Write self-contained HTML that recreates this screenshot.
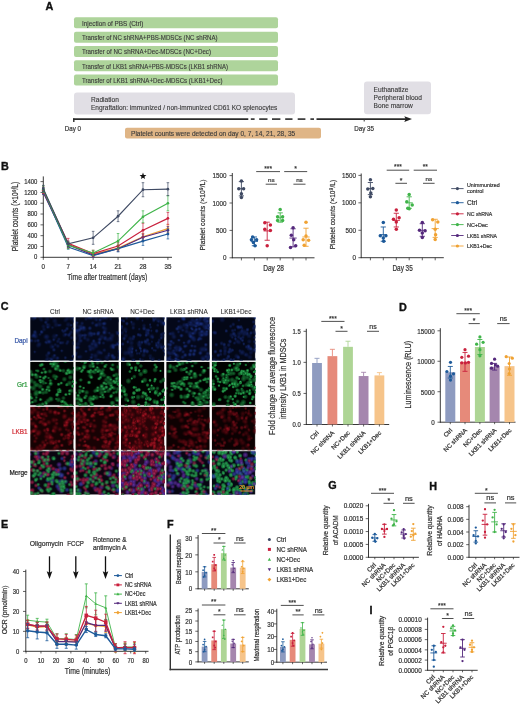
<!DOCTYPE html>
<html><head><meta charset="utf-8"><style>
html,body{margin:0;padding:0;background:#fff;width:520px;height:706px;overflow:hidden;}
svg{display:block;font-family:"Liberation Sans", sans-serif;will-change:transform;filter:blur(0.3px);}
</style></head><body>
<svg width="520" height="706" viewBox="0 0 520 706" font-family='"Liberation Sans", sans-serif'><defs><filter id="bl" x="-5%" y="-5%" width="110%" height="110%"><feGaussianBlur stdDeviation="0.5"/></filter><radialGradient id="db"><stop offset="0" stop-color="#2440a0"/><stop offset="0.55" stop-color="#13266a"/><stop offset="1" stop-color="#13266a" stop-opacity="0"/></radialGradient><radialGradient id="dd"><stop offset="0" stop-color="#182e7c"/><stop offset="0.55" stop-color="#0d1a4c"/><stop offset="1" stop-color="#0d1a4c" stop-opacity="0"/></radialGradient><radialGradient id="gb"><stop offset="0" stop-color="#40c46c"/><stop offset="0.55" stop-color="#178038"/><stop offset="1" stop-color="#178038" stop-opacity="0"/></radialGradient><radialGradient id="gd"><stop offset="0" stop-color="#25984c"/><stop offset="0.55" stop-color="#0d5e26"/><stop offset="1" stop-color="#0d5e26" stop-opacity="0"/></radialGradient><radialGradient id="rb"><stop offset="0" stop-color="#c01c2c"/><stop offset="0.55" stop-color="#780a16"/><stop offset="1" stop-color="#780a16" stop-opacity="0"/></radialGradient><radialGradient id="rd"><stop offset="0" stop-color="#8c0e1a"/><stop offset="0.55" stop-color="#4a050c"/><stop offset="1" stop-color="#4a050c" stop-opacity="0"/></radialGradient><radialGradient id="mp"><stop offset="0" stop-color="#7a3cb8"/><stop offset="0.55" stop-color="#44207e"/><stop offset="1" stop-color="#44207e" stop-opacity="0"/></radialGradient><radialGradient id="mr"><stop offset="0" stop-color="#c02a5a"/><stop offset="0.55" stop-color="#781236"/><stop offset="1" stop-color="#781236" stop-opacity="0"/></radialGradient><radialGradient id="mg"><stop offset="0" stop-color="#3cb86a"/><stop offset="0.55" stop-color="#18803c"/><stop offset="1" stop-color="#18803c" stop-opacity="0"/></radialGradient><radialGradient id="mb"><stop offset="0" stop-color="#4050b8"/><stop offset="0.55" stop-color="#222c84"/><stop offset="1" stop-color="#222c84" stop-opacity="0"/></radialGradient><clipPath id="cp11"><rect x="0" y="0" width="43.2" height="43.3"/></clipPath><clipPath id="cp12"><rect x="0" y="0" width="43.2" height="43.3"/></clipPath><clipPath id="cp13"><rect x="0" y="0" width="43.2" height="43.3"/></clipPath><clipPath id="cp14"><rect x="0" y="0" width="43.2" height="43.3"/></clipPath><clipPath id="cp15"><rect x="0" y="0" width="43.2" height="43.3"/></clipPath><clipPath id="cp21"><rect x="0" y="0" width="43.2" height="43.3"/></clipPath><clipPath id="cp22"><rect x="0" y="0" width="43.2" height="43.3"/></clipPath><clipPath id="cp23"><rect x="0" y="0" width="43.2" height="43.3"/></clipPath><clipPath id="cp24"><rect x="0" y="0" width="43.2" height="43.3"/></clipPath><clipPath id="cp25"><rect x="0" y="0" width="43.2" height="43.3"/></clipPath><clipPath id="cp31"><rect x="0" y="0" width="43.2" height="43.3"/></clipPath><clipPath id="cp32"><rect x="0" y="0" width="43.2" height="43.3"/></clipPath><clipPath id="cp33"><rect x="0" y="0" width="43.2" height="43.3"/></clipPath><clipPath id="cp34"><rect x="0" y="0" width="43.2" height="43.3"/></clipPath><clipPath id="cp35"><rect x="0" y="0" width="43.2" height="43.3"/></clipPath><clipPath id="cp41"><rect x="0" y="0" width="43.2" height="43.3"/></clipPath><clipPath id="cp42"><rect x="0" y="0" width="43.2" height="43.3"/></clipPath><clipPath id="cp43"><rect x="0" y="0" width="43.2" height="43.3"/></clipPath><clipPath id="cp44"><rect x="0" y="0" width="43.2" height="43.3"/></clipPath><clipPath id="cp45"><rect x="0" y="0" width="43.2" height="43.3"/></clipPath></defs>
<text x="45.60" y="9.80" font-size="10.80" stroke="#111" stroke-width="0.35" fill="#111" font-weight="bold">A</text>
<rect x="74.00" y="17.30" width="204.00" height="11.00" fill="#aed49b" rx="2"/>
<text x="82.00" y="25.70" font-size="6.60" stroke="#3a3a3a" stroke-width="0.12" fill="#3a3a3a" textLength="61.30" lengthAdjust="spacingAndGlyphs">Injection of PBS (Ctrl)</text>
<rect x="74.00" y="31.70" width="204.00" height="11.00" fill="#aed49b" rx="2"/>
<text x="82.00" y="40.10" font-size="6.60" stroke="#3a3a3a" stroke-width="0.12" fill="#3a3a3a" textLength="135.60" lengthAdjust="spacingAndGlyphs">Transfer of NC shRNA+PBS-MDSCs (NC shRNA)</text>
<rect x="74.00" y="46.00" width="204.00" height="11.00" fill="#aed49b" rx="2"/>
<text x="82.00" y="54.40" font-size="6.60" stroke="#3a3a3a" stroke-width="0.12" fill="#3a3a3a" textLength="129.00" lengthAdjust="spacingAndGlyphs">Transfer of NC shRNA+Dec-MDSCs (NC+Dec)</text>
<rect x="74.00" y="60.30" width="204.00" height="11.00" fill="#aed49b" rx="2"/>
<text x="82.00" y="68.70" font-size="6.60" stroke="#3a3a3a" stroke-width="0.12" fill="#3a3a3a" textLength="146.00" lengthAdjust="spacingAndGlyphs">Transfer of LKB1 shRNA+PBS-MDSCs (LKB1 shRNA)</text>
<rect x="74.00" y="74.60" width="204.00" height="11.00" fill="#aed49b" rx="2"/>
<text x="82.00" y="83.00" font-size="6.60" stroke="#3a3a3a" stroke-width="0.12" fill="#3a3a3a" textLength="140.50" lengthAdjust="spacingAndGlyphs">Transfer of LKB1 shRNA+Dec-MDSCs (LKB1+Dec)</text>
<rect x="74.00" y="92.50" width="221.00" height="21.90" fill="#e1dfe5" rx="3"/>
<text x="91.00" y="101.50" font-size="6.60" stroke="#3a3a3a" stroke-width="0.12" fill="#3a3a3a">Radiation</text>
<text x="91.00" y="109.60" font-size="6.60" stroke="#3a3a3a" stroke-width="0.12" fill="#3a3a3a" textLength="186.40" lengthAdjust="spacingAndGlyphs">Engraftation: immunized / non-immunized CD61 KO splenocytes</text>
<rect x="364.00" y="81.50" width="67.00" height="32.80" fill="#e1dfe5" rx="3"/>
<text x="373.60" y="92.20" font-size="6.60" stroke="#3a3a3a" stroke-width="0.12" fill="#3a3a3a">Euthanatize</text>
<text x="373.60" y="99.90" font-size="6.60" stroke="#3a3a3a" stroke-width="0.12" fill="#3a3a3a" textLength="48.40" lengthAdjust="spacingAndGlyphs">Peripheral blood</text>
<text x="373.60" y="107.50" font-size="6.60" stroke="#3a3a3a" stroke-width="0.12" fill="#3a3a3a">Bone marrow</text>
<line x1="73.00" y1="119.10" x2="248.30" y2="119.10" stroke="#2a2a2a" stroke-width="1.6"/>
<line x1="250.80" y1="119.10" x2="254.60" y2="119.10" stroke="#2a2a2a" stroke-width="1.6"/>
<line x1="259.20" y1="119.10" x2="267.50" y2="119.10" stroke="#2a2a2a" stroke-width="1.6"/>
<line x1="272.00" y1="119.10" x2="280.40" y2="119.10" stroke="#2a2a2a" stroke-width="1.6"/>
<line x1="285.20" y1="119.10" x2="292.50" y2="119.10" stroke="#2a2a2a" stroke-width="1.6"/>
<line x1="297.70" y1="119.10" x2="305.40" y2="119.10" stroke="#2a2a2a" stroke-width="1.6"/>
<line x1="310.40" y1="119.10" x2="314.00" y2="119.10" stroke="#2a2a2a" stroke-width="1.6"/>
<line x1="316.50" y1="119.10" x2="406.00" y2="119.10" stroke="#2a2a2a" stroke-width="1.6"/>
<path d="M404.3,116.2 L412,119.1 L404.3,122 L405.6,119.1Z" fill="#222"/>
<line x1="73.80" y1="118.50" x2="73.80" y2="122.00" stroke="#2a2a2a" stroke-width="1.4"/>
<line x1="364.20" y1="119.00" x2="364.20" y2="121.50" stroke="#333" stroke-width="1.0"/>
<text x="64.80" y="130.80" font-size="7.00" stroke="#333" stroke-width="0.2" fill="#333" textLength="16.20" lengthAdjust="spacingAndGlyphs">Day 0</text>
<text x="354.20" y="130.60" font-size="7.00" stroke="#333" stroke-width="0.2" fill="#333" textLength="19.80" lengthAdjust="spacingAndGlyphs">Day 35</text>
<rect x="125.00" y="127.70" width="196.00" height="10.80" fill="#dfb586" rx="2"/>
<text x="131.00" y="135.50" font-size="6.60" stroke="#3a3a3a" stroke-width="0.12" fill="#3a3a3a" textLength="164.20" lengthAdjust="spacingAndGlyphs">Platelet counts were detected on day 0, 7, 14, 21, 28, 35</text>
<text x="1.00" y="170.30" font-size="10.80" stroke="#111" stroke-width="0.35" fill="#111" font-weight="bold">B</text>
<line x1="43.30" y1="176.40" x2="43.30" y2="257.70" stroke="#222" stroke-width="0.9"/>
<line x1="42.90" y1="257.30" x2="172.00" y2="257.30" stroke="#222" stroke-width="0.9"/>
<line x1="40.50" y1="257.30" x2="43.30" y2="257.30" stroke="#222" stroke-width="0.7"/>
<text x="37.40" y="259.48" font-size="7.44" stroke="#333" stroke-width="0.22" text-anchor="end" fill="#333" textLength="3.31" lengthAdjust="spacingAndGlyphs">0</text>
<line x1="40.50" y1="246.49" x2="43.30" y2="246.49" stroke="#222" stroke-width="0.7"/>
<text x="37.40" y="248.66" font-size="7.44" stroke="#333" stroke-width="0.22" text-anchor="end" fill="#333" textLength="9.93" lengthAdjust="spacingAndGlyphs">200</text>
<line x1="40.50" y1="235.67" x2="43.30" y2="235.67" stroke="#222" stroke-width="0.7"/>
<text x="37.40" y="237.85" font-size="7.44" stroke="#333" stroke-width="0.22" text-anchor="end" fill="#333" textLength="9.93" lengthAdjust="spacingAndGlyphs">400</text>
<line x1="40.50" y1="224.86" x2="43.30" y2="224.86" stroke="#222" stroke-width="0.7"/>
<text x="37.40" y="227.03" font-size="7.44" stroke="#333" stroke-width="0.22" text-anchor="end" fill="#333" textLength="9.93" lengthAdjust="spacingAndGlyphs">600</text>
<line x1="40.50" y1="214.04" x2="43.30" y2="214.04" stroke="#222" stroke-width="0.7"/>
<text x="37.40" y="216.22" font-size="7.44" stroke="#333" stroke-width="0.22" text-anchor="end" fill="#333" textLength="9.93" lengthAdjust="spacingAndGlyphs">800</text>
<line x1="40.50" y1="203.23" x2="43.30" y2="203.23" stroke="#222" stroke-width="0.7"/>
<text x="37.40" y="205.41" font-size="7.44" stroke="#333" stroke-width="0.22" text-anchor="end" fill="#333" textLength="13.24" lengthAdjust="spacingAndGlyphs">1000</text>
<line x1="40.50" y1="192.41" x2="43.30" y2="192.41" stroke="#222" stroke-width="0.7"/>
<text x="37.40" y="194.59" font-size="7.44" stroke="#333" stroke-width="0.22" text-anchor="end" fill="#333" textLength="13.24" lengthAdjust="spacingAndGlyphs">1200</text>
<line x1="40.50" y1="181.60" x2="43.30" y2="181.60" stroke="#222" stroke-width="0.7"/>
<text x="37.40" y="183.78" font-size="7.44" stroke="#333" stroke-width="0.22" text-anchor="end" fill="#333" textLength="13.24" lengthAdjust="spacingAndGlyphs">1400</text>
<line x1="43.30" y1="257.30" x2="43.30" y2="259.90" stroke="#222" stroke-width="0.7"/>
<text x="43.30" y="269.30" font-size="7.44" stroke="#333" stroke-width="0.22" text-anchor="middle" fill="#333" textLength="3.45" lengthAdjust="spacingAndGlyphs">0</text>
<line x1="68.22" y1="257.30" x2="68.22" y2="259.90" stroke="#222" stroke-width="0.7"/>
<text x="68.22" y="269.30" font-size="7.44" stroke="#333" stroke-width="0.22" text-anchor="middle" fill="#333" textLength="3.45" lengthAdjust="spacingAndGlyphs">7</text>
<line x1="93.14" y1="257.30" x2="93.14" y2="259.90" stroke="#222" stroke-width="0.7"/>
<text x="93.14" y="269.30" font-size="7.44" stroke="#333" stroke-width="0.22" text-anchor="middle" fill="#333" textLength="6.90" lengthAdjust="spacingAndGlyphs">14</text>
<line x1="118.06" y1="257.30" x2="118.06" y2="259.90" stroke="#222" stroke-width="0.7"/>
<text x="118.06" y="269.30" font-size="7.44" stroke="#333" stroke-width="0.22" text-anchor="middle" fill="#333" textLength="6.90" lengthAdjust="spacingAndGlyphs">21</text>
<line x1="142.98" y1="257.30" x2="142.98" y2="259.90" stroke="#222" stroke-width="0.7"/>
<text x="142.98" y="269.30" font-size="7.44" stroke="#333" stroke-width="0.22" text-anchor="middle" fill="#333" textLength="6.90" lengthAdjust="spacingAndGlyphs">28</text>
<line x1="167.90" y1="257.30" x2="167.90" y2="259.90" stroke="#222" stroke-width="0.7"/>
<text x="167.90" y="269.30" font-size="7.44" stroke="#333" stroke-width="0.22" text-anchor="middle" fill="#333" textLength="6.90" lengthAdjust="spacingAndGlyphs">35</text>
<text x="107.30" y="280.40" font-size="8.80" stroke="#333" stroke-width="0.22" text-anchor="middle" fill="#333" textLength="80.00" lengthAdjust="spacingAndGlyphs">Time after treatment (days)</text>
<text x="17.60" y="216.50" font-size="8.20" stroke="#333" stroke-width="0.22" text-anchor="middle" fill="#333" transform="rotate(-90 17.60 216.50)" textLength="69.50" lengthAdjust="spacingAndGlyphs">Platelet counts (×10⁹/L)</text>
<path d="M143.00,172.60 L143.89,174.98 L146.42,175.09 L144.44,176.67 L145.12,179.11 L143.00,177.71 L140.88,179.11 L141.56,176.67 L139.58,175.09 L142.11,174.98Z" fill="#111"/>
<line x1="43.30" y1="189.71" x2="43.30" y2="194.04" stroke="#f0a233" stroke-width="0.7"/>
<line x1="42.00" y1="189.71" x2="44.60" y2="189.71" stroke="#f0a233" stroke-width="0.7"/>
<line x1="42.00" y1="194.04" x2="44.60" y2="194.04" stroke="#f0a233" stroke-width="0.7"/>
<line x1="68.22" y1="242.16" x2="68.22" y2="246.49" stroke="#f0a233" stroke-width="0.7"/>
<line x1="66.92" y1="242.16" x2="69.52" y2="242.16" stroke="#f0a233" stroke-width="0.7"/>
<line x1="66.92" y1="246.49" x2="69.52" y2="246.49" stroke="#f0a233" stroke-width="0.7"/>
<line x1="93.14" y1="251.89" x2="93.14" y2="256.22" stroke="#f0a233" stroke-width="0.7"/>
<line x1="91.84" y1="251.89" x2="94.44" y2="251.89" stroke="#f0a233" stroke-width="0.7"/>
<line x1="91.84" y1="256.22" x2="94.44" y2="256.22" stroke="#f0a233" stroke-width="0.7"/>
<line x1="118.06" y1="245.40" x2="118.06" y2="250.81" stroke="#f0a233" stroke-width="0.7"/>
<line x1="116.76" y1="245.40" x2="119.36" y2="245.40" stroke="#f0a233" stroke-width="0.7"/>
<line x1="116.76" y1="250.81" x2="119.36" y2="250.81" stroke="#f0a233" stroke-width="0.7"/>
<line x1="142.98" y1="233.51" x2="142.98" y2="240.00" stroke="#f0a233" stroke-width="0.7"/>
<line x1="141.68" y1="233.51" x2="144.28" y2="233.51" stroke="#f0a233" stroke-width="0.7"/>
<line x1="141.68" y1="240.00" x2="144.28" y2="240.00" stroke="#f0a233" stroke-width="0.7"/>
<line x1="167.90" y1="224.86" x2="167.90" y2="232.43" stroke="#f0a233" stroke-width="0.7"/>
<line x1="166.60" y1="224.86" x2="169.20" y2="224.86" stroke="#f0a233" stroke-width="0.7"/>
<line x1="166.60" y1="232.43" x2="169.20" y2="232.43" stroke="#f0a233" stroke-width="0.7"/>
<polyline points="43.30,191.87 68.22,244.32 93.14,254.06 118.06,248.11 142.98,236.75 167.90,228.64" fill="none" stroke="#f0a233" stroke-width="1.15"/>
<circle cx="43.30" cy="191.87" r="1.35" fill="#f0a233"/>
<circle cx="68.22" cy="244.32" r="1.35" fill="#f0a233"/>
<circle cx="93.14" cy="254.06" r="1.35" fill="#f0a233"/>
<circle cx="118.06" cy="248.11" r="1.35" fill="#f0a233"/>
<circle cx="142.98" cy="236.75" r="1.35" fill="#f0a233"/>
<circle cx="167.90" cy="228.64" r="1.35" fill="#f0a233"/>
<line x1="43.30" y1="190.25" x2="43.30" y2="194.58" stroke="#54287c" stroke-width="0.7"/>
<line x1="42.00" y1="190.25" x2="44.60" y2="190.25" stroke="#54287c" stroke-width="0.7"/>
<line x1="42.00" y1="194.58" x2="44.60" y2="194.58" stroke="#54287c" stroke-width="0.7"/>
<line x1="68.22" y1="242.70" x2="68.22" y2="247.03" stroke="#54287c" stroke-width="0.7"/>
<line x1="66.92" y1="242.70" x2="69.52" y2="242.70" stroke="#54287c" stroke-width="0.7"/>
<line x1="66.92" y1="247.03" x2="69.52" y2="247.03" stroke="#54287c" stroke-width="0.7"/>
<line x1="93.14" y1="252.97" x2="93.14" y2="257.30" stroke="#54287c" stroke-width="0.7"/>
<line x1="91.84" y1="252.97" x2="94.44" y2="252.97" stroke="#54287c" stroke-width="0.7"/>
<line x1="91.84" y1="257.30" x2="94.44" y2="257.30" stroke="#54287c" stroke-width="0.7"/>
<line x1="118.06" y1="245.95" x2="118.06" y2="251.35" stroke="#54287c" stroke-width="0.7"/>
<line x1="116.76" y1="245.95" x2="119.36" y2="245.95" stroke="#54287c" stroke-width="0.7"/>
<line x1="116.76" y1="251.35" x2="119.36" y2="251.35" stroke="#54287c" stroke-width="0.7"/>
<line x1="142.98" y1="234.05" x2="142.98" y2="240.54" stroke="#54287c" stroke-width="0.7"/>
<line x1="141.68" y1="234.05" x2="144.28" y2="234.05" stroke="#54287c" stroke-width="0.7"/>
<line x1="141.68" y1="240.54" x2="144.28" y2="240.54" stroke="#54287c" stroke-width="0.7"/>
<line x1="167.90" y1="226.48" x2="167.90" y2="234.05" stroke="#54287c" stroke-width="0.7"/>
<line x1="166.60" y1="226.48" x2="169.20" y2="226.48" stroke="#54287c" stroke-width="0.7"/>
<line x1="166.60" y1="234.05" x2="169.20" y2="234.05" stroke="#54287c" stroke-width="0.7"/>
<polyline points="43.30,192.41 68.22,244.86 93.14,255.14 118.06,248.65 142.98,237.29 167.90,230.26" fill="none" stroke="#54287c" stroke-width="1.15"/>
<circle cx="43.30" cy="192.41" r="1.35" fill="#54287c"/>
<circle cx="68.22" cy="244.86" r="1.35" fill="#54287c"/>
<circle cx="93.14" cy="255.14" r="1.35" fill="#54287c"/>
<circle cx="118.06" cy="248.65" r="1.35" fill="#54287c"/>
<circle cx="142.98" cy="237.29" r="1.35" fill="#54287c"/>
<circle cx="167.90" cy="230.26" r="1.35" fill="#54287c"/>
<line x1="43.30" y1="187.55" x2="43.30" y2="194.04" stroke="#1d5a9a" stroke-width="0.7"/>
<line x1="42.00" y1="187.55" x2="44.60" y2="187.55" stroke="#1d5a9a" stroke-width="0.7"/>
<line x1="42.00" y1="194.04" x2="44.60" y2="194.04" stroke="#1d5a9a" stroke-width="0.7"/>
<line x1="68.22" y1="244.86" x2="68.22" y2="249.19" stroke="#1d5a9a" stroke-width="0.7"/>
<line x1="66.92" y1="244.86" x2="69.52" y2="244.86" stroke="#1d5a9a" stroke-width="0.7"/>
<line x1="66.92" y1="249.19" x2="69.52" y2="249.19" stroke="#1d5a9a" stroke-width="0.7"/>
<line x1="93.14" y1="254.06" x2="93.14" y2="257.30" stroke="#1d5a9a" stroke-width="0.7"/>
<line x1="91.84" y1="254.06" x2="94.44" y2="254.06" stroke="#1d5a9a" stroke-width="0.7"/>
<line x1="91.84" y1="257.30" x2="94.44" y2="257.30" stroke="#1d5a9a" stroke-width="0.7"/>
<line x1="118.06" y1="245.40" x2="118.06" y2="251.89" stroke="#1d5a9a" stroke-width="0.7"/>
<line x1="116.76" y1="245.40" x2="119.36" y2="245.40" stroke="#1d5a9a" stroke-width="0.7"/>
<line x1="116.76" y1="251.89" x2="119.36" y2="251.89" stroke="#1d5a9a" stroke-width="0.7"/>
<line x1="142.98" y1="236.75" x2="142.98" y2="245.40" stroke="#1d5a9a" stroke-width="0.7"/>
<line x1="141.68" y1="236.75" x2="144.28" y2="236.75" stroke="#1d5a9a" stroke-width="0.7"/>
<line x1="141.68" y1="245.40" x2="144.28" y2="245.40" stroke="#1d5a9a" stroke-width="0.7"/>
<line x1="167.90" y1="229.18" x2="167.90" y2="238.92" stroke="#1d5a9a" stroke-width="0.7"/>
<line x1="166.60" y1="229.18" x2="169.20" y2="229.18" stroke="#1d5a9a" stroke-width="0.7"/>
<line x1="166.60" y1="238.92" x2="169.20" y2="238.92" stroke="#1d5a9a" stroke-width="0.7"/>
<polyline points="43.30,190.79 68.22,247.03 93.14,255.68 118.06,248.65 142.98,241.08 167.90,234.05" fill="none" stroke="#1d5a9a" stroke-width="1.15"/>
<circle cx="43.30" cy="190.79" r="1.35" fill="#1d5a9a"/>
<circle cx="68.22" cy="247.03" r="1.35" fill="#1d5a9a"/>
<circle cx="93.14" cy="255.68" r="1.35" fill="#1d5a9a"/>
<circle cx="118.06" cy="248.65" r="1.35" fill="#1d5a9a"/>
<circle cx="142.98" cy="241.08" r="1.35" fill="#1d5a9a"/>
<circle cx="167.90" cy="234.05" r="1.35" fill="#1d5a9a"/>
<line x1="43.30" y1="187.01" x2="43.30" y2="193.50" stroke="#c9203d" stroke-width="0.7"/>
<line x1="42.00" y1="187.01" x2="44.60" y2="187.01" stroke="#c9203d" stroke-width="0.7"/>
<line x1="42.00" y1="193.50" x2="44.60" y2="193.50" stroke="#c9203d" stroke-width="0.7"/>
<line x1="68.22" y1="238.38" x2="68.22" y2="248.11" stroke="#c9203d" stroke-width="0.7"/>
<line x1="66.92" y1="238.38" x2="69.52" y2="238.38" stroke="#c9203d" stroke-width="0.7"/>
<line x1="66.92" y1="248.11" x2="69.52" y2="248.11" stroke="#c9203d" stroke-width="0.7"/>
<line x1="93.14" y1="250.27" x2="93.14" y2="256.76" stroke="#c9203d" stroke-width="0.7"/>
<line x1="91.84" y1="250.27" x2="94.44" y2="250.27" stroke="#c9203d" stroke-width="0.7"/>
<line x1="91.84" y1="256.76" x2="94.44" y2="256.76" stroke="#c9203d" stroke-width="0.7"/>
<line x1="118.06" y1="242.70" x2="118.06" y2="249.19" stroke="#c9203d" stroke-width="0.7"/>
<line x1="116.76" y1="242.70" x2="119.36" y2="242.70" stroke="#c9203d" stroke-width="0.7"/>
<line x1="116.76" y1="249.19" x2="119.36" y2="249.19" stroke="#c9203d" stroke-width="0.7"/>
<line x1="142.98" y1="223.24" x2="142.98" y2="237.29" stroke="#c9203d" stroke-width="0.7"/>
<line x1="141.68" y1="223.24" x2="144.28" y2="223.24" stroke="#c9203d" stroke-width="0.7"/>
<line x1="141.68" y1="237.29" x2="144.28" y2="237.29" stroke="#c9203d" stroke-width="0.7"/>
<line x1="167.90" y1="212.42" x2="167.90" y2="224.32" stroke="#c9203d" stroke-width="0.7"/>
<line x1="166.60" y1="212.42" x2="169.20" y2="212.42" stroke="#c9203d" stroke-width="0.7"/>
<line x1="166.60" y1="224.32" x2="169.20" y2="224.32" stroke="#c9203d" stroke-width="0.7"/>
<polyline points="43.30,190.25 68.22,243.24 93.14,253.52 118.06,245.95 142.98,230.26 167.90,218.37" fill="none" stroke="#c9203d" stroke-width="1.15"/>
<circle cx="43.30" cy="190.25" r="1.35" fill="#c9203d"/>
<circle cx="68.22" cy="243.24" r="1.35" fill="#c9203d"/>
<circle cx="93.14" cy="253.52" r="1.35" fill="#c9203d"/>
<circle cx="118.06" cy="245.95" r="1.35" fill="#c9203d"/>
<circle cx="142.98" cy="230.26" r="1.35" fill="#c9203d"/>
<circle cx="167.90" cy="218.37" r="1.35" fill="#c9203d"/>
<line x1="43.30" y1="185.93" x2="43.30" y2="192.41" stroke="#3fb449" stroke-width="0.7"/>
<line x1="42.00" y1="185.93" x2="44.60" y2="185.93" stroke="#3fb449" stroke-width="0.7"/>
<line x1="42.00" y1="192.41" x2="44.60" y2="192.41" stroke="#3fb449" stroke-width="0.7"/>
<line x1="68.22" y1="242.16" x2="68.22" y2="248.65" stroke="#3fb449" stroke-width="0.7"/>
<line x1="66.92" y1="242.16" x2="69.52" y2="242.16" stroke="#3fb449" stroke-width="0.7"/>
<line x1="66.92" y1="248.65" x2="69.52" y2="248.65" stroke="#3fb449" stroke-width="0.7"/>
<line x1="93.14" y1="250.27" x2="93.14" y2="255.68" stroke="#3fb449" stroke-width="0.7"/>
<line x1="91.84" y1="250.27" x2="94.44" y2="250.27" stroke="#3fb449" stroke-width="0.7"/>
<line x1="91.84" y1="255.68" x2="94.44" y2="255.68" stroke="#3fb449" stroke-width="0.7"/>
<line x1="118.06" y1="233.51" x2="118.06" y2="248.65" stroke="#3fb449" stroke-width="0.7"/>
<line x1="116.76" y1="233.51" x2="119.36" y2="233.51" stroke="#3fb449" stroke-width="0.7"/>
<line x1="116.76" y1="248.65" x2="119.36" y2="248.65" stroke="#3fb449" stroke-width="0.7"/>
<line x1="142.98" y1="210.80" x2="142.98" y2="222.69" stroke="#3fb449" stroke-width="0.7"/>
<line x1="141.68" y1="210.80" x2="144.28" y2="210.80" stroke="#3fb449" stroke-width="0.7"/>
<line x1="141.68" y1="222.69" x2="144.28" y2="222.69" stroke="#3fb449" stroke-width="0.7"/>
<line x1="167.90" y1="195.66" x2="167.90" y2="210.80" stroke="#3fb449" stroke-width="0.7"/>
<line x1="166.60" y1="195.66" x2="169.20" y2="195.66" stroke="#3fb449" stroke-width="0.7"/>
<line x1="166.60" y1="210.80" x2="169.20" y2="210.80" stroke="#3fb449" stroke-width="0.7"/>
<polyline points="43.30,189.17 68.22,245.40 93.14,252.97 118.06,241.08 142.98,216.75 167.90,203.23" fill="none" stroke="#3fb449" stroke-width="1.15"/>
<circle cx="43.30" cy="189.17" r="1.35" fill="#3fb449"/>
<circle cx="68.22" cy="245.40" r="1.35" fill="#3fb449"/>
<circle cx="93.14" cy="252.97" r="1.35" fill="#3fb449"/>
<circle cx="118.06" cy="241.08" r="1.35" fill="#3fb449"/>
<circle cx="142.98" cy="216.75" r="1.35" fill="#3fb449"/>
<circle cx="167.90" cy="203.23" r="1.35" fill="#3fb449"/>
<line x1="43.30" y1="185.38" x2="43.30" y2="191.87" stroke="#3f4a63" stroke-width="0.7"/>
<line x1="42.00" y1="185.38" x2="44.60" y2="185.38" stroke="#3f4a63" stroke-width="0.7"/>
<line x1="42.00" y1="191.87" x2="44.60" y2="191.87" stroke="#3f4a63" stroke-width="0.7"/>
<line x1="68.22" y1="241.08" x2="68.22" y2="246.49" stroke="#3f4a63" stroke-width="0.7"/>
<line x1="66.92" y1="241.08" x2="69.52" y2="241.08" stroke="#3f4a63" stroke-width="0.7"/>
<line x1="66.92" y1="246.49" x2="69.52" y2="246.49" stroke="#3f4a63" stroke-width="0.7"/>
<line x1="93.14" y1="231.35" x2="93.14" y2="244.32" stroke="#3f4a63" stroke-width="0.7"/>
<line x1="91.84" y1="231.35" x2="94.44" y2="231.35" stroke="#3f4a63" stroke-width="0.7"/>
<line x1="91.84" y1="244.32" x2="94.44" y2="244.32" stroke="#3f4a63" stroke-width="0.7"/>
<line x1="118.06" y1="210.80" x2="118.06" y2="221.61" stroke="#3f4a63" stroke-width="0.7"/>
<line x1="116.76" y1="210.80" x2="119.36" y2="210.80" stroke="#3f4a63" stroke-width="0.7"/>
<line x1="116.76" y1="221.61" x2="119.36" y2="221.61" stroke="#3f4a63" stroke-width="0.7"/>
<line x1="142.98" y1="182.68" x2="142.98" y2="196.74" stroke="#3f4a63" stroke-width="0.7"/>
<line x1="141.68" y1="182.68" x2="144.28" y2="182.68" stroke="#3f4a63" stroke-width="0.7"/>
<line x1="141.68" y1="196.74" x2="144.28" y2="196.74" stroke="#3f4a63" stroke-width="0.7"/>
<line x1="167.90" y1="182.68" x2="167.90" y2="195.66" stroke="#3f4a63" stroke-width="0.7"/>
<line x1="166.60" y1="182.68" x2="169.20" y2="182.68" stroke="#3f4a63" stroke-width="0.7"/>
<line x1="166.60" y1="195.66" x2="169.20" y2="195.66" stroke="#3f4a63" stroke-width="0.7"/>
<polyline points="43.30,188.63 68.22,243.78 93.14,237.83 118.06,216.21 142.98,189.71 167.90,189.17" fill="none" stroke="#3f4a63" stroke-width="1.15"/>
<circle cx="43.30" cy="188.63" r="1.35" fill="#3f4a63"/>
<circle cx="68.22" cy="243.78" r="1.35" fill="#3f4a63"/>
<circle cx="93.14" cy="237.83" r="1.35" fill="#3f4a63"/>
<circle cx="118.06" cy="216.21" r="1.35" fill="#3f4a63"/>
<circle cx="142.98" cy="189.71" r="1.35" fill="#3f4a63"/>
<circle cx="167.90" cy="189.17" r="1.35" fill="#3f4a63"/>
<line x1="232.30" y1="173.00" x2="232.30" y2="258.20" stroke="#222" stroke-width="0.9"/>
<line x1="231.90" y1="257.80" x2="314.50" y2="257.80" stroke="#222" stroke-width="0.9"/>
<line x1="229.50" y1="257.80" x2="232.30" y2="257.80" stroke="#222" stroke-width="0.7"/>
<text x="226.50" y="260.33" font-size="7.88" stroke="#333" stroke-width="0.22" text-anchor="end" fill="#333" textLength="3.50" lengthAdjust="spacingAndGlyphs">0</text>
<line x1="229.50" y1="230.40" x2="232.30" y2="230.40" stroke="#222" stroke-width="0.7"/>
<text x="226.50" y="232.94" font-size="7.88" stroke="#333" stroke-width="0.22" text-anchor="end" fill="#333" textLength="10.51" lengthAdjust="spacingAndGlyphs">500</text>
<line x1="229.50" y1="203.00" x2="232.30" y2="203.00" stroke="#222" stroke-width="0.7"/>
<text x="226.50" y="205.53" font-size="7.88" stroke="#333" stroke-width="0.22" text-anchor="end" fill="#333" textLength="14.01" lengthAdjust="spacingAndGlyphs">1000</text>
<line x1="229.50" y1="175.60" x2="232.30" y2="175.60" stroke="#222" stroke-width="0.7"/>
<text x="226.50" y="178.13" font-size="7.88" stroke="#333" stroke-width="0.22" text-anchor="end" fill="#333" textLength="14.01" lengthAdjust="spacingAndGlyphs">1500</text>
<line x1="241.40" y1="257.80" x2="241.40" y2="260.40" stroke="#222" stroke-width="0.7"/>
<line x1="254.40" y1="257.80" x2="254.40" y2="260.40" stroke="#222" stroke-width="0.7"/>
<line x1="267.20" y1="257.80" x2="267.20" y2="260.40" stroke="#222" stroke-width="0.7"/>
<line x1="280.20" y1="257.80" x2="280.20" y2="260.40" stroke="#222" stroke-width="0.7"/>
<line x1="293.10" y1="257.80" x2="293.10" y2="260.40" stroke="#222" stroke-width="0.7"/>
<line x1="306.00" y1="257.80" x2="306.00" y2="260.40" stroke="#222" stroke-width="0.7"/>
<circle cx="241.40" cy="181.08" r="1.75" fill="#3f4a63"/>
<circle cx="238.80" cy="188.75" r="1.75" fill="#3f4a63"/>
<circle cx="243.60" cy="188.75" r="1.75" fill="#3f4a63"/>
<circle cx="241.40" cy="193.68" r="1.75" fill="#3f4a63"/>
<circle cx="241.40" cy="197.52" r="1.75" fill="#3f4a63"/>
<line x1="237.80" y1="188.75" x2="245.00" y2="188.75" stroke="#3f4a63" stroke-width="0.9"/>
<line x1="241.40" y1="181.63" x2="241.40" y2="195.88" stroke="#3f4a63" stroke-width="0.9"/>
<line x1="238.80" y1="181.63" x2="244.00" y2="181.63" stroke="#3f4a63" stroke-width="0.9"/>
<line x1="238.80" y1="195.88" x2="244.00" y2="195.88" stroke="#3f4a63" stroke-width="0.9"/>
<circle cx="252.60" cy="236.98" r="1.75" fill="#1d5a9a"/>
<circle cx="251.40" cy="239.72" r="1.75" fill="#1d5a9a"/>
<circle cx="256.60" cy="239.72" r="1.75" fill="#1d5a9a"/>
<circle cx="253.40" cy="242.46" r="1.75" fill="#1d5a9a"/>
<circle cx="255.00" cy="245.74" r="1.75" fill="#1d5a9a"/>
<line x1="250.80" y1="241.36" x2="258.00" y2="241.36" stroke="#1d5a9a" stroke-width="0.9"/>
<line x1="254.40" y1="236.98" x2="254.40" y2="245.74" stroke="#1d5a9a" stroke-width="0.9"/>
<line x1="251.80" y1="236.98" x2="257.00" y2="236.98" stroke="#1d5a9a" stroke-width="0.9"/>
<line x1="251.80" y1="245.74" x2="257.00" y2="245.74" stroke="#1d5a9a" stroke-width="0.9"/>
<circle cx="264.80" cy="222.73" r="1.75" fill="#c9203d"/>
<circle cx="270.40" cy="224.92" r="1.75" fill="#c9203d"/>
<circle cx="264.80" cy="229.30" r="1.75" fill="#c9203d"/>
<circle cx="270.40" cy="230.40" r="1.75" fill="#c9203d"/>
<circle cx="267.20" cy="245.74" r="1.75" fill="#c9203d"/>
<line x1="263.60" y1="230.95" x2="270.80" y2="230.95" stroke="#c9203d" stroke-width="0.9"/>
<line x1="267.20" y1="222.18" x2="267.20" y2="240.26" stroke="#c9203d" stroke-width="0.9"/>
<line x1="264.60" y1="222.18" x2="269.80" y2="222.18" stroke="#c9203d" stroke-width="0.9"/>
<line x1="264.60" y1="240.26" x2="269.80" y2="240.26" stroke="#c9203d" stroke-width="0.9"/>
<circle cx="280.20" cy="209.58" r="1.75" fill="#3fb449"/>
<circle cx="277.60" cy="216.70" r="1.75" fill="#3fb449"/>
<circle cx="282.60" cy="216.70" r="1.75" fill="#3fb449"/>
<circle cx="277.60" cy="220.54" r="1.75" fill="#3fb449"/>
<circle cx="282.60" cy="220.54" r="1.75" fill="#3fb449"/>
<line x1="276.60" y1="217.80" x2="283.80" y2="217.80" stroke="#3fb449" stroke-width="0.9"/>
<line x1="280.20" y1="212.86" x2="280.20" y2="222.18" stroke="#3fb449" stroke-width="0.9"/>
<line x1="277.60" y1="212.86" x2="282.80" y2="212.86" stroke="#3fb449" stroke-width="0.9"/>
<line x1="277.60" y1="222.18" x2="282.80" y2="222.18" stroke="#3fb449" stroke-width="0.9"/>
<circle cx="293.10" cy="227.66" r="1.75" fill="#54287c"/>
<circle cx="291.30" cy="235.33" r="1.75" fill="#54287c"/>
<circle cx="293.70" cy="239.72" r="1.75" fill="#54287c"/>
<circle cx="295.70" cy="245.74" r="1.75" fill="#54287c"/>
<circle cx="290.50" cy="247.39" r="1.75" fill="#54287c"/>
<line x1="289.50" y1="238.07" x2="296.70" y2="238.07" stroke="#54287c" stroke-width="0.9"/>
<line x1="293.10" y1="228.76" x2="293.10" y2="246.84" stroke="#54287c" stroke-width="0.9"/>
<line x1="290.50" y1="228.76" x2="295.70" y2="228.76" stroke="#54287c" stroke-width="0.9"/>
<line x1="290.50" y1="246.84" x2="295.70" y2="246.84" stroke="#54287c" stroke-width="0.9"/>
<circle cx="306.00" cy="222.18" r="1.75" fill="#f0a233"/>
<circle cx="306.00" cy="235.88" r="1.75" fill="#f0a233"/>
<circle cx="303.20" cy="239.72" r="1.75" fill="#f0a233"/>
<circle cx="308.60" cy="240.26" r="1.75" fill="#f0a233"/>
<circle cx="304.20" cy="245.20" r="1.75" fill="#f0a233"/>
<line x1="302.40" y1="236.98" x2="309.60" y2="236.98" stroke="#f0a233" stroke-width="0.9"/>
<line x1="306.00" y1="228.21" x2="306.00" y2="246.29" stroke="#f0a233" stroke-width="0.9"/>
<line x1="303.40" y1="228.21" x2="308.60" y2="228.21" stroke="#f0a233" stroke-width="0.9"/>
<line x1="303.40" y1="246.29" x2="308.60" y2="246.29" stroke="#f0a233" stroke-width="0.9"/>
<text x="273.60" y="271.00" font-size="8.20" stroke="#333" stroke-width="0.22" text-anchor="middle" fill="#333" textLength="20.80" lengthAdjust="spacingAndGlyphs">Day 28</text>
<text x="205.10" y="214.90" font-size="7.80" stroke="#333" stroke-width="0.22" text-anchor="middle" fill="#333" transform="rotate(-90 205.10 214.90)" textLength="71.00" lengthAdjust="spacingAndGlyphs">Platelet counts (×10⁹/L)</text>
<line x1="256.20" y1="171.60" x2="280.00" y2="171.60" stroke="#222" stroke-width="0.8"/>
<text x="268.10" y="170.80" font-size="8.00" stroke="#333" stroke-width="0.22" text-anchor="middle" fill="#333" textLength="7.70" lengthAdjust="spacingAndGlyphs">***</text>
<line x1="284.20" y1="171.60" x2="307.20" y2="171.60" stroke="#222" stroke-width="0.8"/>
<text x="295.70" y="170.80" font-size="8.00" stroke="#333" stroke-width="0.22" text-anchor="middle" fill="#333" textLength="2.70" lengthAdjust="spacingAndGlyphs">*</text>
<line x1="265.70" y1="184.20" x2="277.00" y2="184.20" stroke="#222" stroke-width="0.8"/>
<text x="271.35" y="182.00" font-size="6.20" stroke="#333" stroke-width="0.22" text-anchor="middle" fill="#333">ns</text>
<line x1="293.40" y1="184.20" x2="305.50" y2="184.20" stroke="#222" stroke-width="0.8"/>
<text x="299.45" y="182.00" font-size="6.20" stroke="#333" stroke-width="0.22" text-anchor="middle" fill="#333">ns</text>
<line x1="361.20" y1="173.50" x2="361.20" y2="258.10" stroke="#222" stroke-width="0.9"/>
<line x1="360.80" y1="257.70" x2="443.80" y2="257.70" stroke="#222" stroke-width="0.9"/>
<line x1="358.40" y1="257.70" x2="361.20" y2="257.70" stroke="#222" stroke-width="0.7"/>
<text x="356.00" y="260.23" font-size="7.88" stroke="#333" stroke-width="0.22" text-anchor="end" fill="#333" textLength="3.50" lengthAdjust="spacingAndGlyphs">0</text>
<line x1="358.40" y1="230.27" x2="361.20" y2="230.27" stroke="#222" stroke-width="0.7"/>
<text x="356.00" y="232.80" font-size="7.88" stroke="#333" stroke-width="0.22" text-anchor="end" fill="#333" textLength="10.51" lengthAdjust="spacingAndGlyphs">500</text>
<line x1="358.40" y1="202.83" x2="361.20" y2="202.83" stroke="#222" stroke-width="0.7"/>
<text x="356.00" y="205.37" font-size="7.88" stroke="#333" stroke-width="0.22" text-anchor="end" fill="#333" textLength="14.01" lengthAdjust="spacingAndGlyphs">1000</text>
<line x1="358.40" y1="175.40" x2="361.20" y2="175.40" stroke="#222" stroke-width="0.7"/>
<text x="356.00" y="177.94" font-size="7.88" stroke="#333" stroke-width="0.22" text-anchor="end" fill="#333" textLength="14.01" lengthAdjust="spacingAndGlyphs">1500</text>
<line x1="370.40" y1="257.70" x2="370.40" y2="260.30" stroke="#222" stroke-width="0.7"/>
<line x1="383.30" y1="257.70" x2="383.30" y2="260.30" stroke="#222" stroke-width="0.7"/>
<line x1="396.30" y1="257.70" x2="396.30" y2="260.30" stroke="#222" stroke-width="0.7"/>
<line x1="409.20" y1="257.70" x2="409.20" y2="260.30" stroke="#222" stroke-width="0.7"/>
<line x1="422.30" y1="257.70" x2="422.30" y2="260.30" stroke="#222" stroke-width="0.7"/>
<line x1="435.20" y1="257.70" x2="435.20" y2="260.30" stroke="#222" stroke-width="0.7"/>
<circle cx="370.40" cy="179.79" r="1.75" fill="#3f4a63"/>
<circle cx="367.80" cy="189.12" r="1.75" fill="#3f4a63"/>
<circle cx="372.80" cy="188.57" r="1.75" fill="#3f4a63"/>
<circle cx="370.80" cy="192.96" r="1.75" fill="#3f4a63"/>
<circle cx="370.40" cy="196.80" r="1.75" fill="#3f4a63"/>
<line x1="366.80" y1="188.57" x2="374.00" y2="188.57" stroke="#3f4a63" stroke-width="0.9"/>
<line x1="370.40" y1="182.53" x2="370.40" y2="194.60" stroke="#3f4a63" stroke-width="0.9"/>
<line x1="367.80" y1="182.53" x2="373.00" y2="182.53" stroke="#3f4a63" stroke-width="0.9"/>
<line x1="367.80" y1="194.60" x2="373.00" y2="194.60" stroke="#3f4a63" stroke-width="0.9"/>
<circle cx="383.30" cy="222.59" r="1.75" fill="#1d5a9a"/>
<circle cx="380.30" cy="235.75" r="1.75" fill="#1d5a9a"/>
<circle cx="385.90" cy="235.75" r="1.75" fill="#1d5a9a"/>
<circle cx="383.30" cy="237.95" r="1.75" fill="#1d5a9a"/>
<circle cx="383.70" cy="241.24" r="1.75" fill="#1d5a9a"/>
<line x1="379.70" y1="234.66" x2="386.90" y2="234.66" stroke="#1d5a9a" stroke-width="0.9"/>
<line x1="383.30" y1="226.97" x2="383.30" y2="241.24" stroke="#1d5a9a" stroke-width="0.9"/>
<line x1="380.70" y1="226.97" x2="385.90" y2="226.97" stroke="#1d5a9a" stroke-width="0.9"/>
<line x1="380.70" y1="241.24" x2="385.90" y2="241.24" stroke="#1d5a9a" stroke-width="0.9"/>
<circle cx="396.30" cy="209.97" r="1.75" fill="#c9203d"/>
<circle cx="393.50" cy="219.29" r="1.75" fill="#c9203d"/>
<circle cx="399.10" cy="217.65" r="1.75" fill="#c9203d"/>
<circle cx="396.30" cy="222.04" r="1.75" fill="#c9203d"/>
<circle cx="396.30" cy="229.17" r="1.75" fill="#c9203d"/>
<line x1="392.70" y1="220.39" x2="399.90" y2="220.39" stroke="#c9203d" stroke-width="0.9"/>
<line x1="396.30" y1="213.26" x2="396.30" y2="226.97" stroke="#c9203d" stroke-width="0.9"/>
<line x1="393.70" y1="213.26" x2="398.90" y2="213.26" stroke="#c9203d" stroke-width="0.9"/>
<line x1="393.70" y1="226.97" x2="398.90" y2="226.97" stroke="#c9203d" stroke-width="0.9"/>
<circle cx="409.20" cy="194.60" r="1.75" fill="#3fb449"/>
<circle cx="406.80" cy="201.74" r="1.75" fill="#3fb449"/>
<circle cx="412.20" cy="205.03" r="1.75" fill="#3fb449"/>
<circle cx="407.80" cy="208.32" r="1.75" fill="#3fb449"/>
<circle cx="409.20" cy="208.87" r="1.75" fill="#3fb449"/>
<line x1="405.60" y1="202.83" x2="412.80" y2="202.83" stroke="#3fb449" stroke-width="0.9"/>
<line x1="409.20" y1="196.80" x2="409.20" y2="208.32" stroke="#3fb449" stroke-width="0.9"/>
<line x1="406.60" y1="196.80" x2="411.80" y2="196.80" stroke="#3fb449" stroke-width="0.9"/>
<line x1="406.60" y1="208.32" x2="411.80" y2="208.32" stroke="#3fb449" stroke-width="0.9"/>
<circle cx="422.30" cy="222.59" r="1.75" fill="#54287c"/>
<circle cx="419.50" cy="230.27" r="1.75" fill="#54287c"/>
<circle cx="425.10" cy="230.82" r="1.75" fill="#54287c"/>
<circle cx="422.30" cy="233.01" r="1.75" fill="#54287c"/>
<circle cx="422.30" cy="237.40" r="1.75" fill="#54287c"/>
<line x1="418.70" y1="230.27" x2="425.90" y2="230.27" stroke="#54287c" stroke-width="0.9"/>
<line x1="422.30" y1="223.68" x2="422.30" y2="236.30" stroke="#54287c" stroke-width="0.9"/>
<line x1="419.70" y1="223.68" x2="424.90" y2="223.68" stroke="#54287c" stroke-width="0.9"/>
<line x1="419.70" y1="236.30" x2="424.90" y2="236.30" stroke="#54287c" stroke-width="0.9"/>
<circle cx="432.60" cy="219.84" r="1.75" fill="#f0a233"/>
<circle cx="437.80" cy="222.04" r="1.75" fill="#f0a233"/>
<circle cx="435.20" cy="229.17" r="1.75" fill="#f0a233"/>
<circle cx="435.60" cy="234.66" r="1.75" fill="#f0a233"/>
<circle cx="435.20" cy="239.59" r="1.75" fill="#f0a233"/>
<line x1="431.60" y1="228.62" x2="438.80" y2="228.62" stroke="#f0a233" stroke-width="0.9"/>
<line x1="435.20" y1="219.29" x2="435.20" y2="237.40" stroke="#f0a233" stroke-width="0.9"/>
<line x1="432.60" y1="219.29" x2="437.80" y2="219.29" stroke="#f0a233" stroke-width="0.9"/>
<line x1="432.60" y1="237.40" x2="437.80" y2="237.40" stroke="#f0a233" stroke-width="0.9"/>
<text x="402.60" y="271.00" font-size="8.20" stroke="#333" stroke-width="0.22" text-anchor="middle" fill="#333" textLength="20.30" lengthAdjust="spacingAndGlyphs">Day 35</text>
<text x="335.10" y="214.60" font-size="7.80" stroke="#333" stroke-width="0.22" text-anchor="middle" fill="#333" transform="rotate(-90 335.10 214.60)" textLength="69.50" lengthAdjust="spacingAndGlyphs">Platelet counts (×10⁹/L)</text>
<line x1="386.70" y1="170.20" x2="409.20" y2="170.20" stroke="#222" stroke-width="0.8"/>
<text x="397.95" y="169.40" font-size="8.00" stroke="#333" stroke-width="0.22" text-anchor="middle" fill="#333" textLength="7.70" lengthAdjust="spacingAndGlyphs">***</text>
<line x1="413.70" y1="170.20" x2="437.00" y2="170.20" stroke="#222" stroke-width="0.8"/>
<text x="425.35" y="169.40" font-size="8.00" stroke="#333" stroke-width="0.22" text-anchor="middle" fill="#333" textLength="5.20" lengthAdjust="spacingAndGlyphs">**</text>
<line x1="395.40" y1="183.30" x2="407.00" y2="183.30" stroke="#222" stroke-width="0.8"/>
<text x="401.20" y="182.50" font-size="8.00" stroke="#333" stroke-width="0.22" text-anchor="middle" fill="#333" textLength="2.70" lengthAdjust="spacingAndGlyphs">*</text>
<line x1="423.00" y1="183.30" x2="434.60" y2="183.30" stroke="#222" stroke-width="0.8"/>
<text x="428.80" y="181.10" font-size="6.20" stroke="#333" stroke-width="0.22" text-anchor="middle" fill="#333">ns</text>
<line x1="451.20" y1="188.60" x2="463.60" y2="188.60" stroke="#3f4a63" stroke-width="0.9"/>
<circle cx="457.40" cy="188.60" r="1.6" fill="#3f4a63"/>
<line x1="451.20" y1="202.70" x2="463.60" y2="202.70" stroke="#1d5a9a" stroke-width="0.9"/>
<circle cx="457.40" cy="202.70" r="1.6" fill="#1d5a9a"/>
<line x1="451.20" y1="213.80" x2="463.60" y2="213.80" stroke="#c9203d" stroke-width="0.9"/>
<circle cx="457.40" cy="213.80" r="1.6" fill="#c9203d"/>
<line x1="451.20" y1="224.60" x2="463.60" y2="224.60" stroke="#3fb449" stroke-width="0.9"/>
<circle cx="457.40" cy="224.60" r="1.6" fill="#3fb449"/>
<line x1="451.20" y1="235.50" x2="463.60" y2="235.50" stroke="#54287c" stroke-width="0.9"/>
<circle cx="457.40" cy="235.50" r="1.6" fill="#54287c"/>
<line x1="451.20" y1="246.00" x2="463.60" y2="246.00" stroke="#f0a233" stroke-width="0.9"/>
<circle cx="457.40" cy="246.00" r="1.6" fill="#f0a233"/>
<text x="467.00" y="186.90" font-size="6.00" stroke="#333" stroke-width="0.22" fill="#333" textLength="32.70" lengthAdjust="spacingAndGlyphs">Unimmunized</text>
<text x="467.00" y="193.40" font-size="6.00" stroke="#333" stroke-width="0.22" fill="#333" textLength="16.50" lengthAdjust="spacingAndGlyphs">control</text>
<text x="467.00" y="205.40" font-size="7.60" stroke="#333" stroke-width="0.22" fill="#333" textLength="10.30" lengthAdjust="spacingAndGlyphs">Ctrl</text>
<text x="467.00" y="216.00" font-size="6.00" stroke="#333" stroke-width="0.22" fill="#333" textLength="25.30" lengthAdjust="spacingAndGlyphs">NC shRNA</text>
<text x="467.00" y="226.80" font-size="6.00" stroke="#333" stroke-width="0.22" fill="#333" textLength="20.70" lengthAdjust="spacingAndGlyphs">NC+Dec</text>
<text x="467.00" y="237.70" font-size="6.00" stroke="#333" stroke-width="0.22" fill="#333" textLength="30.00" lengthAdjust="spacingAndGlyphs">LKB1 shRNA</text>
<text x="467.00" y="248.20" font-size="6.00" stroke="#333" stroke-width="0.22" fill="#333" textLength="24.90" lengthAdjust="spacingAndGlyphs">LKB1+Dec</text>
<text x="0.80" y="310.40" font-size="10.80" stroke="#111" stroke-width="0.35" fill="#111" font-weight="bold">C</text>
<text x="55.00" y="313.70" font-size="6.40" stroke="#333" stroke-width="0.1" text-anchor="middle" fill="#333">Ctrl</text>
<text x="98.10" y="313.70" font-size="6.40" stroke="#333" stroke-width="0.1" text-anchor="middle" fill="#333">NC shRNA</text>
<text x="142.30" y="313.70" font-size="6.40" stroke="#333" stroke-width="0.1" text-anchor="middle" fill="#333">NC+Dec</text>
<text x="188.90" y="313.70" font-size="6.40" stroke="#333" stroke-width="0.1" text-anchor="middle" fill="#333">LKB1 shRNA</text>
<text x="236.00" y="313.70" font-size="6.40" stroke="#333" stroke-width="0.1" text-anchor="middle" fill="#333">LKB1+Dec</text>
<text x="27.60" y="343.20" font-size="6.40" stroke="#3a5aa8" stroke-width="0.22" text-anchor="end" fill="#3a5aa8">Dapi</text>
<text x="27.60" y="386.80" font-size="6.40" stroke="#2f9a3f" stroke-width="0.22" text-anchor="end" fill="#2f9a3f">Gr1</text>
<text x="27.60" y="433.90" font-size="6.40" stroke="#d2313a" stroke-width="0.22" text-anchor="end" fill="#d2313a">LKB1</text>
<text x="27.60" y="475.20" font-size="6.40" stroke="#222" stroke-width="0.22" text-anchor="end" fill="#222">Merge</text>
<svg x="30.30" y="317.30" width="43.2" height="43.3" viewBox="0 0 43.2 43.3" overflow="hidden"><g clip-path="url(#cp11)"><rect width="43.2" height="43.3" fill="#030716"/><g fill-opacity="0.41250000000000003"><circle cx="19.4" cy="24.4" r="2.9" fill="url(#dd)"/><circle cx="38.0" cy="7.3" r="3.0" fill="url(#dd)"/><circle cx="35.1" cy="2.9" r="2.5" fill="url(#dd)"/><circle cx="23.4" cy="39.7" r="3.0" fill="url(#dd)"/><circle cx="16.8" cy="19.5" r="3.0" fill="url(#dd)"/><circle cx="36.9" cy="1.4" r="2.6" fill="url(#dd)"/><circle cx="9.7" cy="-0.1" r="2.7" fill="url(#dd)"/><circle cx="25.8" cy="7.5" r="3.0" fill="url(#dd)"/><circle cx="21.6" cy="29.2" r="3.1" fill="url(#dd)"/><circle cx="17.3" cy="24.0" r="3.1" fill="url(#dd)"/><circle cx="13.1" cy="9.1" r="2.4" fill="url(#dd)"/><circle cx="24.5" cy="3.5" r="3.2" fill="url(#dd)"/><circle cx="16.4" cy="42.9" r="2.6" fill="url(#dd)"/><circle cx="41.3" cy="0.9" r="3.4" fill="url(#dd)"/><circle cx="16.9" cy="1.9" r="3.2" fill="url(#dd)"/><circle cx="11.0" cy="2.5" r="2.4" fill="url(#dd)"/><circle cx="17.4" cy="41.2" r="2.6" fill="url(#dd)"/><circle cx="3.2" cy="1.3" r="2.6" fill="url(#dd)"/><circle cx="24.3" cy="19.2" r="3.4" fill="url(#dd)"/><circle cx="34.1" cy="17.9" r="2.5" fill="url(#dd)"/><circle cx="17.9" cy="8.4" r="3.3" fill="url(#dd)"/><circle cx="43.5" cy="25.9" r="2.6" fill="url(#dd)"/><circle cx="16.7" cy="38.1" r="2.4" fill="url(#dd)"/><circle cx="5.3" cy="18.9" r="3.2" fill="url(#dd)"/><circle cx="13.7" cy="12.2" r="2.5" fill="url(#dd)"/><circle cx="8.1" cy="28.0" r="3.0" fill="url(#dd)"/><circle cx="15.7" cy="19.5" r="3.2" fill="url(#dd)"/><circle cx="4.8" cy="16.4" r="2.7" fill="url(#dd)"/><circle cx="9.1" cy="26.8" r="2.6" fill="url(#dd)"/></g><g fill-opacity="0.55"><circle cx="27.6" cy="24.1" r="2.2" fill="url(#dd)"/><circle cx="26.4" cy="18.0" r="1.6" fill="url(#db)"/><circle cx="22.2" cy="10.3" r="1.7" fill="url(#dd)"/><circle cx="36.6" cy="26.1" r="1.9" fill="url(#dd)"/><circle cx="41.4" cy="43.7" r="1.7" fill="url(#db)"/><circle cx="24.3" cy="38.0" r="1.7" fill="url(#db)"/><circle cx="40.9" cy="7.9" r="1.6" fill="url(#db)"/><circle cx="17.5" cy="10.0" r="1.6" fill="url(#db)"/><circle cx="15.5" cy="25.0" r="1.6" fill="url(#db)"/><circle cx="4.9" cy="19.4" r="2.0" fill="url(#dd)"/><circle cx="30.4" cy="25.6" r="2.0" fill="url(#db)"/><circle cx="41.2" cy="20.5" r="2.1" fill="url(#dd)"/><circle cx="43.0" cy="-0.5" r="1.9" fill="url(#db)"/><circle cx="32.2" cy="13.3" r="1.6" fill="url(#db)"/><circle cx="23.7" cy="32.6" r="2.1" fill="url(#db)"/><circle cx="40.8" cy="14.8" r="2.2" fill="url(#dd)"/><circle cx="38.7" cy="17.8" r="2.2" fill="url(#db)"/><circle cx="25.0" cy="27.4" r="1.8" fill="url(#dd)"/><circle cx="-0.9" cy="1.8" r="2.0" fill="url(#db)"/><circle cx="44.4" cy="39.2" r="1.8" fill="url(#dd)"/><circle cx="32.5" cy="25.4" r="1.9" fill="url(#dd)"/><circle cx="23.5" cy="22.5" r="1.7" fill="url(#db)"/><circle cx="2.6" cy="-0.5" r="1.9" fill="url(#db)"/><circle cx="26.9" cy="41.1" r="2.2" fill="url(#dd)"/><circle cx="15.5" cy="5.1" r="1.9" fill="url(#db)"/><circle cx="33.3" cy="14.4" r="1.9" fill="url(#dd)"/><circle cx="9.7" cy="17.2" r="1.7" fill="url(#dd)"/><circle cx="18.4" cy="35.8" r="2.2" fill="url(#db)"/><circle cx="16.3" cy="25.5" r="1.7" fill="url(#dd)"/><circle cx="4.7" cy="14.7" r="2.1" fill="url(#db)"/><circle cx="42.4" cy="11.3" r="1.6" fill="url(#db)"/><circle cx="20.3" cy="41.4" r="1.8" fill="url(#dd)"/><circle cx="22.5" cy="29.6" r="1.8" fill="url(#dd)"/><circle cx="36.8" cy="11.4" r="2.0" fill="url(#db)"/><circle cx="11.5" cy="14.9" r="2.0" fill="url(#db)"/><circle cx="17.2" cy="7.3" r="1.7" fill="url(#dd)"/><circle cx="5.0" cy="0.7" r="1.9" fill="url(#db)"/><circle cx="27.6" cy="28.8" r="2.3" fill="url(#dd)"/><circle cx="30.1" cy="7.7" r="1.7" fill="url(#dd)"/><circle cx="31.5" cy="33.5" r="1.6" fill="url(#db)"/><circle cx="11.1" cy="14.5" r="1.8" fill="url(#db)"/><circle cx="35.1" cy="40.5" r="1.8" fill="url(#db)"/><circle cx="39.7" cy="16.5" r="1.9" fill="url(#dd)"/><circle cx="27.4" cy="40.6" r="1.9" fill="url(#dd)"/><circle cx="28.7" cy="21.8" r="1.9" fill="url(#dd)"/><circle cx="28.6" cy="8.0" r="1.7" fill="url(#db)"/><circle cx="40.1" cy="43.9" r="1.9" fill="url(#dd)"/><circle cx="35.0" cy="13.3" r="1.8" fill="url(#db)"/><circle cx="2.3" cy="18.9" r="2.1" fill="url(#dd)"/><circle cx="21.0" cy="-0.2" r="1.8" fill="url(#db)"/><circle cx="0.1" cy="23.2" r="1.9" fill="url(#db)"/><circle cx="44.7" cy="40.2" r="2.3" fill="url(#dd)"/><circle cx="21.3" cy="42.4" r="2.1" fill="url(#db)"/><circle cx="18.8" cy="24.4" r="1.9" fill="url(#db)"/><circle cx="37.5" cy="24.4" r="2.0" fill="url(#dd)"/><circle cx="42.6" cy="38.8" r="1.7" fill="url(#db)"/><circle cx="5.0" cy="23.7" r="2.0" fill="url(#dd)"/><circle cx="7.8" cy="23.3" r="2.0" fill="url(#db)"/><circle cx="-0.2" cy="43.4" r="1.9" fill="url(#dd)"/><circle cx="44.2" cy="4.1" r="2.1" fill="url(#db)"/><circle cx="1.5" cy="23.4" r="2.2" fill="url(#dd)"/><circle cx="35.5" cy="17.2" r="1.9" fill="url(#db)"/><circle cx="4.4" cy="18.6" r="1.9" fill="url(#dd)"/><circle cx="3.5" cy="17.9" r="2.2" fill="url(#db)"/><circle cx="4.5" cy="34.6" r="1.5" fill="url(#db)"/></g></g></svg>
<svg x="75.60" y="317.30" width="43.2" height="43.3" viewBox="0 0 43.2 43.3" overflow="hidden"><g clip-path="url(#cp12)"><rect width="43.2" height="43.3" fill="#040819"/><g fill-opacity="0.46499999999999997"><circle cx="20.4" cy="28.9" r="2.8" fill="url(#dd)"/><circle cx="19.8" cy="38.5" r="3.1" fill="url(#dd)"/><circle cx="5.2" cy="18.9" r="2.5" fill="url(#dd)"/><circle cx="14.1" cy="17.2" r="3.3" fill="url(#dd)"/><circle cx="36.4" cy="29.2" r="3.3" fill="url(#dd)"/><circle cx="3.7" cy="18.1" r="3.3" fill="url(#dd)"/><circle cx="24.3" cy="43.7" r="2.9" fill="url(#dd)"/><circle cx="2.4" cy="26.6" r="2.9" fill="url(#dd)"/><circle cx="16.3" cy="-0.1" r="3.4" fill="url(#dd)"/><circle cx="29.2" cy="15.0" r="3.1" fill="url(#dd)"/><circle cx="3.8" cy="9.4" r="2.4" fill="url(#dd)"/><circle cx="36.5" cy="18.4" r="3.1" fill="url(#dd)"/><circle cx="0.5" cy="8.0" r="2.6" fill="url(#dd)"/><circle cx="30.7" cy="0.2" r="3.0" fill="url(#dd)"/><circle cx="32.0" cy="22.3" r="2.7" fill="url(#dd)"/><circle cx="20.5" cy="42.9" r="2.9" fill="url(#dd)"/><circle cx="23.9" cy="6.9" r="3.3" fill="url(#dd)"/><circle cx="-1.2" cy="10.9" r="2.6" fill="url(#dd)"/><circle cx="35.2" cy="21.7" r="3.4" fill="url(#dd)"/><circle cx="44.6" cy="21.8" r="3.3" fill="url(#dd)"/><circle cx="29.4" cy="11.4" r="2.9" fill="url(#dd)"/><circle cx="14.8" cy="30.2" r="2.8" fill="url(#dd)"/><circle cx="27.0" cy="0.6" r="3.1" fill="url(#dd)"/><circle cx="8.4" cy="11.7" r="3.1" fill="url(#dd)"/><circle cx="4.6" cy="39.5" r="2.6" fill="url(#dd)"/><circle cx="20.3" cy="1.2" r="3.2" fill="url(#dd)"/><circle cx="17.8" cy="25.7" r="3.0" fill="url(#dd)"/><circle cx="14.6" cy="15.6" r="2.4" fill="url(#dd)"/><circle cx="31.3" cy="40.3" r="3.3" fill="url(#dd)"/><circle cx="23.2" cy="35.0" r="3.1" fill="url(#dd)"/><circle cx="7.2" cy="11.0" r="3.0" fill="url(#dd)"/><circle cx="4.3" cy="23.2" r="3.0" fill="url(#dd)"/><circle cx="1.8" cy="15.0" r="2.5" fill="url(#dd)"/><circle cx="2.7" cy="13.0" r="2.8" fill="url(#dd)"/><circle cx="-0.1" cy="21.1" r="2.5" fill="url(#dd)"/><circle cx="26.0" cy="19.7" r="3.3" fill="url(#dd)"/><circle cx="-1.1" cy="15.2" r="3.1" fill="url(#dd)"/><circle cx="12.2" cy="22.4" r="2.6" fill="url(#dd)"/><circle cx="20.0" cy="26.6" r="2.9" fill="url(#dd)"/><circle cx="17.3" cy="30.9" r="3.1" fill="url(#dd)"/></g><g fill-opacity="0.62"><circle cx="14.7" cy="32.4" r="2.2" fill="url(#dd)"/><circle cx="27.7" cy="6.4" r="1.7" fill="url(#db)"/><circle cx="0.6" cy="35.7" r="1.8" fill="url(#dd)"/><circle cx="38.8" cy="40.0" r="1.7" fill="url(#db)"/><circle cx="16.0" cy="18.1" r="1.8" fill="url(#dd)"/><circle cx="16.0" cy="16.3" r="1.6" fill="url(#db)"/><circle cx="8.0" cy="10.3" r="2.2" fill="url(#db)"/><circle cx="28.7" cy="32.9" r="2.1" fill="url(#dd)"/><circle cx="33.1" cy="38.3" r="1.5" fill="url(#db)"/><circle cx="6.4" cy="6.1" r="2.2" fill="url(#dd)"/><circle cx="43.8" cy="34.3" r="2.0" fill="url(#db)"/><circle cx="3.2" cy="30.2" r="1.6" fill="url(#dd)"/><circle cx="-1.2" cy="4.4" r="2.0" fill="url(#dd)"/><circle cx="20.1" cy="27.9" r="2.2" fill="url(#dd)"/><circle cx="-0.2" cy="37.6" r="1.9" fill="url(#db)"/><circle cx="38.0" cy="30.5" r="1.9" fill="url(#dd)"/><circle cx="43.0" cy="15.9" r="1.8" fill="url(#db)"/><circle cx="9.2" cy="18.1" r="2.2" fill="url(#db)"/><circle cx="-0.1" cy="30.3" r="2.0" fill="url(#db)"/><circle cx="25.6" cy="35.7" r="2.1" fill="url(#dd)"/><circle cx="18.1" cy="23.6" r="1.8" fill="url(#db)"/><circle cx="28.8" cy="14.1" r="1.6" fill="url(#dd)"/><circle cx="4.2" cy="21.0" r="1.5" fill="url(#dd)"/><circle cx="9.1" cy="20.8" r="2.1" fill="url(#dd)"/><circle cx="14.2" cy="16.2" r="1.8" fill="url(#dd)"/><circle cx="39.6" cy="27.9" r="1.7" fill="url(#db)"/><circle cx="16.3" cy="26.9" r="2.1" fill="url(#dd)"/><circle cx="10.1" cy="17.9" r="1.6" fill="url(#dd)"/><circle cx="23.8" cy="26.1" r="1.8" fill="url(#dd)"/><circle cx="42.1" cy="26.2" r="2.2" fill="url(#dd)"/><circle cx="41.9" cy="27.2" r="1.7" fill="url(#db)"/><circle cx="13.9" cy="28.9" r="2.0" fill="url(#dd)"/><circle cx="1.9" cy="29.6" r="1.6" fill="url(#dd)"/><circle cx="20.9" cy="2.7" r="1.7" fill="url(#dd)"/><circle cx="1.6" cy="30.3" r="2.0" fill="url(#dd)"/><circle cx="27.9" cy="25.8" r="1.9" fill="url(#dd)"/><circle cx="41.8" cy="16.6" r="1.7" fill="url(#dd)"/><circle cx="34.7" cy="21.0" r="1.8" fill="url(#dd)"/><circle cx="12.7" cy="-0.4" r="1.8" fill="url(#dd)"/><circle cx="43.2" cy="40.3" r="2.0" fill="url(#dd)"/><circle cx="6.8" cy="18.1" r="1.5" fill="url(#db)"/><circle cx="3.9" cy="12.7" r="2.1" fill="url(#db)"/><circle cx="24.0" cy="22.2" r="2.2" fill="url(#db)"/><circle cx="5.3" cy="9.1" r="2.2" fill="url(#dd)"/><circle cx="22.9" cy="15.5" r="2.1" fill="url(#db)"/><circle cx="24.0" cy="35.1" r="1.6" fill="url(#dd)"/><circle cx="37.3" cy="28.3" r="2.3" fill="url(#db)"/><circle cx="16.2" cy="37.5" r="1.9" fill="url(#dd)"/><circle cx="37.4" cy="40.0" r="2.2" fill="url(#db)"/><circle cx="15.7" cy="40.2" r="1.9" fill="url(#db)"/><circle cx="27.3" cy="44.4" r="1.7" fill="url(#dd)"/><circle cx="22.3" cy="16.7" r="2.2" fill="url(#db)"/><circle cx="28.5" cy="15.3" r="2.0" fill="url(#db)"/><circle cx="1.5" cy="5.5" r="1.6" fill="url(#db)"/><circle cx="36.7" cy="38.3" r="2.2" fill="url(#db)"/><circle cx="-0.6" cy="5.2" r="2.1" fill="url(#dd)"/><circle cx="33.2" cy="36.6" r="1.8" fill="url(#dd)"/><circle cx="41.5" cy="14.9" r="1.8" fill="url(#dd)"/><circle cx="14.9" cy="0.4" r="1.7" fill="url(#db)"/><circle cx="1.2" cy="13.2" r="2.2" fill="url(#db)"/><circle cx="14.2" cy="10.9" r="2.2" fill="url(#db)"/><circle cx="13.1" cy="0.9" r="2.0" fill="url(#dd)"/><circle cx="20.7" cy="7.9" r="2.2" fill="url(#db)"/><circle cx="29.4" cy="21.4" r="1.9" fill="url(#db)"/><circle cx="29.6" cy="20.2" r="2.3" fill="url(#dd)"/><circle cx="37.6" cy="29.9" r="1.9" fill="url(#db)"/><circle cx="31.6" cy="44.1" r="1.7" fill="url(#dd)"/><circle cx="10.3" cy="1.8" r="1.9" fill="url(#dd)"/><circle cx="18.5" cy="16.6" r="2.0" fill="url(#db)"/><circle cx="5.2" cy="23.6" r="2.0" fill="url(#dd)"/><circle cx="29.1" cy="0.5" r="2.1" fill="url(#dd)"/><circle cx="19.8" cy="44.5" r="1.6" fill="url(#db)"/><circle cx="5.3" cy="11.2" r="1.9" fill="url(#db)"/><circle cx="27.6" cy="10.1" r="2.2" fill="url(#dd)"/><circle cx="23.7" cy="25.1" r="1.9" fill="url(#db)"/><circle cx="22.5" cy="43.1" r="2.0" fill="url(#db)"/><circle cx="29.6" cy="-0.6" r="1.8" fill="url(#db)"/><circle cx="24.3" cy="2.6" r="1.9" fill="url(#db)"/><circle cx="35.1" cy="1.7" r="1.5" fill="url(#dd)"/><circle cx="13.9" cy="43.0" r="1.5" fill="url(#db)"/><circle cx="33.6" cy="15.7" r="1.6" fill="url(#dd)"/><circle cx="28.9" cy="6.3" r="2.2" fill="url(#db)"/><circle cx="18.6" cy="44.1" r="2.2" fill="url(#dd)"/><circle cx="44.6" cy="3.4" r="2.2" fill="url(#dd)"/><circle cx="10.4" cy="34.1" r="1.6" fill="url(#db)"/><circle cx="17.0" cy="5.8" r="2.0" fill="url(#dd)"/><circle cx="38.4" cy="40.9" r="2.1" fill="url(#dd)"/><circle cx="2.8" cy="39.6" r="1.6" fill="url(#dd)"/><circle cx="44.2" cy="37.6" r="2.3" fill="url(#dd)"/><circle cx="9.4" cy="-1.4" r="1.8" fill="url(#dd)"/></g></g></svg>
<svg x="121.00" y="317.30" width="43.2" height="43.3" viewBox="0 0 43.2 43.3" overflow="hidden"><g clip-path="url(#cp13)"><rect width="43.2" height="43.3" fill="#030716"/><g fill-opacity="0.42000000000000004"><circle cx="10.5" cy="30.2" r="3.1" fill="url(#dd)"/><circle cx="29.3" cy="38.7" r="2.5" fill="url(#dd)"/><circle cx="23.0" cy="8.4" r="2.5" fill="url(#dd)"/><circle cx="37.0" cy="2.4" r="3.2" fill="url(#dd)"/><circle cx="10.4" cy="37.9" r="3.1" fill="url(#dd)"/><circle cx="39.6" cy="28.1" r="3.2" fill="url(#dd)"/><circle cx="24.1" cy="33.2" r="2.9" fill="url(#dd)"/><circle cx="12.1" cy="6.8" r="2.9" fill="url(#dd)"/><circle cx="26.5" cy="16.8" r="3.0" fill="url(#dd)"/><circle cx="4.6" cy="18.4" r="2.8" fill="url(#dd)"/><circle cx="31.7" cy="41.7" r="2.9" fill="url(#dd)"/><circle cx="30.8" cy="19.1" r="3.1" fill="url(#dd)"/><circle cx="10.1" cy="33.7" r="2.9" fill="url(#dd)"/><circle cx="9.5" cy="21.5" r="3.0" fill="url(#dd)"/><circle cx="25.8" cy="15.1" r="2.6" fill="url(#dd)"/><circle cx="7.4" cy="35.0" r="2.6" fill="url(#dd)"/><circle cx="18.3" cy="26.1" r="3.4" fill="url(#dd)"/><circle cx="36.6" cy="28.4" r="3.4" fill="url(#dd)"/><circle cx="4.1" cy="12.5" r="3.3" fill="url(#dd)"/><circle cx="22.6" cy="37.9" r="2.7" fill="url(#dd)"/><circle cx="21.4" cy="43.4" r="2.6" fill="url(#dd)"/><circle cx="8.1" cy="35.5" r="3.1" fill="url(#dd)"/><circle cx="10.4" cy="25.7" r="3.0" fill="url(#dd)"/><circle cx="18.3" cy="28.2" r="2.8" fill="url(#dd)"/><circle cx="-1.3" cy="34.3" r="3.4" fill="url(#dd)"/><circle cx="16.5" cy="1.3" r="2.5" fill="url(#dd)"/><circle cx="0.9" cy="15.6" r="2.7" fill="url(#dd)"/><circle cx="16.4" cy="0.0" r="2.9" fill="url(#dd)"/><circle cx="25.5" cy="25.5" r="2.9" fill="url(#dd)"/><circle cx="4.5" cy="35.7" r="3.3" fill="url(#dd)"/><circle cx="2.6" cy="41.6" r="3.2" fill="url(#dd)"/><circle cx="8.4" cy="31.8" r="2.9" fill="url(#dd)"/><circle cx="41.0" cy="18.9" r="3.2" fill="url(#dd)"/><circle cx="40.0" cy="3.8" r="2.9" fill="url(#dd)"/><circle cx="12.3" cy="43.0" r="2.8" fill="url(#dd)"/><circle cx="41.5" cy="6.2" r="3.3" fill="url(#dd)"/></g><g fill-opacity="0.56"><circle cx="44.7" cy="36.0" r="2.2" fill="url(#dd)"/><circle cx="0.4" cy="2.9" r="1.9" fill="url(#dd)"/><circle cx="10.9" cy="34.8" r="1.9" fill="url(#db)"/><circle cx="23.1" cy="11.3" r="2.3" fill="url(#db)"/><circle cx="42.5" cy="15.9" r="1.8" fill="url(#dd)"/><circle cx="19.9" cy="34.0" r="1.5" fill="url(#db)"/><circle cx="40.3" cy="20.8" r="1.6" fill="url(#db)"/><circle cx="25.7" cy="12.7" r="2.0" fill="url(#dd)"/><circle cx="32.0" cy="1.1" r="1.5" fill="url(#dd)"/><circle cx="23.1" cy="34.5" r="2.2" fill="url(#dd)"/><circle cx="5.6" cy="1.0" r="1.7" fill="url(#dd)"/><circle cx="-0.5" cy="2.8" r="2.0" fill="url(#db)"/><circle cx="26.6" cy="22.8" r="2.2" fill="url(#db)"/><circle cx="32.7" cy="3.1" r="2.2" fill="url(#dd)"/><circle cx="36.9" cy="30.0" r="2.0" fill="url(#dd)"/><circle cx="10.4" cy="4.7" r="1.5" fill="url(#db)"/><circle cx="28.1" cy="26.7" r="2.2" fill="url(#dd)"/><circle cx="16.1" cy="36.2" r="1.6" fill="url(#dd)"/><circle cx="38.2" cy="22.9" r="2.0" fill="url(#dd)"/><circle cx="40.7" cy="30.2" r="2.1" fill="url(#db)"/><circle cx="-0.3" cy="31.5" r="2.0" fill="url(#dd)"/><circle cx="33.1" cy="2.2" r="1.9" fill="url(#db)"/><circle cx="44.3" cy="37.4" r="2.2" fill="url(#dd)"/><circle cx="2.6" cy="3.7" r="1.9" fill="url(#db)"/><circle cx="27.5" cy="13.0" r="2.1" fill="url(#db)"/><circle cx="0.8" cy="9.2" r="2.0" fill="url(#db)"/><circle cx="31.2" cy="30.9" r="1.6" fill="url(#db)"/><circle cx="34.5" cy="33.2" r="1.7" fill="url(#dd)"/><circle cx="12.2" cy="10.6" r="2.2" fill="url(#dd)"/><circle cx="11.4" cy="31.6" r="1.6" fill="url(#db)"/><circle cx="38.1" cy="43.2" r="2.0" fill="url(#db)"/><circle cx="3.1" cy="21.3" r="2.1" fill="url(#db)"/><circle cx="25.1" cy="18.0" r="1.9" fill="url(#db)"/><circle cx="37.4" cy="4.3" r="1.6" fill="url(#dd)"/><circle cx="19.2" cy="18.0" r="2.0" fill="url(#db)"/><circle cx="5.0" cy="14.6" r="1.5" fill="url(#dd)"/><circle cx="15.2" cy="33.3" r="1.6" fill="url(#db)"/><circle cx="5.9" cy="6.3" r="2.1" fill="url(#db)"/><circle cx="26.2" cy="34.1" r="2.2" fill="url(#db)"/><circle cx="27.1" cy="15.9" r="1.8" fill="url(#dd)"/><circle cx="18.3" cy="11.8" r="1.6" fill="url(#dd)"/><circle cx="42.7" cy="33.3" r="1.9" fill="url(#dd)"/><circle cx="23.3" cy="33.2" r="2.2" fill="url(#db)"/><circle cx="24.3" cy="24.2" r="2.3" fill="url(#db)"/><circle cx="0.6" cy="11.1" r="1.7" fill="url(#dd)"/><circle cx="40.5" cy="17.0" r="2.1" fill="url(#dd)"/><circle cx="18.4" cy="24.8" r="1.7" fill="url(#dd)"/><circle cx="29.1" cy="7.4" r="1.5" fill="url(#db)"/><circle cx="30.8" cy="19.2" r="1.8" fill="url(#dd)"/><circle cx="19.2" cy="41.8" r="1.5" fill="url(#db)"/><circle cx="35.4" cy="28.1" r="1.5" fill="url(#db)"/><circle cx="30.9" cy="24.4" r="1.5" fill="url(#dd)"/><circle cx="36.8" cy="7.9" r="1.9" fill="url(#dd)"/><circle cx="43.5" cy="6.7" r="2.1" fill="url(#db)"/><circle cx="42.9" cy="29.3" r="1.6" fill="url(#db)"/><circle cx="34.6" cy="1.5" r="1.9" fill="url(#dd)"/><circle cx="6.8" cy="24.6" r="1.8" fill="url(#db)"/><circle cx="35.7" cy="13.7" r="2.2" fill="url(#db)"/><circle cx="37.3" cy="25.3" r="1.9" fill="url(#db)"/><circle cx="18.4" cy="36.1" r="1.7" fill="url(#dd)"/><circle cx="12.8" cy="19.4" r="2.1" fill="url(#db)"/><circle cx="19.6" cy="31.5" r="1.7" fill="url(#db)"/><circle cx="31.8" cy="20.0" r="2.0" fill="url(#dd)"/><circle cx="29.1" cy="41.1" r="1.7" fill="url(#dd)"/><circle cx="18.9" cy="30.5" r="1.5" fill="url(#db)"/><circle cx="2.0" cy="41.9" r="2.1" fill="url(#db)"/><circle cx="21.0" cy="25.0" r="1.9" fill="url(#db)"/><circle cx="31.6" cy="42.9" r="1.6" fill="url(#dd)"/><circle cx="17.3" cy="17.4" r="2.0" fill="url(#db)"/><circle cx="42.4" cy="5.7" r="1.8" fill="url(#db)"/><circle cx="12.0" cy="21.5" r="2.2" fill="url(#dd)"/><circle cx="21.5" cy="3.3" r="1.5" fill="url(#dd)"/><circle cx="12.6" cy="43.6" r="1.8" fill="url(#db)"/><circle cx="1.8" cy="26.8" r="2.0" fill="url(#db)"/><circle cx="30.4" cy="13.5" r="1.5" fill="url(#dd)"/><circle cx="32.8" cy="32.9" r="1.6" fill="url(#dd)"/><circle cx="42.9" cy="0.8" r="2.1" fill="url(#dd)"/><circle cx="29.6" cy="10.0" r="1.7" fill="url(#dd)"/><circle cx="3.0" cy="44.3" r="1.7" fill="url(#db)"/><circle cx="35.2" cy="26.0" r="1.5" fill="url(#dd)"/></g></g></svg>
<svg x="166.40" y="317.30" width="43.2" height="43.3" viewBox="0 0 43.2 43.3" overflow="hidden"><g clip-path="url(#cp14)"><rect width="43.2" height="43.3" fill="#04081a"/><g fill-opacity="0.5625"><circle cx="3.4" cy="31.0" r="2.7" fill="url(#dd)"/><circle cx="10.3" cy="32.5" r="2.9" fill="url(#dd)"/><circle cx="10.7" cy="38.8" r="2.8" fill="url(#dd)"/><circle cx="27.7" cy="22.4" r="2.6" fill="url(#dd)"/><circle cx="28.6" cy="4.2" r="2.7" fill="url(#dd)"/><circle cx="41.7" cy="40.0" r="3.0" fill="url(#dd)"/><circle cx="27.9" cy="15.4" r="2.9" fill="url(#dd)"/><circle cx="7.5" cy="19.5" r="2.9" fill="url(#dd)"/><circle cx="3.2" cy="36.4" r="2.5" fill="url(#dd)"/><circle cx="6.3" cy="16.4" r="2.8" fill="url(#dd)"/><circle cx="26.0" cy="2.9" r="2.8" fill="url(#dd)"/><circle cx="26.9" cy="21.1" r="3.1" fill="url(#dd)"/><circle cx="20.2" cy="10.4" r="2.6" fill="url(#dd)"/><circle cx="3.8" cy="42.8" r="2.6" fill="url(#dd)"/><circle cx="38.8" cy="10.7" r="2.7" fill="url(#dd)"/><circle cx="33.7" cy="15.6" r="2.9" fill="url(#dd)"/><circle cx="37.4" cy="15.5" r="2.9" fill="url(#dd)"/><circle cx="20.2" cy="14.2" r="2.5" fill="url(#dd)"/><circle cx="1.0" cy="41.5" r="2.8" fill="url(#dd)"/><circle cx="23.7" cy="16.1" r="3.1" fill="url(#dd)"/><circle cx="23.5" cy="17.9" r="2.5" fill="url(#dd)"/><circle cx="32.0" cy="5.3" r="3.4" fill="url(#dd)"/><circle cx="36.5" cy="41.1" r="3.3" fill="url(#dd)"/><circle cx="36.8" cy="41.6" r="2.4" fill="url(#dd)"/><circle cx="44.0" cy="39.5" r="2.9" fill="url(#dd)"/><circle cx="38.4" cy="31.8" r="3.4" fill="url(#dd)"/><circle cx="10.0" cy="30.0" r="2.9" fill="url(#dd)"/><circle cx="35.3" cy="32.1" r="3.3" fill="url(#dd)"/><circle cx="38.0" cy="16.9" r="3.1" fill="url(#dd)"/><circle cx="13.9" cy="10.2" r="3.4" fill="url(#dd)"/><circle cx="40.1" cy="1.7" r="3.2" fill="url(#dd)"/><circle cx="17.9" cy="7.7" r="2.6" fill="url(#dd)"/><circle cx="2.0" cy="35.1" r="2.4" fill="url(#dd)"/><circle cx="34.3" cy="18.1" r="3.0" fill="url(#dd)"/><circle cx="31.0" cy="7.0" r="2.8" fill="url(#dd)"/><circle cx="26.3" cy="20.4" r="2.7" fill="url(#dd)"/><circle cx="23.2" cy="43.9" r="2.5" fill="url(#dd)"/><circle cx="23.2" cy="5.6" r="2.9" fill="url(#dd)"/><circle cx="6.6" cy="35.4" r="3.4" fill="url(#dd)"/><circle cx="36.0" cy="6.7" r="2.7" fill="url(#dd)"/><circle cx="22.6" cy="43.8" r="2.7" fill="url(#dd)"/><circle cx="40.0" cy="6.5" r="2.5" fill="url(#dd)"/><circle cx="37.7" cy="9.0" r="2.5" fill="url(#dd)"/><circle cx="33.8" cy="2.1" r="2.5" fill="url(#dd)"/><circle cx="25.7" cy="7.5" r="3.3" fill="url(#dd)"/></g><g fill-opacity="0.75"><circle cx="27.4" cy="36.9" r="2.2" fill="url(#db)"/><circle cx="4.7" cy="24.2" r="2.0" fill="url(#db)"/><circle cx="39.5" cy="39.2" r="2.2" fill="url(#dd)"/><circle cx="13.2" cy="33.3" r="1.7" fill="url(#db)"/><circle cx="6.7" cy="43.1" r="1.9" fill="url(#dd)"/><circle cx="24.3" cy="33.5" r="2.1" fill="url(#db)"/><circle cx="8.5" cy="30.7" r="1.7" fill="url(#dd)"/><circle cx="27.8" cy="8.0" r="1.6" fill="url(#dd)"/><circle cx="34.2" cy="0.1" r="1.7" fill="url(#db)"/><circle cx="36.2" cy="-1.4" r="2.0" fill="url(#dd)"/><circle cx="33.0" cy="21.4" r="2.1" fill="url(#db)"/><circle cx="-0.2" cy="43.5" r="1.8" fill="url(#dd)"/><circle cx="23.5" cy="37.2" r="2.3" fill="url(#db)"/><circle cx="33.7" cy="-1.3" r="1.7" fill="url(#db)"/><circle cx="22.0" cy="25.0" r="2.3" fill="url(#dd)"/><circle cx="35.8" cy="13.8" r="2.1" fill="url(#dd)"/><circle cx="10.8" cy="11.5" r="2.1" fill="url(#db)"/><circle cx="9.3" cy="41.5" r="2.0" fill="url(#dd)"/><circle cx="33.6" cy="6.6" r="1.8" fill="url(#db)"/><circle cx="41.1" cy="-0.6" r="2.1" fill="url(#db)"/><circle cx="24.4" cy="5.4" r="2.0" fill="url(#dd)"/><circle cx="-0.7" cy="23.6" r="1.5" fill="url(#db)"/><circle cx="-0.9" cy="28.1" r="1.5" fill="url(#dd)"/><circle cx="23.6" cy="7.4" r="1.6" fill="url(#dd)"/><circle cx="20.4" cy="7.5" r="1.9" fill="url(#db)"/><circle cx="34.7" cy="21.6" r="1.6" fill="url(#dd)"/><circle cx="6.9" cy="25.7" r="1.8" fill="url(#dd)"/><circle cx="23.8" cy="-1.5" r="1.5" fill="url(#db)"/><circle cx="-0.7" cy="1.4" r="2.1" fill="url(#db)"/><circle cx="26.5" cy="16.2" r="1.8" fill="url(#db)"/><circle cx="39.9" cy="17.0" r="2.2" fill="url(#db)"/><circle cx="3.6" cy="39.6" r="1.6" fill="url(#dd)"/><circle cx="29.6" cy="2.6" r="1.5" fill="url(#dd)"/><circle cx="13.2" cy="30.0" r="2.0" fill="url(#dd)"/><circle cx="16.4" cy="13.0" r="1.8" fill="url(#dd)"/><circle cx="24.2" cy="19.2" r="2.2" fill="url(#db)"/><circle cx="11.8" cy="43.4" r="2.3" fill="url(#db)"/><circle cx="-0.5" cy="31.8" r="2.0" fill="url(#db)"/><circle cx="20.9" cy="8.1" r="1.5" fill="url(#db)"/><circle cx="38.8" cy="4.3" r="1.9" fill="url(#dd)"/><circle cx="32.5" cy="7.9" r="1.6" fill="url(#dd)"/><circle cx="39.9" cy="10.7" r="1.8" fill="url(#db)"/><circle cx="12.0" cy="9.6" r="1.5" fill="url(#db)"/><circle cx="18.8" cy="37.8" r="2.1" fill="url(#db)"/><circle cx="25.9" cy="12.1" r="1.5" fill="url(#db)"/><circle cx="16.5" cy="1.3" r="2.3" fill="url(#db)"/><circle cx="25.1" cy="11.1" r="1.6" fill="url(#db)"/><circle cx="41.2" cy="36.2" r="2.2" fill="url(#dd)"/><circle cx="16.7" cy="34.6" r="2.0" fill="url(#dd)"/><circle cx="14.1" cy="31.8" r="2.2" fill="url(#db)"/><circle cx="17.5" cy="1.8" r="2.2" fill="url(#db)"/><circle cx="17.6" cy="25.5" r="1.5" fill="url(#db)"/><circle cx="9.6" cy="41.7" r="1.7" fill="url(#db)"/><circle cx="42.2" cy="8.2" r="2.3" fill="url(#db)"/><circle cx="39.5" cy="32.3" r="1.9" fill="url(#dd)"/><circle cx="9.5" cy="37.6" r="1.8" fill="url(#db)"/><circle cx="44.1" cy="-0.3" r="1.5" fill="url(#dd)"/><circle cx="42.3" cy="11.5" r="1.7" fill="url(#db)"/><circle cx="3.1" cy="42.3" r="2.1" fill="url(#db)"/><circle cx="3.9" cy="27.5" r="2.1" fill="url(#db)"/><circle cx="20.0" cy="28.6" r="1.6" fill="url(#dd)"/><circle cx="39.7" cy="9.1" r="2.2" fill="url(#dd)"/><circle cx="41.0" cy="4.0" r="2.1" fill="url(#db)"/><circle cx="23.0" cy="23.7" r="1.8" fill="url(#db)"/><circle cx="40.4" cy="14.5" r="1.9" fill="url(#db)"/><circle cx="35.3" cy="14.4" r="1.7" fill="url(#db)"/><circle cx="30.6" cy="2.3" r="1.5" fill="url(#db)"/><circle cx="29.1" cy="13.2" r="2.2" fill="url(#dd)"/><circle cx="21.1" cy="8.5" r="1.9" fill="url(#dd)"/><circle cx="29.9" cy="12.1" r="1.8" fill="url(#db)"/><circle cx="29.8" cy="6.3" r="2.2" fill="url(#dd)"/><circle cx="7.2" cy="33.4" r="1.7" fill="url(#dd)"/><circle cx="25.5" cy="28.6" r="1.6" fill="url(#db)"/><circle cx="34.7" cy="6.6" r="2.3" fill="url(#db)"/><circle cx="28.2" cy="33.4" r="2.1" fill="url(#db)"/><circle cx="30.9" cy="5.9" r="2.2" fill="url(#db)"/><circle cx="18.5" cy="29.0" r="2.0" fill="url(#db)"/><circle cx="16.1" cy="39.9" r="2.2" fill="url(#dd)"/><circle cx="3.8" cy="16.5" r="2.0" fill="url(#dd)"/><circle cx="2.2" cy="27.1" r="2.0" fill="url(#dd)"/><circle cx="12.4" cy="4.0" r="1.6" fill="url(#dd)"/><circle cx="38.5" cy="1.6" r="2.1" fill="url(#db)"/><circle cx="12.5" cy="22.9" r="1.6" fill="url(#db)"/><circle cx="3.2" cy="42.7" r="1.9" fill="url(#dd)"/><circle cx="29.5" cy="9.0" r="1.8" fill="url(#db)"/><circle cx="40.1" cy="16.9" r="2.3" fill="url(#dd)"/><circle cx="22.3" cy="24.1" r="1.9" fill="url(#dd)"/><circle cx="37.8" cy="2.5" r="2.3" fill="url(#dd)"/><circle cx="12.1" cy="14.6" r="1.7" fill="url(#dd)"/><circle cx="28.6" cy="29.1" r="1.9" fill="url(#dd)"/><circle cx="33.9" cy="35.8" r="2.2" fill="url(#db)"/><circle cx="15.0" cy="18.3" r="2.1" fill="url(#db)"/><circle cx="31.8" cy="22.6" r="1.5" fill="url(#db)"/><circle cx="41.1" cy="42.2" r="1.9" fill="url(#dd)"/><circle cx="35.4" cy="17.8" r="1.8" fill="url(#db)"/><circle cx="33.0" cy="11.6" r="2.0" fill="url(#db)"/><circle cx="2.6" cy="41.3" r="2.3" fill="url(#dd)"/><circle cx="8.2" cy="36.3" r="1.5" fill="url(#db)"/><circle cx="41.1" cy="-0.6" r="1.9" fill="url(#db)"/><circle cx="39.4" cy="27.4" r="2.0" fill="url(#db)"/></g></g></svg>
<svg x="211.90" y="317.30" width="43.2" height="43.3" viewBox="0 0 43.2 43.3" overflow="hidden"><g clip-path="url(#cp15)"><rect width="43.2" height="43.3" fill="#030716"/><g fill-opacity="0.44999999999999996"><circle cx="5.8" cy="44.2" r="3.3" fill="url(#dd)"/><circle cx="44.7" cy="9.6" r="2.7" fill="url(#dd)"/><circle cx="38.9" cy="35.4" r="2.6" fill="url(#dd)"/><circle cx="19.5" cy="17.9" r="2.8" fill="url(#dd)"/><circle cx="13.1" cy="30.6" r="2.9" fill="url(#dd)"/><circle cx="42.2" cy="-0.6" r="3.0" fill="url(#dd)"/><circle cx="34.8" cy="37.6" r="2.6" fill="url(#dd)"/><circle cx="38.0" cy="39.8" r="2.9" fill="url(#dd)"/><circle cx="37.3" cy="24.2" r="2.6" fill="url(#dd)"/><circle cx="42.3" cy="14.9" r="2.6" fill="url(#dd)"/><circle cx="27.4" cy="16.4" r="3.2" fill="url(#dd)"/><circle cx="33.5" cy="37.3" r="2.5" fill="url(#dd)"/><circle cx="41.4" cy="32.8" r="2.9" fill="url(#dd)"/><circle cx="24.6" cy="38.9" r="2.9" fill="url(#dd)"/><circle cx="2.3" cy="43.0" r="3.1" fill="url(#dd)"/><circle cx="10.3" cy="2.4" r="3.2" fill="url(#dd)"/><circle cx="37.1" cy="18.6" r="3.0" fill="url(#dd)"/><circle cx="12.9" cy="36.5" r="2.4" fill="url(#dd)"/><circle cx="29.4" cy="14.6" r="2.5" fill="url(#dd)"/><circle cx="10.0" cy="44.2" r="3.1" fill="url(#dd)"/><circle cx="30.9" cy="14.2" r="3.0" fill="url(#dd)"/><circle cx="31.9" cy="17.0" r="2.7" fill="url(#dd)"/><circle cx="27.0" cy="25.0" r="2.5" fill="url(#dd)"/><circle cx="37.6" cy="31.3" r="3.1" fill="url(#dd)"/><circle cx="25.2" cy="24.0" r="2.8" fill="url(#dd)"/><circle cx="43.8" cy="28.4" r="3.0" fill="url(#dd)"/><circle cx="36.9" cy="30.2" r="3.3" fill="url(#dd)"/><circle cx="44.1" cy="29.2" r="2.7" fill="url(#dd)"/><circle cx="33.6" cy="15.0" r="3.3" fill="url(#dd)"/><circle cx="30.7" cy="34.8" r="2.6" fill="url(#dd)"/><circle cx="29.8" cy="35.3" r="3.3" fill="url(#dd)"/></g><g fill-opacity="0.6"><circle cx="39.0" cy="15.7" r="1.9" fill="url(#db)"/><circle cx="20.4" cy="20.2" r="1.6" fill="url(#dd)"/><circle cx="29.2" cy="43.8" r="2.2" fill="url(#dd)"/><circle cx="26.8" cy="19.8" r="2.2" fill="url(#dd)"/><circle cx="26.1" cy="10.6" r="1.8" fill="url(#dd)"/><circle cx="27.9" cy="33.6" r="1.9" fill="url(#dd)"/><circle cx="20.7" cy="43.5" r="1.7" fill="url(#db)"/><circle cx="8.7" cy="33.7" r="2.1" fill="url(#db)"/><circle cx="30.0" cy="13.5" r="1.7" fill="url(#dd)"/><circle cx="41.6" cy="11.0" r="2.2" fill="url(#dd)"/><circle cx="30.3" cy="11.0" r="1.6" fill="url(#dd)"/><circle cx="29.0" cy="9.6" r="2.0" fill="url(#db)"/><circle cx="35.1" cy="16.8" r="2.2" fill="url(#dd)"/><circle cx="30.9" cy="20.2" r="2.1" fill="url(#dd)"/><circle cx="42.4" cy="20.3" r="1.8" fill="url(#dd)"/><circle cx="14.3" cy="13.7" r="1.9" fill="url(#db)"/><circle cx="42.8" cy="32.5" r="1.6" fill="url(#db)"/><circle cx="23.0" cy="12.7" r="1.7" fill="url(#dd)"/><circle cx="21.3" cy="7.1" r="2.2" fill="url(#dd)"/><circle cx="42.4" cy="24.4" r="2.0" fill="url(#dd)"/><circle cx="22.5" cy="25.8" r="1.8" fill="url(#dd)"/><circle cx="18.0" cy="24.2" r="2.2" fill="url(#db)"/><circle cx="20.5" cy="32.9" r="1.8" fill="url(#db)"/><circle cx="4.2" cy="27.4" r="2.1" fill="url(#dd)"/><circle cx="23.3" cy="18.6" r="2.2" fill="url(#dd)"/><circle cx="44.7" cy="42.1" r="2.2" fill="url(#dd)"/><circle cx="43.2" cy="0.7" r="1.5" fill="url(#db)"/><circle cx="18.9" cy="42.5" r="2.0" fill="url(#db)"/><circle cx="21.9" cy="16.5" r="2.3" fill="url(#db)"/><circle cx="28.8" cy="21.4" r="1.8" fill="url(#db)"/><circle cx="13.1" cy="33.8" r="2.3" fill="url(#dd)"/><circle cx="22.4" cy="-0.9" r="2.1" fill="url(#db)"/><circle cx="16.8" cy="27.8" r="2.3" fill="url(#dd)"/><circle cx="8.8" cy="37.1" r="2.0" fill="url(#dd)"/><circle cx="3.2" cy="15.5" r="2.2" fill="url(#db)"/><circle cx="12.1" cy="42.5" r="2.1" fill="url(#db)"/><circle cx="6.3" cy="38.0" r="2.1" fill="url(#db)"/><circle cx="19.8" cy="44.7" r="2.1" fill="url(#db)"/><circle cx="43.9" cy="16.9" r="1.8" fill="url(#dd)"/><circle cx="26.9" cy="2.9" r="1.7" fill="url(#dd)"/><circle cx="2.0" cy="15.1" r="2.1" fill="url(#dd)"/><circle cx="18.0" cy="32.1" r="2.1" fill="url(#db)"/><circle cx="20.7" cy="13.3" r="2.1" fill="url(#dd)"/><circle cx="0.6" cy="3.9" r="2.2" fill="url(#db)"/><circle cx="34.9" cy="-0.5" r="1.9" fill="url(#dd)"/><circle cx="21.9" cy="42.2" r="1.8" fill="url(#dd)"/><circle cx="23.5" cy="21.6" r="1.7" fill="url(#db)"/><circle cx="42.5" cy="8.7" r="1.8" fill="url(#db)"/><circle cx="27.8" cy="10.3" r="1.8" fill="url(#db)"/><circle cx="36.5" cy="29.0" r="2.2" fill="url(#db)"/><circle cx="35.6" cy="12.4" r="2.1" fill="url(#db)"/><circle cx="41.6" cy="4.7" r="2.1" fill="url(#dd)"/><circle cx="26.4" cy="40.0" r="2.2" fill="url(#db)"/><circle cx="38.9" cy="31.5" r="1.9" fill="url(#db)"/><circle cx="44.5" cy="34.7" r="1.6" fill="url(#db)"/><circle cx="16.5" cy="39.2" r="2.2" fill="url(#db)"/><circle cx="35.4" cy="15.9" r="1.6" fill="url(#dd)"/><circle cx="25.3" cy="9.4" r="1.7" fill="url(#dd)"/><circle cx="12.2" cy="27.2" r="2.1" fill="url(#db)"/><circle cx="15.2" cy="41.3" r="2.2" fill="url(#dd)"/><circle cx="19.2" cy="34.1" r="1.8" fill="url(#dd)"/><circle cx="31.8" cy="26.6" r="1.6" fill="url(#db)"/><circle cx="17.0" cy="34.7" r="2.2" fill="url(#db)"/><circle cx="18.7" cy="9.0" r="2.0" fill="url(#dd)"/><circle cx="34.4" cy="29.6" r="2.0" fill="url(#dd)"/><circle cx="3.4" cy="34.3" r="2.1" fill="url(#db)"/><circle cx="-0.4" cy="38.9" r="1.8" fill="url(#dd)"/><circle cx="9.6" cy="26.1" r="2.3" fill="url(#dd)"/><circle cx="30.5" cy="23.2" r="1.8" fill="url(#db)"/><circle cx="26.5" cy="9.6" r="2.2" fill="url(#db)"/></g></g></svg>
<svg x="30.30" y="361.90" width="43.2" height="43.3" viewBox="0 0 43.2 43.3" overflow="hidden"><g clip-path="url(#cp21)"><rect width="43.2" height="43.3" fill="#010301"/><g fill-opacity="0.616"><circle cx="6.1" cy="30.4" r="3.1" fill="url(#gd)"/><circle cx="7.0" cy="22.9" r="2.6" fill="url(#gd)"/><circle cx="25.5" cy="1.7" r="3.1" fill="url(#gd)"/><circle cx="34.1" cy="17.3" r="2.8" fill="url(#gd)"/><circle cx="-0.4" cy="32.8" r="2.7" fill="url(#gd)"/><circle cx="24.0" cy="14.4" r="2.9" fill="url(#gd)"/><circle cx="20.2" cy="36.5" r="2.5" fill="url(#gd)"/><circle cx="4.2" cy="20.6" r="2.6" fill="url(#gd)"/><circle cx="5.3" cy="23.3" r="2.8" fill="url(#gd)"/><circle cx="13.2" cy="20.9" r="2.4" fill="url(#gd)"/><circle cx="31.6" cy="44.0" r="2.8" fill="url(#gd)"/><circle cx="33.1" cy="8.8" r="2.5" fill="url(#gd)"/><circle cx="6.4" cy="14.6" r="3.0" fill="url(#gd)"/><circle cx="41.5" cy="9.9" r="3.0" fill="url(#gd)"/><circle cx="15.8" cy="30.1" r="2.7" fill="url(#gd)"/><circle cx="39.3" cy="21.2" r="3.1" fill="url(#gd)"/><circle cx="9.9" cy="24.5" r="3.0" fill="url(#gd)"/><circle cx="20.8" cy="37.3" r="2.9" fill="url(#gd)"/><circle cx="0.1" cy="10.0" r="2.9" fill="url(#gd)"/><circle cx="40.1" cy="15.4" r="2.8" fill="url(#gd)"/><circle cx="18.2" cy="25.4" r="2.4" fill="url(#gd)"/><circle cx="25.7" cy="5.0" r="2.9" fill="url(#gd)"/><circle cx="28.2" cy="37.9" r="2.9" fill="url(#gd)"/><circle cx="33.2" cy="36.1" r="2.4" fill="url(#gd)"/><circle cx="5.0" cy="38.7" r="2.6" fill="url(#gd)"/><circle cx="27.2" cy="6.9" r="2.9" fill="url(#gd)"/><circle cx="23.9" cy="0.6" r="3.0" fill="url(#gd)"/><circle cx="-1.1" cy="20.0" r="3.1" fill="url(#gd)"/><circle cx="9.3" cy="43.1" r="2.5" fill="url(#gd)"/><circle cx="5.7" cy="32.1" r="3.2" fill="url(#gd)"/><circle cx="3.1" cy="26.3" r="3.2" fill="url(#gd)"/><circle cx="12.8" cy="30.9" r="2.4" fill="url(#gd)"/><circle cx="36.1" cy="43.7" r="2.9" fill="url(#gd)"/><circle cx="17.9" cy="38.7" r="2.8" fill="url(#gd)"/><circle cx="20.3" cy="22.3" r="2.5" fill="url(#gd)"/><circle cx="0.8" cy="18.6" r="3.0" fill="url(#gd)"/><circle cx="19.6" cy="9.4" r="2.5" fill="url(#gd)"/><circle cx="40.8" cy="28.8" r="2.7" fill="url(#gd)"/></g><g fill-opacity="0.88"><circle cx="31.6" cy="39.7" r="2.0" fill="url(#gb)"/><circle cx="27.1" cy="32.3" r="1.7" fill="url(#gb)"/><circle cx="20.7" cy="21.6" r="2.2" fill="url(#gd)"/><circle cx="43.0" cy="44.3" r="1.7" fill="url(#gd)"/><circle cx="39.0" cy="31.7" r="1.6" fill="url(#gb)"/><circle cx="12.5" cy="42.2" r="2.3" fill="url(#gd)"/><circle cx="44.3" cy="6.2" r="1.8" fill="url(#gb)"/><circle cx="28.1" cy="30.1" r="1.8" fill="url(#gb)"/><circle cx="10.2" cy="37.6" r="1.9" fill="url(#gb)"/><circle cx="9.5" cy="30.4" r="2.3" fill="url(#gb)"/><circle cx="20.1" cy="18.7" r="2.0" fill="url(#gd)"/><circle cx="29.3" cy="27.3" r="1.5" fill="url(#gb)"/><circle cx="35.9" cy="41.8" r="1.6" fill="url(#gb)"/><circle cx="25.3" cy="16.9" r="1.7" fill="url(#gd)"/><circle cx="-1.1" cy="23.7" r="1.7" fill="url(#gd)"/><circle cx="15.6" cy="-1.4" r="2.1" fill="url(#gb)"/><circle cx="36.5" cy="23.0" r="1.8" fill="url(#gb)"/><circle cx="39.3" cy="9.8" r="2.2" fill="url(#gb)"/><circle cx="2.2" cy="40.2" r="1.7" fill="url(#gb)"/><circle cx="1.3" cy="36.2" r="1.9" fill="url(#gb)"/><circle cx="29.9" cy="29.8" r="1.8" fill="url(#gb)"/><circle cx="12.3" cy="27.5" r="2.0" fill="url(#gb)"/><circle cx="15.1" cy="14.8" r="1.9" fill="url(#gb)"/><circle cx="30.0" cy="28.7" r="1.7" fill="url(#gb)"/><circle cx="15.1" cy="10.1" r="2.1" fill="url(#gb)"/><circle cx="22.7" cy="2.1" r="1.9" fill="url(#gb)"/><circle cx="28.2" cy="-0.5" r="1.6" fill="url(#gd)"/><circle cx="29.9" cy="8.6" r="1.9" fill="url(#gb)"/><circle cx="40.5" cy="43.4" r="2.2" fill="url(#gd)"/><circle cx="35.2" cy="-1.0" r="1.7" fill="url(#gb)"/><circle cx="6.9" cy="43.6" r="1.7" fill="url(#gd)"/><circle cx="32.7" cy="39.4" r="1.7" fill="url(#gb)"/><circle cx="26.2" cy="14.8" r="2.0" fill="url(#gd)"/><circle cx="33.4" cy="44.1" r="1.6" fill="url(#gb)"/><circle cx="22.2" cy="4.2" r="2.0" fill="url(#gd)"/><circle cx="20.0" cy="21.4" r="1.7" fill="url(#gb)"/><circle cx="18.4" cy="16.0" r="1.5" fill="url(#gd)"/><circle cx="38.2" cy="8.0" r="2.0" fill="url(#gd)"/><circle cx="35.6" cy="32.6" r="1.8" fill="url(#gb)"/><circle cx="7.6" cy="9.0" r="2.0" fill="url(#gd)"/><circle cx="-0.2" cy="40.9" r="1.9" fill="url(#gd)"/><circle cx="16.5" cy="27.6" r="1.6" fill="url(#gb)"/><circle cx="10.3" cy="3.3" r="2.1" fill="url(#gb)"/><circle cx="35.1" cy="41.5" r="2.2" fill="url(#gd)"/><circle cx="2.1" cy="12.8" r="2.1" fill="url(#gb)"/><circle cx="28.3" cy="22.3" r="1.9" fill="url(#gb)"/><circle cx="11.6" cy="10.7" r="1.6" fill="url(#gb)"/><circle cx="39.2" cy="28.8" r="1.7" fill="url(#gb)"/><circle cx="31.0" cy="21.1" r="1.8" fill="url(#gb)"/><circle cx="27.9" cy="27.9" r="1.8" fill="url(#gd)"/><circle cx="19.0" cy="28.5" r="1.7" fill="url(#gb)"/><circle cx="35.0" cy="-0.6" r="2.2" fill="url(#gd)"/><circle cx="34.3" cy="40.3" r="1.9" fill="url(#gd)"/><circle cx="6.1" cy="35.5" r="1.7" fill="url(#gd)"/><circle cx="43.1" cy="19.6" r="2.0" fill="url(#gb)"/><circle cx="37.6" cy="8.7" r="2.0" fill="url(#gb)"/><circle cx="27.5" cy="4.2" r="2.1" fill="url(#gb)"/><circle cx="23.4" cy="2.4" r="2.0" fill="url(#gb)"/><circle cx="9.8" cy="18.5" r="2.1" fill="url(#gb)"/><circle cx="17.8" cy="25.2" r="2.1" fill="url(#gd)"/><circle cx="25.3" cy="6.9" r="2.1" fill="url(#gb)"/><circle cx="10.4" cy="20.3" r="1.7" fill="url(#gb)"/><circle cx="15.6" cy="21.2" r="1.5" fill="url(#gd)"/><circle cx="11.8" cy="2.7" r="2.1" fill="url(#gb)"/><circle cx="5.4" cy="12.8" r="2.0" fill="url(#gb)"/><circle cx="36.7" cy="22.2" r="1.7" fill="url(#gd)"/><circle cx="39.3" cy="32.1" r="1.7" fill="url(#gb)"/><circle cx="13.7" cy="7.1" r="1.9" fill="url(#gd)"/><circle cx="6.0" cy="8.6" r="1.5" fill="url(#gd)"/><circle cx="10.0" cy="14.9" r="1.7" fill="url(#gb)"/><circle cx="26.0" cy="37.0" r="1.6" fill="url(#gd)"/><circle cx="15.5" cy="40.3" r="2.0" fill="url(#gd)"/><circle cx="13.6" cy="16.1" r="2.1" fill="url(#gb)"/><circle cx="-0.2" cy="25.3" r="2.1" fill="url(#gb)"/><circle cx="26.8" cy="32.9" r="2.2" fill="url(#gb)"/><circle cx="36.5" cy="43.8" r="2.0" fill="url(#gb)"/><circle cx="16.1" cy="41.5" r="1.8" fill="url(#gb)"/><circle cx="4.8" cy="-1.3" r="1.6" fill="url(#gd)"/><circle cx="20.4" cy="1.9" r="1.9" fill="url(#gb)"/><circle cx="12.2" cy="19.1" r="2.1" fill="url(#gd)"/><circle cx="42.4" cy="24.2" r="2.1" fill="url(#gb)"/><circle cx="37.1" cy="43.8" r="2.2" fill="url(#gb)"/><circle cx="39.2" cy="10.8" r="1.8" fill="url(#gb)"/><circle cx="36.3" cy="11.4" r="2.3" fill="url(#gb)"/><circle cx="0.5" cy="35.0" r="1.5" fill="url(#gb)"/></g></g></svg>
<svg x="75.60" y="361.90" width="43.2" height="43.3" viewBox="0 0 43.2 43.3" overflow="hidden"><g clip-path="url(#cp22)"><rect width="43.2" height="43.3" fill="#010301"/><g fill-opacity="0.616"><circle cx="42.8" cy="5.0" r="2.5" fill="url(#gd)"/><circle cx="4.1" cy="28.7" r="2.5" fill="url(#gd)"/><circle cx="25.7" cy="12.9" r="2.8" fill="url(#gd)"/><circle cx="10.4" cy="42.8" r="2.6" fill="url(#gd)"/><circle cx="11.0" cy="30.5" r="2.8" fill="url(#gd)"/><circle cx="40.8" cy="12.7" r="2.6" fill="url(#gd)"/><circle cx="26.0" cy="23.6" r="2.4" fill="url(#gd)"/><circle cx="44.5" cy="15.0" r="2.4" fill="url(#gd)"/><circle cx="37.4" cy="7.6" r="2.4" fill="url(#gd)"/><circle cx="14.6" cy="13.7" r="2.7" fill="url(#gd)"/><circle cx="32.6" cy="28.9" r="2.7" fill="url(#gd)"/><circle cx="36.8" cy="41.1" r="2.7" fill="url(#gd)"/><circle cx="32.9" cy="20.4" r="3.2" fill="url(#gd)"/><circle cx="3.6" cy="35.9" r="2.3" fill="url(#gd)"/><circle cx="21.6" cy="27.9" r="2.9" fill="url(#gd)"/><circle cx="26.1" cy="30.9" r="3.2" fill="url(#gd)"/><circle cx="14.8" cy="4.0" r="2.7" fill="url(#gd)"/><circle cx="25.3" cy="27.1" r="3.0" fill="url(#gd)"/><circle cx="41.2" cy="37.1" r="3.1" fill="url(#gd)"/><circle cx="27.4" cy="8.0" r="2.3" fill="url(#gd)"/><circle cx="30.3" cy="17.9" r="2.4" fill="url(#gd)"/><circle cx="6.7" cy="43.0" r="2.7" fill="url(#gd)"/><circle cx="26.4" cy="0.5" r="2.5" fill="url(#gd)"/><circle cx="19.4" cy="29.1" r="2.4" fill="url(#gd)"/><circle cx="14.3" cy="38.5" r="2.9" fill="url(#gd)"/><circle cx="42.6" cy="27.3" r="3.1" fill="url(#gd)"/><circle cx="22.2" cy="7.2" r="2.6" fill="url(#gd)"/><circle cx="35.2" cy="21.5" r="3.2" fill="url(#gd)"/><circle cx="33.7" cy="16.4" r="2.9" fill="url(#gd)"/><circle cx="2.5" cy="41.1" r="2.8" fill="url(#gd)"/><circle cx="38.4" cy="26.2" r="2.4" fill="url(#gd)"/><circle cx="21.9" cy="0.9" r="2.4" fill="url(#gd)"/><circle cx="1.6" cy="6.8" r="3.1" fill="url(#gd)"/><circle cx="28.6" cy="13.4" r="2.5" fill="url(#gd)"/><circle cx="36.6" cy="41.0" r="2.7" fill="url(#gd)"/><circle cx="14.9" cy="36.2" r="3.1" fill="url(#gd)"/><circle cx="42.8" cy="15.9" r="2.8" fill="url(#gd)"/><circle cx="8.6" cy="4.4" r="2.8" fill="url(#gd)"/><circle cx="19.0" cy="10.4" r="2.4" fill="url(#gd)"/><circle cx="20.7" cy="35.6" r="2.9" fill="url(#gd)"/></g><g fill-opacity="0.88"><circle cx="8.0" cy="4.6" r="1.8" fill="url(#gd)"/><circle cx="23.4" cy="16.8" r="1.9" fill="url(#gb)"/><circle cx="3.8" cy="37.5" r="1.7" fill="url(#gb)"/><circle cx="12.5" cy="9.6" r="2.1" fill="url(#gd)"/><circle cx="18.1" cy="34.5" r="1.7" fill="url(#gb)"/><circle cx="26.3" cy="9.6" r="1.9" fill="url(#gd)"/><circle cx="35.8" cy="44.0" r="1.7" fill="url(#gb)"/><circle cx="17.7" cy="4.4" r="1.9" fill="url(#gb)"/><circle cx="21.8" cy="28.7" r="1.9" fill="url(#gb)"/><circle cx="40.9" cy="16.8" r="2.0" fill="url(#gb)"/><circle cx="10.6" cy="-1.1" r="1.6" fill="url(#gd)"/><circle cx="42.0" cy="22.0" r="1.7" fill="url(#gb)"/><circle cx="4.1" cy="6.4" r="1.9" fill="url(#gb)"/><circle cx="30.7" cy="25.2" r="2.1" fill="url(#gb)"/><circle cx="28.0" cy="26.9" r="2.2" fill="url(#gb)"/><circle cx="9.2" cy="35.7" r="2.0" fill="url(#gb)"/><circle cx="26.9" cy="11.2" r="2.2" fill="url(#gd)"/><circle cx="41.0" cy="19.4" r="1.8" fill="url(#gb)"/><circle cx="-0.2" cy="20.8" r="2.0" fill="url(#gb)"/><circle cx="35.2" cy="6.4" r="1.6" fill="url(#gb)"/><circle cx="19.9" cy="7.9" r="1.9" fill="url(#gb)"/><circle cx="6.1" cy="-0.6" r="1.8" fill="url(#gd)"/><circle cx="28.4" cy="21.1" r="2.0" fill="url(#gb)"/><circle cx="32.3" cy="15.5" r="2.3" fill="url(#gd)"/><circle cx="5.1" cy="18.0" r="2.1" fill="url(#gd)"/><circle cx="15.3" cy="41.0" r="1.9" fill="url(#gd)"/><circle cx="39.4" cy="20.6" r="2.1" fill="url(#gb)"/><circle cx="23.8" cy="8.8" r="2.3" fill="url(#gd)"/><circle cx="34.6" cy="27.0" r="2.1" fill="url(#gb)"/><circle cx="14.4" cy="10.4" r="2.3" fill="url(#gd)"/><circle cx="40.7" cy="30.1" r="2.0" fill="url(#gd)"/><circle cx="29.4" cy="29.8" r="1.7" fill="url(#gb)"/><circle cx="8.3" cy="5.7" r="2.2" fill="url(#gb)"/><circle cx="9.0" cy="0.8" r="1.7" fill="url(#gb)"/><circle cx="27.0" cy="33.2" r="1.6" fill="url(#gb)"/><circle cx="22.2" cy="9.6" r="1.8" fill="url(#gb)"/><circle cx="2.5" cy="33.5" r="1.9" fill="url(#gb)"/><circle cx="15.4" cy="43.5" r="2.0" fill="url(#gd)"/><circle cx="30.4" cy="22.0" r="1.5" fill="url(#gb)"/><circle cx="42.2" cy="22.6" r="1.8" fill="url(#gd)"/><circle cx="37.0" cy="3.0" r="2.0" fill="url(#gd)"/><circle cx="15.0" cy="8.3" r="1.6" fill="url(#gb)"/><circle cx="38.3" cy="13.6" r="2.1" fill="url(#gd)"/><circle cx="15.4" cy="36.7" r="2.3" fill="url(#gd)"/><circle cx="35.2" cy="17.6" r="1.6" fill="url(#gb)"/><circle cx="5.8" cy="9.5" r="1.8" fill="url(#gb)"/><circle cx="35.5" cy="23.8" r="1.7" fill="url(#gb)"/><circle cx="17.3" cy="9.7" r="2.2" fill="url(#gd)"/><circle cx="24.8" cy="15.5" r="1.8" fill="url(#gb)"/><circle cx="-1.0" cy="10.0" r="1.5" fill="url(#gb)"/><circle cx="6.9" cy="8.2" r="1.7" fill="url(#gb)"/><circle cx="22.1" cy="25.6" r="1.7" fill="url(#gb)"/><circle cx="36.2" cy="7.6" r="1.9" fill="url(#gb)"/><circle cx="30.5" cy="2.9" r="1.6" fill="url(#gd)"/><circle cx="19.3" cy="35.7" r="1.8" fill="url(#gd)"/><circle cx="10.0" cy="41.3" r="2.0" fill="url(#gd)"/><circle cx="29.3" cy="4.5" r="2.0" fill="url(#gb)"/><circle cx="4.3" cy="42.8" r="1.7" fill="url(#gb)"/><circle cx="5.8" cy="39.1" r="1.9" fill="url(#gb)"/><circle cx="26.1" cy="24.4" r="2.1" fill="url(#gb)"/><circle cx="16.6" cy="42.5" r="2.3" fill="url(#gb)"/><circle cx="36.6" cy="25.5" r="2.0" fill="url(#gb)"/><circle cx="10.2" cy="0.4" r="1.6" fill="url(#gb)"/><circle cx="24.7" cy="34.9" r="1.6" fill="url(#gb)"/><circle cx="35.8" cy="33.7" r="2.1" fill="url(#gd)"/><circle cx="7.0" cy="29.2" r="2.1" fill="url(#gb)"/><circle cx="40.7" cy="43.7" r="2.2" fill="url(#gd)"/><circle cx="38.0" cy="30.9" r="1.9" fill="url(#gd)"/><circle cx="4.0" cy="30.8" r="1.9" fill="url(#gd)"/><circle cx="17.6" cy="37.1" r="2.0" fill="url(#gb)"/><circle cx="5.4" cy="37.9" r="2.2" fill="url(#gb)"/><circle cx="38.1" cy="19.2" r="2.0" fill="url(#gb)"/><circle cx="9.9" cy="41.9" r="1.5" fill="url(#gd)"/><circle cx="27.8" cy="35.2" r="1.9" fill="url(#gd)"/><circle cx="16.2" cy="-0.6" r="1.9" fill="url(#gb)"/><circle cx="25.8" cy="11.6" r="2.1" fill="url(#gb)"/><circle cx="10.3" cy="34.1" r="2.0" fill="url(#gd)"/><circle cx="44.0" cy="44.4" r="2.0" fill="url(#gb)"/><circle cx="43.9" cy="21.4" r="2.3" fill="url(#gb)"/><circle cx="4.5" cy="24.6" r="1.7" fill="url(#gb)"/><circle cx="15.7" cy="15.3" r="2.1" fill="url(#gb)"/><circle cx="8.0" cy="26.0" r="1.6" fill="url(#gb)"/><circle cx="35.2" cy="34.4" r="2.0" fill="url(#gb)"/><circle cx="41.6" cy="38.5" r="1.7" fill="url(#gb)"/><circle cx="17.1" cy="1.7" r="2.0" fill="url(#gb)"/><circle cx="13.4" cy="20.5" r="2.2" fill="url(#gb)"/><circle cx="21.6" cy="5.4" r="1.5" fill="url(#gb)"/><circle cx="-0.6" cy="30.8" r="1.9" fill="url(#gb)"/><circle cx="13.5" cy="9.8" r="2.0" fill="url(#gb)"/><circle cx="1.6" cy="36.8" r="2.2" fill="url(#gd)"/></g></g></svg>
<svg x="121.00" y="361.90" width="43.2" height="43.3" viewBox="0 0 43.2 43.3" overflow="hidden"><g clip-path="url(#cp23)"><rect width="43.2" height="43.3" fill="#010201"/><g fill-opacity="0.616"><circle cx="2.4" cy="25.9" r="2.4" fill="url(#gd)"/><circle cx="7.4" cy="19.1" r="3.1" fill="url(#gd)"/><circle cx="34.1" cy="8.0" r="2.9" fill="url(#gd)"/><circle cx="27.2" cy="43.4" r="3.2" fill="url(#gd)"/><circle cx="35.1" cy="29.8" r="2.8" fill="url(#gd)"/><circle cx="39.8" cy="19.6" r="2.4" fill="url(#gd)"/><circle cx="34.7" cy="31.2" r="2.6" fill="url(#gd)"/><circle cx="5.1" cy="33.0" r="2.5" fill="url(#gd)"/><circle cx="7.4" cy="2.0" r="3.0" fill="url(#gd)"/><circle cx="19.7" cy="12.2" r="2.9" fill="url(#gd)"/><circle cx="24.3" cy="9.5" r="3.1" fill="url(#gd)"/><circle cx="36.1" cy="39.9" r="2.4" fill="url(#gd)"/><circle cx="23.7" cy="18.2" r="3.0" fill="url(#gd)"/><circle cx="3.5" cy="27.7" r="2.5" fill="url(#gd)"/><circle cx="23.5" cy="9.4" r="3.0" fill="url(#gd)"/><circle cx="17.1" cy="35.2" r="3.0" fill="url(#gd)"/><circle cx="42.6" cy="17.9" r="2.8" fill="url(#gd)"/><circle cx="12.3" cy="40.1" r="3.1" fill="url(#gd)"/><circle cx="21.5" cy="34.5" r="2.6" fill="url(#gd)"/><circle cx="13.3" cy="14.7" r="2.4" fill="url(#gd)"/><circle cx="33.4" cy="39.4" r="2.6" fill="url(#gd)"/><circle cx="39.8" cy="44.2" r="2.4" fill="url(#gd)"/><circle cx="19.9" cy="4.1" r="2.3" fill="url(#gd)"/><circle cx="0.2" cy="34.7" r="2.3" fill="url(#gd)"/><circle cx="5.3" cy="37.3" r="2.8" fill="url(#gd)"/><circle cx="30.7" cy="26.5" r="3.1" fill="url(#gd)"/><circle cx="36.5" cy="26.4" r="2.3" fill="url(#gd)"/></g><g fill-opacity="0.88"><circle cx="14.7" cy="5.9" r="2.3" fill="url(#gd)"/><circle cx="41.9" cy="29.2" r="2.1" fill="url(#gb)"/><circle cx="43.8" cy="44.0" r="2.3" fill="url(#gd)"/><circle cx="14.7" cy="8.2" r="1.7" fill="url(#gb)"/><circle cx="17.3" cy="1.2" r="1.9" fill="url(#gd)"/><circle cx="27.7" cy="36.2" r="2.3" fill="url(#gd)"/><circle cx="29.0" cy="18.4" r="1.8" fill="url(#gb)"/><circle cx="16.2" cy="1.1" r="1.8" fill="url(#gd)"/><circle cx="38.9" cy="31.8" r="2.1" fill="url(#gb)"/><circle cx="43.7" cy="35.5" r="2.1" fill="url(#gb)"/><circle cx="26.5" cy="23.1" r="2.1" fill="url(#gd)"/><circle cx="12.9" cy="31.1" r="2.3" fill="url(#gb)"/><circle cx="25.4" cy="36.9" r="2.1" fill="url(#gb)"/><circle cx="42.7" cy="27.8" r="1.9" fill="url(#gd)"/><circle cx="18.0" cy="27.9" r="2.2" fill="url(#gb)"/><circle cx="29.0" cy="29.9" r="1.6" fill="url(#gb)"/><circle cx="5.1" cy="43.7" r="2.1" fill="url(#gd)"/><circle cx="14.8" cy="25.5" r="1.5" fill="url(#gd)"/><circle cx="21.4" cy="19.6" r="2.0" fill="url(#gb)"/><circle cx="35.3" cy="5.1" r="2.0" fill="url(#gb)"/><circle cx="37.2" cy="33.4" r="1.8" fill="url(#gd)"/><circle cx="34.0" cy="3.1" r="2.0" fill="url(#gd)"/><circle cx="18.1" cy="8.6" r="1.8" fill="url(#gb)"/><circle cx="24.5" cy="43.6" r="2.1" fill="url(#gb)"/><circle cx="33.6" cy="19.2" r="1.8" fill="url(#gd)"/><circle cx="16.0" cy="28.2" r="2.2" fill="url(#gb)"/><circle cx="34.4" cy="30.6" r="2.0" fill="url(#gb)"/><circle cx="28.7" cy="37.8" r="2.0" fill="url(#gd)"/><circle cx="27.9" cy="27.3" r="1.8" fill="url(#gb)"/><circle cx="32.7" cy="26.3" r="2.1" fill="url(#gd)"/><circle cx="36.2" cy="39.8" r="1.6" fill="url(#gb)"/><circle cx="34.6" cy="29.3" r="1.6" fill="url(#gd)"/><circle cx="26.3" cy="36.2" r="1.7" fill="url(#gd)"/><circle cx="43.8" cy="44.0" r="1.8" fill="url(#gb)"/><circle cx="34.1" cy="17.4" r="2.0" fill="url(#gb)"/><circle cx="13.0" cy="35.1" r="1.6" fill="url(#gb)"/><circle cx="7.0" cy="38.7" r="1.8" fill="url(#gb)"/><circle cx="3.2" cy="29.5" r="2.2" fill="url(#gb)"/><circle cx="36.0" cy="41.0" r="2.2" fill="url(#gb)"/><circle cx="33.7" cy="40.2" r="2.3" fill="url(#gd)"/><circle cx="0.2" cy="28.8" r="2.2" fill="url(#gb)"/><circle cx="40.7" cy="37.8" r="1.9" fill="url(#gb)"/><circle cx="11.5" cy="35.5" r="2.3" fill="url(#gd)"/><circle cx="25.6" cy="33.6" r="1.9" fill="url(#gd)"/><circle cx="4.1" cy="32.6" r="2.2" fill="url(#gd)"/><circle cx="8.9" cy="9.6" r="1.9" fill="url(#gd)"/><circle cx="17.7" cy="43.1" r="2.2" fill="url(#gb)"/><circle cx="0.4" cy="23.5" r="1.5" fill="url(#gb)"/><circle cx="22.3" cy="30.9" r="2.1" fill="url(#gb)"/><circle cx="39.5" cy="8.9" r="1.5" fill="url(#gb)"/><circle cx="42.1" cy="37.8" r="1.9" fill="url(#gd)"/><circle cx="13.0" cy="25.4" r="1.9" fill="url(#gb)"/><circle cx="29.3" cy="37.2" r="1.9" fill="url(#gb)"/><circle cx="8.7" cy="2.8" r="1.7" fill="url(#gb)"/><circle cx="30.6" cy="23.6" r="1.5" fill="url(#gb)"/><circle cx="10.8" cy="16.5" r="1.5" fill="url(#gb)"/><circle cx="10.5" cy="6.1" r="2.1" fill="url(#gb)"/><circle cx="42.7" cy="43.5" r="1.8" fill="url(#gb)"/><circle cx="24.9" cy="40.7" r="2.0" fill="url(#gb)"/><circle cx="24.2" cy="31.8" r="2.2" fill="url(#gb)"/></g></g></svg>
<svg x="166.40" y="361.90" width="43.2" height="43.3" viewBox="0 0 43.2 43.3" overflow="hidden"><g clip-path="url(#cp24)"><rect width="43.2" height="43.3" fill="#010201"/><g fill-opacity="0.616"><circle cx="31.4" cy="37.4" r="2.5" fill="url(#gd)"/><circle cx="42.8" cy="32.7" r="2.7" fill="url(#gd)"/><circle cx="44.5" cy="30.3" r="2.9" fill="url(#gd)"/><circle cx="29.0" cy="0.0" r="3.1" fill="url(#gd)"/><circle cx="35.4" cy="36.4" r="2.5" fill="url(#gd)"/><circle cx="32.8" cy="41.3" r="3.0" fill="url(#gd)"/><circle cx="28.7" cy="13.5" r="2.7" fill="url(#gd)"/><circle cx="10.5" cy="22.1" r="2.4" fill="url(#gd)"/><circle cx="9.1" cy="8.1" r="2.7" fill="url(#gd)"/><circle cx="36.9" cy="10.1" r="2.6" fill="url(#gd)"/><circle cx="39.4" cy="40.4" r="2.9" fill="url(#gd)"/><circle cx="18.8" cy="34.9" r="3.2" fill="url(#gd)"/><circle cx="31.4" cy="36.1" r="3.1" fill="url(#gd)"/><circle cx="5.2" cy="33.0" r="3.1" fill="url(#gd)"/><circle cx="17.0" cy="16.7" r="2.6" fill="url(#gd)"/><circle cx="16.8" cy="-0.6" r="2.5" fill="url(#gd)"/><circle cx="25.7" cy="42.3" r="2.4" fill="url(#gd)"/><circle cx="2.3" cy="9.4" r="2.3" fill="url(#gd)"/><circle cx="40.4" cy="35.3" r="2.4" fill="url(#gd)"/><circle cx="34.5" cy="33.9" r="2.8" fill="url(#gd)"/><circle cx="19.8" cy="16.0" r="2.6" fill="url(#gd)"/><circle cx="7.3" cy="5.6" r="2.6" fill="url(#gd)"/><circle cx="26.6" cy="42.3" r="2.7" fill="url(#gd)"/><circle cx="20.5" cy="27.3" r="2.5" fill="url(#gd)"/><circle cx="12.0" cy="20.5" r="2.5" fill="url(#gd)"/><circle cx="27.7" cy="24.8" r="3.0" fill="url(#gd)"/><circle cx="35.2" cy="41.6" r="2.6" fill="url(#gd)"/><circle cx="15.0" cy="19.3" r="2.3" fill="url(#gd)"/><circle cx="34.5" cy="27.8" r="2.8" fill="url(#gd)"/><circle cx="15.1" cy="7.6" r="2.6" fill="url(#gd)"/><circle cx="42.3" cy="28.4" r="2.8" fill="url(#gd)"/><circle cx="26.7" cy="31.3" r="2.6" fill="url(#gd)"/><circle cx="34.2" cy="42.6" r="3.1" fill="url(#gd)"/><circle cx="32.2" cy="37.5" r="2.8" fill="url(#gd)"/><circle cx="28.5" cy="14.4" r="3.2" fill="url(#gd)"/><circle cx="16.1" cy="1.4" r="2.5" fill="url(#gd)"/><circle cx="37.4" cy="35.1" r="2.8" fill="url(#gd)"/><circle cx="29.6" cy="24.3" r="3.0" fill="url(#gd)"/></g><g fill-opacity="0.88"><circle cx="37.1" cy="34.5" r="1.7" fill="url(#gb)"/><circle cx="20.5" cy="0.5" r="2.0" fill="url(#gd)"/><circle cx="18.0" cy="7.2" r="1.8" fill="url(#gb)"/><circle cx="31.5" cy="20.6" r="1.8" fill="url(#gd)"/><circle cx="21.8" cy="33.1" r="2.1" fill="url(#gb)"/><circle cx="3.9" cy="3.7" r="2.1" fill="url(#gd)"/><circle cx="35.3" cy="5.1" r="1.6" fill="url(#gb)"/><circle cx="23.1" cy="11.9" r="2.3" fill="url(#gd)"/><circle cx="39.4" cy="33.2" r="2.3" fill="url(#gd)"/><circle cx="17.8" cy="22.7" r="1.8" fill="url(#gd)"/><circle cx="43.3" cy="26.5" r="2.2" fill="url(#gb)"/><circle cx="43.6" cy="36.7" r="1.5" fill="url(#gd)"/><circle cx="41.0" cy="40.4" r="2.0" fill="url(#gd)"/><circle cx="26.0" cy="40.7" r="2.0" fill="url(#gb)"/><circle cx="25.9" cy="4.1" r="1.8" fill="url(#gb)"/><circle cx="23.1" cy="29.1" r="2.0" fill="url(#gb)"/><circle cx="31.8" cy="43.8" r="1.6" fill="url(#gb)"/><circle cx="16.9" cy="8.0" r="1.6" fill="url(#gd)"/><circle cx="5.7" cy="27.9" r="1.6" fill="url(#gb)"/><circle cx="13.1" cy="2.4" r="2.2" fill="url(#gb)"/><circle cx="33.8" cy="39.9" r="1.7" fill="url(#gb)"/><circle cx="14.7" cy="22.3" r="1.9" fill="url(#gb)"/><circle cx="39.0" cy="17.2" r="2.3" fill="url(#gb)"/><circle cx="37.4" cy="8.2" r="1.8" fill="url(#gd)"/><circle cx="20.3" cy="10.1" r="1.8" fill="url(#gb)"/><circle cx="17.5" cy="22.3" r="2.2" fill="url(#gd)"/><circle cx="5.0" cy="24.3" r="1.5" fill="url(#gd)"/><circle cx="3.3" cy="9.4" r="2.2" fill="url(#gd)"/><circle cx="3.5" cy="5.7" r="1.5" fill="url(#gd)"/><circle cx="7.8" cy="21.0" r="1.7" fill="url(#gb)"/><circle cx="32.9" cy="32.0" r="2.0" fill="url(#gb)"/><circle cx="18.1" cy="15.5" r="1.6" fill="url(#gb)"/><circle cx="29.4" cy="35.8" r="1.7" fill="url(#gd)"/><circle cx="20.0" cy="6.1" r="1.7" fill="url(#gb)"/><circle cx="-1.0" cy="31.0" r="2.1" fill="url(#gd)"/><circle cx="-0.3" cy="26.4" r="2.0" fill="url(#gb)"/><circle cx="24.8" cy="15.7" r="1.7" fill="url(#gb)"/><circle cx="24.5" cy="-0.5" r="2.3" fill="url(#gd)"/><circle cx="9.4" cy="24.8" r="1.8" fill="url(#gb)"/><circle cx="22.9" cy="21.5" r="2.3" fill="url(#gd)"/><circle cx="33.8" cy="19.0" r="1.9" fill="url(#gb)"/><circle cx="32.2" cy="25.7" r="1.6" fill="url(#gd)"/><circle cx="20.9" cy="27.0" r="1.8" fill="url(#gb)"/><circle cx="17.7" cy="23.9" r="1.6" fill="url(#gd)"/><circle cx="33.1" cy="42.7" r="1.5" fill="url(#gb)"/><circle cx="37.3" cy="18.1" r="1.7" fill="url(#gb)"/><circle cx="41.9" cy="6.0" r="1.6" fill="url(#gd)"/><circle cx="33.9" cy="13.1" r="2.0" fill="url(#gd)"/><circle cx="30.2" cy="22.0" r="2.0" fill="url(#gd)"/><circle cx="20.3" cy="17.1" r="1.7" fill="url(#gb)"/><circle cx="40.4" cy="28.3" r="1.7" fill="url(#gb)"/><circle cx="12.3" cy="25.3" r="2.1" fill="url(#gb)"/><circle cx="18.6" cy="7.5" r="1.6" fill="url(#gd)"/><circle cx="24.6" cy="9.3" r="2.1" fill="url(#gb)"/><circle cx="14.6" cy="33.9" r="1.9" fill="url(#gd)"/><circle cx="30.6" cy="24.5" r="2.0" fill="url(#gb)"/><circle cx="28.2" cy="11.8" r="2.2" fill="url(#gb)"/><circle cx="14.9" cy="35.2" r="2.2" fill="url(#gd)"/><circle cx="41.8" cy="16.9" r="1.9" fill="url(#gd)"/><circle cx="26.9" cy="34.3" r="1.6" fill="url(#gd)"/><circle cx="18.6" cy="41.2" r="1.8" fill="url(#gd)"/><circle cx="5.7" cy="21.5" r="2.1" fill="url(#gb)"/><circle cx="37.4" cy="38.3" r="1.8" fill="url(#gd)"/><circle cx="38.9" cy="30.4" r="2.3" fill="url(#gb)"/><circle cx="12.1" cy="-0.5" r="2.3" fill="url(#gb)"/><circle cx="28.1" cy="31.3" r="1.9" fill="url(#gb)"/><circle cx="37.3" cy="31.2" r="2.3" fill="url(#gd)"/><circle cx="25.1" cy="21.7" r="2.0" fill="url(#gd)"/><circle cx="17.8" cy="17.6" r="1.5" fill="url(#gb)"/><circle cx="29.6" cy="21.2" r="1.8" fill="url(#gb)"/><circle cx="8.6" cy="26.5" r="1.7" fill="url(#gd)"/><circle cx="20.8" cy="15.5" r="1.8" fill="url(#gb)"/><circle cx="21.0" cy="34.8" r="2.1" fill="url(#gb)"/><circle cx="17.0" cy="40.1" r="1.9" fill="url(#gd)"/><circle cx="23.9" cy="24.3" r="1.8" fill="url(#gb)"/><circle cx="41.5" cy="36.0" r="1.7" fill="url(#gd)"/><circle cx="14.6" cy="27.2" r="2.2" fill="url(#gb)"/><circle cx="16.0" cy="21.4" r="2.1" fill="url(#gb)"/><circle cx="7.5" cy="24.2" r="2.2" fill="url(#gb)"/><circle cx="40.6" cy="20.0" r="2.0" fill="url(#gd)"/><circle cx="13.5" cy="19.5" r="1.9" fill="url(#gd)"/><circle cx="42.0" cy="16.9" r="1.9" fill="url(#gb)"/><circle cx="10.7" cy="4.1" r="1.8" fill="url(#gb)"/><circle cx="4.0" cy="4.8" r="2.0" fill="url(#gd)"/><circle cx="37.8" cy="8.8" r="2.3" fill="url(#gb)"/></g></g></svg>
<svg x="211.90" y="361.90" width="43.2" height="43.3" viewBox="0 0 43.2 43.3" overflow="hidden"><g clip-path="url(#cp25)"><rect width="43.2" height="43.3" fill="#010301"/><g fill-opacity="0.644"><circle cx="12.6" cy="18.1" r="2.8" fill="url(#gd)"/><circle cx="23.9" cy="22.3" r="2.8" fill="url(#gd)"/><circle cx="15.0" cy="14.9" r="2.4" fill="url(#gd)"/><circle cx="38.3" cy="19.2" r="2.7" fill="url(#gd)"/><circle cx="36.4" cy="21.4" r="3.0" fill="url(#gd)"/><circle cx="15.9" cy="43.3" r="2.7" fill="url(#gd)"/><circle cx="4.3" cy="9.3" r="2.5" fill="url(#gd)"/><circle cx="23.5" cy="19.4" r="2.7" fill="url(#gd)"/><circle cx="20.1" cy="18.0" r="3.1" fill="url(#gd)"/><circle cx="10.7" cy="13.2" r="2.8" fill="url(#gd)"/><circle cx="32.8" cy="10.5" r="2.8" fill="url(#gd)"/><circle cx="41.9" cy="26.9" r="2.9" fill="url(#gd)"/><circle cx="26.1" cy="28.7" r="2.5" fill="url(#gd)"/><circle cx="39.7" cy="6.4" r="2.6" fill="url(#gd)"/><circle cx="31.7" cy="30.5" r="2.8" fill="url(#gd)"/><circle cx="35.2" cy="15.4" r="3.1" fill="url(#gd)"/><circle cx="11.3" cy="18.7" r="3.1" fill="url(#gd)"/><circle cx="1.7" cy="26.4" r="3.2" fill="url(#gd)"/><circle cx="0.8" cy="19.2" r="2.6" fill="url(#gd)"/><circle cx="1.7" cy="0.9" r="3.0" fill="url(#gd)"/><circle cx="27.6" cy="12.0" r="2.4" fill="url(#gd)"/><circle cx="15.8" cy="44.2" r="2.4" fill="url(#gd)"/><circle cx="29.8" cy="42.3" r="3.0" fill="url(#gd)"/><circle cx="33.5" cy="34.7" r="2.6" fill="url(#gd)"/><circle cx="23.3" cy="6.6" r="3.0" fill="url(#gd)"/><circle cx="21.7" cy="11.5" r="2.4" fill="url(#gd)"/><circle cx="38.7" cy="19.9" r="2.6" fill="url(#gd)"/><circle cx="13.5" cy="35.1" r="2.6" fill="url(#gd)"/><circle cx="14.4" cy="20.5" r="2.9" fill="url(#gd)"/><circle cx="42.2" cy="17.9" r="3.1" fill="url(#gd)"/><circle cx="1.8" cy="42.2" r="2.7" fill="url(#gd)"/><circle cx="25.9" cy="2.9" r="3.2" fill="url(#gd)"/><circle cx="22.8" cy="21.0" r="3.0" fill="url(#gd)"/><circle cx="25.1" cy="5.8" r="2.5" fill="url(#gd)"/><circle cx="15.8" cy="18.1" r="3.0" fill="url(#gd)"/><circle cx="31.4" cy="40.3" r="3.2" fill="url(#gd)"/><circle cx="18.8" cy="11.4" r="3.2" fill="url(#gd)"/><circle cx="25.6" cy="39.6" r="2.5" fill="url(#gd)"/><circle cx="34.2" cy="23.0" r="2.4" fill="url(#gd)"/><circle cx="25.3" cy="23.0" r="2.9" fill="url(#gd)"/><circle cx="32.0" cy="14.9" r="2.4" fill="url(#gd)"/><circle cx="17.7" cy="35.7" r="3.0" fill="url(#gd)"/><circle cx="31.6" cy="17.0" r="3.2" fill="url(#gd)"/><circle cx="30.2" cy="28.3" r="2.3" fill="url(#gd)"/><circle cx="39.7" cy="23.8" r="2.8" fill="url(#gd)"/><circle cx="23.6" cy="24.1" r="2.6" fill="url(#gd)"/><circle cx="44.5" cy="0.5" r="2.7" fill="url(#gd)"/></g><g fill-opacity="0.92"><circle cx="39.0" cy="20.3" r="1.6" fill="url(#gb)"/><circle cx="21.2" cy="25.1" r="1.7" fill="url(#gb)"/><circle cx="11.4" cy="16.3" r="1.6" fill="url(#gd)"/><circle cx="16.8" cy="8.1" r="2.1" fill="url(#gb)"/><circle cx="2.8" cy="3.5" r="1.9" fill="url(#gb)"/><circle cx="20.8" cy="37.2" r="1.7" fill="url(#gb)"/><circle cx="40.2" cy="37.2" r="1.6" fill="url(#gb)"/><circle cx="43.3" cy="9.3" r="1.7" fill="url(#gb)"/><circle cx="28.9" cy="31.7" r="1.8" fill="url(#gb)"/><circle cx="16.2" cy="18.6" r="2.0" fill="url(#gd)"/><circle cx="25.1" cy="28.1" r="2.0" fill="url(#gd)"/><circle cx="41.9" cy="10.0" r="1.5" fill="url(#gb)"/><circle cx="22.7" cy="22.1" r="2.1" fill="url(#gb)"/><circle cx="41.6" cy="3.4" r="2.3" fill="url(#gd)"/><circle cx="28.2" cy="1.7" r="1.6" fill="url(#gb)"/><circle cx="44.1" cy="44.5" r="1.8" fill="url(#gb)"/><circle cx="25.1" cy="15.9" r="2.3" fill="url(#gd)"/><circle cx="23.6" cy="24.0" r="1.6" fill="url(#gd)"/><circle cx="2.6" cy="7.0" r="2.0" fill="url(#gb)"/><circle cx="5.8" cy="10.1" r="1.5" fill="url(#gb)"/><circle cx="7.0" cy="23.6" r="1.6" fill="url(#gb)"/><circle cx="3.8" cy="0.5" r="2.0" fill="url(#gd)"/><circle cx="35.3" cy="11.3" r="1.8" fill="url(#gb)"/><circle cx="24.5" cy="6.6" r="2.0" fill="url(#gb)"/><circle cx="35.6" cy="12.7" r="1.8" fill="url(#gb)"/><circle cx="14.4" cy="26.8" r="2.1" fill="url(#gb)"/><circle cx="17.2" cy="24.0" r="1.5" fill="url(#gd)"/><circle cx="0.9" cy="24.9" r="2.2" fill="url(#gd)"/><circle cx="1.6" cy="22.0" r="1.8" fill="url(#gb)"/><circle cx="29.6" cy="11.9" r="1.6" fill="url(#gb)"/><circle cx="39.2" cy="22.7" r="1.5" fill="url(#gb)"/><circle cx="33.2" cy="11.5" r="2.1" fill="url(#gb)"/><circle cx="33.9" cy="3.0" r="1.7" fill="url(#gd)"/><circle cx="29.7" cy="26.9" r="1.6" fill="url(#gd)"/><circle cx="2.0" cy="43.7" r="1.8" fill="url(#gb)"/><circle cx="26.6" cy="7.5" r="2.0" fill="url(#gd)"/><circle cx="2.5" cy="9.2" r="1.6" fill="url(#gb)"/><circle cx="6.2" cy="19.4" r="1.8" fill="url(#gd)"/><circle cx="36.1" cy="-0.6" r="1.5" fill="url(#gb)"/><circle cx="22.8" cy="42.7" r="2.0" fill="url(#gb)"/><circle cx="23.5" cy="42.2" r="1.7" fill="url(#gb)"/><circle cx="37.9" cy="30.5" r="2.2" fill="url(#gd)"/><circle cx="35.6" cy="23.4" r="1.6" fill="url(#gd)"/><circle cx="25.7" cy="22.6" r="2.2" fill="url(#gd)"/><circle cx="26.8" cy="31.3" r="2.0" fill="url(#gd)"/><circle cx="7.3" cy="37.8" r="1.8" fill="url(#gb)"/><circle cx="26.2" cy="8.1" r="1.7" fill="url(#gb)"/><circle cx="41.1" cy="35.1" r="2.1" fill="url(#gb)"/><circle cx="23.2" cy="34.2" r="2.1" fill="url(#gb)"/><circle cx="16.0" cy="39.1" r="2.1" fill="url(#gd)"/><circle cx="14.4" cy="15.7" r="1.7" fill="url(#gd)"/><circle cx="8.1" cy="20.1" r="1.7" fill="url(#gb)"/><circle cx="38.0" cy="12.9" r="1.8" fill="url(#gd)"/><circle cx="43.7" cy="30.2" r="1.8" fill="url(#gb)"/><circle cx="31.7" cy="9.3" r="1.6" fill="url(#gb)"/><circle cx="11.8" cy="26.5" r="2.2" fill="url(#gd)"/><circle cx="42.1" cy="4.9" r="2.0" fill="url(#gb)"/><circle cx="37.2" cy="23.4" r="2.2" fill="url(#gb)"/><circle cx="13.7" cy="18.2" r="1.7" fill="url(#gb)"/><circle cx="37.8" cy="28.3" r="1.5" fill="url(#gb)"/><circle cx="3.7" cy="3.2" r="1.6" fill="url(#gb)"/><circle cx="43.1" cy="25.4" r="2.1" fill="url(#gb)"/><circle cx="2.9" cy="27.4" r="2.0" fill="url(#gb)"/><circle cx="19.9" cy="8.0" r="1.9" fill="url(#gb)"/><circle cx="37.2" cy="12.3" r="2.1" fill="url(#gb)"/><circle cx="18.8" cy="34.5" r="1.6" fill="url(#gb)"/><circle cx="8.0" cy="37.7" r="2.1" fill="url(#gd)"/><circle cx="21.9" cy="1.7" r="1.5" fill="url(#gb)"/><circle cx="43.8" cy="14.7" r="2.0" fill="url(#gb)"/><circle cx="35.6" cy="8.6" r="2.0" fill="url(#gb)"/><circle cx="38.3" cy="41.0" r="1.8" fill="url(#gb)"/><circle cx="20.4" cy="21.9" r="2.1" fill="url(#gb)"/><circle cx="28.5" cy="20.8" r="2.1" fill="url(#gb)"/><circle cx="37.7" cy="31.8" r="2.0" fill="url(#gb)"/><circle cx="24.9" cy="8.1" r="2.2" fill="url(#gd)"/><circle cx="16.8" cy="12.2" r="1.8" fill="url(#gd)"/><circle cx="17.8" cy="3.5" r="2.0" fill="url(#gb)"/><circle cx="4.4" cy="8.0" r="1.6" fill="url(#gd)"/><circle cx="12.2" cy="20.4" r="2.0" fill="url(#gb)"/><circle cx="29.3" cy="10.7" r="2.2" fill="url(#gb)"/><circle cx="35.1" cy="29.5" r="2.0" fill="url(#gd)"/><circle cx="5.9" cy="16.8" r="1.9" fill="url(#gb)"/><circle cx="29.8" cy="9.0" r="1.8" fill="url(#gb)"/><circle cx="11.1" cy="29.3" r="2.0" fill="url(#gb)"/><circle cx="28.5" cy="19.7" r="1.5" fill="url(#gb)"/><circle cx="24.3" cy="31.3" r="1.7" fill="url(#gd)"/><circle cx="4.1" cy="14.5" r="1.9" fill="url(#gd)"/><circle cx="17.8" cy="23.2" r="1.6" fill="url(#gb)"/><circle cx="39.0" cy="14.2" r="2.1" fill="url(#gb)"/><circle cx="31.8" cy="12.4" r="2.1" fill="url(#gd)"/><circle cx="15.9" cy="8.6" r="1.8" fill="url(#gb)"/><circle cx="21.5" cy="40.7" r="1.6" fill="url(#gd)"/><circle cx="31.7" cy="34.9" r="1.5" fill="url(#gb)"/><circle cx="31.1" cy="23.9" r="1.9" fill="url(#gd)"/><circle cx="16.3" cy="10.3" r="2.1" fill="url(#gd)"/><circle cx="38.9" cy="15.0" r="1.6" fill="url(#gb)"/><circle cx="15.3" cy="8.5" r="1.9" fill="url(#gb)"/><circle cx="0.8" cy="5.6" r="2.1" fill="url(#gb)"/><circle cx="14.6" cy="13.0" r="1.8" fill="url(#gd)"/><circle cx="11.3" cy="12.1" r="1.8" fill="url(#gb)"/><circle cx="38.0" cy="17.1" r="2.0" fill="url(#gd)"/><circle cx="40.2" cy="24.3" r="1.7" fill="url(#gd)"/><circle cx="27.1" cy="16.8" r="1.5" fill="url(#gb)"/><circle cx="31.4" cy="30.9" r="1.6" fill="url(#gb)"/><circle cx="12.9" cy="28.5" r="1.5" fill="url(#gb)"/></g></g></svg>
<svg x="30.30" y="406.80" width="43.2" height="43.3" viewBox="0 0 43.2 43.3" overflow="hidden"><g clip-path="url(#cp31)"><rect width="43.2" height="43.3" fill="#160203"/><g fill-opacity="0.595"><circle cx="-0.9" cy="3.7" r="2.6" fill="url(#rd)"/><circle cx="0.5" cy="42.5" r="3.2" fill="url(#rd)"/><circle cx="4.9" cy="44.0" r="3.2" fill="url(#rd)"/><circle cx="4.8" cy="23.3" r="3.0" fill="url(#rd)"/><circle cx="8.0" cy="26.0" r="2.5" fill="url(#rd)"/><circle cx="41.9" cy="17.2" r="2.7" fill="url(#rd)"/><circle cx="16.6" cy="26.1" r="2.7" fill="url(#rd)"/><circle cx="8.5" cy="25.6" r="3.5" fill="url(#rd)"/><circle cx="37.2" cy="15.0" r="2.6" fill="url(#rd)"/><circle cx="35.3" cy="15.9" r="3.2" fill="url(#rd)"/><circle cx="38.6" cy="28.6" r="2.7" fill="url(#rd)"/><circle cx="18.5" cy="15.5" r="3.1" fill="url(#rd)"/><circle cx="8.6" cy="0.4" r="2.8" fill="url(#rd)"/><circle cx="24.9" cy="20.8" r="3.5" fill="url(#rd)"/><circle cx="43.6" cy="44.5" r="3.4" fill="url(#rd)"/><circle cx="24.4" cy="41.8" r="2.6" fill="url(#rd)"/><circle cx="7.4" cy="41.1" r="3.2" fill="url(#rd)"/><circle cx="2.9" cy="17.0" r="3.1" fill="url(#rd)"/><circle cx="44.3" cy="7.6" r="2.7" fill="url(#rd)"/><circle cx="13.9" cy="17.2" r="3.1" fill="url(#rd)"/><circle cx="4.0" cy="3.1" r="3.5" fill="url(#rd)"/><circle cx="7.8" cy="6.0" r="3.0" fill="url(#rd)"/><circle cx="21.5" cy="35.0" r="3.4" fill="url(#rd)"/><circle cx="43.8" cy="21.2" r="3.4" fill="url(#rd)"/><circle cx="20.9" cy="35.4" r="3.5" fill="url(#rd)"/><circle cx="34.0" cy="10.3" r="2.8" fill="url(#rd)"/><circle cx="-1.0" cy="15.9" r="2.9" fill="url(#rd)"/><circle cx="44.4" cy="4.6" r="3.4" fill="url(#rd)"/><circle cx="39.5" cy="35.0" r="3.2" fill="url(#rd)"/><circle cx="24.1" cy="24.4" r="2.7" fill="url(#rd)"/><circle cx="7.5" cy="27.0" r="3.2" fill="url(#rd)"/><circle cx="20.1" cy="4.7" r="3.0" fill="url(#rd)"/><circle cx="14.5" cy="7.4" r="3.2" fill="url(#rd)"/><circle cx="25.3" cy="6.2" r="3.2" fill="url(#rd)"/><circle cx="8.1" cy="9.9" r="2.7" fill="url(#rd)"/><circle cx="39.6" cy="12.7" r="3.4" fill="url(#rd)"/><circle cx="10.9" cy="42.0" r="2.5" fill="url(#rd)"/><circle cx="26.9" cy="40.0" r="3.0" fill="url(#rd)"/><circle cx="18.6" cy="31.0" r="2.9" fill="url(#rd)"/><circle cx="36.3" cy="16.3" r="2.7" fill="url(#rd)"/><circle cx="13.4" cy="12.3" r="2.6" fill="url(#rd)"/><circle cx="8.5" cy="43.4" r="3.4" fill="url(#rd)"/><circle cx="19.4" cy="28.7" r="2.9" fill="url(#rd)"/><circle cx="1.6" cy="5.6" r="3.3" fill="url(#rd)"/><circle cx="43.8" cy="11.3" r="3.3" fill="url(#rd)"/><circle cx="12.4" cy="40.8" r="2.9" fill="url(#rd)"/><circle cx="34.4" cy="9.3" r="3.3" fill="url(#rd)"/><circle cx="23.5" cy="13.3" r="3.2" fill="url(#rd)"/><circle cx="31.2" cy="-0.5" r="3.4" fill="url(#rd)"/><circle cx="29.6" cy="22.5" r="2.8" fill="url(#rd)"/><circle cx="16.4" cy="29.9" r="3.3" fill="url(#rd)"/><circle cx="0.7" cy="24.9" r="2.5" fill="url(#rd)"/><circle cx="42.6" cy="30.2" r="2.8" fill="url(#rd)"/><circle cx="3.5" cy="23.9" r="2.7" fill="url(#rd)"/><circle cx="21.2" cy="44.7" r="3.3" fill="url(#rd)"/><circle cx="12.8" cy="35.5" r="2.7" fill="url(#rd)"/><circle cx="38.3" cy="23.8" r="2.5" fill="url(#rd)"/><circle cx="35.6" cy="18.9" r="3.3" fill="url(#rd)"/><circle cx="29.3" cy="-1.3" r="2.7" fill="url(#rd)"/></g><g fill-opacity="0.7"><circle cx="44.4" cy="20.0" r="1.6" fill="url(#rd)"/><circle cx="24.8" cy="40.6" r="2.1" fill="url(#rd)"/><circle cx="7.8" cy="8.6" r="2.1" fill="url(#rb)"/><circle cx="37.3" cy="0.3" r="2.0" fill="url(#rd)"/><circle cx="17.0" cy="36.3" r="1.9" fill="url(#rd)"/><circle cx="24.2" cy="34.8" r="1.6" fill="url(#rd)"/><circle cx="38.7" cy="12.7" r="1.7" fill="url(#rb)"/><circle cx="16.1" cy="9.1" r="1.9" fill="url(#rd)"/><circle cx="41.0" cy="34.4" r="2.1" fill="url(#rd)"/><circle cx="36.4" cy="18.0" r="1.7" fill="url(#rb)"/><circle cx="8.9" cy="10.5" r="1.7" fill="url(#rb)"/><circle cx="37.8" cy="31.3" r="1.8" fill="url(#rd)"/><circle cx="34.5" cy="18.5" r="2.0" fill="url(#rb)"/><circle cx="13.9" cy="40.2" r="2.0" fill="url(#rd)"/><circle cx="5.1" cy="18.7" r="1.6" fill="url(#rb)"/><circle cx="26.3" cy="13.0" r="2.0" fill="url(#rd)"/><circle cx="34.2" cy="4.1" r="2.0" fill="url(#rb)"/><circle cx="25.9" cy="34.0" r="1.7" fill="url(#rd)"/><circle cx="12.6" cy="16.5" r="2.0" fill="url(#rd)"/><circle cx="38.0" cy="43.7" r="2.2" fill="url(#rd)"/><circle cx="28.4" cy="6.3" r="2.0" fill="url(#rb)"/><circle cx="23.2" cy="36.3" r="1.9" fill="url(#rb)"/><circle cx="43.2" cy="6.5" r="2.1" fill="url(#rb)"/><circle cx="25.5" cy="35.6" r="2.3" fill="url(#rd)"/><circle cx="36.5" cy="14.1" r="1.9" fill="url(#rd)"/><circle cx="33.7" cy="31.9" r="2.3" fill="url(#rd)"/><circle cx="6.0" cy="31.3" r="2.1" fill="url(#rd)"/><circle cx="14.5" cy="38.2" r="2.2" fill="url(#rb)"/><circle cx="40.4" cy="26.3" r="1.7" fill="url(#rb)"/><circle cx="-0.6" cy="0.9" r="2.1" fill="url(#rd)"/><circle cx="9.5" cy="15.7" r="1.8" fill="url(#rd)"/><circle cx="0.9" cy="12.3" r="1.7" fill="url(#rb)"/><circle cx="17.2" cy="22.3" r="2.1" fill="url(#rb)"/><circle cx="14.4" cy="23.6" r="2.4" fill="url(#rd)"/><circle cx="38.3" cy="31.1" r="1.9" fill="url(#rb)"/><circle cx="10.0" cy="38.8" r="2.3" fill="url(#rd)"/><circle cx="15.1" cy="17.6" r="2.4" fill="url(#rb)"/><circle cx="31.4" cy="27.8" r="2.3" fill="url(#rb)"/><circle cx="24.7" cy="5.4" r="2.3" fill="url(#rb)"/><circle cx="11.5" cy="7.2" r="1.9" fill="url(#rb)"/><circle cx="5.9" cy="20.2" r="2.4" fill="url(#rd)"/><circle cx="11.3" cy="15.0" r="2.4" fill="url(#rd)"/><circle cx="20.0" cy="31.7" r="1.8" fill="url(#rd)"/><circle cx="17.7" cy="23.5" r="1.6" fill="url(#rb)"/><circle cx="23.2" cy="23.0" r="1.9" fill="url(#rd)"/><circle cx="22.1" cy="31.0" r="2.0" fill="url(#rd)"/><circle cx="22.8" cy="24.1" r="1.8" fill="url(#rb)"/><circle cx="30.3" cy="43.8" r="2.2" fill="url(#rd)"/><circle cx="16.8" cy="2.5" r="1.7" fill="url(#rb)"/><circle cx="26.3" cy="16.6" r="2.4" fill="url(#rd)"/><circle cx="4.4" cy="28.9" r="1.9" fill="url(#rd)"/><circle cx="10.5" cy="11.2" r="1.6" fill="url(#rb)"/><circle cx="16.8" cy="0.5" r="2.0" fill="url(#rb)"/><circle cx="42.6" cy="20.1" r="2.2" fill="url(#rd)"/><circle cx="41.6" cy="6.4" r="1.9" fill="url(#rd)"/><circle cx="6.0" cy="11.8" r="2.3" fill="url(#rd)"/><circle cx="4.0" cy="10.2" r="1.7" fill="url(#rb)"/><circle cx="8.5" cy="0.6" r="1.8" fill="url(#rd)"/><circle cx="3.2" cy="0.9" r="2.0" fill="url(#rd)"/><circle cx="1.1" cy="0.0" r="1.7" fill="url(#rb)"/><circle cx="3.9" cy="24.3" r="1.7" fill="url(#rb)"/><circle cx="37.3" cy="13.4" r="1.9" fill="url(#rd)"/><circle cx="36.5" cy="15.6" r="2.3" fill="url(#rb)"/><circle cx="39.0" cy="37.6" r="1.8" fill="url(#rd)"/><circle cx="20.2" cy="30.3" r="2.1" fill="url(#rb)"/><circle cx="28.3" cy="-0.4" r="2.2" fill="url(#rb)"/><circle cx="36.8" cy="44.6" r="2.1" fill="url(#rb)"/><circle cx="5.3" cy="19.5" r="2.1" fill="url(#rb)"/><circle cx="26.3" cy="38.9" r="2.1" fill="url(#rd)"/><circle cx="15.7" cy="33.4" r="1.9" fill="url(#rd)"/><circle cx="35.2" cy="29.1" r="2.0" fill="url(#rd)"/><circle cx="3.0" cy="24.5" r="1.9" fill="url(#rb)"/><circle cx="40.5" cy="36.2" r="1.7" fill="url(#rb)"/><circle cx="4.7" cy="34.5" r="2.3" fill="url(#rd)"/><circle cx="35.6" cy="31.1" r="1.6" fill="url(#rd)"/><circle cx="39.2" cy="29.5" r="1.9" fill="url(#rd)"/><circle cx="35.9" cy="22.7" r="1.8" fill="url(#rd)"/><circle cx="13.2" cy="2.8" r="2.1" fill="url(#rd)"/><circle cx="38.3" cy="28.2" r="2.4" fill="url(#rb)"/><circle cx="28.8" cy="34.4" r="2.0" fill="url(#rb)"/><circle cx="31.6" cy="38.5" r="2.0" fill="url(#rb)"/><circle cx="38.0" cy="30.9" r="2.1" fill="url(#rd)"/><circle cx="10.1" cy="14.9" r="2.1" fill="url(#rd)"/><circle cx="-1.1" cy="26.5" r="2.4" fill="url(#rb)"/><circle cx="41.2" cy="13.2" r="2.3" fill="url(#rd)"/></g></g></svg>
<svg x="75.60" y="406.80" width="43.2" height="43.3" viewBox="0 0 43.2 43.3" overflow="hidden"><g clip-path="url(#cp32)"><rect width="43.2" height="43.3" fill="#180204"/><g fill-opacity="0.6375"><circle cx="2.1" cy="8.4" r="3.0" fill="url(#rd)"/><circle cx="31.8" cy="3.1" r="3.0" fill="url(#rd)"/><circle cx="42.1" cy="39.3" r="3.0" fill="url(#rd)"/><circle cx="34.6" cy="22.8" r="3.3" fill="url(#rd)"/><circle cx="42.5" cy="7.8" r="2.5" fill="url(#rd)"/><circle cx="18.4" cy="41.2" r="2.7" fill="url(#rd)"/><circle cx="12.8" cy="41.5" r="3.1" fill="url(#rd)"/><circle cx="9.1" cy="13.8" r="3.3" fill="url(#rd)"/><circle cx="11.9" cy="30.8" r="3.3" fill="url(#rd)"/><circle cx="19.1" cy="31.0" r="2.6" fill="url(#rd)"/><circle cx="10.5" cy="24.1" r="2.7" fill="url(#rd)"/><circle cx="0.2" cy="-1.2" r="3.5" fill="url(#rd)"/><circle cx="27.1" cy="22.8" r="2.9" fill="url(#rd)"/><circle cx="42.8" cy="4.5" r="3.1" fill="url(#rd)"/><circle cx="4.9" cy="10.0" r="2.6" fill="url(#rd)"/><circle cx="-1.4" cy="38.1" r="3.3" fill="url(#rd)"/><circle cx="17.8" cy="9.0" r="2.9" fill="url(#rd)"/><circle cx="41.9" cy="12.5" r="2.6" fill="url(#rd)"/><circle cx="30.5" cy="10.6" r="2.9" fill="url(#rd)"/><circle cx="36.4" cy="0.1" r="3.4" fill="url(#rd)"/><circle cx="0.7" cy="26.2" r="2.9" fill="url(#rd)"/><circle cx="3.8" cy="13.2" r="2.7" fill="url(#rd)"/><circle cx="18.9" cy="19.4" r="3.0" fill="url(#rd)"/><circle cx="37.6" cy="-0.8" r="2.6" fill="url(#rd)"/><circle cx="39.3" cy="21.8" r="3.3" fill="url(#rd)"/><circle cx="1.9" cy="25.8" r="2.6" fill="url(#rd)"/><circle cx="42.6" cy="-0.6" r="2.9" fill="url(#rd)"/><circle cx="28.3" cy="14.6" r="3.1" fill="url(#rd)"/><circle cx="15.4" cy="-0.5" r="2.6" fill="url(#rd)"/><circle cx="30.0" cy="28.1" r="2.6" fill="url(#rd)"/><circle cx="28.2" cy="39.5" r="3.4" fill="url(#rd)"/><circle cx="12.6" cy="28.9" r="2.8" fill="url(#rd)"/><circle cx="43.0" cy="36.1" r="3.3" fill="url(#rd)"/><circle cx="8.4" cy="12.5" r="3.0" fill="url(#rd)"/><circle cx="33.6" cy="19.1" r="2.8" fill="url(#rd)"/><circle cx="44.5" cy="30.4" r="2.7" fill="url(#rd)"/><circle cx="0.8" cy="9.2" r="3.3" fill="url(#rd)"/><circle cx="26.6" cy="24.8" r="2.8" fill="url(#rd)"/><circle cx="-0.7" cy="39.9" r="2.8" fill="url(#rd)"/><circle cx="31.4" cy="40.3" r="2.8" fill="url(#rd)"/><circle cx="3.3" cy="14.6" r="3.1" fill="url(#rd)"/><circle cx="-0.8" cy="23.8" r="2.7" fill="url(#rd)"/><circle cx="39.2" cy="19.2" r="3.1" fill="url(#rd)"/><circle cx="30.0" cy="38.9" r="3.1" fill="url(#rd)"/><circle cx="-0.8" cy="43.6" r="2.6" fill="url(#rd)"/><circle cx="32.7" cy="39.6" r="2.9" fill="url(#rd)"/><circle cx="33.9" cy="2.2" r="2.7" fill="url(#rd)"/><circle cx="17.4" cy="23.9" r="2.7" fill="url(#rd)"/><circle cx="27.9" cy="18.9" r="2.6" fill="url(#rd)"/><circle cx="37.1" cy="32.4" r="3.0" fill="url(#rd)"/><circle cx="40.7" cy="5.2" r="3.2" fill="url(#rd)"/><circle cx="15.1" cy="17.5" r="3.0" fill="url(#rd)"/><circle cx="29.5" cy="19.9" r="3.0" fill="url(#rd)"/><circle cx="8.2" cy="9.6" r="2.9" fill="url(#rd)"/><circle cx="13.4" cy="40.7" r="2.9" fill="url(#rd)"/><circle cx="7.3" cy="-0.1" r="3.3" fill="url(#rd)"/><circle cx="33.9" cy="43.2" r="3.2" fill="url(#rd)"/><circle cx="42.7" cy="31.0" r="3.4" fill="url(#rd)"/><circle cx="42.5" cy="34.0" r="3.0" fill="url(#rd)"/><circle cx="36.9" cy="19.3" r="3.4" fill="url(#rd)"/><circle cx="12.3" cy="30.3" r="3.0" fill="url(#rd)"/><circle cx="2.8" cy="8.1" r="2.8" fill="url(#rd)"/><circle cx="19.1" cy="2.1" r="2.7" fill="url(#rd)"/><circle cx="20.7" cy="1.7" r="2.9" fill="url(#rd)"/><circle cx="39.3" cy="22.0" r="3.2" fill="url(#rd)"/><circle cx="44.3" cy="35.7" r="3.2" fill="url(#rd)"/></g><g fill-opacity="0.75"><circle cx="18.5" cy="13.7" r="1.9" fill="url(#rd)"/><circle cx="29.9" cy="19.0" r="2.1" fill="url(#rd)"/><circle cx="26.8" cy="0.5" r="2.4" fill="url(#rb)"/><circle cx="34.8" cy="8.5" r="2.2" fill="url(#rb)"/><circle cx="25.1" cy="1.7" r="1.7" fill="url(#rb)"/><circle cx="3.2" cy="27.7" r="1.9" fill="url(#rb)"/><circle cx="27.1" cy="39.7" r="1.6" fill="url(#rb)"/><circle cx="27.0" cy="23.3" r="2.1" fill="url(#rd)"/><circle cx="34.2" cy="35.1" r="2.2" fill="url(#rb)"/><circle cx="33.6" cy="0.5" r="2.0" fill="url(#rb)"/><circle cx="3.4" cy="12.1" r="1.6" fill="url(#rd)"/><circle cx="42.7" cy="-1.2" r="2.2" fill="url(#rd)"/><circle cx="6.7" cy="26.9" r="2.3" fill="url(#rd)"/><circle cx="11.3" cy="27.4" r="2.2" fill="url(#rd)"/><circle cx="28.5" cy="40.1" r="2.2" fill="url(#rd)"/><circle cx="12.3" cy="39.6" r="2.1" fill="url(#rb)"/><circle cx="30.3" cy="34.3" r="2.1" fill="url(#rb)"/><circle cx="24.8" cy="7.2" r="2.2" fill="url(#rb)"/><circle cx="39.8" cy="42.4" r="2.0" fill="url(#rd)"/><circle cx="35.0" cy="43.8" r="1.8" fill="url(#rd)"/><circle cx="22.2" cy="32.7" r="2.0" fill="url(#rb)"/><circle cx="13.5" cy="2.7" r="2.0" fill="url(#rb)"/><circle cx="35.4" cy="29.6" r="2.0" fill="url(#rd)"/><circle cx="37.1" cy="8.1" r="2.2" fill="url(#rb)"/><circle cx="22.5" cy="5.7" r="2.0" fill="url(#rd)"/><circle cx="33.9" cy="27.4" r="2.2" fill="url(#rb)"/><circle cx="10.2" cy="38.4" r="1.9" fill="url(#rb)"/><circle cx="2.5" cy="15.1" r="2.2" fill="url(#rd)"/><circle cx="27.6" cy="30.3" r="2.3" fill="url(#rb)"/><circle cx="32.0" cy="23.5" r="1.7" fill="url(#rb)"/><circle cx="0.2" cy="18.3" r="2.3" fill="url(#rd)"/><circle cx="41.9" cy="20.6" r="1.8" fill="url(#rd)"/><circle cx="43.0" cy="-1.3" r="2.2" fill="url(#rb)"/><circle cx="33.0" cy="29.6" r="1.9" fill="url(#rd)"/><circle cx="26.9" cy="7.3" r="1.9" fill="url(#rb)"/><circle cx="29.8" cy="31.4" r="2.3" fill="url(#rd)"/><circle cx="3.1" cy="16.9" r="1.7" fill="url(#rb)"/><circle cx="9.2" cy="34.6" r="1.6" fill="url(#rb)"/><circle cx="9.0" cy="20.8" r="2.0" fill="url(#rb)"/><circle cx="36.3" cy="26.0" r="1.9" fill="url(#rb)"/><circle cx="42.2" cy="35.4" r="1.7" fill="url(#rb)"/><circle cx="42.0" cy="5.7" r="2.0" fill="url(#rd)"/><circle cx="26.1" cy="30.8" r="2.2" fill="url(#rd)"/><circle cx="11.3" cy="17.7" r="2.3" fill="url(#rd)"/><circle cx="17.2" cy="8.5" r="2.2" fill="url(#rb)"/><circle cx="19.4" cy="43.9" r="1.8" fill="url(#rb)"/><circle cx="28.6" cy="34.5" r="2.0" fill="url(#rd)"/><circle cx="6.0" cy="15.2" r="1.9" fill="url(#rb)"/><circle cx="36.9" cy="27.5" r="1.7" fill="url(#rd)"/><circle cx="6.8" cy="4.3" r="2.0" fill="url(#rd)"/><circle cx="39.4" cy="0.4" r="1.8" fill="url(#rd)"/><circle cx="2.3" cy="21.3" r="1.9" fill="url(#rb)"/><circle cx="44.1" cy="29.0" r="2.2" fill="url(#rb)"/><circle cx="33.5" cy="37.0" r="2.1" fill="url(#rb)"/><circle cx="30.7" cy="23.8" r="2.1" fill="url(#rb)"/><circle cx="5.3" cy="2.3" r="1.6" fill="url(#rb)"/><circle cx="26.6" cy="4.9" r="2.0" fill="url(#rd)"/><circle cx="40.2" cy="36.2" r="1.9" fill="url(#rd)"/><circle cx="24.0" cy="5.3" r="2.4" fill="url(#rd)"/><circle cx="9.5" cy="30.0" r="2.2" fill="url(#rb)"/><circle cx="12.1" cy="13.4" r="2.1" fill="url(#rb)"/><circle cx="3.6" cy="38.2" r="2.1" fill="url(#rd)"/><circle cx="7.7" cy="20.4" r="2.3" fill="url(#rd)"/><circle cx="5.9" cy="3.5" r="1.6" fill="url(#rd)"/><circle cx="4.7" cy="33.2" r="2.3" fill="url(#rd)"/><circle cx="27.0" cy="27.6" r="1.9" fill="url(#rd)"/><circle cx="8.5" cy="6.7" r="2.3" fill="url(#rb)"/><circle cx="35.1" cy="28.3" r="2.2" fill="url(#rb)"/><circle cx="39.8" cy="40.5" r="2.3" fill="url(#rd)"/><circle cx="9.7" cy="38.8" r="1.8" fill="url(#rb)"/><circle cx="14.7" cy="19.5" r="1.6" fill="url(#rb)"/><circle cx="44.3" cy="4.8" r="1.9" fill="url(#rd)"/><circle cx="8.0" cy="38.9" r="1.9" fill="url(#rd)"/><circle cx="16.0" cy="9.4" r="1.8" fill="url(#rb)"/><circle cx="7.5" cy="31.9" r="1.8" fill="url(#rd)"/><circle cx="0.9" cy="16.9" r="1.8" fill="url(#rb)"/><circle cx="19.2" cy="6.0" r="1.8" fill="url(#rb)"/><circle cx="9.6" cy="7.9" r="2.2" fill="url(#rb)"/><circle cx="30.1" cy="35.4" r="2.1" fill="url(#rb)"/><circle cx="9.4" cy="15.4" r="1.8" fill="url(#rd)"/><circle cx="3.2" cy="5.8" r="1.7" fill="url(#rd)"/><circle cx="43.1" cy="5.2" r="2.2" fill="url(#rd)"/><circle cx="2.1" cy="-1.2" r="1.9" fill="url(#rd)"/><circle cx="34.8" cy="18.1" r="2.2" fill="url(#rb)"/><circle cx="34.3" cy="3.2" r="2.0" fill="url(#rd)"/><circle cx="37.0" cy="26.6" r="1.7" fill="url(#rd)"/><circle cx="11.0" cy="44.1" r="2.0" fill="url(#rb)"/><circle cx="2.6" cy="16.1" r="1.7" fill="url(#rd)"/><circle cx="7.9" cy="43.8" r="2.2" fill="url(#rd)"/><circle cx="8.9" cy="44.6" r="2.2" fill="url(#rd)"/><circle cx="36.0" cy="-1.4" r="1.6" fill="url(#rb)"/><circle cx="30.2" cy="15.5" r="2.2" fill="url(#rd)"/><circle cx="39.3" cy="27.1" r="1.9" fill="url(#rd)"/><circle cx="12.0" cy="24.1" r="2.3" fill="url(#rb)"/><circle cx="27.3" cy="44.4" r="2.1" fill="url(#rb)"/></g></g></svg>
<svg x="121.00" y="406.80" width="43.2" height="43.3" viewBox="0 0 43.2 43.3" overflow="hidden"><g clip-path="url(#cp33)"><rect width="43.2" height="43.3" fill="#280307"/><g fill-opacity="0.7224999999999999"><circle cx="24.8" cy="27.8" r="3.0" fill="url(#rd)"/><circle cx="39.2" cy="23.2" r="3.5" fill="url(#rd)"/><circle cx="40.3" cy="42.2" r="3.5" fill="url(#rd)"/><circle cx="22.9" cy="19.1" r="2.8" fill="url(#rd)"/><circle cx="12.8" cy="21.5" r="3.2" fill="url(#rd)"/><circle cx="38.2" cy="29.9" r="3.4" fill="url(#rd)"/><circle cx="24.2" cy="30.0" r="3.4" fill="url(#rd)"/><circle cx="13.3" cy="39.6" r="3.5" fill="url(#rd)"/><circle cx="1.6" cy="15.4" r="3.3" fill="url(#rd)"/><circle cx="22.2" cy="13.3" r="3.0" fill="url(#rd)"/><circle cx="12.6" cy="16.8" r="3.2" fill="url(#rd)"/><circle cx="39.1" cy="15.4" r="2.6" fill="url(#rd)"/><circle cx="2.8" cy="35.9" r="2.6" fill="url(#rd)"/><circle cx="11.2" cy="7.9" r="3.2" fill="url(#rd)"/><circle cx="16.5" cy="26.2" r="3.1" fill="url(#rd)"/><circle cx="19.5" cy="38.4" r="2.6" fill="url(#rd)"/><circle cx="20.7" cy="16.1" r="2.6" fill="url(#rd)"/><circle cx="38.8" cy="-0.8" r="3.2" fill="url(#rd)"/><circle cx="38.8" cy="37.6" r="3.4" fill="url(#rd)"/><circle cx="32.2" cy="20.9" r="3.4" fill="url(#rd)"/><circle cx="41.5" cy="11.5" r="2.9" fill="url(#rd)"/><circle cx="21.9" cy="10.6" r="2.9" fill="url(#rd)"/><circle cx="33.6" cy="13.2" r="2.7" fill="url(#rd)"/><circle cx="42.8" cy="40.9" r="3.1" fill="url(#rd)"/><circle cx="11.7" cy="27.4" r="3.3" fill="url(#rd)"/><circle cx="18.5" cy="36.0" r="3.3" fill="url(#rd)"/><circle cx="25.6" cy="22.2" r="2.7" fill="url(#rd)"/><circle cx="2.8" cy="11.0" r="3.1" fill="url(#rd)"/><circle cx="7.7" cy="7.2" r="2.6" fill="url(#rd)"/><circle cx="29.9" cy="-1.0" r="3.5" fill="url(#rd)"/><circle cx="29.9" cy="-1.2" r="2.9" fill="url(#rd)"/><circle cx="40.8" cy="36.2" r="3.0" fill="url(#rd)"/><circle cx="34.6" cy="25.7" r="3.3" fill="url(#rd)"/><circle cx="9.0" cy="3.7" r="2.6" fill="url(#rd)"/><circle cx="39.7" cy="21.6" r="3.5" fill="url(#rd)"/><circle cx="33.4" cy="37.2" r="3.3" fill="url(#rd)"/><circle cx="21.5" cy="12.0" r="2.8" fill="url(#rd)"/><circle cx="4.4" cy="13.9" r="2.9" fill="url(#rd)"/><circle cx="33.2" cy="11.1" r="3.0" fill="url(#rd)"/><circle cx="37.2" cy="10.5" r="2.9" fill="url(#rd)"/><circle cx="4.5" cy="35.5" r="3.0" fill="url(#rd)"/><circle cx="28.0" cy="9.4" r="2.5" fill="url(#rd)"/><circle cx="5.4" cy="7.1" r="2.7" fill="url(#rd)"/><circle cx="26.9" cy="36.3" r="2.9" fill="url(#rd)"/><circle cx="16.2" cy="11.6" r="2.7" fill="url(#rd)"/><circle cx="0.5" cy="5.9" r="2.8" fill="url(#rd)"/><circle cx="3.9" cy="43.5" r="2.8" fill="url(#rd)"/><circle cx="35.9" cy="0.4" r="3.2" fill="url(#rd)"/><circle cx="4.5" cy="5.9" r="3.1" fill="url(#rd)"/><circle cx="33.2" cy="37.7" r="2.7" fill="url(#rd)"/><circle cx="7.7" cy="39.4" r="3.4" fill="url(#rd)"/><circle cx="31.2" cy="11.5" r="3.4" fill="url(#rd)"/><circle cx="27.5" cy="9.4" r="3.3" fill="url(#rd)"/><circle cx="19.0" cy="17.0" r="2.9" fill="url(#rd)"/><circle cx="18.9" cy="11.5" r="2.6" fill="url(#rd)"/><circle cx="7.1" cy="13.8" r="3.3" fill="url(#rd)"/><circle cx="4.6" cy="9.5" r="3.4" fill="url(#rd)"/><circle cx="17.6" cy="5.3" r="3.3" fill="url(#rd)"/><circle cx="16.9" cy="2.9" r="2.9" fill="url(#rd)"/><circle cx="25.6" cy="35.1" r="3.0" fill="url(#rd)"/><circle cx="21.9" cy="12.9" r="2.8" fill="url(#rd)"/><circle cx="19.7" cy="40.9" r="2.9" fill="url(#rd)"/><circle cx="-0.9" cy="6.3" r="2.8" fill="url(#rd)"/><circle cx="36.7" cy="41.5" r="3.3" fill="url(#rd)"/><circle cx="7.5" cy="19.4" r="2.8" fill="url(#rd)"/><circle cx="18.6" cy="21.7" r="2.9" fill="url(#rd)"/><circle cx="4.0" cy="-0.1" r="2.7" fill="url(#rd)"/><circle cx="32.1" cy="27.6" r="3.3" fill="url(#rd)"/><circle cx="10.6" cy="-0.2" r="2.7" fill="url(#rd)"/><circle cx="22.3" cy="8.0" r="2.6" fill="url(#rd)"/><circle cx="17.8" cy="13.2" r="2.9" fill="url(#rd)"/><circle cx="22.1" cy="15.0" r="2.9" fill="url(#rd)"/><circle cx="42.9" cy="26.1" r="3.2" fill="url(#rd)"/><circle cx="29.5" cy="10.5" r="2.6" fill="url(#rd)"/><circle cx="18.4" cy="14.0" r="2.9" fill="url(#rd)"/><circle cx="5.2" cy="12.7" r="3.0" fill="url(#rd)"/><circle cx="35.6" cy="14.8" r="2.8" fill="url(#rd)"/><circle cx="29.3" cy="-1.4" r="3.1" fill="url(#rd)"/><circle cx="1.4" cy="23.3" r="2.7" fill="url(#rd)"/><circle cx="5.4" cy="21.4" r="2.9" fill="url(#rd)"/><circle cx="6.2" cy="27.5" r="3.1" fill="url(#rd)"/><circle cx="18.4" cy="39.6" r="3.3" fill="url(#rd)"/><circle cx="-1.0" cy="27.8" r="2.7" fill="url(#rd)"/><circle cx="23.9" cy="11.4" r="3.0" fill="url(#rd)"/><circle cx="31.9" cy="6.5" r="2.7" fill="url(#rd)"/><circle cx="29.2" cy="2.3" r="3.2" fill="url(#rd)"/><circle cx="40.7" cy="33.9" r="3.0" fill="url(#rd)"/></g><g fill-opacity="0.85"><circle cx="4.2" cy="20.3" r="2.2" fill="url(#rb)"/><circle cx="32.9" cy="41.9" r="1.9" fill="url(#rd)"/><circle cx="35.6" cy="15.4" r="2.3" fill="url(#rd)"/><circle cx="39.9" cy="40.6" r="2.0" fill="url(#rb)"/><circle cx="11.8" cy="28.1" r="2.2" fill="url(#rd)"/><circle cx="22.4" cy="28.5" r="1.8" fill="url(#rb)"/><circle cx="4.9" cy="3.7" r="2.4" fill="url(#rb)"/><circle cx="4.6" cy="3.2" r="2.0" fill="url(#rb)"/><circle cx="33.5" cy="21.4" r="1.8" fill="url(#rd)"/><circle cx="14.1" cy="21.9" r="1.8" fill="url(#rb)"/><circle cx="14.7" cy="28.9" r="2.2" fill="url(#rb)"/><circle cx="3.5" cy="4.0" r="1.9" fill="url(#rd)"/><circle cx="34.7" cy="31.6" r="1.6" fill="url(#rb)"/><circle cx="23.8" cy="14.2" r="1.9" fill="url(#rd)"/><circle cx="14.4" cy="21.9" r="1.9" fill="url(#rd)"/><circle cx="3.2" cy="31.0" r="2.0" fill="url(#rd)"/><circle cx="-0.3" cy="23.1" r="2.1" fill="url(#rb)"/><circle cx="18.3" cy="33.8" r="1.9" fill="url(#rd)"/><circle cx="34.7" cy="21.3" r="1.8" fill="url(#rb)"/><circle cx="43.6" cy="26.1" r="1.9" fill="url(#rd)"/><circle cx="31.0" cy="36.4" r="2.3" fill="url(#rb)"/><circle cx="14.2" cy="16.0" r="1.7" fill="url(#rd)"/><circle cx="12.7" cy="15.7" r="2.3" fill="url(#rb)"/><circle cx="33.3" cy="40.5" r="1.9" fill="url(#rb)"/><circle cx="22.3" cy="8.7" r="2.2" fill="url(#rb)"/><circle cx="23.5" cy="38.0" r="2.1" fill="url(#rd)"/><circle cx="33.4" cy="39.0" r="2.2" fill="url(#rb)"/><circle cx="43.4" cy="-0.6" r="2.4" fill="url(#rd)"/><circle cx="35.9" cy="17.2" r="2.1" fill="url(#rb)"/><circle cx="39.7" cy="36.4" r="1.6" fill="url(#rd)"/><circle cx="-1.2" cy="19.2" r="2.3" fill="url(#rb)"/><circle cx="1.7" cy="8.0" r="2.0" fill="url(#rb)"/><circle cx="13.2" cy="43.0" r="2.2" fill="url(#rb)"/><circle cx="41.0" cy="13.9" r="2.3" fill="url(#rd)"/><circle cx="11.1" cy="24.5" r="2.0" fill="url(#rb)"/><circle cx="38.8" cy="30.3" r="2.2" fill="url(#rb)"/><circle cx="33.1" cy="10.4" r="2.2" fill="url(#rb)"/><circle cx="14.7" cy="1.4" r="1.6" fill="url(#rb)"/><circle cx="34.7" cy="25.6" r="1.7" fill="url(#rb)"/><circle cx="20.7" cy="35.9" r="1.7" fill="url(#rd)"/><circle cx="13.7" cy="19.5" r="2.1" fill="url(#rd)"/><circle cx="30.0" cy="1.2" r="2.1" fill="url(#rb)"/><circle cx="4.9" cy="38.5" r="2.3" fill="url(#rd)"/><circle cx="41.7" cy="6.3" r="1.8" fill="url(#rb)"/><circle cx="22.1" cy="5.9" r="2.0" fill="url(#rd)"/><circle cx="17.7" cy="32.5" r="2.0" fill="url(#rd)"/><circle cx="38.8" cy="43.2" r="2.2" fill="url(#rb)"/><circle cx="4.6" cy="29.2" r="2.3" fill="url(#rb)"/><circle cx="15.7" cy="43.0" r="1.8" fill="url(#rd)"/><circle cx="6.2" cy="23.7" r="1.6" fill="url(#rd)"/><circle cx="40.0" cy="15.1" r="1.6" fill="url(#rb)"/><circle cx="29.7" cy="3.1" r="2.3" fill="url(#rb)"/><circle cx="15.9" cy="40.9" r="2.2" fill="url(#rd)"/><circle cx="7.6" cy="0.7" r="2.3" fill="url(#rd)"/><circle cx="3.8" cy="1.7" r="1.9" fill="url(#rd)"/><circle cx="3.3" cy="2.8" r="1.7" fill="url(#rd)"/><circle cx="34.4" cy="16.8" r="1.6" fill="url(#rb)"/><circle cx="15.8" cy="29.2" r="2.4" fill="url(#rb)"/><circle cx="40.8" cy="4.6" r="2.2" fill="url(#rd)"/><circle cx="16.1" cy="-0.0" r="2.1" fill="url(#rb)"/><circle cx="33.6" cy="33.5" r="1.6" fill="url(#rb)"/><circle cx="42.0" cy="42.7" r="2.3" fill="url(#rd)"/><circle cx="11.0" cy="28.5" r="1.9" fill="url(#rb)"/><circle cx="26.3" cy="34.6" r="1.6" fill="url(#rd)"/><circle cx="15.3" cy="21.6" r="1.7" fill="url(#rb)"/><circle cx="25.9" cy="37.1" r="2.2" fill="url(#rd)"/><circle cx="10.4" cy="10.5" r="1.7" fill="url(#rd)"/><circle cx="41.2" cy="0.8" r="1.8" fill="url(#rb)"/><circle cx="10.6" cy="20.0" r="1.7" fill="url(#rd)"/><circle cx="40.3" cy="43.3" r="1.7" fill="url(#rd)"/><circle cx="43.4" cy="7.8" r="2.2" fill="url(#rb)"/><circle cx="29.5" cy="2.0" r="2.2" fill="url(#rb)"/><circle cx="12.9" cy="12.5" r="2.0" fill="url(#rd)"/><circle cx="31.5" cy="1.7" r="1.7" fill="url(#rb)"/><circle cx="41.5" cy="24.4" r="2.0" fill="url(#rb)"/><circle cx="42.6" cy="28.0" r="2.3" fill="url(#rb)"/><circle cx="19.7" cy="2.8" r="2.3" fill="url(#rd)"/><circle cx="9.3" cy="28.7" r="1.7" fill="url(#rb)"/><circle cx="16.7" cy="14.2" r="2.3" fill="url(#rb)"/><circle cx="11.8" cy="40.7" r="1.6" fill="url(#rb)"/><circle cx="24.4" cy="7.2" r="2.3" fill="url(#rb)"/><circle cx="29.9" cy="38.0" r="2.3" fill="url(#rb)"/><circle cx="41.5" cy="21.0" r="2.3" fill="url(#rb)"/><circle cx="33.9" cy="32.2" r="2.4" fill="url(#rb)"/><circle cx="8.9" cy="40.6" r="1.6" fill="url(#rb)"/><circle cx="5.6" cy="25.2" r="2.3" fill="url(#rd)"/><circle cx="38.0" cy="33.3" r="2.3" fill="url(#rb)"/><circle cx="16.6" cy="4.8" r="2.4" fill="url(#rd)"/><circle cx="31.0" cy="32.9" r="2.2" fill="url(#rd)"/><circle cx="25.1" cy="2.8" r="1.9" fill="url(#rd)"/><circle cx="12.8" cy="0.3" r="2.2" fill="url(#rb)"/><circle cx="33.1" cy="36.0" r="2.2" fill="url(#rb)"/><circle cx="36.6" cy="13.9" r="2.3" fill="url(#rd)"/><circle cx="-0.1" cy="25.0" r="1.7" fill="url(#rb)"/><circle cx="40.1" cy="35.8" r="1.6" fill="url(#rb)"/><circle cx="39.0" cy="22.8" r="2.1" fill="url(#rd)"/><circle cx="30.4" cy="6.0" r="2.1" fill="url(#rd)"/><circle cx="35.2" cy="20.3" r="1.7" fill="url(#rb)"/><circle cx="9.8" cy="27.7" r="2.1" fill="url(#rd)"/><circle cx="15.2" cy="35.9" r="1.9" fill="url(#rd)"/><circle cx="43.2" cy="16.6" r="2.3" fill="url(#rb)"/><circle cx="24.0" cy="11.3" r="2.0" fill="url(#rd)"/><circle cx="10.8" cy="42.5" r="2.0" fill="url(#rb)"/><circle cx="14.4" cy="34.8" r="2.2" fill="url(#rd)"/><circle cx="26.9" cy="39.3" r="1.8" fill="url(#rb)"/><circle cx="41.2" cy="28.6" r="1.9" fill="url(#rb)"/><circle cx="9.7" cy="20.9" r="2.1" fill="url(#rd)"/><circle cx="40.0" cy="6.4" r="2.3" fill="url(#rd)"/><circle cx="12.5" cy="18.6" r="2.2" fill="url(#rd)"/><circle cx="44.3" cy="1.6" r="2.0" fill="url(#rd)"/><circle cx="6.0" cy="-0.7" r="2.1" fill="url(#rd)"/><circle cx="-1.2" cy="23.4" r="2.2" fill="url(#rd)"/><circle cx="23.2" cy="4.5" r="1.8" fill="url(#rd)"/><circle cx="-0.3" cy="-1.4" r="1.6" fill="url(#rd)"/><circle cx="18.1" cy="25.1" r="2.2" fill="url(#rb)"/><circle cx="8.1" cy="21.1" r="2.0" fill="url(#rd)"/><circle cx="37.2" cy="29.0" r="2.2" fill="url(#rd)"/><circle cx="44.5" cy="23.2" r="2.3" fill="url(#rb)"/><circle cx="19.5" cy="5.6" r="1.6" fill="url(#rd)"/><circle cx="14.4" cy="14.4" r="1.7" fill="url(#rd)"/><circle cx="5.4" cy="32.7" r="2.3" fill="url(#rb)"/><circle cx="25.1" cy="20.6" r="1.9" fill="url(#rd)"/><circle cx="12.5" cy="13.9" r="1.9" fill="url(#rd)"/><circle cx="8.8" cy="36.3" r="1.7" fill="url(#rb)"/><circle cx="44.1" cy="12.3" r="2.0" fill="url(#rd)"/></g></g></svg>
<svg x="166.40" y="406.80" width="43.2" height="43.3" viewBox="0 0 43.2 43.3" overflow="hidden"><g clip-path="url(#cp34)"><rect width="43.2" height="43.3" fill="#0e0102"/><g fill-opacity="0.4675"><circle cx="22.9" cy="25.6" r="3.4" fill="url(#rd)"/><circle cx="15.3" cy="42.4" r="2.8" fill="url(#rd)"/><circle cx="25.5" cy="36.6" r="3.1" fill="url(#rd)"/><circle cx="34.4" cy="33.3" r="2.9" fill="url(#rd)"/><circle cx="32.7" cy="31.1" r="3.4" fill="url(#rd)"/><circle cx="25.7" cy="28.0" r="2.7" fill="url(#rd)"/><circle cx="19.4" cy="6.8" r="3.0" fill="url(#rd)"/><circle cx="9.4" cy="30.2" r="3.3" fill="url(#rd)"/><circle cx="11.5" cy="3.9" r="3.3" fill="url(#rd)"/><circle cx="17.2" cy="34.5" r="3.0" fill="url(#rd)"/><circle cx="36.7" cy="20.5" r="2.6" fill="url(#rd)"/><circle cx="11.2" cy="9.3" r="3.4" fill="url(#rd)"/><circle cx="22.4" cy="25.6" r="2.9" fill="url(#rd)"/><circle cx="37.6" cy="33.8" r="3.5" fill="url(#rd)"/><circle cx="26.7" cy="38.8" r="2.8" fill="url(#rd)"/><circle cx="13.3" cy="34.1" r="3.0" fill="url(#rd)"/><circle cx="27.9" cy="22.2" r="2.8" fill="url(#rd)"/><circle cx="23.8" cy="33.8" r="3.0" fill="url(#rd)"/><circle cx="6.8" cy="28.6" r="3.5" fill="url(#rd)"/><circle cx="5.3" cy="20.0" r="2.8" fill="url(#rd)"/><circle cx="33.2" cy="31.1" r="2.5" fill="url(#rd)"/><circle cx="36.5" cy="27.4" r="2.6" fill="url(#rd)"/><circle cx="16.9" cy="42.3" r="3.3" fill="url(#rd)"/><circle cx="42.6" cy="12.9" r="3.2" fill="url(#rd)"/><circle cx="5.5" cy="22.0" r="2.8" fill="url(#rd)"/><circle cx="39.1" cy="34.5" r="2.7" fill="url(#rd)"/><circle cx="41.1" cy="14.9" r="2.8" fill="url(#rd)"/><circle cx="39.7" cy="30.1" r="3.4" fill="url(#rd)"/><circle cx="16.2" cy="20.0" r="3.1" fill="url(#rd)"/><circle cx="26.4" cy="16.8" r="3.3" fill="url(#rd)"/><circle cx="18.6" cy="26.7" r="2.9" fill="url(#rd)"/><circle cx="27.9" cy="28.2" r="3.2" fill="url(#rd)"/><circle cx="29.7" cy="17.3" r="3.3" fill="url(#rd)"/><circle cx="34.3" cy="15.9" r="2.6" fill="url(#rd)"/><circle cx="24.3" cy="34.9" r="2.8" fill="url(#rd)"/><circle cx="14.9" cy="13.3" r="3.3" fill="url(#rd)"/><circle cx="24.5" cy="12.5" r="2.9" fill="url(#rd)"/><circle cx="5.0" cy="10.2" r="3.3" fill="url(#rd)"/><circle cx="30.2" cy="22.3" r="3.3" fill="url(#rd)"/><circle cx="25.3" cy="35.6" r="3.2" fill="url(#rd)"/><circle cx="25.2" cy="36.8" r="2.5" fill="url(#rd)"/><circle cx="31.3" cy="27.8" r="2.8" fill="url(#rd)"/><circle cx="37.6" cy="1.2" r="3.0" fill="url(#rd)"/><circle cx="27.2" cy="22.4" r="3.2" fill="url(#rd)"/><circle cx="13.0" cy="8.3" r="3.2" fill="url(#rd)"/><circle cx="40.0" cy="28.5" r="2.6" fill="url(#rd)"/><circle cx="38.5" cy="39.6" r="2.9" fill="url(#rd)"/><circle cx="33.0" cy="3.7" r="3.4" fill="url(#rd)"/><circle cx="17.3" cy="35.4" r="3.1" fill="url(#rd)"/><circle cx="21.4" cy="44.6" r="3.4" fill="url(#rd)"/><circle cx="2.6" cy="41.4" r="2.9" fill="url(#rd)"/><circle cx="34.6" cy="42.0" r="2.7" fill="url(#rd)"/></g><g fill-opacity="0.55"><circle cx="32.8" cy="33.0" r="2.4" fill="url(#rd)"/><circle cx="22.8" cy="39.1" r="2.2" fill="url(#rb)"/><circle cx="21.4" cy="14.2" r="1.9" fill="url(#rb)"/><circle cx="28.7" cy="13.8" r="1.6" fill="url(#rb)"/><circle cx="14.9" cy="35.0" r="1.7" fill="url(#rd)"/><circle cx="22.3" cy="8.1" r="2.4" fill="url(#rd)"/><circle cx="36.4" cy="22.5" r="2.1" fill="url(#rd)"/><circle cx="33.6" cy="43.7" r="2.3" fill="url(#rb)"/><circle cx="32.2" cy="8.8" r="1.8" fill="url(#rd)"/><circle cx="6.8" cy="4.9" r="1.6" fill="url(#rd)"/><circle cx="19.7" cy="27.6" r="1.9" fill="url(#rd)"/><circle cx="32.9" cy="12.0" r="2.0" fill="url(#rd)"/><circle cx="20.3" cy="19.3" r="2.3" fill="url(#rd)"/><circle cx="34.7" cy="43.6" r="2.2" fill="url(#rb)"/><circle cx="34.1" cy="39.4" r="2.2" fill="url(#rb)"/><circle cx="43.9" cy="26.2" r="2.1" fill="url(#rd)"/><circle cx="35.6" cy="9.2" r="1.6" fill="url(#rb)"/><circle cx="40.9" cy="26.1" r="2.4" fill="url(#rb)"/><circle cx="10.5" cy="43.8" r="1.9" fill="url(#rd)"/><circle cx="43.9" cy="14.0" r="1.9" fill="url(#rb)"/><circle cx="13.2" cy="6.8" r="2.2" fill="url(#rd)"/><circle cx="43.3" cy="23.2" r="2.1" fill="url(#rd)"/><circle cx="23.3" cy="25.4" r="1.9" fill="url(#rb)"/><circle cx="19.3" cy="19.5" r="2.4" fill="url(#rb)"/><circle cx="7.1" cy="22.7" r="2.4" fill="url(#rd)"/><circle cx="21.4" cy="-0.8" r="2.2" fill="url(#rd)"/><circle cx="30.1" cy="44.2" r="1.9" fill="url(#rb)"/><circle cx="23.2" cy="43.8" r="2.3" fill="url(#rd)"/><circle cx="35.5" cy="12.7" r="1.7" fill="url(#rd)"/><circle cx="38.3" cy="25.5" r="2.1" fill="url(#rb)"/><circle cx="30.7" cy="40.6" r="2.4" fill="url(#rb)"/><circle cx="24.5" cy="5.8" r="1.6" fill="url(#rb)"/><circle cx="32.8" cy="27.5" r="2.3" fill="url(#rd)"/><circle cx="23.7" cy="13.2" r="2.3" fill="url(#rd)"/><circle cx="23.2" cy="36.6" r="1.6" fill="url(#rd)"/><circle cx="21.0" cy="7.4" r="1.9" fill="url(#rb)"/><circle cx="29.3" cy="27.9" r="2.2" fill="url(#rd)"/><circle cx="3.2" cy="26.7" r="1.9" fill="url(#rb)"/><circle cx="17.4" cy="41.1" r="2.2" fill="url(#rd)"/><circle cx="8.5" cy="22.2" r="2.3" fill="url(#rb)"/><circle cx="2.9" cy="8.8" r="2.1" fill="url(#rd)"/><circle cx="19.4" cy="37.7" r="2.3" fill="url(#rb)"/><circle cx="7.6" cy="10.8" r="1.7" fill="url(#rd)"/><circle cx="23.3" cy="25.2" r="2.3" fill="url(#rd)"/><circle cx="24.9" cy="26.5" r="2.1" fill="url(#rb)"/><circle cx="40.8" cy="26.3" r="2.1" fill="url(#rb)"/><circle cx="21.5" cy="20.6" r="2.0" fill="url(#rb)"/><circle cx="19.0" cy="44.6" r="1.7" fill="url(#rd)"/><circle cx="38.5" cy="13.3" r="2.0" fill="url(#rb)"/><circle cx="18.7" cy="8.6" r="2.1" fill="url(#rb)"/><circle cx="1.9" cy="-0.3" r="2.0" fill="url(#rd)"/><circle cx="4.9" cy="40.7" r="2.2" fill="url(#rd)"/><circle cx="13.8" cy="44.1" r="2.4" fill="url(#rd)"/><circle cx="36.6" cy="25.5" r="2.2" fill="url(#rd)"/><circle cx="19.8" cy="35.5" r="2.4" fill="url(#rd)"/><circle cx="29.8" cy="35.4" r="2.0" fill="url(#rd)"/><circle cx="20.3" cy="7.7" r="2.2" fill="url(#rb)"/><circle cx="9.5" cy="25.0" r="1.7" fill="url(#rb)"/><circle cx="35.9" cy="17.1" r="2.1" fill="url(#rd)"/><circle cx="39.2" cy="34.0" r="1.8" fill="url(#rd)"/><circle cx="41.5" cy="31.3" r="1.8" fill="url(#rb)"/><circle cx="33.5" cy="34.3" r="1.8" fill="url(#rb)"/><circle cx="28.9" cy="4.8" r="1.7" fill="url(#rd)"/><circle cx="8.7" cy="5.2" r="1.6" fill="url(#rb)"/><circle cx="22.3" cy="16.9" r="1.6" fill="url(#rd)"/><circle cx="12.0" cy="40.2" r="1.8" fill="url(#rb)"/><circle cx="24.8" cy="42.9" r="2.3" fill="url(#rb)"/><circle cx="7.2" cy="38.5" r="1.8" fill="url(#rb)"/><circle cx="27.7" cy="15.3" r="2.3" fill="url(#rb)"/><circle cx="41.7" cy="44.7" r="2.2" fill="url(#rd)"/><circle cx="32.3" cy="13.1" r="2.2" fill="url(#rd)"/><circle cx="0.7" cy="1.7" r="2.2" fill="url(#rb)"/><circle cx="30.9" cy="14.9" r="2.0" fill="url(#rb)"/><circle cx="37.3" cy="18.3" r="2.2" fill="url(#rb)"/><circle cx="8.0" cy="26.3" r="2.1" fill="url(#rb)"/></g></g></svg>
<svg x="211.90" y="406.80" width="43.2" height="43.3" viewBox="0 0 43.2 43.3" overflow="hidden"><g clip-path="url(#cp35)"><rect width="43.2" height="43.3" fill="#0c0102"/><g fill-opacity="0.425"><circle cx="23.8" cy="33.3" r="2.8" fill="url(#rd)"/><circle cx="43.1" cy="24.7" r="3.2" fill="url(#rd)"/><circle cx="14.3" cy="21.5" r="2.6" fill="url(#rd)"/><circle cx="14.2" cy="24.7" r="2.6" fill="url(#rd)"/><circle cx="21.4" cy="16.8" r="3.3" fill="url(#rd)"/><circle cx="34.1" cy="19.6" r="3.4" fill="url(#rd)"/><circle cx="36.9" cy="29.6" r="2.6" fill="url(#rd)"/><circle cx="17.3" cy="7.7" r="2.8" fill="url(#rd)"/><circle cx="25.4" cy="8.7" r="2.5" fill="url(#rd)"/><circle cx="26.9" cy="-1.0" r="3.3" fill="url(#rd)"/><circle cx="23.1" cy="23.8" r="3.2" fill="url(#rd)"/><circle cx="36.7" cy="32.6" r="2.8" fill="url(#rd)"/><circle cx="20.8" cy="21.5" r="3.3" fill="url(#rd)"/><circle cx="2.4" cy="24.6" r="3.5" fill="url(#rd)"/><circle cx="42.6" cy="16.1" r="2.6" fill="url(#rd)"/><circle cx="30.7" cy="36.0" r="3.5" fill="url(#rd)"/><circle cx="4.1" cy="18.1" r="3.0" fill="url(#rd)"/><circle cx="30.9" cy="6.8" r="3.0" fill="url(#rd)"/><circle cx="35.4" cy="39.1" r="3.3" fill="url(#rd)"/><circle cx="9.7" cy="5.2" r="3.2" fill="url(#rd)"/><circle cx="10.7" cy="32.6" r="2.5" fill="url(#rd)"/><circle cx="11.8" cy="2.3" r="3.4" fill="url(#rd)"/><circle cx="0.9" cy="1.0" r="2.8" fill="url(#rd)"/><circle cx="-1.0" cy="32.9" r="3.0" fill="url(#rd)"/><circle cx="12.7" cy="13.8" r="3.1" fill="url(#rd)"/><circle cx="2.6" cy="14.7" r="2.7" fill="url(#rd)"/><circle cx="14.0" cy="19.3" r="2.9" fill="url(#rd)"/><circle cx="18.1" cy="1.3" r="2.6" fill="url(#rd)"/><circle cx="31.2" cy="41.5" r="2.8" fill="url(#rd)"/><circle cx="29.0" cy="33.3" r="2.8" fill="url(#rd)"/><circle cx="21.2" cy="6.0" r="2.6" fill="url(#rd)"/><circle cx="20.3" cy="6.7" r="2.9" fill="url(#rd)"/><circle cx="17.9" cy="5.7" r="2.7" fill="url(#rd)"/><circle cx="10.9" cy="9.2" r="3.4" fill="url(#rd)"/><circle cx="11.7" cy="24.2" r="3.3" fill="url(#rd)"/><circle cx="17.4" cy="13.0" r="3.5" fill="url(#rd)"/><circle cx="38.6" cy="8.4" r="2.6" fill="url(#rd)"/><circle cx="7.2" cy="6.4" r="3.4" fill="url(#rd)"/><circle cx="14.4" cy="25.7" r="3.2" fill="url(#rd)"/><circle cx="17.6" cy="33.9" r="2.6" fill="url(#rd)"/><circle cx="32.3" cy="14.2" r="3.0" fill="url(#rd)"/><circle cx="9.4" cy="43.0" r="2.6" fill="url(#rd)"/><circle cx="24.9" cy="34.9" r="3.3" fill="url(#rd)"/><circle cx="33.8" cy="15.1" r="2.7" fill="url(#rd)"/><circle cx="42.8" cy="13.6" r="3.0" fill="url(#rd)"/><circle cx="43.1" cy="23.4" r="2.9" fill="url(#rd)"/><circle cx="30.2" cy="10.4" r="2.6" fill="url(#rd)"/><circle cx="26.2" cy="12.0" r="3.3" fill="url(#rd)"/><circle cx="34.3" cy="26.4" r="3.3" fill="url(#rd)"/></g><g fill-opacity="0.5"><circle cx="37.4" cy="32.2" r="2.2" fill="url(#rd)"/><circle cx="6.0" cy="43.5" r="1.7" fill="url(#rb)"/><circle cx="24.6" cy="16.1" r="1.8" fill="url(#rd)"/><circle cx="3.1" cy="33.6" r="1.9" fill="url(#rb)"/><circle cx="16.4" cy="5.0" r="1.7" fill="url(#rd)"/><circle cx="22.7" cy="18.2" r="2.4" fill="url(#rb)"/><circle cx="14.6" cy="21.8" r="2.4" fill="url(#rd)"/><circle cx="17.0" cy="10.8" r="2.3" fill="url(#rd)"/><circle cx="12.6" cy="35.9" r="2.2" fill="url(#rb)"/><circle cx="43.0" cy="41.1" r="1.7" fill="url(#rb)"/><circle cx="17.4" cy="20.4" r="1.6" fill="url(#rd)"/><circle cx="44.3" cy="0.7" r="2.3" fill="url(#rb)"/><circle cx="19.7" cy="31.9" r="1.9" fill="url(#rd)"/><circle cx="23.9" cy="-0.1" r="2.2" fill="url(#rb)"/><circle cx="43.4" cy="6.5" r="2.3" fill="url(#rd)"/><circle cx="31.7" cy="-0.7" r="1.8" fill="url(#rd)"/><circle cx="15.6" cy="-0.7" r="1.6" fill="url(#rd)"/><circle cx="24.6" cy="6.3" r="1.9" fill="url(#rb)"/><circle cx="2.1" cy="15.3" r="1.9" fill="url(#rb)"/><circle cx="16.8" cy="22.5" r="1.8" fill="url(#rb)"/><circle cx="24.8" cy="20.8" r="2.0" fill="url(#rb)"/><circle cx="26.8" cy="-0.8" r="2.2" fill="url(#rd)"/><circle cx="33.0" cy="20.3" r="1.6" fill="url(#rb)"/><circle cx="24.7" cy="9.6" r="2.1" fill="url(#rd)"/><circle cx="16.3" cy="21.9" r="2.0" fill="url(#rb)"/><circle cx="27.3" cy="26.1" r="2.0" fill="url(#rd)"/><circle cx="9.8" cy="10.3" r="2.3" fill="url(#rb)"/><circle cx="30.1" cy="11.4" r="1.8" fill="url(#rb)"/><circle cx="34.0" cy="5.6" r="1.8" fill="url(#rd)"/><circle cx="40.2" cy="14.4" r="2.1" fill="url(#rd)"/><circle cx="39.6" cy="31.3" r="1.6" fill="url(#rd)"/><circle cx="15.4" cy="21.6" r="2.2" fill="url(#rb)"/><circle cx="4.0" cy="38.4" r="1.7" fill="url(#rd)"/><circle cx="37.1" cy="23.5" r="1.9" fill="url(#rd)"/><circle cx="21.5" cy="15.1" r="2.1" fill="url(#rb)"/><circle cx="21.0" cy="0.9" r="1.7" fill="url(#rb)"/><circle cx="36.4" cy="38.0" r="1.9" fill="url(#rb)"/><circle cx="21.3" cy="44.1" r="2.0" fill="url(#rd)"/><circle cx="8.5" cy="21.3" r="2.2" fill="url(#rd)"/><circle cx="28.0" cy="25.3" r="1.8" fill="url(#rd)"/><circle cx="11.4" cy="38.8" r="1.9" fill="url(#rb)"/><circle cx="36.7" cy="22.6" r="1.8" fill="url(#rd)"/><circle cx="36.4" cy="7.0" r="2.0" fill="url(#rd)"/><circle cx="18.5" cy="4.4" r="2.0" fill="url(#rb)"/><circle cx="20.4" cy="26.8" r="2.2" fill="url(#rd)"/><circle cx="5.5" cy="6.7" r="2.4" fill="url(#rd)"/><circle cx="34.3" cy="12.3" r="2.0" fill="url(#rd)"/><circle cx="8.0" cy="37.0" r="2.1" fill="url(#rd)"/><circle cx="36.8" cy="3.9" r="1.7" fill="url(#rd)"/><circle cx="10.9" cy="3.1" r="1.9" fill="url(#rd)"/><circle cx="9.3" cy="38.8" r="1.9" fill="url(#rb)"/><circle cx="22.4" cy="7.6" r="2.2" fill="url(#rb)"/><circle cx="24.8" cy="37.1" r="2.4" fill="url(#rb)"/><circle cx="23.3" cy="7.5" r="1.9" fill="url(#rd)"/><circle cx="-1.3" cy="5.0" r="1.6" fill="url(#rb)"/><circle cx="12.4" cy="22.6" r="1.9" fill="url(#rd)"/><circle cx="37.2" cy="43.1" r="2.3" fill="url(#rd)"/><circle cx="43.9" cy="6.3" r="1.6" fill="url(#rb)"/><circle cx="33.7" cy="1.6" r="1.7" fill="url(#rb)"/><circle cx="31.4" cy="27.9" r="2.3" fill="url(#rd)"/><circle cx="29.8" cy="20.9" r="2.3" fill="url(#rb)"/><circle cx="35.0" cy="10.2" r="2.0" fill="url(#rd)"/><circle cx="6.2" cy="23.2" r="2.0" fill="url(#rb)"/><circle cx="34.1" cy="11.3" r="1.7" fill="url(#rb)"/><circle cx="22.7" cy="38.3" r="2.3" fill="url(#rb)"/><circle cx="16.0" cy="23.1" r="2.0" fill="url(#rb)"/><circle cx="42.5" cy="20.3" r="1.7" fill="url(#rd)"/><circle cx="5.8" cy="36.7" r="1.7" fill="url(#rd)"/><circle cx="5.4" cy="28.4" r="1.7" fill="url(#rd)"/><circle cx="36.8" cy="6.1" r="2.1" fill="url(#rd)"/></g></g></svg>
<svg x="30.30" y="451.20" width="43.2" height="43.3" viewBox="0 0 43.2 43.3" overflow="hidden"><g clip-path="url(#cp41)"><rect width="43.2" height="43.3" fill="#0a0510"/><g fill-opacity="0.7"><circle cx="16.1" cy="9.2" r="2.8" fill="url(#mb)"/><circle cx="30.4" cy="24.1" r="3.0" fill="url(#mp)"/><circle cx="29.1" cy="37.4" r="3.2" fill="url(#mp)"/><circle cx="43.8" cy="13.3" r="2.3" fill="url(#mp)"/><circle cx="25.7" cy="18.5" r="2.3" fill="url(#mp)"/><circle cx="-0.6" cy="3.1" r="2.3" fill="url(#mp)"/><circle cx="17.3" cy="29.2" r="2.4" fill="url(#mb)"/><circle cx="17.1" cy="23.1" r="3.1" fill="url(#mp)"/><circle cx="28.8" cy="13.4" r="2.9" fill="url(#mp)"/><circle cx="31.8" cy="30.1" r="3.2" fill="url(#mp)"/><circle cx="31.1" cy="39.9" r="2.8" fill="url(#mp)"/><circle cx="29.9" cy="17.5" r="2.7" fill="url(#mb)"/><circle cx="41.4" cy="10.0" r="3.0" fill="url(#mb)"/><circle cx="27.3" cy="35.0" r="2.9" fill="url(#mb)"/><circle cx="8.4" cy="6.1" r="2.7" fill="url(#mp)"/><circle cx="27.3" cy="21.3" r="2.9" fill="url(#mb)"/><circle cx="31.4" cy="24.1" r="3.1" fill="url(#mb)"/><circle cx="36.5" cy="-0.1" r="2.8" fill="url(#mp)"/><circle cx="22.2" cy="28.6" r="2.2" fill="url(#mp)"/><circle cx="29.3" cy="30.6" r="3.1" fill="url(#mb)"/><circle cx="40.4" cy="12.7" r="2.8" fill="url(#mb)"/><circle cx="36.8" cy="38.7" r="2.5" fill="url(#mb)"/><circle cx="35.3" cy="30.5" r="2.8" fill="url(#mb)"/><circle cx="31.6" cy="31.3" r="2.6" fill="url(#mp)"/><circle cx="18.3" cy="-0.7" r="2.3" fill="url(#mb)"/><circle cx="28.8" cy="23.1" r="2.8" fill="url(#mb)"/><circle cx="24.2" cy="22.8" r="2.2" fill="url(#mp)"/><circle cx="13.6" cy="22.1" r="2.8" fill="url(#mp)"/><circle cx="31.8" cy="7.3" r="2.3" fill="url(#mb)"/><circle cx="-0.7" cy="12.9" r="2.7" fill="url(#mp)"/><circle cx="39.7" cy="13.3" r="2.7" fill="url(#mb)"/><circle cx="6.8" cy="1.8" r="3.1" fill="url(#mp)"/><circle cx="6.5" cy="5.9" r="2.5" fill="url(#mp)"/><circle cx="40.2" cy="13.0" r="2.3" fill="url(#mp)"/><circle cx="4.0" cy="-0.8" r="2.7" fill="url(#mb)"/><circle cx="41.7" cy="11.2" r="3.0" fill="url(#mb)"/><circle cx="34.2" cy="17.2" r="2.8" fill="url(#mb)"/><circle cx="-0.3" cy="11.3" r="2.5" fill="url(#mb)"/><circle cx="10.1" cy="38.0" r="2.3" fill="url(#mp)"/><circle cx="10.7" cy="25.0" r="2.6" fill="url(#mp)"/><circle cx="42.5" cy="15.8" r="2.6" fill="url(#mb)"/><circle cx="8.7" cy="36.8" r="2.2" fill="url(#mb)"/><circle cx="21.4" cy="30.5" r="3.1" fill="url(#mb)"/><circle cx="27.8" cy="19.7" r="3.0" fill="url(#mp)"/><circle cx="19.4" cy="18.5" r="2.4" fill="url(#mp)"/></g><g fill-opacity="0.8"><circle cx="17.2" cy="14.9" r="2.6" fill="url(#mr)"/><circle cx="11.9" cy="7.0" r="2.5" fill="url(#mr)"/><circle cx="20.9" cy="32.6" r="1.9" fill="url(#mr)"/><circle cx="36.8" cy="2.3" r="2.6" fill="url(#mr)"/><circle cx="13.6" cy="9.9" r="2.7" fill="url(#mr)"/><circle cx="5.3" cy="14.8" r="1.9" fill="url(#mr)"/><circle cx="1.9" cy="31.1" r="2.4" fill="url(#mr)"/><circle cx="42.4" cy="5.2" r="2.5" fill="url(#mr)"/><circle cx="7.1" cy="19.7" r="2.2" fill="url(#mr)"/><circle cx="12.0" cy="14.6" r="2.1" fill="url(#mr)"/><circle cx="20.7" cy="14.5" r="1.9" fill="url(#mr)"/><circle cx="2.9" cy="19.2" r="2.2" fill="url(#mr)"/><circle cx="13.2" cy="2.6" r="2.1" fill="url(#mr)"/><circle cx="38.1" cy="43.9" r="2.3" fill="url(#mr)"/><circle cx="25.9" cy="21.8" r="2.4" fill="url(#mr)"/><circle cx="7.5" cy="42.9" r="2.0" fill="url(#mr)"/><circle cx="17.7" cy="19.8" r="2.2" fill="url(#mr)"/><circle cx="17.1" cy="1.1" r="2.5" fill="url(#mr)"/><circle cx="11.4" cy="6.3" r="2.2" fill="url(#mr)"/><circle cx="34.1" cy="9.5" r="1.9" fill="url(#mr)"/><circle cx="5.3" cy="0.9" r="2.3" fill="url(#mr)"/><circle cx="41.5" cy="8.0" r="1.8" fill="url(#mr)"/><circle cx="2.4" cy="42.7" r="2.2" fill="url(#mr)"/><circle cx="16.8" cy="23.2" r="2.2" fill="url(#mr)"/><circle cx="7.3" cy="8.2" r="2.4" fill="url(#mr)"/><circle cx="5.8" cy="34.3" r="2.3" fill="url(#mr)"/><circle cx="4.1" cy="13.9" r="2.6" fill="url(#mr)"/><circle cx="10.5" cy="38.8" r="1.9" fill="url(#mr)"/><circle cx="42.0" cy="19.1" r="2.7" fill="url(#mr)"/><circle cx="37.8" cy="22.1" r="2.0" fill="url(#mr)"/><circle cx="41.3" cy="33.6" r="2.4" fill="url(#mr)"/><circle cx="34.1" cy="6.2" r="1.9" fill="url(#mr)"/><circle cx="1.5" cy="10.9" r="2.2" fill="url(#mr)"/><circle cx="3.2" cy="10.5" r="2.6" fill="url(#mr)"/><circle cx="35.7" cy="12.5" r="1.8" fill="url(#mr)"/><circle cx="18.2" cy="8.9" r="2.5" fill="url(#mr)"/><circle cx="14.0" cy="22.3" r="2.5" fill="url(#mr)"/><circle cx="34.6" cy="26.5" r="2.3" fill="url(#mr)"/><circle cx="32.1" cy="-0.7" r="2.5" fill="url(#mr)"/><circle cx="17.7" cy="-1.4" r="2.3" fill="url(#mr)"/><circle cx="17.0" cy="23.8" r="1.9" fill="url(#mr)"/><circle cx="3.5" cy="25.2" r="2.0" fill="url(#mr)"/><circle cx="40.5" cy="17.9" r="2.3" fill="url(#mr)"/><circle cx="5.2" cy="5.5" r="2.3" fill="url(#mr)"/><circle cx="10.1" cy="17.0" r="2.4" fill="url(#mr)"/><circle cx="33.8" cy="-1.5" r="2.3" fill="url(#mr)"/><circle cx="17.7" cy="36.0" r="2.6" fill="url(#mr)"/><circle cx="44.2" cy="16.1" r="2.1" fill="url(#mr)"/><circle cx="18.3" cy="33.0" r="2.2" fill="url(#mr)"/><circle cx="16.2" cy="2.9" r="2.6" fill="url(#mr)"/><circle cx="42.4" cy="25.4" r="2.6" fill="url(#mr)"/><circle cx="40.7" cy="31.0" r="2.1" fill="url(#mr)"/><circle cx="23.0" cy="17.5" r="2.5" fill="url(#mr)"/><circle cx="17.8" cy="23.3" r="2.1" fill="url(#mr)"/><circle cx="31.3" cy="35.3" r="2.4" fill="url(#mr)"/><circle cx="2.1" cy="39.1" r="2.7" fill="url(#mr)"/><circle cx="28.1" cy="18.8" r="1.9" fill="url(#mr)"/><circle cx="16.0" cy="8.3" r="2.5" fill="url(#mr)"/><circle cx="33.5" cy="-0.1" r="2.5" fill="url(#mr)"/><circle cx="6.5" cy="5.7" r="2.0" fill="url(#mr)"/><circle cx="19.1" cy="16.0" r="2.2" fill="url(#mr)"/><circle cx="2.0" cy="18.8" r="2.5" fill="url(#mr)"/><circle cx="18.2" cy="8.1" r="2.3" fill="url(#mr)"/><circle cx="41.7" cy="10.9" r="2.0" fill="url(#mr)"/><circle cx="29.9" cy="35.0" r="2.1" fill="url(#mr)"/><circle cx="13.7" cy="13.0" r="2.0" fill="url(#mr)"/><circle cx="11.8" cy="40.2" r="2.0" fill="url(#mr)"/><circle cx="41.1" cy="42.2" r="2.5" fill="url(#mr)"/><circle cx="32.0" cy="2.2" r="2.6" fill="url(#mr)"/><circle cx="1.5" cy="39.1" r="1.8" fill="url(#mr)"/></g><g fill-opacity="0.82"><circle cx="35.2" cy="30.2" r="1.9" fill="url(#mg)"/><circle cx="18.3" cy="39.9" r="2.2" fill="url(#mg)"/><circle cx="39.2" cy="33.3" r="1.9" fill="url(#mg)"/><circle cx="11.8" cy="39.7" r="2.2" fill="url(#mg)"/><circle cx="3.9" cy="24.4" r="2.1" fill="url(#mg)"/><circle cx="17.8" cy="28.2" r="2.6" fill="url(#mg)"/><circle cx="23.2" cy="7.0" r="2.6" fill="url(#mg)"/><circle cx="22.9" cy="24.3" r="2.2" fill="url(#mg)"/><circle cx="12.2" cy="6.1" r="2.1" fill="url(#mg)"/><circle cx="23.5" cy="42.6" r="2.4" fill="url(#mg)"/><circle cx="5.3" cy="28.9" r="2.1" fill="url(#mg)"/><circle cx="23.6" cy="21.6" r="2.5" fill="url(#mg)"/><circle cx="23.6" cy="7.5" r="2.2" fill="url(#mg)"/><circle cx="30.4" cy="35.8" r="1.9" fill="url(#mg)"/><circle cx="33.3" cy="34.5" r="2.5" fill="url(#mg)"/><circle cx="17.3" cy="38.5" r="2.4" fill="url(#mg)"/><circle cx="40.7" cy="38.9" r="2.4" fill="url(#mg)"/><circle cx="13.5" cy="25.2" r="2.0" fill="url(#mg)"/><circle cx="32.5" cy="31.8" r="2.6" fill="url(#mg)"/><circle cx="16.7" cy="12.3" r="2.3" fill="url(#mg)"/><circle cx="26.1" cy="23.3" r="2.3" fill="url(#mg)"/><circle cx="18.2" cy="20.6" r="2.0" fill="url(#mg)"/><circle cx="17.9" cy="5.6" r="1.9" fill="url(#mg)"/><circle cx="34.0" cy="36.8" r="2.0" fill="url(#mg)"/><circle cx="7.2" cy="19.6" r="2.3" fill="url(#mg)"/><circle cx="28.3" cy="23.1" r="1.9" fill="url(#mg)"/><circle cx="28.6" cy="2.2" r="1.9" fill="url(#mg)"/><circle cx="3.5" cy="19.1" r="2.3" fill="url(#mg)"/><circle cx="5.4" cy="2.2" r="2.4" fill="url(#mg)"/><circle cx="6.4" cy="27.9" r="2.0" fill="url(#mg)"/><circle cx="8.0" cy="33.3" r="1.9" fill="url(#mg)"/><circle cx="10.6" cy="38.9" r="2.1" fill="url(#mg)"/><circle cx="10.0" cy="21.9" r="2.2" fill="url(#mg)"/><circle cx="17.3" cy="19.0" r="2.5" fill="url(#mg)"/><circle cx="10.6" cy="27.5" r="1.9" fill="url(#mg)"/><circle cx="37.4" cy="12.4" r="2.6" fill="url(#mg)"/><circle cx="17.4" cy="27.7" r="2.0" fill="url(#mg)"/><circle cx="1.4" cy="10.9" r="2.4" fill="url(#mg)"/><circle cx="22.0" cy="33.0" r="1.8" fill="url(#mg)"/><circle cx="22.0" cy="23.3" r="2.2" fill="url(#mg)"/><circle cx="8.0" cy="11.8" r="1.8" fill="url(#mg)"/><circle cx="4.9" cy="22.7" r="2.6" fill="url(#mg)"/><circle cx="26.2" cy="29.5" r="2.5" fill="url(#mg)"/><circle cx="41.0" cy="41.9" r="2.5" fill="url(#mg)"/><circle cx="15.2" cy="33.9" r="2.5" fill="url(#mg)"/><circle cx="21.2" cy="44.5" r="2.5" fill="url(#mg)"/><circle cx="5.5" cy="28.8" r="2.2" fill="url(#mg)"/><circle cx="7.8" cy="42.0" r="2.1" fill="url(#mg)"/><circle cx="8.4" cy="23.7" r="1.9" fill="url(#mg)"/><circle cx="20.1" cy="37.8" r="2.2" fill="url(#mg)"/><circle cx="20.3" cy="27.4" r="2.5" fill="url(#mg)"/><circle cx="17.7" cy="8.6" r="2.0" fill="url(#mg)"/><circle cx="0.2" cy="15.4" r="1.8" fill="url(#mg)"/><circle cx="32.2" cy="35.3" r="2.4" fill="url(#mg)"/><circle cx="27.0" cy="30.7" r="2.2" fill="url(#mg)"/><circle cx="13.0" cy="15.6" r="2.5" fill="url(#mg)"/><circle cx="22.8" cy="42.9" r="2.5" fill="url(#mg)"/><circle cx="32.5" cy="39.3" r="2.3" fill="url(#mg)"/><circle cx="31.9" cy="30.2" r="2.5" fill="url(#mg)"/><circle cx="8.9" cy="10.1" r="2.3" fill="url(#mg)"/><circle cx="11.4" cy="14.3" r="2.0" fill="url(#mg)"/><circle cx="9.0" cy="11.6" r="1.8" fill="url(#mg)"/><circle cx="5.1" cy="43.1" r="2.5" fill="url(#mg)"/><circle cx="31.6" cy="39.8" r="1.8" fill="url(#mg)"/><circle cx="4.9" cy="13.2" r="2.0" fill="url(#mg)"/><circle cx="33.4" cy="35.5" r="2.0" fill="url(#mg)"/><circle cx="14.4" cy="8.8" r="2.5" fill="url(#mg)"/><circle cx="31.0" cy="38.3" r="2.1" fill="url(#mg)"/><circle cx="1.2" cy="41.9" r="2.5" fill="url(#mg)"/><circle cx="3.2" cy="24.6" r="2.4" fill="url(#mg)"/><circle cx="29.5" cy="32.9" r="2.4" fill="url(#mg)"/><circle cx="18.6" cy="17.5" r="2.4" fill="url(#mg)"/><circle cx="15.1" cy="23.3" r="2.2" fill="url(#mg)"/><circle cx="21.6" cy="30.9" r="2.1" fill="url(#mg)"/><circle cx="22.5" cy="26.3" r="2.4" fill="url(#mg)"/></g></g></svg>
<svg x="75.60" y="451.20" width="43.2" height="43.3" viewBox="0 0 43.2 43.3" overflow="hidden"><g clip-path="url(#cp42)"><rect width="43.2" height="43.3" fill="#0c0510"/><g fill-opacity="0.68"><circle cx="28.0" cy="-0.3" r="2.4" fill="url(#mb)"/><circle cx="4.9" cy="3.2" r="2.8" fill="url(#mp)"/><circle cx="-0.0" cy="2.8" r="2.7" fill="url(#mp)"/><circle cx="-0.3" cy="7.7" r="2.4" fill="url(#mb)"/><circle cx="25.7" cy="36.0" r="3.0" fill="url(#mp)"/><circle cx="5.9" cy="18.1" r="2.4" fill="url(#mb)"/><circle cx="42.7" cy="14.1" r="2.6" fill="url(#mp)"/><circle cx="15.1" cy="14.4" r="3.0" fill="url(#mb)"/><circle cx="32.2" cy="23.3" r="2.3" fill="url(#mb)"/><circle cx="12.0" cy="27.6" r="2.8" fill="url(#mb)"/><circle cx="31.1" cy="0.6" r="3.0" fill="url(#mp)"/><circle cx="44.0" cy="38.1" r="2.6" fill="url(#mp)"/><circle cx="19.4" cy="37.1" r="2.6" fill="url(#mp)"/><circle cx="8.2" cy="10.9" r="2.8" fill="url(#mp)"/><circle cx="6.4" cy="32.3" r="2.7" fill="url(#mp)"/><circle cx="11.0" cy="41.3" r="2.9" fill="url(#mp)"/><circle cx="37.4" cy="34.4" r="3.0" fill="url(#mp)"/><circle cx="35.7" cy="17.1" r="2.4" fill="url(#mp)"/><circle cx="42.1" cy="39.1" r="2.4" fill="url(#mb)"/><circle cx="21.6" cy="39.5" r="2.3" fill="url(#mb)"/><circle cx="5.0" cy="33.0" r="2.9" fill="url(#mb)"/><circle cx="18.3" cy="25.5" r="2.4" fill="url(#mb)"/><circle cx="44.6" cy="22.1" r="3.0" fill="url(#mp)"/><circle cx="38.3" cy="5.6" r="3.0" fill="url(#mp)"/><circle cx="18.0" cy="1.4" r="2.8" fill="url(#mb)"/><circle cx="20.1" cy="10.1" r="2.9" fill="url(#mp)"/><circle cx="3.8" cy="39.5" r="3.0" fill="url(#mb)"/><circle cx="14.2" cy="12.1" r="2.7" fill="url(#mp)"/><circle cx="42.6" cy="39.1" r="3.2" fill="url(#mb)"/><circle cx="33.7" cy="22.0" r="3.1" fill="url(#mp)"/><circle cx="12.3" cy="28.1" r="2.4" fill="url(#mp)"/><circle cx="33.7" cy="23.5" r="2.8" fill="url(#mp)"/><circle cx="21.1" cy="3.7" r="3.1" fill="url(#mb)"/><circle cx="36.9" cy="12.7" r="2.4" fill="url(#mp)"/><circle cx="24.7" cy="2.1" r="3.0" fill="url(#mb)"/><circle cx="43.7" cy="23.2" r="2.3" fill="url(#mp)"/><circle cx="20.5" cy="24.0" r="2.7" fill="url(#mb)"/><circle cx="26.5" cy="43.2" r="2.9" fill="url(#mp)"/><circle cx="16.9" cy="29.6" r="2.6" fill="url(#mb)"/><circle cx="22.4" cy="4.1" r="2.3" fill="url(#mp)"/></g><g fill-opacity="0.8"><circle cx="-0.5" cy="24.1" r="1.8" fill="url(#mr)"/><circle cx="31.2" cy="1.2" r="2.6" fill="url(#mr)"/><circle cx="38.2" cy="1.8" r="2.1" fill="url(#mr)"/><circle cx="20.9" cy="23.5" r="2.0" fill="url(#mr)"/><circle cx="20.4" cy="17.3" r="1.9" fill="url(#mr)"/><circle cx="18.4" cy="18.1" r="2.6" fill="url(#mr)"/><circle cx="1.0" cy="28.8" r="1.9" fill="url(#mr)"/><circle cx="32.1" cy="35.6" r="2.0" fill="url(#mr)"/><circle cx="7.3" cy="19.3" r="2.0" fill="url(#mr)"/><circle cx="19.9" cy="39.0" r="2.2" fill="url(#mr)"/><circle cx="38.3" cy="24.0" r="2.4" fill="url(#mr)"/><circle cx="23.5" cy="-0.8" r="2.6" fill="url(#mr)"/><circle cx="37.7" cy="6.2" r="2.2" fill="url(#mr)"/><circle cx="38.4" cy="40.3" r="2.1" fill="url(#mr)"/><circle cx="44.0" cy="10.8" r="2.1" fill="url(#mr)"/><circle cx="30.7" cy="32.3" r="1.9" fill="url(#mr)"/><circle cx="12.2" cy="43.4" r="2.5" fill="url(#mr)"/><circle cx="1.1" cy="25.5" r="1.9" fill="url(#mr)"/><circle cx="22.0" cy="37.9" r="2.3" fill="url(#mr)"/><circle cx="29.7" cy="9.4" r="2.6" fill="url(#mr)"/><circle cx="24.8" cy="25.3" r="2.4" fill="url(#mr)"/><circle cx="17.9" cy="25.5" r="2.6" fill="url(#mr)"/><circle cx="7.9" cy="31.7" r="2.0" fill="url(#mr)"/><circle cx="4.5" cy="28.4" r="2.1" fill="url(#mr)"/><circle cx="33.2" cy="1.9" r="2.4" fill="url(#mr)"/><circle cx="24.5" cy="3.1" r="2.3" fill="url(#mr)"/><circle cx="4.6" cy="14.7" r="2.6" fill="url(#mr)"/><circle cx="15.6" cy="5.8" r="2.4" fill="url(#mr)"/><circle cx="44.1" cy="28.8" r="2.4" fill="url(#mr)"/><circle cx="24.1" cy="41.6" r="2.6" fill="url(#mr)"/><circle cx="4.7" cy="3.8" r="2.5" fill="url(#mr)"/><circle cx="5.7" cy="11.5" r="2.4" fill="url(#mr)"/><circle cx="7.9" cy="27.9" r="2.3" fill="url(#mr)"/><circle cx="10.1" cy="40.5" r="1.9" fill="url(#mr)"/><circle cx="18.1" cy="11.3" r="2.1" fill="url(#mr)"/><circle cx="4.5" cy="43.9" r="2.5" fill="url(#mr)"/><circle cx="24.0" cy="18.3" r="1.9" fill="url(#mr)"/><circle cx="42.2" cy="30.5" r="2.3" fill="url(#mr)"/><circle cx="37.1" cy="25.5" r="2.2" fill="url(#mr)"/><circle cx="0.4" cy="15.4" r="2.6" fill="url(#mr)"/><circle cx="8.2" cy="10.1" r="2.1" fill="url(#mr)"/><circle cx="24.4" cy="39.0" r="2.6" fill="url(#mr)"/><circle cx="9.4" cy="6.0" r="2.6" fill="url(#mr)"/><circle cx="-0.4" cy="32.6" r="2.5" fill="url(#mr)"/><circle cx="17.5" cy="29.5" r="2.0" fill="url(#mr)"/><circle cx="34.9" cy="3.5" r="2.6" fill="url(#mr)"/><circle cx="8.8" cy="36.3" r="2.1" fill="url(#mr)"/><circle cx="36.4" cy="38.8" r="1.8" fill="url(#mr)"/><circle cx="7.4" cy="13.7" r="2.7" fill="url(#mr)"/><circle cx="11.4" cy="28.2" r="2.4" fill="url(#mr)"/><circle cx="37.5" cy="13.8" r="1.9" fill="url(#mr)"/><circle cx="43.3" cy="6.8" r="1.8" fill="url(#mr)"/><circle cx="26.1" cy="14.5" r="2.2" fill="url(#mr)"/><circle cx="44.0" cy="3.9" r="2.0" fill="url(#mr)"/><circle cx="31.2" cy="-1.4" r="2.1" fill="url(#mr)"/><circle cx="1.7" cy="29.3" r="2.4" fill="url(#mr)"/><circle cx="29.1" cy="4.3" r="2.3" fill="url(#mr)"/><circle cx="29.3" cy="13.6" r="2.3" fill="url(#mr)"/><circle cx="7.4" cy="29.3" r="2.4" fill="url(#mr)"/><circle cx="40.2" cy="27.0" r="2.2" fill="url(#mr)"/><circle cx="37.0" cy="12.6" r="2.2" fill="url(#mr)"/><circle cx="25.3" cy="28.8" r="2.2" fill="url(#mr)"/><circle cx="29.7" cy="22.2" r="2.4" fill="url(#mr)"/><circle cx="11.6" cy="29.2" r="1.9" fill="url(#mr)"/><circle cx="42.5" cy="9.4" r="2.0" fill="url(#mr)"/><circle cx="7.7" cy="-0.4" r="2.7" fill="url(#mr)"/><circle cx="26.7" cy="34.1" r="2.2" fill="url(#mr)"/><circle cx="27.6" cy="7.5" r="2.2" fill="url(#mr)"/><circle cx="9.8" cy="28.9" r="2.6" fill="url(#mr)"/><circle cx="38.3" cy="39.5" r="2.0" fill="url(#mr)"/><circle cx="35.6" cy="30.7" r="1.8" fill="url(#mr)"/><circle cx="10.0" cy="37.8" r="1.9" fill="url(#mr)"/><circle cx="20.0" cy="23.1" r="2.7" fill="url(#mr)"/><circle cx="39.7" cy="26.9" r="2.5" fill="url(#mr)"/><circle cx="23.8" cy="40.0" r="2.2" fill="url(#mr)"/><circle cx="33.2" cy="37.4" r="2.5" fill="url(#mr)"/><circle cx="22.6" cy="27.5" r="2.2" fill="url(#mr)"/><circle cx="31.5" cy="9.4" r="2.1" fill="url(#mr)"/><circle cx="23.5" cy="4.9" r="2.1" fill="url(#mr)"/><circle cx="5.6" cy="8.4" r="2.2" fill="url(#mr)"/><circle cx="23.6" cy="17.8" r="2.5" fill="url(#mr)"/><circle cx="16.5" cy="34.1" r="2.6" fill="url(#mr)"/><circle cx="33.9" cy="16.1" r="2.6" fill="url(#mr)"/><circle cx="12.3" cy="16.6" r="2.3" fill="url(#mr)"/><circle cx="32.4" cy="35.5" r="2.2" fill="url(#mr)"/><circle cx="11.1" cy="21.0" r="2.1" fill="url(#mr)"/><circle cx="29.9" cy="17.2" r="2.6" fill="url(#mr)"/><circle cx="41.0" cy="43.9" r="2.6" fill="url(#mr)"/><circle cx="25.8" cy="29.2" r="2.4" fill="url(#mr)"/><circle cx="4.8" cy="19.9" r="2.0" fill="url(#mr)"/></g><g fill-opacity="0.8"><circle cx="13.6" cy="19.6" r="2.0" fill="url(#mg)"/><circle cx="20.2" cy="33.2" r="2.0" fill="url(#mg)"/><circle cx="1.7" cy="42.8" r="2.6" fill="url(#mg)"/><circle cx="7.7" cy="-0.6" r="2.2" fill="url(#mg)"/><circle cx="3.8" cy="42.4" r="2.4" fill="url(#mg)"/><circle cx="3.5" cy="-0.3" r="2.1" fill="url(#mg)"/><circle cx="37.8" cy="26.3" r="2.1" fill="url(#mg)"/><circle cx="18.3" cy="15.7" r="1.8" fill="url(#mg)"/><circle cx="17.9" cy="21.2" r="2.3" fill="url(#mg)"/><circle cx="36.8" cy="31.2" r="2.3" fill="url(#mg)"/><circle cx="41.0" cy="34.4" r="2.1" fill="url(#mg)"/><circle cx="9.8" cy="41.8" r="2.0" fill="url(#mg)"/><circle cx="20.0" cy="26.8" r="2.2" fill="url(#mg)"/><circle cx="13.5" cy="21.1" r="2.1" fill="url(#mg)"/><circle cx="39.2" cy="31.0" r="2.2" fill="url(#mg)"/><circle cx="7.3" cy="9.7" r="2.4" fill="url(#mg)"/><circle cx="2.8" cy="8.8" r="2.3" fill="url(#mg)"/><circle cx="15.5" cy="24.1" r="2.1" fill="url(#mg)"/><circle cx="19.5" cy="12.7" r="2.1" fill="url(#mg)"/><circle cx="32.8" cy="42.5" r="2.0" fill="url(#mg)"/><circle cx="20.9" cy="32.0" r="2.6" fill="url(#mg)"/><circle cx="12.5" cy="31.3" r="2.6" fill="url(#mg)"/><circle cx="24.1" cy="30.8" r="1.9" fill="url(#mg)"/><circle cx="-0.9" cy="11.7" r="1.9" fill="url(#mg)"/><circle cx="0.9" cy="42.1" r="2.1" fill="url(#mg)"/><circle cx="1.9" cy="27.6" r="2.4" fill="url(#mg)"/><circle cx="42.3" cy="2.4" r="2.3" fill="url(#mg)"/><circle cx="26.7" cy="32.8" r="2.3" fill="url(#mg)"/><circle cx="10.7" cy="2.3" r="1.9" fill="url(#mg)"/><circle cx="17.4" cy="30.4" r="2.0" fill="url(#mg)"/><circle cx="31.2" cy="31.0" r="2.5" fill="url(#mg)"/><circle cx="34.9" cy="27.4" r="2.1" fill="url(#mg)"/><circle cx="23.7" cy="28.5" r="1.9" fill="url(#mg)"/><circle cx="6.2" cy="12.7" r="2.2" fill="url(#mg)"/><circle cx="20.2" cy="12.6" r="2.2" fill="url(#mg)"/><circle cx="21.3" cy="2.2" r="2.4" fill="url(#mg)"/><circle cx="26.4" cy="-0.3" r="2.6" fill="url(#mg)"/><circle cx="29.6" cy="11.0" r="2.2" fill="url(#mg)"/><circle cx="28.6" cy="40.9" r="2.3" fill="url(#mg)"/><circle cx="21.2" cy="2.7" r="2.1" fill="url(#mg)"/><circle cx="3.3" cy="5.9" r="2.0" fill="url(#mg)"/><circle cx="42.2" cy="36.2" r="1.9" fill="url(#mg)"/><circle cx="10.2" cy="3.9" r="2.3" fill="url(#mg)"/><circle cx="23.6" cy="17.6" r="2.3" fill="url(#mg)"/><circle cx="21.5" cy="19.0" r="2.2" fill="url(#mg)"/><circle cx="4.1" cy="43.6" r="2.4" fill="url(#mg)"/><circle cx="12.9" cy="-0.9" r="2.6" fill="url(#mg)"/><circle cx="40.7" cy="19.9" r="2.2" fill="url(#mg)"/><circle cx="31.6" cy="22.1" r="2.6" fill="url(#mg)"/><circle cx="9.8" cy="24.0" r="2.5" fill="url(#mg)"/><circle cx="11.3" cy="35.1" r="2.5" fill="url(#mg)"/><circle cx="11.6" cy="12.3" r="2.5" fill="url(#mg)"/><circle cx="19.1" cy="20.9" r="2.2" fill="url(#mg)"/><circle cx="13.4" cy="7.2" r="2.0" fill="url(#mg)"/><circle cx="31.1" cy="36.1" r="2.2" fill="url(#mg)"/><circle cx="0.2" cy="21.8" r="2.5" fill="url(#mg)"/><circle cx="18.8" cy="22.9" r="2.1" fill="url(#mg)"/><circle cx="28.8" cy="5.6" r="2.1" fill="url(#mg)"/><circle cx="37.9" cy="38.3" r="2.3" fill="url(#mg)"/><circle cx="11.8" cy="9.0" r="2.4" fill="url(#mg)"/><circle cx="31.0" cy="3.2" r="2.5" fill="url(#mg)"/><circle cx="0.6" cy="35.4" r="2.1" fill="url(#mg)"/><circle cx="9.8" cy="17.6" r="1.9" fill="url(#mg)"/><circle cx="2.1" cy="38.8" r="2.2" fill="url(#mg)"/><circle cx="25.4" cy="9.3" r="2.0" fill="url(#mg)"/><circle cx="29.8" cy="5.8" r="2.6" fill="url(#mg)"/><circle cx="12.3" cy="43.0" r="2.5" fill="url(#mg)"/><circle cx="7.7" cy="16.3" r="2.1" fill="url(#mg)"/><circle cx="15.1" cy="12.2" r="2.6" fill="url(#mg)"/><circle cx="28.9" cy="11.2" r="2.5" fill="url(#mg)"/><circle cx="32.9" cy="37.1" r="2.3" fill="url(#mg)"/><circle cx="14.8" cy="28.0" r="2.3" fill="url(#mg)"/><circle cx="40.2" cy="28.4" r="1.8" fill="url(#mg)"/><circle cx="15.4" cy="4.6" r="2.4" fill="url(#mg)"/><circle cx="6.6" cy="4.6" r="2.2" fill="url(#mg)"/></g></g></svg>
<svg x="121.00" y="451.20" width="43.2" height="43.3" viewBox="0 0 43.2 43.3" overflow="hidden"><g clip-path="url(#cp43)"><rect width="43.2" height="43.3" fill="#200a20"/><g fill-opacity="0.8"><circle cx="0.3" cy="30.7" r="2.7" fill="url(#mp)"/><circle cx="26.6" cy="22.3" r="2.8" fill="url(#mp)"/><circle cx="1.2" cy="3.5" r="2.4" fill="url(#mp)"/><circle cx="22.2" cy="21.5" r="3.0" fill="url(#mp)"/><circle cx="15.9" cy="0.8" r="3.3" fill="url(#mp)"/><circle cx="12.2" cy="39.6" r="3.5" fill="url(#mp)"/><circle cx="36.1" cy="28.8" r="2.4" fill="url(#mp)"/><circle cx="27.3" cy="34.9" r="2.7" fill="url(#mp)"/><circle cx="29.2" cy="18.8" r="3.2" fill="url(#mp)"/><circle cx="0.8" cy="25.9" r="3.1" fill="url(#mp)"/><circle cx="15.2" cy="18.6" r="3.0" fill="url(#mp)"/><circle cx="2.4" cy="4.4" r="3.0" fill="url(#mp)"/><circle cx="12.7" cy="30.5" r="2.5" fill="url(#mp)"/><circle cx="36.5" cy="34.6" r="2.6" fill="url(#mp)"/><circle cx="33.3" cy="19.6" r="2.4" fill="url(#mp)"/><circle cx="17.1" cy="26.0" r="2.8" fill="url(#mp)"/><circle cx="7.2" cy="32.7" r="3.5" fill="url(#mp)"/><circle cx="8.8" cy="7.2" r="3.3" fill="url(#mp)"/><circle cx="16.5" cy="1.3" r="2.3" fill="url(#mp)"/><circle cx="23.7" cy="26.9" r="3.0" fill="url(#mp)"/><circle cx="4.3" cy="27.3" r="2.4" fill="url(#mp)"/><circle cx="7.1" cy="3.9" r="2.9" fill="url(#mp)"/><circle cx="5.5" cy="9.7" r="2.6" fill="url(#mp)"/><circle cx="30.8" cy="11.2" r="2.9" fill="url(#mp)"/><circle cx="14.2" cy="13.3" r="2.9" fill="url(#mp)"/><circle cx="12.3" cy="20.8" r="3.3" fill="url(#mp)"/><circle cx="26.7" cy="32.0" r="2.6" fill="url(#mp)"/><circle cx="41.5" cy="28.1" r="3.1" fill="url(#mp)"/><circle cx="35.4" cy="28.0" r="2.5" fill="url(#mp)"/><circle cx="17.9" cy="1.5" r="2.9" fill="url(#mp)"/><circle cx="3.8" cy="13.4" r="3.2" fill="url(#mp)"/><circle cx="30.8" cy="19.2" r="2.6" fill="url(#mp)"/><circle cx="9.6" cy="26.0" r="3.4" fill="url(#mp)"/><circle cx="12.5" cy="4.6" r="2.5" fill="url(#mp)"/><circle cx="41.9" cy="25.8" r="2.6" fill="url(#mp)"/><circle cx="21.6" cy="40.8" r="3.3" fill="url(#mp)"/><circle cx="3.4" cy="33.1" r="3.3" fill="url(#mp)"/><circle cx="12.7" cy="33.6" r="3.0" fill="url(#mp)"/><circle cx="27.7" cy="24.5" r="2.3" fill="url(#mp)"/><circle cx="31.7" cy="20.8" r="3.1" fill="url(#mp)"/><circle cx="15.1" cy="2.3" r="2.4" fill="url(#mp)"/><circle cx="24.2" cy="13.4" r="2.5" fill="url(#mp)"/><circle cx="38.0" cy="17.7" r="2.6" fill="url(#mp)"/><circle cx="3.3" cy="7.8" r="3.2" fill="url(#mp)"/><circle cx="0.3" cy="3.6" r="3.0" fill="url(#mp)"/><circle cx="21.7" cy="38.0" r="2.6" fill="url(#mp)"/><circle cx="16.9" cy="7.1" r="2.9" fill="url(#mp)"/><circle cx="25.0" cy="42.3" r="3.1" fill="url(#mp)"/><circle cx="19.7" cy="25.8" r="3.1" fill="url(#mp)"/><circle cx="40.6" cy="36.7" r="2.8" fill="url(#mp)"/><circle cx="2.0" cy="2.1" r="3.1" fill="url(#mp)"/><circle cx="10.1" cy="30.5" r="2.6" fill="url(#mp)"/><circle cx="33.8" cy="-1.0" r="2.8" fill="url(#mp)"/><circle cx="28.8" cy="38.8" r="2.5" fill="url(#mp)"/><circle cx="28.8" cy="24.3" r="2.7" fill="url(#mp)"/><circle cx="39.4" cy="13.4" r="3.0" fill="url(#mp)"/><circle cx="18.8" cy="32.4" r="2.4" fill="url(#mp)"/><circle cx="12.3" cy="15.0" r="3.4" fill="url(#mp)"/><circle cx="16.9" cy="34.7" r="2.7" fill="url(#mp)"/><circle cx="35.2" cy="8.5" r="2.7" fill="url(#mp)"/><circle cx="19.2" cy="41.2" r="3.4" fill="url(#mp)"/><circle cx="19.0" cy="18.5" r="2.6" fill="url(#mp)"/><circle cx="27.4" cy="3.2" r="2.4" fill="url(#mp)"/><circle cx="42.5" cy="22.0" r="3.2" fill="url(#mp)"/><circle cx="34.4" cy="29.1" r="3.3" fill="url(#mp)"/><circle cx="0.1" cy="27.7" r="2.5" fill="url(#mp)"/><circle cx="14.7" cy="27.4" r="3.4" fill="url(#mp)"/><circle cx="1.3" cy="31.4" r="2.8" fill="url(#mp)"/><circle cx="-0.2" cy="35.5" r="3.0" fill="url(#mp)"/><circle cx="44.5" cy="38.5" r="2.8" fill="url(#mp)"/><circle cx="23.6" cy="30.9" r="3.2" fill="url(#mp)"/><circle cx="36.4" cy="29.5" r="3.2" fill="url(#mp)"/><circle cx="5.6" cy="21.0" r="2.4" fill="url(#mp)"/><circle cx="30.4" cy="44.5" r="2.7" fill="url(#mp)"/><circle cx="41.7" cy="25.4" r="3.4" fill="url(#mp)"/><circle cx="36.7" cy="19.1" r="2.7" fill="url(#mp)"/><circle cx="12.2" cy="5.9" r="3.4" fill="url(#mp)"/><circle cx="9.1" cy="9.6" r="2.6" fill="url(#mp)"/><circle cx="41.7" cy="39.1" r="2.8" fill="url(#mp)"/><circle cx="-0.1" cy="44.3" r="2.8" fill="url(#mp)"/><circle cx="37.9" cy="32.8" r="2.3" fill="url(#mp)"/><circle cx="42.3" cy="41.4" r="3.3" fill="url(#mp)"/><circle cx="2.3" cy="22.8" r="3.3" fill="url(#mp)"/><circle cx="19.4" cy="34.8" r="3.0" fill="url(#mp)"/><circle cx="37.3" cy="29.7" r="3.1" fill="url(#mp)"/><circle cx="20.2" cy="39.3" r="2.5" fill="url(#mp)"/><circle cx="16.2" cy="7.6" r="3.2" fill="url(#mp)"/><circle cx="32.3" cy="22.2" r="3.4" fill="url(#mp)"/><circle cx="24.1" cy="17.2" r="2.5" fill="url(#mp)"/><circle cx="29.2" cy="24.4" r="2.6" fill="url(#mp)"/><circle cx="35.6" cy="13.8" r="3.2" fill="url(#mp)"/><circle cx="38.6" cy="25.2" r="2.4" fill="url(#mp)"/><circle cx="42.5" cy="22.0" r="3.1" fill="url(#mp)"/><circle cx="40.9" cy="30.2" r="3.4" fill="url(#mp)"/><circle cx="16.8" cy="21.7" r="2.9" fill="url(#mp)"/><circle cx="2.7" cy="9.8" r="3.4" fill="url(#mp)"/><circle cx="6.6" cy="40.9" r="2.7" fill="url(#mp)"/><circle cx="-0.9" cy="15.6" r="2.3" fill="url(#mp)"/><circle cx="25.5" cy="10.7" r="3.2" fill="url(#mp)"/><circle cx="41.9" cy="43.4" r="3.4" fill="url(#mp)"/></g><g fill-opacity="0.86"><circle cx="14.2" cy="26.6" r="2.1" fill="url(#mr)"/><circle cx="10.7" cy="14.1" r="2.0" fill="url(#mr)"/><circle cx="31.0" cy="10.0" r="2.9" fill="url(#mr)"/><circle cx="8.3" cy="16.9" r="2.6" fill="url(#mr)"/><circle cx="26.6" cy="0.0" r="2.8" fill="url(#mr)"/><circle cx="10.7" cy="3.9" r="2.0" fill="url(#mr)"/><circle cx="17.6" cy="7.6" r="2.3" fill="url(#mr)"/><circle cx="37.0" cy="25.9" r="2.3" fill="url(#mr)"/><circle cx="6.6" cy="9.3" r="2.3" fill="url(#mr)"/><circle cx="32.7" cy="26.0" r="2.6" fill="url(#mr)"/><circle cx="32.1" cy="34.9" r="2.8" fill="url(#mr)"/><circle cx="5.0" cy="31.5" r="2.0" fill="url(#mr)"/><circle cx="1.3" cy="12.6" r="2.1" fill="url(#mr)"/><circle cx="37.0" cy="28.6" r="2.5" fill="url(#mr)"/><circle cx="9.3" cy="19.9" r="2.2" fill="url(#mr)"/><circle cx="3.8" cy="13.9" r="2.8" fill="url(#mr)"/><circle cx="13.1" cy="25.5" r="2.4" fill="url(#mr)"/><circle cx="31.3" cy="3.5" r="2.6" fill="url(#mr)"/><circle cx="12.5" cy="44.0" r="2.7" fill="url(#mr)"/><circle cx="44.2" cy="39.6" r="2.4" fill="url(#mr)"/><circle cx="18.6" cy="26.6" r="1.9" fill="url(#mr)"/><circle cx="4.5" cy="18.8" r="2.7" fill="url(#mr)"/><circle cx="16.2" cy="28.2" r="1.9" fill="url(#mr)"/><circle cx="21.0" cy="28.9" r="2.5" fill="url(#mr)"/><circle cx="17.8" cy="36.2" r="2.0" fill="url(#mr)"/><circle cx="6.5" cy="21.5" r="2.5" fill="url(#mr)"/><circle cx="8.7" cy="2.2" r="2.2" fill="url(#mr)"/><circle cx="2.3" cy="26.0" r="2.6" fill="url(#mr)"/><circle cx="40.0" cy="21.0" r="2.1" fill="url(#mr)"/><circle cx="43.0" cy="30.2" r="2.7" fill="url(#mr)"/><circle cx="0.7" cy="3.0" r="2.5" fill="url(#mr)"/><circle cx="2.3" cy="2.6" r="2.5" fill="url(#mr)"/><circle cx="31.5" cy="42.8" r="2.5" fill="url(#mr)"/><circle cx="30.6" cy="37.3" r="2.5" fill="url(#mr)"/><circle cx="43.1" cy="12.0" r="2.6" fill="url(#mr)"/><circle cx="11.1" cy="1.7" r="2.3" fill="url(#mr)"/><circle cx="-1.2" cy="25.3" r="2.3" fill="url(#mr)"/><circle cx="4.2" cy="2.4" r="2.4" fill="url(#mr)"/><circle cx="2.7" cy="9.6" r="1.9" fill="url(#mr)"/><circle cx="23.8" cy="5.9" r="2.5" fill="url(#mr)"/><circle cx="12.5" cy="23.8" r="2.0" fill="url(#mr)"/><circle cx="35.7" cy="37.6" r="2.8" fill="url(#mr)"/><circle cx="23.2" cy="6.0" r="2.3" fill="url(#mr)"/><circle cx="2.9" cy="37.2" r="2.4" fill="url(#mr)"/><circle cx="25.9" cy="17.0" r="2.6" fill="url(#mr)"/><circle cx="41.5" cy="12.3" r="2.0" fill="url(#mr)"/><circle cx="20.6" cy="0.6" r="2.2" fill="url(#mr)"/><circle cx="14.4" cy="0.1" r="2.5" fill="url(#mr)"/><circle cx="19.3" cy="0.1" r="2.1" fill="url(#mr)"/><circle cx="18.1" cy="22.6" r="2.2" fill="url(#mr)"/><circle cx="30.2" cy="43.3" r="2.8" fill="url(#mr)"/><circle cx="25.5" cy="-0.5" r="2.2" fill="url(#mr)"/><circle cx="36.4" cy="-0.8" r="2.8" fill="url(#mr)"/><circle cx="-1.4" cy="3.9" r="2.0" fill="url(#mr)"/><circle cx="30.9" cy="39.0" r="1.9" fill="url(#mr)"/><circle cx="17.9" cy="41.9" r="2.2" fill="url(#mr)"/><circle cx="37.0" cy="10.3" r="2.6" fill="url(#mr)"/><circle cx="0.2" cy="11.3" r="2.2" fill="url(#mr)"/><circle cx="2.3" cy="2.4" r="2.2" fill="url(#mr)"/><circle cx="18.0" cy="5.4" r="2.3" fill="url(#mr)"/><circle cx="10.1" cy="19.7" r="2.0" fill="url(#mr)"/><circle cx="32.4" cy="11.0" r="1.9" fill="url(#mr)"/><circle cx="9.6" cy="38.8" r="2.7" fill="url(#mr)"/><circle cx="39.4" cy="37.5" r="2.0" fill="url(#mr)"/><circle cx="35.3" cy="0.8" r="2.2" fill="url(#mr)"/><circle cx="42.3" cy="21.2" r="2.2" fill="url(#mr)"/><circle cx="32.6" cy="19.2" r="2.2" fill="url(#mr)"/><circle cx="15.8" cy="-0.5" r="2.3" fill="url(#mr)"/><circle cx="4.7" cy="35.9" r="2.6" fill="url(#mr)"/><circle cx="18.8" cy="26.2" r="2.3" fill="url(#mr)"/><circle cx="10.5" cy="13.6" r="2.4" fill="url(#mr)"/><circle cx="23.2" cy="-0.7" r="1.9" fill="url(#mr)"/><circle cx="12.7" cy="43.4" r="2.0" fill="url(#mr)"/><circle cx="18.9" cy="39.1" r="2.2" fill="url(#mr)"/><circle cx="4.2" cy="10.1" r="2.8" fill="url(#mr)"/><circle cx="15.3" cy="21.5" r="2.6" fill="url(#mr)"/><circle cx="36.7" cy="2.2" r="2.2" fill="url(#mr)"/><circle cx="14.9" cy="9.1" r="2.7" fill="url(#mr)"/><circle cx="41.6" cy="2.6" r="2.4" fill="url(#mr)"/><circle cx="41.4" cy="20.0" r="1.9" fill="url(#mr)"/><circle cx="26.4" cy="2.7" r="2.6" fill="url(#mr)"/><circle cx="40.2" cy="5.3" r="2.0" fill="url(#mr)"/><circle cx="11.7" cy="15.3" r="2.2" fill="url(#mr)"/><circle cx="29.9" cy="28.1" r="2.0" fill="url(#mr)"/><circle cx="24.5" cy="41.8" r="2.6" fill="url(#mr)"/><circle cx="32.9" cy="13.8" r="1.9" fill="url(#mr)"/><circle cx="39.7" cy="3.3" r="2.9" fill="url(#mr)"/><circle cx="35.5" cy="7.7" r="2.0" fill="url(#mr)"/><circle cx="9.5" cy="18.1" r="2.4" fill="url(#mr)"/><circle cx="12.8" cy="26.8" r="2.8" fill="url(#mr)"/><circle cx="34.8" cy="41.6" r="2.6" fill="url(#mr)"/><circle cx="30.6" cy="13.3" r="2.5" fill="url(#mr)"/><circle cx="39.7" cy="43.9" r="1.9" fill="url(#mr)"/><circle cx="19.5" cy="21.3" r="2.9" fill="url(#mr)"/><circle cx="17.7" cy="35.9" r="2.2" fill="url(#mr)"/><circle cx="39.5" cy="42.4" r="2.3" fill="url(#mr)"/><circle cx="34.7" cy="19.8" r="2.7" fill="url(#mr)"/><circle cx="15.0" cy="11.3" r="2.3" fill="url(#mr)"/><circle cx="31.9" cy="32.1" r="2.1" fill="url(#mr)"/><circle cx="9.8" cy="32.6" r="2.3" fill="url(#mr)"/><circle cx="33.1" cy="33.1" r="2.7" fill="url(#mr)"/><circle cx="25.9" cy="34.4" r="2.1" fill="url(#mr)"/><circle cx="4.1" cy="33.0" r="2.1" fill="url(#mr)"/><circle cx="1.0" cy="43.4" r="2.5" fill="url(#mr)"/><circle cx="36.9" cy="37.6" r="2.4" fill="url(#mr)"/><circle cx="16.9" cy="8.5" r="2.4" fill="url(#mr)"/><circle cx="24.3" cy="16.6" r="2.6" fill="url(#mr)"/><circle cx="28.3" cy="22.7" r="2.6" fill="url(#mr)"/><circle cx="22.1" cy="15.2" r="2.3" fill="url(#mr)"/><circle cx="2.4" cy="24.6" r="2.8" fill="url(#mr)"/><circle cx="22.7" cy="15.6" r="2.0" fill="url(#mr)"/><circle cx="44.1" cy="29.7" r="2.5" fill="url(#mr)"/><circle cx="0.6" cy="13.1" r="2.5" fill="url(#mr)"/><circle cx="2.0" cy="29.3" r="2.2" fill="url(#mr)"/><circle cx="19.7" cy="34.2" r="2.8" fill="url(#mr)"/><circle cx="16.2" cy="38.0" r="2.8" fill="url(#mr)"/><circle cx="15.9" cy="25.5" r="2.6" fill="url(#mr)"/><circle cx="25.3" cy="3.9" r="2.1" fill="url(#mr)"/><circle cx="4.5" cy="36.3" r="2.7" fill="url(#mr)"/><circle cx="1.1" cy="19.0" r="2.8" fill="url(#mr)"/><circle cx="43.4" cy="-0.6" r="2.5" fill="url(#mr)"/><circle cx="33.2" cy="22.2" r="2.7" fill="url(#mr)"/><circle cx="5.3" cy="23.6" r="1.9" fill="url(#mr)"/><circle cx="41.6" cy="21.4" r="2.4" fill="url(#mr)"/><circle cx="18.2" cy="22.8" r="2.6" fill="url(#mr)"/><circle cx="39.7" cy="23.1" r="2.0" fill="url(#mr)"/><circle cx="27.1" cy="0.8" r="2.8" fill="url(#mr)"/><circle cx="6.2" cy="33.4" r="2.5" fill="url(#mr)"/><circle cx="6.3" cy="-0.6" r="2.1" fill="url(#mr)"/><circle cx="6.6" cy="2.7" r="2.6" fill="url(#mr)"/></g><g fill-opacity="0.7"><circle cx="18.8" cy="14.5" r="2.2" fill="url(#mg)"/><circle cx="40.8" cy="24.1" r="1.9" fill="url(#mg)"/><circle cx="12.4" cy="-0.8" r="2.1" fill="url(#mg)"/><circle cx="23.3" cy="29.9" r="2.0" fill="url(#mg)"/><circle cx="6.1" cy="14.0" r="1.8" fill="url(#mg)"/><circle cx="33.3" cy="44.7" r="2.1" fill="url(#mg)"/><circle cx="40.3" cy="27.8" r="2.3" fill="url(#mg)"/><circle cx="27.1" cy="16.4" r="2.1" fill="url(#mg)"/><circle cx="17.4" cy="37.2" r="1.8" fill="url(#mg)"/><circle cx="40.7" cy="44.5" r="2.2" fill="url(#mg)"/><circle cx="37.8" cy="26.8" r="1.8" fill="url(#mg)"/><circle cx="35.2" cy="10.8" r="1.7" fill="url(#mg)"/><circle cx="10.3" cy="20.8" r="1.8" fill="url(#mg)"/><circle cx="1.6" cy="37.6" r="1.7" fill="url(#mg)"/><circle cx="27.7" cy="-0.1" r="1.9" fill="url(#mg)"/><circle cx="5.2" cy="35.8" r="2.2" fill="url(#mg)"/><circle cx="34.0" cy="37.6" r="2.1" fill="url(#mg)"/><circle cx="38.3" cy="11.9" r="1.9" fill="url(#mg)"/><circle cx="12.4" cy="24.6" r="1.7" fill="url(#mg)"/><circle cx="11.2" cy="19.4" r="2.3" fill="url(#mg)"/><circle cx="16.9" cy="20.1" r="1.7" fill="url(#mg)"/><circle cx="23.7" cy="24.1" r="2.3" fill="url(#mg)"/><circle cx="20.6" cy="38.0" r="2.2" fill="url(#mg)"/><circle cx="3.8" cy="25.6" r="2.1" fill="url(#mg)"/><circle cx="25.4" cy="16.9" r="2.2" fill="url(#mg)"/><circle cx="20.3" cy="19.7" r="2.0" fill="url(#mg)"/><circle cx="23.9" cy="35.9" r="1.8" fill="url(#mg)"/><circle cx="38.6" cy="5.9" r="2.0" fill="url(#mg)"/><circle cx="21.8" cy="44.4" r="2.2" fill="url(#mg)"/><circle cx="30.8" cy="24.7" r="1.8" fill="url(#mg)"/><circle cx="14.8" cy="43.4" r="2.0" fill="url(#mg)"/><circle cx="8.5" cy="38.7" r="1.8" fill="url(#mg)"/><circle cx="24.5" cy="7.9" r="1.9" fill="url(#mg)"/><circle cx="20.8" cy="4.0" r="2.3" fill="url(#mg)"/><circle cx="19.8" cy="23.0" r="1.7" fill="url(#mg)"/><circle cx="29.3" cy="16.8" r="1.8" fill="url(#mg)"/><circle cx="1.7" cy="43.8" r="2.2" fill="url(#mg)"/><circle cx="14.2" cy="44.5" r="1.8" fill="url(#mg)"/><circle cx="41.2" cy="19.2" r="2.3" fill="url(#mg)"/><circle cx="42.9" cy="22.6" r="1.6" fill="url(#mg)"/></g></g></svg>
<svg x="166.40" y="451.20" width="43.2" height="43.3" viewBox="0 0 43.2 43.3" overflow="hidden"><g clip-path="url(#cp44)"><rect width="43.2" height="43.3" fill="#080614"/><g fill-opacity="0.72"><circle cx="17.4" cy="23.6" r="2.6" fill="url(#mp)"/><circle cx="11.9" cy="8.9" r="2.4" fill="url(#mp)"/><circle cx="16.0" cy="17.3" r="2.6" fill="url(#mb)"/><circle cx="14.2" cy="11.6" r="2.8" fill="url(#mp)"/><circle cx="11.0" cy="13.1" r="2.2" fill="url(#mb)"/><circle cx="16.3" cy="20.6" r="2.3" fill="url(#mp)"/><circle cx="33.0" cy="34.5" r="2.9" fill="url(#mb)"/><circle cx="19.5" cy="35.6" r="2.7" fill="url(#mb)"/><circle cx="35.2" cy="30.2" r="2.5" fill="url(#mp)"/><circle cx="-1.1" cy="39.4" r="3.2" fill="url(#mb)"/><circle cx="15.0" cy="7.7" r="2.3" fill="url(#mb)"/><circle cx="8.8" cy="31.7" r="2.9" fill="url(#mp)"/><circle cx="41.1" cy="1.4" r="2.5" fill="url(#mb)"/><circle cx="30.3" cy="27.5" r="2.5" fill="url(#mp)"/><circle cx="42.9" cy="10.7" r="2.7" fill="url(#mb)"/><circle cx="21.0" cy="11.7" r="2.5" fill="url(#mb)"/><circle cx="39.3" cy="19.3" r="3.1" fill="url(#mp)"/><circle cx="28.9" cy="1.9" r="3.1" fill="url(#mb)"/><circle cx="2.4" cy="40.3" r="2.9" fill="url(#mb)"/><circle cx="21.7" cy="15.3" r="2.8" fill="url(#mp)"/><circle cx="1.9" cy="11.1" r="3.2" fill="url(#mp)"/><circle cx="40.7" cy="5.2" r="3.1" fill="url(#mb)"/><circle cx="30.1" cy="35.7" r="2.4" fill="url(#mb)"/><circle cx="5.7" cy="5.3" r="2.5" fill="url(#mb)"/><circle cx="23.2" cy="8.3" r="2.7" fill="url(#mp)"/><circle cx="2.1" cy="2.9" r="2.8" fill="url(#mp)"/><circle cx="12.7" cy="4.4" r="2.9" fill="url(#mp)"/><circle cx="13.2" cy="28.7" r="2.2" fill="url(#mp)"/><circle cx="8.0" cy="7.5" r="2.8" fill="url(#mp)"/><circle cx="38.1" cy="41.3" r="2.9" fill="url(#mb)"/><circle cx="11.1" cy="16.0" r="3.2" fill="url(#mb)"/><circle cx="12.3" cy="34.3" r="2.9" fill="url(#mp)"/><circle cx="6.4" cy="6.8" r="2.7" fill="url(#mb)"/><circle cx="21.4" cy="16.0" r="2.8" fill="url(#mb)"/><circle cx="10.1" cy="8.9" r="2.5" fill="url(#mp)"/><circle cx="15.3" cy="18.2" r="2.7" fill="url(#mb)"/><circle cx="30.9" cy="3.0" r="2.2" fill="url(#mb)"/><circle cx="19.0" cy="42.4" r="2.5" fill="url(#mp)"/><circle cx="28.6" cy="33.6" r="3.1" fill="url(#mp)"/><circle cx="6.3" cy="35.4" r="2.5" fill="url(#mp)"/><circle cx="4.1" cy="18.9" r="2.7" fill="url(#mp)"/><circle cx="15.0" cy="43.1" r="2.8" fill="url(#mp)"/><circle cx="3.7" cy="23.5" r="2.2" fill="url(#mb)"/><circle cx="18.6" cy="30.6" r="3.2" fill="url(#mp)"/><circle cx="23.1" cy="3.7" r="2.4" fill="url(#mp)"/><circle cx="10.3" cy="11.2" r="2.3" fill="url(#mb)"/><circle cx="22.1" cy="30.7" r="2.6" fill="url(#mp)"/><circle cx="30.9" cy="19.3" r="2.4" fill="url(#mb)"/><circle cx="7.4" cy="24.8" r="3.0" fill="url(#mb)"/><circle cx="24.1" cy="10.6" r="2.7" fill="url(#mp)"/><circle cx="21.1" cy="26.2" r="2.5" fill="url(#mb)"/><circle cx="44.1" cy="21.2" r="2.5" fill="url(#mp)"/><circle cx="11.2" cy="-0.5" r="2.8" fill="url(#mb)"/><circle cx="40.9" cy="24.8" r="2.5" fill="url(#mb)"/><circle cx="22.5" cy="15.7" r="3.0" fill="url(#mp)"/><circle cx="5.9" cy="40.0" r="2.2" fill="url(#mb)"/><circle cx="10.7" cy="1.7" r="2.2" fill="url(#mb)"/><circle cx="3.2" cy="31.9" r="3.2" fill="url(#mb)"/><circle cx="12.7" cy="0.0" r="3.1" fill="url(#mb)"/><circle cx="11.7" cy="22.9" r="2.6" fill="url(#mp)"/><circle cx="16.0" cy="34.4" r="2.5" fill="url(#mp)"/><circle cx="5.5" cy="32.1" r="2.2" fill="url(#mb)"/><circle cx="-0.7" cy="22.3" r="3.1" fill="url(#mb)"/><circle cx="6.6" cy="19.5" r="2.3" fill="url(#mb)"/><circle cx="0.7" cy="2.7" r="2.5" fill="url(#mp)"/><circle cx="-1.0" cy="14.4" r="2.7" fill="url(#mp)"/><circle cx="-0.1" cy="33.2" r="2.2" fill="url(#mp)"/><circle cx="4.1" cy="15.7" r="2.6" fill="url(#mp)"/><circle cx="4.5" cy="31.1" r="2.7" fill="url(#mp)"/><circle cx="0.7" cy="9.6" r="2.6" fill="url(#mb)"/><circle cx="11.8" cy="33.3" r="2.5" fill="url(#mp)"/><circle cx="14.1" cy="10.9" r="2.8" fill="url(#mp)"/><circle cx="12.0" cy="17.3" r="2.6" fill="url(#mp)"/><circle cx="8.1" cy="1.8" r="2.5" fill="url(#mp)"/><circle cx="40.0" cy="44.1" r="2.9" fill="url(#mb)"/><circle cx="27.3" cy="1.7" r="2.5" fill="url(#mb)"/><circle cx="32.3" cy="2.5" r="2.7" fill="url(#mp)"/><circle cx="16.9" cy="25.4" r="2.4" fill="url(#mp)"/><circle cx="6.4" cy="27.2" r="2.9" fill="url(#mb)"/><circle cx="17.6" cy="31.7" r="2.3" fill="url(#mb)"/></g><g fill-opacity="0.86"><circle cx="36.7" cy="0.1" r="2.3" fill="url(#mg)"/><circle cx="18.2" cy="18.5" r="2.1" fill="url(#mg)"/><circle cx="41.7" cy="36.3" r="1.9" fill="url(#mg)"/><circle cx="39.0" cy="19.4" r="2.2" fill="url(#mg)"/><circle cx="17.4" cy="32.1" r="2.5" fill="url(#mg)"/><circle cx="35.7" cy="40.5" r="2.0" fill="url(#mg)"/><circle cx="22.8" cy="19.4" r="2.7" fill="url(#mg)"/><circle cx="40.4" cy="22.0" r="2.4" fill="url(#mg)"/><circle cx="37.2" cy="14.4" r="1.9" fill="url(#mg)"/><circle cx="15.9" cy="36.6" r="1.9" fill="url(#mg)"/><circle cx="37.5" cy="43.9" r="2.5" fill="url(#mg)"/><circle cx="29.6" cy="24.1" r="2.2" fill="url(#mg)"/><circle cx="40.6" cy="28.2" r="2.3" fill="url(#mg)"/><circle cx="13.8" cy="30.3" r="1.9" fill="url(#mg)"/><circle cx="22.4" cy="-1.2" r="2.0" fill="url(#mg)"/><circle cx="9.2" cy="18.2" r="2.4" fill="url(#mg)"/><circle cx="29.1" cy="0.5" r="2.3" fill="url(#mg)"/><circle cx="20.4" cy="15.4" r="2.3" fill="url(#mg)"/><circle cx="28.9" cy="13.7" r="1.9" fill="url(#mg)"/><circle cx="34.7" cy="43.6" r="2.7" fill="url(#mg)"/><circle cx="20.9" cy="22.5" r="2.5" fill="url(#mg)"/><circle cx="25.1" cy="36.6" r="2.6" fill="url(#mg)"/><circle cx="21.8" cy="12.1" r="2.2" fill="url(#mg)"/><circle cx="3.2" cy="28.5" r="2.5" fill="url(#mg)"/><circle cx="30.5" cy="7.1" r="2.3" fill="url(#mg)"/><circle cx="20.2" cy="28.4" r="2.3" fill="url(#mg)"/><circle cx="25.6" cy="24.0" r="2.2" fill="url(#mg)"/><circle cx="25.9" cy="33.3" r="2.1" fill="url(#mg)"/><circle cx="26.5" cy="31.1" r="1.9" fill="url(#mg)"/><circle cx="26.8" cy="19.8" r="2.4" fill="url(#mg)"/><circle cx="34.2" cy="22.5" r="1.9" fill="url(#mg)"/><circle cx="27.8" cy="8.5" r="2.7" fill="url(#mg)"/><circle cx="19.9" cy="31.1" r="1.9" fill="url(#mg)"/><circle cx="16.8" cy="41.5" r="2.4" fill="url(#mg)"/><circle cx="14.8" cy="13.7" r="2.4" fill="url(#mg)"/><circle cx="22.8" cy="35.9" r="2.4" fill="url(#mg)"/><circle cx="11.0" cy="22.2" r="2.2" fill="url(#mg)"/><circle cx="29.6" cy="40.6" r="2.2" fill="url(#mg)"/><circle cx="19.7" cy="20.2" r="1.9" fill="url(#mg)"/><circle cx="29.5" cy="21.8" r="2.1" fill="url(#mg)"/><circle cx="38.9" cy="23.4" r="2.5" fill="url(#mg)"/><circle cx="20.5" cy="12.6" r="2.5" fill="url(#mg)"/><circle cx="29.9" cy="14.9" r="2.4" fill="url(#mg)"/><circle cx="27.8" cy="13.8" r="2.5" fill="url(#mg)"/><circle cx="9.9" cy="19.3" r="2.0" fill="url(#mg)"/><circle cx="11.1" cy="12.4" r="2.5" fill="url(#mg)"/><circle cx="36.1" cy="19.7" r="2.3" fill="url(#mg)"/><circle cx="21.8" cy="41.0" r="1.9" fill="url(#mg)"/><circle cx="40.4" cy="6.7" r="2.4" fill="url(#mg)"/><circle cx="20.6" cy="20.9" r="2.0" fill="url(#mg)"/><circle cx="31.7" cy="33.3" r="2.0" fill="url(#mg)"/><circle cx="14.9" cy="7.4" r="2.3" fill="url(#mg)"/><circle cx="19.8" cy="31.7" r="2.5" fill="url(#mg)"/><circle cx="40.0" cy="23.8" r="2.5" fill="url(#mg)"/><circle cx="18.6" cy="35.6" r="2.3" fill="url(#mg)"/><circle cx="14.9" cy="27.3" r="2.1" fill="url(#mg)"/><circle cx="20.1" cy="42.3" r="2.5" fill="url(#mg)"/><circle cx="43.3" cy="27.3" r="2.3" fill="url(#mg)"/><circle cx="27.4" cy="5.2" r="1.8" fill="url(#mg)"/><circle cx="37.8" cy="35.7" r="2.0" fill="url(#mg)"/><circle cx="16.8" cy="18.0" r="1.9" fill="url(#mg)"/><circle cx="36.9" cy="39.1" r="1.8" fill="url(#mg)"/><circle cx="43.6" cy="8.0" r="2.1" fill="url(#mg)"/><circle cx="30.5" cy="6.7" r="2.2" fill="url(#mg)"/><circle cx="27.8" cy="24.8" r="2.0" fill="url(#mg)"/><circle cx="16.8" cy="9.5" r="2.1" fill="url(#mg)"/><circle cx="22.1" cy="23.3" r="2.1" fill="url(#mg)"/><circle cx="32.8" cy="34.5" r="1.9" fill="url(#mg)"/><circle cx="33.5" cy="33.7" r="2.1" fill="url(#mg)"/><circle cx="-1.2" cy="38.6" r="1.9" fill="url(#mg)"/><circle cx="34.9" cy="28.5" r="2.3" fill="url(#mg)"/><circle cx="23.4" cy="18.9" r="2.1" fill="url(#mg)"/><circle cx="20.1" cy="30.1" r="2.1" fill="url(#mg)"/><circle cx="12.7" cy="14.5" r="2.6" fill="url(#mg)"/><circle cx="34.3" cy="37.3" r="2.4" fill="url(#mg)"/><circle cx="18.0" cy="28.8" r="2.0" fill="url(#mg)"/><circle cx="33.9" cy="33.5" r="2.3" fill="url(#mg)"/><circle cx="21.8" cy="9.7" r="2.5" fill="url(#mg)"/><circle cx="23.4" cy="17.8" r="1.9" fill="url(#mg)"/><circle cx="21.8" cy="30.0" r="2.7" fill="url(#mg)"/><circle cx="26.0" cy="29.4" r="1.9" fill="url(#mg)"/><circle cx="28.6" cy="6.7" r="2.1" fill="url(#mg)"/><circle cx="20.8" cy="38.6" r="2.3" fill="url(#mg)"/><circle cx="17.6" cy="34.7" r="1.9" fill="url(#mg)"/><circle cx="42.7" cy="4.9" r="2.1" fill="url(#mg)"/></g><g fill-opacity="0.7"><circle cx="19.2" cy="14.4" r="2.4" fill="url(#mr)"/><circle cx="30.7" cy="42.3" r="2.1" fill="url(#mr)"/><circle cx="30.4" cy="37.7" r="2.1" fill="url(#mr)"/><circle cx="21.3" cy="34.6" r="2.2" fill="url(#mr)"/><circle cx="20.3" cy="1.8" r="2.1" fill="url(#mr)"/><circle cx="2.7" cy="24.9" r="2.3" fill="url(#mr)"/><circle cx="34.3" cy="4.8" r="2.3" fill="url(#mr)"/><circle cx="32.7" cy="8.0" r="2.4" fill="url(#mr)"/><circle cx="27.8" cy="11.9" r="2.4" fill="url(#mr)"/><circle cx="43.9" cy="8.8" r="2.2" fill="url(#mr)"/><circle cx="37.7" cy="40.5" r="2.3" fill="url(#mr)"/><circle cx="11.9" cy="4.9" r="1.8" fill="url(#mr)"/><circle cx="28.7" cy="31.6" r="1.7" fill="url(#mr)"/><circle cx="-0.5" cy="13.3" r="2.3" fill="url(#mr)"/><circle cx="36.0" cy="11.6" r="2.1" fill="url(#mr)"/><circle cx="1.9" cy="34.0" r="2.3" fill="url(#mr)"/><circle cx="20.2" cy="2.2" r="1.8" fill="url(#mr)"/><circle cx="34.0" cy="9.8" r="2.1" fill="url(#mr)"/><circle cx="3.2" cy="40.7" r="2.1" fill="url(#mr)"/><circle cx="3.8" cy="4.5" r="1.9" fill="url(#mr)"/><circle cx="38.4" cy="24.1" r="1.9" fill="url(#mr)"/><circle cx="37.2" cy="44.4" r="1.8" fill="url(#mr)"/><circle cx="39.2" cy="6.5" r="1.9" fill="url(#mr)"/><circle cx="16.9" cy="37.7" r="2.4" fill="url(#mr)"/><circle cx="31.4" cy="-0.8" r="2.2" fill="url(#mr)"/></g></g></svg>
<svg x="211.90" y="451.20" width="43.2" height="43.3" viewBox="0 0 43.2 43.3" overflow="hidden"><g clip-path="url(#cp45)"><rect width="43.2" height="43.3" fill="#050912"/><g fill-opacity="0.88"><circle cx="11.1" cy="21.1" r="1.9" fill="url(#mg)"/><circle cx="40.0" cy="1.6" r="2.1" fill="url(#mg)"/><circle cx="37.7" cy="31.7" r="2.0" fill="url(#mg)"/><circle cx="1.1" cy="-0.0" r="2.7" fill="url(#mg)"/><circle cx="43.0" cy="2.8" r="2.2" fill="url(#mg)"/><circle cx="16.4" cy="39.1" r="2.5" fill="url(#mg)"/><circle cx="14.7" cy="27.5" r="2.6" fill="url(#mg)"/><circle cx="18.1" cy="8.2" r="2.0" fill="url(#mg)"/><circle cx="19.5" cy="2.5" r="2.5" fill="url(#mg)"/><circle cx="23.6" cy="27.7" r="2.2" fill="url(#mg)"/><circle cx="6.9" cy="27.3" r="1.9" fill="url(#mg)"/><circle cx="40.8" cy="31.5" r="2.3" fill="url(#mg)"/><circle cx="13.7" cy="43.5" r="2.4" fill="url(#mg)"/><circle cx="34.8" cy="39.9" r="2.9" fill="url(#mg)"/><circle cx="29.0" cy="31.3" r="2.5" fill="url(#mg)"/><circle cx="11.3" cy="34.0" r="2.6" fill="url(#mg)"/><circle cx="37.1" cy="30.5" r="2.3" fill="url(#mg)"/><circle cx="25.1" cy="36.1" r="2.6" fill="url(#mg)"/><circle cx="25.8" cy="38.7" r="2.6" fill="url(#mg)"/><circle cx="9.1" cy="8.9" r="2.5" fill="url(#mg)"/><circle cx="11.5" cy="13.1" r="2.5" fill="url(#mg)"/><circle cx="31.6" cy="17.2" r="2.5" fill="url(#mg)"/><circle cx="16.3" cy="37.0" r="2.9" fill="url(#mg)"/><circle cx="10.8" cy="37.3" r="2.1" fill="url(#mg)"/><circle cx="17.3" cy="32.9" r="2.5" fill="url(#mg)"/><circle cx="35.4" cy="37.6" r="2.5" fill="url(#mg)"/><circle cx="35.4" cy="44.1" r="2.6" fill="url(#mg)"/><circle cx="11.3" cy="38.6" r="2.5" fill="url(#mg)"/><circle cx="10.7" cy="8.9" r="2.4" fill="url(#mg)"/><circle cx="14.2" cy="18.9" r="2.2" fill="url(#mg)"/><circle cx="4.3" cy="23.3" r="2.7" fill="url(#mg)"/><circle cx="6.3" cy="26.6" r="2.9" fill="url(#mg)"/><circle cx="2.2" cy="25.3" r="2.1" fill="url(#mg)"/><circle cx="22.5" cy="38.7" r="2.3" fill="url(#mg)"/><circle cx="33.5" cy="37.9" r="2.6" fill="url(#mg)"/><circle cx="17.6" cy="16.8" r="2.3" fill="url(#mg)"/><circle cx="28.3" cy="22.8" r="2.3" fill="url(#mg)"/><circle cx="14.3" cy="12.1" r="2.4" fill="url(#mg)"/><circle cx="28.0" cy="43.1" r="2.2" fill="url(#mg)"/><circle cx="27.3" cy="18.0" r="2.7" fill="url(#mg)"/><circle cx="6.8" cy="41.4" r="2.8" fill="url(#mg)"/><circle cx="19.1" cy="19.0" r="2.0" fill="url(#mg)"/><circle cx="12.2" cy="1.9" r="2.8" fill="url(#mg)"/><circle cx="18.6" cy="33.7" r="2.8" fill="url(#mg)"/><circle cx="15.0" cy="28.3" r="2.8" fill="url(#mg)"/><circle cx="17.9" cy="44.2" r="2.6" fill="url(#mg)"/><circle cx="6.4" cy="20.1" r="2.6" fill="url(#mg)"/><circle cx="15.8" cy="14.4" r="2.7" fill="url(#mg)"/><circle cx="4.8" cy="44.4" r="2.0" fill="url(#mg)"/><circle cx="44.5" cy="30.3" r="2.8" fill="url(#mg)"/><circle cx="3.4" cy="24.4" r="2.2" fill="url(#mg)"/><circle cx="43.1" cy="10.4" r="2.5" fill="url(#mg)"/><circle cx="22.1" cy="41.7" r="2.2" fill="url(#mg)"/><circle cx="12.2" cy="35.1" r="2.4" fill="url(#mg)"/><circle cx="21.8" cy="14.3" r="2.8" fill="url(#mg)"/><circle cx="10.6" cy="2.6" r="2.6" fill="url(#mg)"/><circle cx="23.4" cy="6.5" r="2.5" fill="url(#mg)"/><circle cx="21.6" cy="38.8" r="2.5" fill="url(#mg)"/><circle cx="20.5" cy="19.5" r="2.4" fill="url(#mg)"/><circle cx="17.6" cy="9.2" r="1.9" fill="url(#mg)"/><circle cx="19.0" cy="23.7" r="2.8" fill="url(#mg)"/><circle cx="9.7" cy="27.8" r="2.3" fill="url(#mg)"/><circle cx="41.1" cy="32.9" r="2.8" fill="url(#mg)"/><circle cx="17.7" cy="17.1" r="2.8" fill="url(#mg)"/><circle cx="30.9" cy="26.8" r="2.3" fill="url(#mg)"/><circle cx="34.5" cy="19.0" r="2.5" fill="url(#mg)"/><circle cx="34.0" cy="8.9" r="2.2" fill="url(#mg)"/><circle cx="28.1" cy="4.5" r="2.5" fill="url(#mg)"/><circle cx="19.7" cy="33.1" r="1.9" fill="url(#mg)"/><circle cx="37.5" cy="32.3" r="1.9" fill="url(#mg)"/><circle cx="16.5" cy="4.7" r="2.6" fill="url(#mg)"/><circle cx="6.6" cy="28.2" r="2.8" fill="url(#mg)"/><circle cx="28.2" cy="39.2" r="2.4" fill="url(#mg)"/><circle cx="16.5" cy="6.2" r="2.5" fill="url(#mg)"/><circle cx="-0.9" cy="23.5" r="2.4" fill="url(#mg)"/><circle cx="23.2" cy="38.3" r="2.7" fill="url(#mg)"/><circle cx="19.4" cy="15.4" r="2.2" fill="url(#mg)"/><circle cx="13.5" cy="28.6" r="2.7" fill="url(#mg)"/><circle cx="15.9" cy="44.6" r="2.8" fill="url(#mg)"/><circle cx="14.2" cy="26.5" r="2.5" fill="url(#mg)"/><circle cx="19.2" cy="32.7" r="2.0" fill="url(#mg)"/><circle cx="13.5" cy="29.5" r="2.6" fill="url(#mg)"/><circle cx="29.7" cy="13.4" r="2.6" fill="url(#mg)"/><circle cx="33.0" cy="19.9" r="2.8" fill="url(#mg)"/><circle cx="6.0" cy="29.7" r="2.4" fill="url(#mg)"/><circle cx="19.1" cy="19.0" r="2.1" fill="url(#mg)"/><circle cx="3.2" cy="16.9" r="2.3" fill="url(#mg)"/><circle cx="-0.5" cy="41.3" r="2.8" fill="url(#mg)"/><circle cx="24.9" cy="9.0" r="1.9" fill="url(#mg)"/><circle cx="43.9" cy="17.2" r="2.3" fill="url(#mg)"/><circle cx="25.2" cy="43.1" r="2.4" fill="url(#mg)"/><circle cx="14.9" cy="41.4" r="2.4" fill="url(#mg)"/><circle cx="1.6" cy="10.3" r="2.3" fill="url(#mg)"/><circle cx="2.9" cy="24.6" r="2.8" fill="url(#mg)"/><circle cx="19.4" cy="9.6" r="2.5" fill="url(#mg)"/><circle cx="23.0" cy="6.2" r="2.1" fill="url(#mg)"/><circle cx="24.4" cy="25.8" r="2.8" fill="url(#mg)"/><circle cx="2.4" cy="14.5" r="2.5" fill="url(#mg)"/><circle cx="6.9" cy="12.5" r="2.9" fill="url(#mg)"/><circle cx="25.3" cy="1.0" r="2.1" fill="url(#mg)"/><circle cx="6.2" cy="8.6" r="2.4" fill="url(#mg)"/><circle cx="18.7" cy="1.0" r="2.1" fill="url(#mg)"/><circle cx="17.5" cy="38.8" r="2.2" fill="url(#mg)"/><circle cx="11.0" cy="0.5" r="2.2" fill="url(#mg)"/><circle cx="22.2" cy="37.8" r="2.4" fill="url(#mg)"/><circle cx="31.1" cy="35.2" r="2.3" fill="url(#mg)"/><circle cx="7.7" cy="30.6" r="2.2" fill="url(#mg)"/><circle cx="-0.6" cy="17.0" r="2.7" fill="url(#mg)"/><circle cx="17.7" cy="33.8" r="1.9" fill="url(#mg)"/><circle cx="39.6" cy="14.9" r="2.5" fill="url(#mg)"/><circle cx="14.9" cy="5.0" r="2.0" fill="url(#mg)"/><circle cx="8.0" cy="23.7" r="2.4" fill="url(#mg)"/><circle cx="38.3" cy="20.4" r="2.1" fill="url(#mg)"/><circle cx="2.2" cy="34.8" r="2.0" fill="url(#mg)"/><circle cx="31.3" cy="30.4" r="2.4" fill="url(#mg)"/><circle cx="21.9" cy="38.6" r="2.7" fill="url(#mg)"/><circle cx="2.2" cy="1.0" r="2.2" fill="url(#mg)"/><circle cx="4.8" cy="19.1" r="2.7" fill="url(#mg)"/><circle cx="43.5" cy="26.4" r="2.0" fill="url(#mg)"/><circle cx="11.2" cy="15.1" r="2.7" fill="url(#mg)"/><circle cx="9.4" cy="41.1" r="2.7" fill="url(#mg)"/><circle cx="8.4" cy="7.5" r="2.4" fill="url(#mg)"/><circle cx="35.3" cy="25.5" r="2.9" fill="url(#mg)"/><circle cx="8.2" cy="0.5" r="2.3" fill="url(#mg)"/><circle cx="31.8" cy="19.4" r="2.5" fill="url(#mg)"/><circle cx="11.5" cy="22.1" r="2.0" fill="url(#mg)"/><circle cx="11.6" cy="15.0" r="2.4" fill="url(#mg)"/><circle cx="29.4" cy="23.4" r="2.0" fill="url(#mg)"/><circle cx="33.7" cy="26.4" r="2.8" fill="url(#mg)"/><circle cx="38.4" cy="27.2" r="2.5" fill="url(#mg)"/><circle cx="13.9" cy="1.0" r="2.3" fill="url(#mg)"/><circle cx="17.4" cy="30.0" r="2.3" fill="url(#mg)"/><circle cx="35.2" cy="19.6" r="2.2" fill="url(#mg)"/><circle cx="18.5" cy="6.0" r="2.1" fill="url(#mg)"/><circle cx="-0.8" cy="10.8" r="2.1" fill="url(#mg)"/><circle cx="11.8" cy="42.4" r="2.6" fill="url(#mg)"/><circle cx="40.0" cy="39.5" r="2.1" fill="url(#mg)"/><circle cx="17.4" cy="16.4" r="2.4" fill="url(#mg)"/><circle cx="11.1" cy="8.4" r="2.0" fill="url(#mg)"/><circle cx="7.3" cy="1.7" r="2.8" fill="url(#mg)"/><circle cx="26.3" cy="13.7" r="2.1" fill="url(#mg)"/><circle cx="15.1" cy="41.8" r="2.2" fill="url(#mg)"/><circle cx="26.2" cy="21.6" r="2.6" fill="url(#mg)"/><circle cx="32.1" cy="43.2" r="2.9" fill="url(#mg)"/><circle cx="1.6" cy="41.5" r="2.6" fill="url(#mg)"/></g><g fill-opacity="0.75"><circle cx="40.8" cy="18.9" r="3.0" fill="url(#mp)"/><circle cx="27.5" cy="29.0" r="2.9" fill="url(#mp)"/><circle cx="37.4" cy="11.9" r="2.4" fill="url(#mp)"/><circle cx="25.7" cy="19.7" r="2.9" fill="url(#mp)"/><circle cx="24.7" cy="18.1" r="2.2" fill="url(#mp)"/><circle cx="39.4" cy="8.7" r="2.5" fill="url(#mp)"/><circle cx="40.4" cy="7.2" r="2.2" fill="url(#mb)"/><circle cx="34.0" cy="29.2" r="2.4" fill="url(#mb)"/><circle cx="34.5" cy="21.6" r="2.5" fill="url(#mb)"/><circle cx="28.1" cy="21.8" r="3.0" fill="url(#mb)"/><circle cx="38.9" cy="7.8" r="2.4" fill="url(#mb)"/><circle cx="43.1" cy="7.3" r="2.4" fill="url(#mb)"/><circle cx="39.0" cy="40.3" r="2.5" fill="url(#mp)"/><circle cx="40.6" cy="24.9" r="2.2" fill="url(#mp)"/><circle cx="37.9" cy="34.4" r="2.5" fill="url(#mb)"/><circle cx="36.7" cy="14.9" r="2.4" fill="url(#mb)"/><circle cx="39.8" cy="15.6" r="2.5" fill="url(#mp)"/><circle cx="3.4" cy="37.2" r="2.2" fill="url(#mb)"/><circle cx="42.2" cy="32.6" r="2.3" fill="url(#mp)"/><circle cx="21.7" cy="0.7" r="2.8" fill="url(#mb)"/><circle cx="17.4" cy="20.0" r="2.3" fill="url(#mp)"/><circle cx="33.4" cy="43.7" r="2.8" fill="url(#mb)"/><circle cx="33.7" cy="30.6" r="2.2" fill="url(#mp)"/><circle cx="28.3" cy="41.6" r="2.3" fill="url(#mb)"/><circle cx="18.9" cy="44.4" r="2.6" fill="url(#mp)"/><circle cx="22.1" cy="0.6" r="2.2" fill="url(#mp)"/><circle cx="36.4" cy="21.7" r="2.9" fill="url(#mp)"/><circle cx="40.3" cy="-0.2" r="2.2" fill="url(#mb)"/><circle cx="38.1" cy="21.0" r="3.0" fill="url(#mp)"/><circle cx="15.6" cy="37.3" r="2.2" fill="url(#mb)"/><circle cx="4.7" cy="6.4" r="2.8" fill="url(#mb)"/><circle cx="16.5" cy="32.8" r="2.4" fill="url(#mb)"/><circle cx="22.2" cy="22.9" r="2.7" fill="url(#mb)"/><circle cx="41.5" cy="1.2" r="3.1" fill="url(#mb)"/><circle cx="30.6" cy="25.5" r="3.0" fill="url(#mb)"/><circle cx="35.9" cy="16.8" r="2.3" fill="url(#mp)"/><circle cx="29.0" cy="26.6" r="2.4" fill="url(#mp)"/><circle cx="30.5" cy="26.0" r="3.1" fill="url(#mp)"/><circle cx="7.0" cy="43.1" r="2.7" fill="url(#mp)"/><circle cx="31.7" cy="17.2" r="2.2" fill="url(#mb)"/><circle cx="33.4" cy="3.7" r="3.2" fill="url(#mp)"/><circle cx="19.4" cy="15.1" r="2.3" fill="url(#mp)"/><circle cx="34.9" cy="39.2" r="2.6" fill="url(#mb)"/><circle cx="1.4" cy="25.1" r="3.0" fill="url(#mb)"/><circle cx="33.1" cy="28.6" r="2.8" fill="url(#mb)"/><circle cx="43.9" cy="13.7" r="2.2" fill="url(#mb)"/><circle cx="27.9" cy="43.9" r="2.9" fill="url(#mb)"/><circle cx="29.0" cy="9.5" r="2.7" fill="url(#mp)"/><circle cx="35.0" cy="11.3" r="2.9" fill="url(#mb)"/><circle cx="28.5" cy="32.2" r="2.7" fill="url(#mb)"/><circle cx="25.0" cy="20.8" r="3.1" fill="url(#mb)"/><circle cx="29.5" cy="11.7" r="2.6" fill="url(#mp)"/><circle cx="34.0" cy="22.3" r="2.9" fill="url(#mb)"/><circle cx="5.3" cy="34.6" r="3.1" fill="url(#mb)"/><circle cx="12.6" cy="5.2" r="3.1" fill="url(#mp)"/><circle cx="25.6" cy="10.5" r="3.0" fill="url(#mb)"/><circle cx="32.1" cy="20.0" r="2.8" fill="url(#mb)"/><circle cx="24.8" cy="41.6" r="3.1" fill="url(#mp)"/><circle cx="37.1" cy="8.1" r="2.9" fill="url(#mb)"/><circle cx="33.4" cy="30.9" r="2.9" fill="url(#mb)"/></g><g fill-opacity="0.7"><circle cx="1.7" cy="12.4" r="2.4" fill="url(#mr)"/><circle cx="27.7" cy="17.3" r="2.2" fill="url(#mr)"/><circle cx="0.5" cy="42.8" r="2.3" fill="url(#mr)"/><circle cx="28.8" cy="7.4" r="1.8" fill="url(#mr)"/><circle cx="30.0" cy="15.8" r="2.2" fill="url(#mr)"/><circle cx="5.0" cy="16.4" r="1.8" fill="url(#mr)"/><circle cx="1.9" cy="-0.9" r="2.1" fill="url(#mr)"/><circle cx="39.1" cy="17.5" r="2.4" fill="url(#mr)"/><circle cx="7.9" cy="36.0" r="2.1" fill="url(#mr)"/><circle cx="26.5" cy="29.5" r="2.1" fill="url(#mr)"/><circle cx="4.6" cy="35.2" r="1.7" fill="url(#mr)"/><circle cx="40.1" cy="12.8" r="2.5" fill="url(#mr)"/><circle cx="37.3" cy="9.6" r="2.2" fill="url(#mr)"/><circle cx="26.2" cy="44.6" r="2.4" fill="url(#mr)"/><circle cx="38.8" cy="26.8" r="2.4" fill="url(#mr)"/><circle cx="0.8" cy="5.7" r="1.9" fill="url(#mr)"/><circle cx="4.5" cy="8.3" r="2.5" fill="url(#mr)"/><circle cx="11.4" cy="40.8" r="2.3" fill="url(#mr)"/><circle cx="27.4" cy="25.2" r="2.2" fill="url(#mr)"/><circle cx="21.4" cy="27.7" r="2.3" fill="url(#mr)"/></g></g></svg>
<line x1="240.50" y1="491.00" x2="252.50" y2="491.00" stroke="#e8902a" stroke-width="1.0"/>
<text x="246.50" y="488.60" font-size="5.20" stroke="#e8902a" stroke-width="0.22" text-anchor="middle" fill="#e8902a">20 μm</text>
<line x1="306.30" y1="328.80" x2="306.30" y2="424.90" stroke="#222" stroke-width="0.9"/>
<line x1="305.90" y1="424.50" x2="389.20" y2="424.50" stroke="#222" stroke-width="0.9"/>
<line x1="303.50" y1="424.50" x2="306.30" y2="424.50" stroke="#222" stroke-width="0.7"/>
<text x="300.80" y="427.05" font-size="7.08" stroke="#333" stroke-width="0.22" text-anchor="end" fill="#333" textLength="8.20" lengthAdjust="spacingAndGlyphs">0.0</text>
<line x1="303.50" y1="393.43" x2="306.30" y2="393.43" stroke="#222" stroke-width="0.7"/>
<text x="300.80" y="395.98" font-size="7.08" stroke="#333" stroke-width="0.22" text-anchor="end" fill="#333" textLength="8.20" lengthAdjust="spacingAndGlyphs">0.5</text>
<line x1="303.50" y1="362.37" x2="306.30" y2="362.37" stroke="#222" stroke-width="0.7"/>
<text x="300.80" y="364.92" font-size="7.08" stroke="#333" stroke-width="0.22" text-anchor="end" fill="#333" textLength="8.20" lengthAdjust="spacingAndGlyphs">1.0</text>
<line x1="303.50" y1="331.30" x2="306.30" y2="331.30" stroke="#222" stroke-width="0.7"/>
<text x="300.80" y="333.85" font-size="7.08" stroke="#333" stroke-width="0.22" text-anchor="end" fill="#333" textLength="8.20" lengthAdjust="spacingAndGlyphs">1.5</text>
<rect x="312.10" y="362.99" width="9.80" height="61.51" fill="#8e9bc0"/>
<line x1="317.00" y1="362.99" x2="317.00" y2="358.33" stroke="#8e9bc0" stroke-width="0.9"/>
<line x1="314.50" y1="358.33" x2="319.50" y2="358.33" stroke="#8e9bc0" stroke-width="0.9"/>
<line x1="317.00" y1="424.50" x2="317.00" y2="426.50" stroke="#222" stroke-width="0.7"/>
<rect x="327.50" y="356.15" width="9.80" height="68.35" fill="#e68a7a"/>
<line x1="332.40" y1="356.15" x2="332.40" y2="349.32" stroke="#e68a7a" stroke-width="0.9"/>
<line x1="329.90" y1="349.32" x2="334.90" y2="349.32" stroke="#e68a7a" stroke-width="0.9"/>
<line x1="332.40" y1="424.50" x2="332.40" y2="426.50" stroke="#222" stroke-width="0.7"/>
<rect x="343.10" y="346.83" width="9.80" height="77.67" fill="#aed595"/>
<line x1="348.00" y1="346.83" x2="348.00" y2="341.24" stroke="#aed595" stroke-width="0.9"/>
<line x1="345.50" y1="341.24" x2="350.50" y2="341.24" stroke="#aed595" stroke-width="0.9"/>
<line x1="348.00" y1="424.50" x2="348.00" y2="426.50" stroke="#222" stroke-width="0.7"/>
<rect x="358.70" y="376.04" width="9.80" height="48.46" fill="#a586ae"/>
<line x1="363.60" y1="376.04" x2="363.60" y2="372.31" stroke="#a586ae" stroke-width="0.9"/>
<line x1="361.10" y1="372.31" x2="366.10" y2="372.31" stroke="#a586ae" stroke-width="0.9"/>
<line x1="363.60" y1="424.50" x2="363.60" y2="426.50" stroke="#222" stroke-width="0.7"/>
<rect x="374.50" y="375.41" width="9.80" height="49.09" fill="#f6c48a"/>
<line x1="379.40" y1="375.41" x2="379.40" y2="372.62" stroke="#f6c48a" stroke-width="0.9"/>
<line x1="376.90" y1="372.62" x2="381.90" y2="372.62" stroke="#f6c48a" stroke-width="0.9"/>
<line x1="379.40" y1="424.50" x2="379.40" y2="426.50" stroke="#222" stroke-width="0.7"/>
<text x="319.30" y="433.40" font-size="6.20" stroke="#333" stroke-width="0.22" text-anchor="end" fill="#333" transform="rotate(-45 319.30 433.40)">Ctrl</text>
<text x="334.70" y="433.40" font-size="6.20" stroke="#333" stroke-width="0.22" text-anchor="end" fill="#333" transform="rotate(-45 334.70 433.40)">NC shRNA</text>
<text x="350.30" y="433.40" font-size="6.20" stroke="#333" stroke-width="0.22" text-anchor="end" fill="#333" transform="rotate(-45 350.30 433.40)">NC+Dec</text>
<text x="365.90" y="433.40" font-size="6.20" stroke="#333" stroke-width="0.22" text-anchor="end" fill="#333" transform="rotate(-45 365.90 433.40)">LKB1 shRNA</text>
<text x="381.70" y="433.40" font-size="6.20" stroke="#333" stroke-width="0.22" text-anchor="end" fill="#333" transform="rotate(-45 381.70 433.40)">LKB1+Dec</text>
<line x1="321.30" y1="321.40" x2="344.50" y2="321.40" stroke="#222" stroke-width="0.8"/>
<text x="332.90" y="320.60" font-size="8.00" stroke="#333" stroke-width="0.22" text-anchor="middle" fill="#333" textLength="7.70" lengthAdjust="spacingAndGlyphs">***</text>
<line x1="335.50" y1="331.30" x2="347.50" y2="331.30" stroke="#222" stroke-width="0.8"/>
<text x="341.50" y="330.50" font-size="8.00" stroke="#333" stroke-width="0.22" text-anchor="middle" fill="#333" textLength="2.70" lengthAdjust="spacingAndGlyphs">*</text>
<line x1="367.00" y1="331.30" x2="379.00" y2="331.30" stroke="#222" stroke-width="0.8"/>
<text x="373.00" y="328.90" font-size="7.00" stroke="#333" stroke-width="0.22" text-anchor="middle" fill="#333">ns</text>
<text x="274.60" y="375.90" font-size="8.70" stroke="#333" stroke-width="0.22" text-anchor="middle" fill="#333" transform="rotate(-90 274.60 375.90)" textLength="118.00" lengthAdjust="spacingAndGlyphs">Fold change of average fluorescnce</text>
<text x="285.60" y="378.90" font-size="8.70" stroke="#333" stroke-width="0.22" text-anchor="middle" fill="#333" transform="rotate(-90 285.60 378.90)" textLength="80.30" lengthAdjust="spacingAndGlyphs">intensity LKB1 in MDSCs</text>
<text x="398.90" y="311.30" font-size="10.80" stroke="#111" stroke-width="0.35" fill="#111" font-weight="bold">D</text>
<line x1="440.30" y1="328.20" x2="440.30" y2="422.60" stroke="#222" stroke-width="0.9"/>
<line x1="439.90" y1="422.20" x2="515.50" y2="422.20" stroke="#222" stroke-width="0.9"/>
<line x1="437.50" y1="422.20" x2="440.30" y2="422.20" stroke="#222" stroke-width="0.7"/>
<text x="434.80" y="425.03" font-size="7.88" stroke="#333" stroke-width="0.22" text-anchor="end" fill="#333" textLength="3.50" lengthAdjust="spacingAndGlyphs">0</text>
<line x1="437.50" y1="391.73" x2="440.30" y2="391.73" stroke="#222" stroke-width="0.7"/>
<text x="434.80" y="394.57" font-size="7.88" stroke="#333" stroke-width="0.22" text-anchor="end" fill="#333" textLength="14.01" lengthAdjust="spacingAndGlyphs">5000</text>
<line x1="437.50" y1="361.27" x2="440.30" y2="361.27" stroke="#222" stroke-width="0.7"/>
<text x="434.80" y="364.10" font-size="7.88" stroke="#333" stroke-width="0.22" text-anchor="end" fill="#333" textLength="17.52" lengthAdjust="spacingAndGlyphs">10000</text>
<line x1="437.50" y1="330.80" x2="440.30" y2="330.80" stroke="#222" stroke-width="0.7"/>
<text x="434.80" y="333.63" font-size="7.88" stroke="#333" stroke-width="0.22" text-anchor="end" fill="#333" textLength="17.52" lengthAdjust="spacingAndGlyphs">15000</text>
<rect x="445.30" y="372.23" width="10.00" height="49.97" fill="#8e9bc0"/>
<line x1="450.30" y1="378.02" x2="450.30" y2="366.45" stroke="#1d5a9a" stroke-width="0.9"/>
<line x1="447.80" y1="366.45" x2="452.80" y2="366.45" stroke="#1d5a9a" stroke-width="0.9"/>
<line x1="447.80" y1="378.02" x2="452.80" y2="378.02" stroke="#1d5a9a" stroke-width="0.9"/>
<circle cx="450.50" cy="362.30" r="1.6" fill="#1d5a9a"/>
<circle cx="446.90" cy="371.50" r="1.6" fill="#1d5a9a"/>
<circle cx="453.50" cy="373.82" r="1.6" fill="#1d5a9a"/>
<circle cx="450.50" cy="376.20" r="1.6" fill="#1d5a9a"/>
<circle cx="450.50" cy="380.03" r="1.6" fill="#1d5a9a"/>
<line x1="450.30" y1="422.20" x2="450.30" y2="424.20" stroke="#222" stroke-width="0.7"/>
<rect x="460.00" y="361.88" width="10.00" height="60.32" fill="#e68a7a"/>
<line x1="465.00" y1="371.32" x2="465.00" y2="352.43" stroke="#c9203d" stroke-width="0.9"/>
<line x1="462.50" y1="352.43" x2="467.50" y2="352.43" stroke="#c9203d" stroke-width="0.9"/>
<line x1="462.50" y1="371.32" x2="467.50" y2="371.32" stroke="#c9203d" stroke-width="0.9"/>
<circle cx="465.00" cy="349.69" r="1.6" fill="#c9203d"/>
<circle cx="461.80" cy="357.37" r="1.6" fill="#c9203d"/>
<circle cx="468.50" cy="356.15" r="1.6" fill="#c9203d"/>
<circle cx="461.80" cy="362.79" r="1.6" fill="#c9203d"/>
<circle cx="468.50" cy="362.30" r="1.6" fill="#c9203d"/>
<circle cx="465.40" cy="362.97" r="1.6" fill="#c9203d"/>
<line x1="465.00" y1="422.20" x2="465.00" y2="424.20" stroke="#222" stroke-width="0.7"/>
<rect x="474.90" y="347.01" width="10.00" height="75.19" fill="#aed595"/>
<line x1="479.90" y1="354.50" x2="479.90" y2="339.51" stroke="#3fb449" stroke-width="0.9"/>
<line x1="477.40" y1="339.51" x2="482.40" y2="339.51" stroke="#3fb449" stroke-width="0.9"/>
<line x1="477.40" y1="354.50" x2="482.40" y2="354.50" stroke="#3fb449" stroke-width="0.9"/>
<circle cx="479.90" cy="336.89" r="1.6" fill="#3fb449"/>
<circle cx="476.60" cy="344.21" r="1.6" fill="#3fb449"/>
<circle cx="483.10" cy="342.32" r="1.6" fill="#3fb449"/>
<circle cx="479.90" cy="349.69" r="1.6" fill="#3fb449"/>
<circle cx="479.90" cy="355.78" r="1.6" fill="#3fb449"/>
<line x1="479.90" y1="422.20" x2="479.90" y2="424.20" stroke="#222" stroke-width="0.7"/>
<rect x="489.60" y="366.75" width="10.00" height="55.45" fill="#a586ae"/>
<line x1="494.60" y1="370.10" x2="494.60" y2="363.40" stroke="#54287c" stroke-width="0.9"/>
<line x1="492.10" y1="363.40" x2="497.10" y2="363.40" stroke="#54287c" stroke-width="0.9"/>
<line x1="492.10" y1="370.10" x2="497.10" y2="370.10" stroke="#54287c" stroke-width="0.9"/>
<circle cx="494.60" cy="359.19" r="1.6" fill="#54287c"/>
<circle cx="491.50" cy="363.46" r="1.6" fill="#54287c"/>
<circle cx="497.70" cy="366.20" r="1.6" fill="#54287c"/>
<circle cx="491.50" cy="368.15" r="1.6" fill="#54287c"/>
<circle cx="495.40" cy="365.04" r="1.6" fill="#54287c"/>
<line x1="494.60" y1="422.20" x2="494.60" y2="424.20" stroke="#222" stroke-width="0.7"/>
<rect x="504.50" y="366.14" width="10.00" height="56.06" fill="#f6c48a"/>
<line x1="509.50" y1="375.28" x2="509.50" y2="357.00" stroke="#f0a233" stroke-width="0.9"/>
<line x1="507.00" y1="357.00" x2="512.00" y2="357.00" stroke="#f0a233" stroke-width="0.9"/>
<line x1="507.00" y1="375.28" x2="512.00" y2="375.28" stroke="#f0a233" stroke-width="0.9"/>
<circle cx="506.20" cy="356.64" r="1.6" fill="#f0a233"/>
<circle cx="512.30" cy="358.22" r="1.6" fill="#f0a233"/>
<circle cx="509.20" cy="363.52" r="1.6" fill="#f0a233"/>
<circle cx="509.50" cy="368.94" r="1.6" fill="#f0a233"/>
<circle cx="509.20" cy="373.51" r="1.6" fill="#f0a233"/>
<line x1="509.50" y1="422.20" x2="509.50" y2="424.20" stroke="#222" stroke-width="0.7"/>
<text x="452.70" y="430.80" font-size="6.20" stroke="#333" stroke-width="0.22" text-anchor="end" fill="#333" transform="rotate(-45 452.70 430.80)">Ctrl</text>
<text x="467.40" y="430.80" font-size="6.20" stroke="#333" stroke-width="0.22" text-anchor="end" fill="#333" transform="rotate(-45 467.40 430.80)">NC shRNA</text>
<text x="482.30" y="430.80" font-size="6.20" stroke="#333" stroke-width="0.22" text-anchor="end" fill="#333" transform="rotate(-45 482.30 430.80)">NC+Dec</text>
<text x="497.00" y="430.80" font-size="6.20" stroke="#333" stroke-width="0.22" text-anchor="end" fill="#333" transform="rotate(-45 497.00 430.80)">LKB1 shRNA</text>
<text x="511.90" y="430.80" font-size="6.20" stroke="#333" stroke-width="0.22" text-anchor="end" fill="#333" transform="rotate(-45 511.90 430.80)">LKB1+Dec</text>
<line x1="456.40" y1="313.70" x2="479.80" y2="313.70" stroke="#222" stroke-width="0.8"/>
<text x="468.10" y="312.90" font-size="8.00" stroke="#333" stroke-width="0.22" text-anchor="middle" fill="#333" textLength="7.70" lengthAdjust="spacingAndGlyphs">***</text>
<line x1="468.60" y1="323.60" x2="479.80" y2="323.60" stroke="#222" stroke-width="0.8"/>
<text x="474.20" y="322.80" font-size="8.00" stroke="#333" stroke-width="0.22" text-anchor="middle" fill="#333" textLength="2.70" lengthAdjust="spacingAndGlyphs">*</text>
<line x1="497.20" y1="323.60" x2="509.60" y2="323.60" stroke="#222" stroke-width="0.8"/>
<text x="503.40" y="321.20" font-size="7.00" stroke="#333" stroke-width="0.22" text-anchor="middle" fill="#333">ns</text>
<text x="410.60" y="374.70" font-size="9.00" stroke="#333" stroke-width="0.22" text-anchor="middle" fill="#333" transform="rotate(-90 410.60 374.70)" textLength="67.60" lengthAdjust="spacingAndGlyphs">Luminescence (RLU)</text>
<text x="0.90" y="527.90" font-size="10.80" stroke="#111" stroke-width="0.35" fill="#111" font-weight="bold">E</text>
<line x1="25.80" y1="569.60" x2="25.80" y2="651.70" stroke="#222" stroke-width="0.9"/>
<line x1="25.40" y1="651.30" x2="148.50" y2="651.30" stroke="#222" stroke-width="0.9"/>
<line x1="23.00" y1="651.30" x2="25.80" y2="651.30" stroke="#222" stroke-width="0.7"/>
<text x="19.30" y="653.85" font-size="7.08" stroke="#333" stroke-width="0.22" text-anchor="end" fill="#333" textLength="3.28" lengthAdjust="spacingAndGlyphs">0</text>
<line x1="23.00" y1="631.35" x2="25.80" y2="631.35" stroke="#222" stroke-width="0.7"/>
<text x="19.30" y="633.90" font-size="7.08" stroke="#333" stroke-width="0.22" text-anchor="end" fill="#333" textLength="6.56" lengthAdjust="spacingAndGlyphs">10</text>
<line x1="23.00" y1="611.40" x2="25.80" y2="611.40" stroke="#222" stroke-width="0.7"/>
<text x="19.30" y="613.95" font-size="7.08" stroke="#333" stroke-width="0.22" text-anchor="end" fill="#333" textLength="6.56" lengthAdjust="spacingAndGlyphs">20</text>
<line x1="23.00" y1="591.45" x2="25.80" y2="591.45" stroke="#222" stroke-width="0.7"/>
<text x="19.30" y="594.00" font-size="7.08" stroke="#333" stroke-width="0.22" text-anchor="end" fill="#333" textLength="6.56" lengthAdjust="spacingAndGlyphs">30</text>
<line x1="23.00" y1="571.50" x2="25.80" y2="571.50" stroke="#222" stroke-width="0.7"/>
<text x="19.30" y="574.05" font-size="7.08" stroke="#333" stroke-width="0.22" text-anchor="end" fill="#333" textLength="6.56" lengthAdjust="spacingAndGlyphs">40</text>
<line x1="26.00" y1="651.30" x2="26.00" y2="653.50" stroke="#222" stroke-width="0.7"/>
<text x="26.00" y="663.00" font-size="7.08" stroke="#333" stroke-width="0.22" text-anchor="middle" fill="#333" textLength="3.28" lengthAdjust="spacingAndGlyphs">0</text>
<line x1="40.96" y1="651.30" x2="40.96" y2="653.50" stroke="#222" stroke-width="0.7"/>
<text x="40.96" y="663.00" font-size="7.08" stroke="#333" stroke-width="0.22" text-anchor="middle" fill="#333" textLength="6.56" lengthAdjust="spacingAndGlyphs">10</text>
<line x1="55.92" y1="651.30" x2="55.92" y2="653.50" stroke="#222" stroke-width="0.7"/>
<text x="55.92" y="663.00" font-size="7.08" stroke="#333" stroke-width="0.22" text-anchor="middle" fill="#333" textLength="6.56" lengthAdjust="spacingAndGlyphs">20</text>
<line x1="70.88" y1="651.30" x2="70.88" y2="653.50" stroke="#222" stroke-width="0.7"/>
<text x="70.88" y="663.00" font-size="7.08" stroke="#333" stroke-width="0.22" text-anchor="middle" fill="#333" textLength="6.56" lengthAdjust="spacingAndGlyphs">30</text>
<line x1="85.84" y1="651.30" x2="85.84" y2="653.50" stroke="#222" stroke-width="0.7"/>
<text x="85.84" y="663.00" font-size="7.08" stroke="#333" stroke-width="0.22" text-anchor="middle" fill="#333" textLength="6.56" lengthAdjust="spacingAndGlyphs">40</text>
<line x1="100.80" y1="651.30" x2="100.80" y2="653.50" stroke="#222" stroke-width="0.7"/>
<text x="100.80" y="663.00" font-size="7.08" stroke="#333" stroke-width="0.22" text-anchor="middle" fill="#333" textLength="6.56" lengthAdjust="spacingAndGlyphs">50</text>
<line x1="115.76" y1="651.30" x2="115.76" y2="653.50" stroke="#222" stroke-width="0.7"/>
<text x="115.76" y="663.00" font-size="7.08" stroke="#333" stroke-width="0.22" text-anchor="middle" fill="#333" textLength="6.56" lengthAdjust="spacingAndGlyphs">60</text>
<line x1="130.72" y1="651.30" x2="130.72" y2="653.50" stroke="#222" stroke-width="0.7"/>
<text x="130.72" y="663.00" font-size="7.08" stroke="#333" stroke-width="0.22" text-anchor="middle" fill="#333" textLength="6.56" lengthAdjust="spacingAndGlyphs">70</text>
<line x1="145.68" y1="651.30" x2="145.68" y2="653.50" stroke="#222" stroke-width="0.7"/>
<text x="145.68" y="663.00" font-size="7.08" stroke="#333" stroke-width="0.22" text-anchor="middle" fill="#333" textLength="6.56" lengthAdjust="spacingAndGlyphs">80</text>
<text x="87.60" y="674.00" font-size="8.60" stroke="#333" stroke-width="0.22" text-anchor="middle" fill="#333" textLength="45.60" lengthAdjust="spacingAndGlyphs">Time (minutes)</text>
<text x="6.90" y="609.90" font-size="7.60" stroke="#333" stroke-width="0.22" text-anchor="middle" fill="#333" transform="rotate(-90 6.90 609.90)" textLength="48.80" lengthAdjust="spacingAndGlyphs">OCR (pmol/min)</text>
<text x="46.50" y="546.30" font-size="6.80" stroke="#333" stroke-width="0.22" text-anchor="middle" fill="#333" textLength="33.70" lengthAdjust="spacingAndGlyphs">Oligomycin</text>
<text x="75.60" y="546.30" font-size="6.80" stroke="#333" stroke-width="0.22" text-anchor="middle" fill="#333" textLength="16.70" lengthAdjust="spacingAndGlyphs">FCCP</text>
<text x="109.70" y="541.80" font-size="6.80" stroke="#333" stroke-width="0.22" text-anchor="middle" fill="#333" textLength="33.60" lengthAdjust="spacingAndGlyphs">Rotenone &amp;</text>
<text x="109.70" y="550.40" font-size="6.80" stroke="#333" stroke-width="0.22" text-anchor="middle" fill="#333" textLength="33.60" lengthAdjust="spacingAndGlyphs">antimycin A</text>
<line x1="49.50" y1="556.30" x2="49.50" y2="574.00" stroke="#111" stroke-width="1.3"/>
<path d="M46.70,571.3 L49.50,578.9 L52.30,571.3 L49.50,572.8Z" fill="#111"/>
<line x1="75.80" y1="556.30" x2="75.80" y2="574.00" stroke="#111" stroke-width="1.3"/>
<path d="M73.00,571.3 L75.80,578.9 L78.60,571.3 L75.80,572.8Z" fill="#111"/>
<line x1="105.50" y1="556.30" x2="105.50" y2="574.00" stroke="#111" stroke-width="1.3"/>
<path d="M102.70,571.3 L105.50,578.9 L108.30,571.3 L105.50,572.8Z" fill="#111"/>
<line x1="27.65" y1="619.98" x2="27.65" y2="629.95" stroke="#f0a233" stroke-width="0.8"/>
<line x1="26.15" y1="619.98" x2="29.15" y2="619.98" stroke="#f0a233" stroke-width="0.8"/>
<line x1="26.15" y1="629.95" x2="29.15" y2="629.95" stroke="#f0a233" stroke-width="0.8"/>
<line x1="37.22" y1="622.37" x2="37.22" y2="632.35" stroke="#f0a233" stroke-width="0.8"/>
<line x1="35.72" y1="622.37" x2="38.72" y2="622.37" stroke="#f0a233" stroke-width="0.8"/>
<line x1="35.72" y1="632.35" x2="38.72" y2="632.35" stroke="#f0a233" stroke-width="0.8"/>
<line x1="46.94" y1="621.77" x2="46.94" y2="631.75" stroke="#f0a233" stroke-width="0.8"/>
<line x1="45.44" y1="621.77" x2="48.44" y2="621.77" stroke="#f0a233" stroke-width="0.8"/>
<line x1="45.44" y1="631.75" x2="48.44" y2="631.75" stroke="#f0a233" stroke-width="0.8"/>
<line x1="56.97" y1="637.33" x2="56.97" y2="645.31" stroke="#f0a233" stroke-width="0.8"/>
<line x1="55.47" y1="637.33" x2="58.47" y2="637.33" stroke="#f0a233" stroke-width="0.8"/>
<line x1="55.47" y1="645.31" x2="58.47" y2="645.31" stroke="#f0a233" stroke-width="0.8"/>
<line x1="66.24" y1="637.33" x2="66.24" y2="645.31" stroke="#f0a233" stroke-width="0.8"/>
<line x1="64.74" y1="637.33" x2="67.74" y2="637.33" stroke="#f0a233" stroke-width="0.8"/>
<line x1="64.74" y1="645.31" x2="67.74" y2="645.31" stroke="#f0a233" stroke-width="0.8"/>
<line x1="76.27" y1="637.33" x2="76.27" y2="645.31" stroke="#f0a233" stroke-width="0.8"/>
<line x1="74.77" y1="637.33" x2="77.77" y2="637.33" stroke="#f0a233" stroke-width="0.8"/>
<line x1="74.77" y1="645.31" x2="77.77" y2="645.31" stroke="#f0a233" stroke-width="0.8"/>
<line x1="86.29" y1="617.38" x2="86.29" y2="629.35" stroke="#f0a233" stroke-width="0.8"/>
<line x1="84.79" y1="617.38" x2="87.79" y2="617.38" stroke="#f0a233" stroke-width="0.8"/>
<line x1="84.79" y1="629.35" x2="87.79" y2="629.35" stroke="#f0a233" stroke-width="0.8"/>
<line x1="95.71" y1="619.78" x2="95.71" y2="631.75" stroke="#f0a233" stroke-width="0.8"/>
<line x1="94.21" y1="619.78" x2="97.21" y2="619.78" stroke="#f0a233" stroke-width="0.8"/>
<line x1="94.21" y1="631.75" x2="97.21" y2="631.75" stroke="#f0a233" stroke-width="0.8"/>
<line x1="105.74" y1="620.58" x2="105.74" y2="632.55" stroke="#f0a233" stroke-width="0.8"/>
<line x1="104.24" y1="620.58" x2="107.24" y2="620.58" stroke="#f0a233" stroke-width="0.8"/>
<line x1="104.24" y1="632.55" x2="107.24" y2="632.55" stroke="#f0a233" stroke-width="0.8"/>
<line x1="115.46" y1="644.12" x2="115.46" y2="652.10" stroke="#f0a233" stroke-width="0.8"/>
<line x1="113.96" y1="644.12" x2="116.96" y2="644.12" stroke="#f0a233" stroke-width="0.8"/>
<line x1="113.96" y1="652.10" x2="116.96" y2="652.10" stroke="#f0a233" stroke-width="0.8"/>
<line x1="125.04" y1="643.32" x2="125.04" y2="651.30" stroke="#f0a233" stroke-width="0.8"/>
<line x1="123.54" y1="643.32" x2="126.54" y2="643.32" stroke="#f0a233" stroke-width="0.8"/>
<line x1="123.54" y1="651.30" x2="126.54" y2="651.30" stroke="#f0a233" stroke-width="0.8"/>
<line x1="134.46" y1="642.32" x2="134.46" y2="652.30" stroke="#f0a233" stroke-width="0.8"/>
<line x1="132.96" y1="642.32" x2="135.96" y2="642.32" stroke="#f0a233" stroke-width="0.8"/>
<line x1="132.96" y1="652.30" x2="135.96" y2="652.30" stroke="#f0a233" stroke-width="0.8"/>
<polyline points="27.65,624.97 37.22,627.36 46.94,626.76 56.97,641.32 66.24,641.32 76.27,641.32 86.29,623.37 95.71,625.76 105.74,626.56 115.46,648.11 125.04,647.31 134.46,647.31" fill="none" stroke="#f0a233" stroke-width="1.0"/>
<path d="M27.65,622.89 L29.73,624.97 L27.65,627.05 L25.57,624.97Z" fill="#f0a233"/>
<path d="M37.22,625.28 L39.30,627.36 L37.22,629.44 L35.14,627.36Z" fill="#f0a233"/>
<path d="M46.94,624.68 L49.02,626.76 L46.94,628.84 L44.86,626.76Z" fill="#f0a233"/>
<path d="M56.97,639.24 L59.05,641.32 L56.97,643.40 L54.89,641.32Z" fill="#f0a233"/>
<path d="M66.24,639.24 L68.32,641.32 L66.24,643.40 L64.16,641.32Z" fill="#f0a233"/>
<path d="M76.27,639.24 L78.35,641.32 L76.27,643.40 L74.19,641.32Z" fill="#f0a233"/>
<path d="M86.29,621.29 L88.37,623.37 L86.29,625.45 L84.21,623.37Z" fill="#f0a233"/>
<path d="M95.71,623.68 L97.79,625.76 L95.71,627.84 L93.63,625.76Z" fill="#f0a233"/>
<path d="M105.74,624.48 L107.82,626.56 L105.74,628.64 L103.66,626.56Z" fill="#f0a233"/>
<path d="M115.46,646.03 L117.54,648.11 L115.46,650.19 L113.38,648.11Z" fill="#f0a233"/>
<path d="M125.04,645.23 L127.12,647.31 L125.04,649.39 L122.96,647.31Z" fill="#f0a233"/>
<path d="M134.46,645.23 L136.54,647.31 L134.46,649.39 L132.38,647.31Z" fill="#f0a233"/>
<line x1="27.65" y1="620.58" x2="27.65" y2="628.56" stroke="#54287c" stroke-width="0.8"/>
<line x1="26.15" y1="620.58" x2="29.15" y2="620.58" stroke="#54287c" stroke-width="0.8"/>
<line x1="26.15" y1="628.56" x2="29.15" y2="628.56" stroke="#54287c" stroke-width="0.8"/>
<line x1="37.22" y1="622.17" x2="37.22" y2="630.15" stroke="#54287c" stroke-width="0.8"/>
<line x1="35.72" y1="622.17" x2="38.72" y2="622.17" stroke="#54287c" stroke-width="0.8"/>
<line x1="35.72" y1="630.15" x2="38.72" y2="630.15" stroke="#54287c" stroke-width="0.8"/>
<line x1="46.94" y1="622.17" x2="46.94" y2="630.15" stroke="#54287c" stroke-width="0.8"/>
<line x1="45.44" y1="622.17" x2="48.44" y2="622.17" stroke="#54287c" stroke-width="0.8"/>
<line x1="45.44" y1="630.15" x2="48.44" y2="630.15" stroke="#54287c" stroke-width="0.8"/>
<line x1="56.97" y1="638.73" x2="56.97" y2="644.72" stroke="#54287c" stroke-width="0.8"/>
<line x1="55.47" y1="638.73" x2="58.47" y2="638.73" stroke="#54287c" stroke-width="0.8"/>
<line x1="55.47" y1="644.72" x2="58.47" y2="644.72" stroke="#54287c" stroke-width="0.8"/>
<line x1="66.24" y1="638.73" x2="66.24" y2="644.72" stroke="#54287c" stroke-width="0.8"/>
<line x1="64.74" y1="638.73" x2="67.74" y2="638.73" stroke="#54287c" stroke-width="0.8"/>
<line x1="64.74" y1="644.72" x2="67.74" y2="644.72" stroke="#54287c" stroke-width="0.8"/>
<line x1="76.27" y1="639.13" x2="76.27" y2="645.12" stroke="#54287c" stroke-width="0.8"/>
<line x1="74.77" y1="639.13" x2="77.77" y2="639.13" stroke="#54287c" stroke-width="0.8"/>
<line x1="74.77" y1="645.12" x2="77.77" y2="645.12" stroke="#54287c" stroke-width="0.8"/>
<line x1="86.29" y1="616.59" x2="86.29" y2="628.56" stroke="#54287c" stroke-width="0.8"/>
<line x1="84.79" y1="616.59" x2="87.79" y2="616.59" stroke="#54287c" stroke-width="0.8"/>
<line x1="84.79" y1="628.56" x2="87.79" y2="628.56" stroke="#54287c" stroke-width="0.8"/>
<line x1="95.71" y1="619.38" x2="95.71" y2="631.35" stroke="#54287c" stroke-width="0.8"/>
<line x1="94.21" y1="619.38" x2="97.21" y2="619.38" stroke="#54287c" stroke-width="0.8"/>
<line x1="94.21" y1="631.35" x2="97.21" y2="631.35" stroke="#54287c" stroke-width="0.8"/>
<line x1="105.74" y1="619.38" x2="105.74" y2="631.35" stroke="#54287c" stroke-width="0.8"/>
<line x1="104.24" y1="619.38" x2="107.24" y2="619.38" stroke="#54287c" stroke-width="0.8"/>
<line x1="104.24" y1="631.35" x2="107.24" y2="631.35" stroke="#54287c" stroke-width="0.8"/>
<line x1="115.46" y1="645.31" x2="115.46" y2="651.30" stroke="#54287c" stroke-width="0.8"/>
<line x1="113.96" y1="645.31" x2="116.96" y2="645.31" stroke="#54287c" stroke-width="0.8"/>
<line x1="113.96" y1="651.30" x2="116.96" y2="651.30" stroke="#54287c" stroke-width="0.8"/>
<line x1="125.04" y1="644.32" x2="125.04" y2="650.30" stroke="#54287c" stroke-width="0.8"/>
<line x1="123.54" y1="644.32" x2="126.54" y2="644.32" stroke="#54287c" stroke-width="0.8"/>
<line x1="123.54" y1="650.30" x2="126.54" y2="650.30" stroke="#54287c" stroke-width="0.8"/>
<line x1="134.46" y1="644.72" x2="134.46" y2="650.70" stroke="#54287c" stroke-width="0.8"/>
<line x1="132.96" y1="644.72" x2="135.96" y2="644.72" stroke="#54287c" stroke-width="0.8"/>
<line x1="132.96" y1="650.70" x2="135.96" y2="650.70" stroke="#54287c" stroke-width="0.8"/>
<polyline points="27.65,624.57 37.22,626.16 46.94,626.16 56.97,641.72 66.24,641.72 76.27,642.12 86.29,622.57 95.71,625.37 105.74,625.37 115.46,648.31 125.04,647.31 134.46,647.71" fill="none" stroke="#54287c" stroke-width="1.2"/>
<path d="M27.65,626.22 L29.30,623.37 L26.00,623.37Z" fill="#54287c"/>
<path d="M37.22,627.81 L38.87,624.96 L35.57,624.96Z" fill="#54287c"/>
<path d="M46.94,627.81 L48.59,624.96 L45.29,624.96Z" fill="#54287c"/>
<path d="M56.97,643.37 L58.62,640.52 L55.32,640.52Z" fill="#54287c"/>
<path d="M66.24,643.37 L67.89,640.52 L64.59,640.52Z" fill="#54287c"/>
<path d="M76.27,643.77 L77.92,640.92 L74.62,640.92Z" fill="#54287c"/>
<path d="M86.29,624.22 L87.94,621.37 L84.64,621.37Z" fill="#54287c"/>
<path d="M95.71,627.01 L97.36,624.16 L94.06,624.16Z" fill="#54287c"/>
<path d="M105.74,627.01 L107.39,624.16 L104.09,624.16Z" fill="#54287c"/>
<path d="M115.46,649.96 L117.11,647.11 L113.81,647.11Z" fill="#54287c"/>
<path d="M125.04,648.96 L126.69,646.11 L123.39,646.11Z" fill="#54287c"/>
<path d="M134.46,649.36 L136.11,646.51 L132.81,646.51Z" fill="#54287c"/>
<line x1="27.65" y1="615.19" x2="27.65" y2="625.17" stroke="#3fb449" stroke-width="0.8"/>
<line x1="26.15" y1="615.19" x2="29.15" y2="615.19" stroke="#3fb449" stroke-width="0.8"/>
<line x1="26.15" y1="625.17" x2="29.15" y2="625.17" stroke="#3fb449" stroke-width="0.8"/>
<line x1="37.22" y1="618.38" x2="37.22" y2="624.37" stroke="#3fb449" stroke-width="0.8"/>
<line x1="35.72" y1="618.38" x2="38.72" y2="618.38" stroke="#3fb449" stroke-width="0.8"/>
<line x1="35.72" y1="624.37" x2="38.72" y2="624.37" stroke="#3fb449" stroke-width="0.8"/>
<line x1="46.94" y1="619.18" x2="46.94" y2="625.17" stroke="#3fb449" stroke-width="0.8"/>
<line x1="45.44" y1="619.18" x2="48.44" y2="619.18" stroke="#3fb449" stroke-width="0.8"/>
<line x1="45.44" y1="625.17" x2="48.44" y2="625.17" stroke="#3fb449" stroke-width="0.8"/>
<line x1="56.97" y1="633.74" x2="56.97" y2="643.72" stroke="#3fb449" stroke-width="0.8"/>
<line x1="55.47" y1="633.74" x2="58.47" y2="633.74" stroke="#3fb449" stroke-width="0.8"/>
<line x1="55.47" y1="643.72" x2="58.47" y2="643.72" stroke="#3fb449" stroke-width="0.8"/>
<line x1="66.24" y1="633.74" x2="66.24" y2="643.72" stroke="#3fb449" stroke-width="0.8"/>
<line x1="64.74" y1="633.74" x2="67.74" y2="633.74" stroke="#3fb449" stroke-width="0.8"/>
<line x1="64.74" y1="643.72" x2="67.74" y2="643.72" stroke="#3fb449" stroke-width="0.8"/>
<line x1="76.27" y1="634.54" x2="76.27" y2="644.52" stroke="#3fb449" stroke-width="0.8"/>
<line x1="74.77" y1="634.54" x2="77.77" y2="634.54" stroke="#3fb449" stroke-width="0.8"/>
<line x1="74.77" y1="644.52" x2="77.77" y2="644.52" stroke="#3fb449" stroke-width="0.8"/>
<line x1="86.29" y1="583.87" x2="86.29" y2="607.81" stroke="#3fb449" stroke-width="0.8"/>
<line x1="84.79" y1="583.87" x2="87.79" y2="583.87" stroke="#3fb449" stroke-width="0.8"/>
<line x1="84.79" y1="607.81" x2="87.79" y2="607.81" stroke="#3fb449" stroke-width="0.8"/>
<line x1="95.71" y1="592.85" x2="95.71" y2="614.79" stroke="#3fb449" stroke-width="0.8"/>
<line x1="94.21" y1="592.85" x2="97.21" y2="592.85" stroke="#3fb449" stroke-width="0.8"/>
<line x1="94.21" y1="614.79" x2="97.21" y2="614.79" stroke="#3fb449" stroke-width="0.8"/>
<line x1="105.74" y1="595.84" x2="105.74" y2="619.78" stroke="#3fb449" stroke-width="0.8"/>
<line x1="104.24" y1="595.84" x2="107.24" y2="595.84" stroke="#3fb449" stroke-width="0.8"/>
<line x1="104.24" y1="619.78" x2="107.24" y2="619.78" stroke="#3fb449" stroke-width="0.8"/>
<line x1="115.46" y1="643.72" x2="115.46" y2="651.70" stroke="#3fb449" stroke-width="0.8"/>
<line x1="113.96" y1="643.72" x2="116.96" y2="643.72" stroke="#3fb449" stroke-width="0.8"/>
<line x1="113.96" y1="651.70" x2="116.96" y2="651.70" stroke="#3fb449" stroke-width="0.8"/>
<line x1="125.04" y1="643.12" x2="125.04" y2="651.10" stroke="#3fb449" stroke-width="0.8"/>
<line x1="123.54" y1="643.12" x2="126.54" y2="643.12" stroke="#3fb449" stroke-width="0.8"/>
<line x1="123.54" y1="651.10" x2="126.54" y2="651.10" stroke="#3fb449" stroke-width="0.8"/>
<line x1="134.46" y1="643.12" x2="134.46" y2="651.10" stroke="#3fb449" stroke-width="0.8"/>
<line x1="132.96" y1="643.12" x2="135.96" y2="643.12" stroke="#3fb449" stroke-width="0.8"/>
<line x1="132.96" y1="651.10" x2="135.96" y2="651.10" stroke="#3fb449" stroke-width="0.8"/>
<polyline points="27.65,620.18 37.22,621.38 46.94,622.17 56.97,638.73 66.24,638.73 76.27,639.53 86.29,595.84 95.71,603.82 105.74,607.81 115.46,647.71 125.04,647.11 134.46,647.11" fill="none" stroke="#3fb449" stroke-width="0.9"/>
<path d="M27.65,618.75 L29.08,621.22 L26.22,621.22Z" fill="#3fb449"/>
<path d="M37.22,619.95 L38.65,622.41 L35.79,622.41Z" fill="#3fb449"/>
<path d="M46.94,620.74 L48.37,623.21 L45.51,623.21Z" fill="#3fb449"/>
<path d="M56.97,637.30 L58.40,639.77 L55.54,639.77Z" fill="#3fb449"/>
<path d="M66.24,637.30 L67.67,639.77 L64.81,639.77Z" fill="#3fb449"/>
<path d="M76.27,638.10 L77.70,640.57 L74.84,640.57Z" fill="#3fb449"/>
<path d="M86.29,594.41 L87.72,596.88 L84.86,596.88Z" fill="#3fb449"/>
<path d="M95.71,602.39 L97.14,604.86 L94.28,604.86Z" fill="#3fb449"/>
<path d="M105.74,606.38 L107.17,608.85 L104.31,608.85Z" fill="#3fb449"/>
<path d="M115.46,646.28 L116.89,648.75 L114.03,648.75Z" fill="#3fb449"/>
<path d="M125.04,645.68 L126.47,648.15 L123.61,648.15Z" fill="#3fb449"/>
<path d="M134.46,645.68 L135.89,648.15 L133.03,648.15Z" fill="#3fb449"/>
<line x1="27.65" y1="620.18" x2="27.65" y2="628.16" stroke="#c9203d" stroke-width="0.8"/>
<line x1="26.15" y1="620.18" x2="29.15" y2="620.18" stroke="#c9203d" stroke-width="0.8"/>
<line x1="26.15" y1="628.16" x2="29.15" y2="628.16" stroke="#c9203d" stroke-width="0.8"/>
<line x1="37.22" y1="622.17" x2="37.22" y2="630.15" stroke="#c9203d" stroke-width="0.8"/>
<line x1="35.72" y1="622.17" x2="38.72" y2="622.17" stroke="#c9203d" stroke-width="0.8"/>
<line x1="35.72" y1="630.15" x2="38.72" y2="630.15" stroke="#c9203d" stroke-width="0.8"/>
<line x1="46.94" y1="622.17" x2="46.94" y2="630.15" stroke="#c9203d" stroke-width="0.8"/>
<line x1="45.44" y1="622.17" x2="48.44" y2="622.17" stroke="#c9203d" stroke-width="0.8"/>
<line x1="45.44" y1="630.15" x2="48.44" y2="630.15" stroke="#c9203d" stroke-width="0.8"/>
<line x1="56.97" y1="633.94" x2="56.97" y2="643.92" stroke="#c9203d" stroke-width="0.8"/>
<line x1="55.47" y1="633.94" x2="58.47" y2="633.94" stroke="#c9203d" stroke-width="0.8"/>
<line x1="55.47" y1="643.92" x2="58.47" y2="643.92" stroke="#c9203d" stroke-width="0.8"/>
<line x1="66.24" y1="634.34" x2="66.24" y2="644.32" stroke="#c9203d" stroke-width="0.8"/>
<line x1="64.74" y1="634.34" x2="67.74" y2="634.34" stroke="#c9203d" stroke-width="0.8"/>
<line x1="64.74" y1="644.32" x2="67.74" y2="644.32" stroke="#c9203d" stroke-width="0.8"/>
<line x1="76.27" y1="635.14" x2="76.27" y2="645.12" stroke="#c9203d" stroke-width="0.8"/>
<line x1="74.77" y1="635.14" x2="77.77" y2="635.14" stroke="#c9203d" stroke-width="0.8"/>
<line x1="74.77" y1="645.12" x2="77.77" y2="645.12" stroke="#c9203d" stroke-width="0.8"/>
<line x1="86.29" y1="606.41" x2="86.29" y2="624.37" stroke="#c9203d" stroke-width="0.8"/>
<line x1="84.79" y1="606.41" x2="87.79" y2="606.41" stroke="#c9203d" stroke-width="0.8"/>
<line x1="84.79" y1="624.37" x2="87.79" y2="624.37" stroke="#c9203d" stroke-width="0.8"/>
<line x1="95.71" y1="610.20" x2="95.71" y2="626.16" stroke="#c9203d" stroke-width="0.8"/>
<line x1="94.21" y1="610.20" x2="97.21" y2="610.20" stroke="#c9203d" stroke-width="0.8"/>
<line x1="94.21" y1="626.16" x2="97.21" y2="626.16" stroke="#c9203d" stroke-width="0.8"/>
<line x1="105.74" y1="614.19" x2="105.74" y2="630.15" stroke="#c9203d" stroke-width="0.8"/>
<line x1="104.24" y1="614.19" x2="107.24" y2="614.19" stroke="#c9203d" stroke-width="0.8"/>
<line x1="104.24" y1="630.15" x2="107.24" y2="630.15" stroke="#c9203d" stroke-width="0.8"/>
<line x1="115.46" y1="643.72" x2="115.46" y2="651.70" stroke="#c9203d" stroke-width="0.8"/>
<line x1="113.96" y1="643.72" x2="116.96" y2="643.72" stroke="#c9203d" stroke-width="0.8"/>
<line x1="113.96" y1="651.70" x2="116.96" y2="651.70" stroke="#c9203d" stroke-width="0.8"/>
<line x1="125.04" y1="641.72" x2="125.04" y2="653.69" stroke="#c9203d" stroke-width="0.8"/>
<line x1="123.54" y1="641.72" x2="126.54" y2="641.72" stroke="#c9203d" stroke-width="0.8"/>
<line x1="123.54" y1="653.69" x2="126.54" y2="653.69" stroke="#c9203d" stroke-width="0.8"/>
<line x1="134.46" y1="641.72" x2="134.46" y2="653.69" stroke="#c9203d" stroke-width="0.8"/>
<line x1="132.96" y1="641.72" x2="135.96" y2="641.72" stroke="#c9203d" stroke-width="0.8"/>
<line x1="132.96" y1="653.69" x2="135.96" y2="653.69" stroke="#c9203d" stroke-width="0.8"/>
<polyline points="27.65,624.17 37.22,626.16 46.94,626.16 56.97,638.93 66.24,639.33 76.27,640.13 86.29,615.39 95.71,618.18 105.74,622.17 115.46,647.71 125.04,647.71 134.46,647.71" fill="none" stroke="#c9203d" stroke-width="1.3"/>
<rect x="25.85" y="622.37" width="3.60" height="3.60" fill="#c9203d"/>
<rect x="35.42" y="624.36" width="3.60" height="3.60" fill="#c9203d"/>
<rect x="45.14" y="624.36" width="3.60" height="3.60" fill="#c9203d"/>
<rect x="55.17" y="637.13" width="3.60" height="3.60" fill="#c9203d"/>
<rect x="64.44" y="637.53" width="3.60" height="3.60" fill="#c9203d"/>
<rect x="74.47" y="638.33" width="3.60" height="3.60" fill="#c9203d"/>
<rect x="84.49" y="613.59" width="3.60" height="3.60" fill="#c9203d"/>
<rect x="93.91" y="616.38" width="3.60" height="3.60" fill="#c9203d"/>
<rect x="103.94" y="620.37" width="3.60" height="3.60" fill="#c9203d"/>
<rect x="113.66" y="645.91" width="3.60" height="3.60" fill="#c9203d"/>
<rect x="123.24" y="645.91" width="3.60" height="3.60" fill="#c9203d"/>
<rect x="132.66" y="645.91" width="3.60" height="3.60" fill="#c9203d"/>
<line x1="27.65" y1="623.77" x2="27.65" y2="637.73" stroke="#1d5a9a" stroke-width="0.8"/>
<line x1="26.15" y1="623.77" x2="29.15" y2="623.77" stroke="#1d5a9a" stroke-width="0.8"/>
<line x1="26.15" y1="637.73" x2="29.15" y2="637.73" stroke="#1d5a9a" stroke-width="0.8"/>
<line x1="37.22" y1="624.97" x2="37.22" y2="638.93" stroke="#1d5a9a" stroke-width="0.8"/>
<line x1="35.72" y1="624.97" x2="38.72" y2="624.97" stroke="#1d5a9a" stroke-width="0.8"/>
<line x1="35.72" y1="638.93" x2="38.72" y2="638.93" stroke="#1d5a9a" stroke-width="0.8"/>
<line x1="46.94" y1="624.77" x2="46.94" y2="640.73" stroke="#1d5a9a" stroke-width="0.8"/>
<line x1="45.44" y1="624.77" x2="48.44" y2="624.77" stroke="#1d5a9a" stroke-width="0.8"/>
<line x1="45.44" y1="640.73" x2="48.44" y2="640.73" stroke="#1d5a9a" stroke-width="0.8"/>
<line x1="56.97" y1="640.33" x2="56.97" y2="648.31" stroke="#1d5a9a" stroke-width="0.8"/>
<line x1="55.47" y1="640.33" x2="58.47" y2="640.33" stroke="#1d5a9a" stroke-width="0.8"/>
<line x1="55.47" y1="648.31" x2="58.47" y2="648.31" stroke="#1d5a9a" stroke-width="0.8"/>
<line x1="66.24" y1="640.33" x2="66.24" y2="648.31" stroke="#1d5a9a" stroke-width="0.8"/>
<line x1="64.74" y1="640.33" x2="67.74" y2="640.33" stroke="#1d5a9a" stroke-width="0.8"/>
<line x1="64.74" y1="648.31" x2="67.74" y2="648.31" stroke="#1d5a9a" stroke-width="0.8"/>
<line x1="76.27" y1="641.13" x2="76.27" y2="649.11" stroke="#1d5a9a" stroke-width="0.8"/>
<line x1="74.77" y1="641.13" x2="77.77" y2="641.13" stroke="#1d5a9a" stroke-width="0.8"/>
<line x1="74.77" y1="649.11" x2="77.77" y2="649.11" stroke="#1d5a9a" stroke-width="0.8"/>
<line x1="86.29" y1="626.56" x2="86.29" y2="632.55" stroke="#1d5a9a" stroke-width="0.8"/>
<line x1="84.79" y1="626.56" x2="87.79" y2="626.56" stroke="#1d5a9a" stroke-width="0.8"/>
<line x1="84.79" y1="632.55" x2="87.79" y2="632.55" stroke="#1d5a9a" stroke-width="0.8"/>
<line x1="95.71" y1="632.55" x2="95.71" y2="636.54" stroke="#1d5a9a" stroke-width="0.8"/>
<line x1="94.21" y1="632.55" x2="97.21" y2="632.55" stroke="#1d5a9a" stroke-width="0.8"/>
<line x1="94.21" y1="636.54" x2="97.21" y2="636.54" stroke="#1d5a9a" stroke-width="0.8"/>
<line x1="105.74" y1="633.74" x2="105.74" y2="637.73" stroke="#1d5a9a" stroke-width="0.8"/>
<line x1="104.24" y1="633.74" x2="107.24" y2="633.74" stroke="#1d5a9a" stroke-width="0.8"/>
<line x1="104.24" y1="637.73" x2="107.24" y2="637.73" stroke="#1d5a9a" stroke-width="0.8"/>
<line x1="115.46" y1="646.91" x2="115.46" y2="650.90" stroke="#1d5a9a" stroke-width="0.8"/>
<line x1="113.96" y1="646.91" x2="116.96" y2="646.91" stroke="#1d5a9a" stroke-width="0.8"/>
<line x1="113.96" y1="650.90" x2="116.96" y2="650.90" stroke="#1d5a9a" stroke-width="0.8"/>
<line x1="125.04" y1="646.91" x2="125.04" y2="650.90" stroke="#1d5a9a" stroke-width="0.8"/>
<line x1="123.54" y1="646.91" x2="126.54" y2="646.91" stroke="#1d5a9a" stroke-width="0.8"/>
<line x1="123.54" y1="650.90" x2="126.54" y2="650.90" stroke="#1d5a9a" stroke-width="0.8"/>
<line x1="134.46" y1="647.31" x2="134.46" y2="651.30" stroke="#1d5a9a" stroke-width="0.8"/>
<line x1="132.96" y1="647.31" x2="135.96" y2="647.31" stroke="#1d5a9a" stroke-width="0.8"/>
<line x1="132.96" y1="651.30" x2="135.96" y2="651.30" stroke="#1d5a9a" stroke-width="0.8"/>
<polyline points="27.65,630.75 37.22,631.95 46.94,632.75 56.97,644.32 66.24,644.32 76.27,645.12 86.29,629.55 95.71,634.54 105.74,635.74 115.46,648.91 125.04,648.91 134.46,649.30" fill="none" stroke="#1d5a9a" stroke-width="1.4"/>
<circle cx="27.65" cy="630.75" r="1.7" fill="#1d5a9a"/>
<circle cx="37.22" cy="631.95" r="1.7" fill="#1d5a9a"/>
<circle cx="46.94" cy="632.75" r="1.7" fill="#1d5a9a"/>
<circle cx="56.97" cy="644.32" r="1.7" fill="#1d5a9a"/>
<circle cx="66.24" cy="644.32" r="1.7" fill="#1d5a9a"/>
<circle cx="76.27" cy="645.12" r="1.7" fill="#1d5a9a"/>
<circle cx="86.29" cy="629.55" r="1.7" fill="#1d5a9a"/>
<circle cx="95.71" cy="634.54" r="1.7" fill="#1d5a9a"/>
<circle cx="105.74" cy="635.74" r="1.7" fill="#1d5a9a"/>
<circle cx="115.46" cy="648.91" r="1.7" fill="#1d5a9a"/>
<circle cx="125.04" cy="648.91" r="1.7" fill="#1d5a9a"/>
<circle cx="134.46" cy="649.30" r="1.7" fill="#1d5a9a"/>
<line x1="114.00" y1="575.60" x2="121.90" y2="575.60" stroke="#1d5a9a" stroke-width="1.0"/>
<circle cx="117.90" cy="575.60" r="1.4" fill="#1d5a9a"/>
<text x="124.90" y="577.93" font-size="6.48" stroke="#333" stroke-width="0.22" fill="#333" textLength="8.40" lengthAdjust="spacingAndGlyphs">Ctrl</text>
<line x1="114.00" y1="584.90" x2="121.90" y2="584.90" stroke="#c9203d" stroke-width="1.0"/>
<rect x="116.50" y="583.50" width="2.80" height="2.80" fill="#c9203d"/>
<text x="124.90" y="587.23" font-size="6.48" stroke="#333" stroke-width="0.22" fill="#333" textLength="26.40" lengthAdjust="spacingAndGlyphs">NC shRNA</text>
<line x1="114.00" y1="594.10" x2="121.90" y2="594.10" stroke="#3fb449" stroke-width="1.0"/>
<path d="M117.90,592.56 L119.44,595.22 L116.36,595.22Z" fill="#3fb449"/>
<text x="124.90" y="596.43" font-size="6.48" stroke="#333" stroke-width="0.22" fill="#333" textLength="20.56" lengthAdjust="spacingAndGlyphs">NC+Dec</text>
<line x1="114.00" y1="603.30" x2="121.90" y2="603.30" stroke="#54287c" stroke-width="1.0"/>
<path d="M117.90,604.84 L119.44,602.18 L116.36,602.18Z" fill="#54287c"/>
<text x="124.90" y="605.63" font-size="6.48" stroke="#333" stroke-width="0.22" fill="#333" textLength="31.81" lengthAdjust="spacingAndGlyphs">LKB1 shRNA</text>
<line x1="114.00" y1="612.60" x2="121.90" y2="612.60" stroke="#f0a233" stroke-width="1.0"/>
<path d="M117.90,610.78 L119.72,612.60 L117.90,614.42 L116.08,612.60Z" fill="#f0a233"/>
<text x="124.90" y="614.93" font-size="6.48" stroke="#333" stroke-width="0.22" fill="#333" textLength="25.97" lengthAdjust="spacingAndGlyphs">LKB1+Dec</text>
<text x="167.00" y="527.60" font-size="10.80" stroke="#111" stroke-width="0.35" fill="#111" font-weight="bold">F</text>
<line x1="170.30" y1="534.60" x2="170.30" y2="670.20" stroke="#333" stroke-width="1.4"/>
<line x1="169.60" y1="669.60" x2="328.00" y2="669.60" stroke="#3a3a3a" stroke-width="1.5"/>
<line x1="198.10" y1="535.00" x2="198.10" y2="589.20" stroke="#222" stroke-width="0.9"/>
<line x1="197.70" y1="588.80" x2="248.80" y2="588.80" stroke="#222" stroke-width="0.9"/>
<line x1="195.30" y1="588.80" x2="198.10" y2="588.80" stroke="#222" stroke-width="0.7"/>
<text x="192.20" y="591.48" font-size="7.44" stroke="#333" stroke-width="0.22" text-anchor="end" fill="#333" textLength="3.45" lengthAdjust="spacingAndGlyphs">0</text>
<line x1="195.30" y1="571.83" x2="198.10" y2="571.83" stroke="#222" stroke-width="0.7"/>
<text x="192.20" y="574.51" font-size="7.44" stroke="#333" stroke-width="0.22" text-anchor="end" fill="#333" textLength="6.90" lengthAdjust="spacingAndGlyphs">10</text>
<line x1="195.30" y1="554.87" x2="198.10" y2="554.87" stroke="#222" stroke-width="0.7"/>
<text x="192.20" y="557.55" font-size="7.44" stroke="#333" stroke-width="0.22" text-anchor="end" fill="#333" textLength="6.90" lengthAdjust="spacingAndGlyphs">20</text>
<line x1="195.30" y1="537.90" x2="198.10" y2="537.90" stroke="#222" stroke-width="0.7"/>
<text x="192.20" y="540.58" font-size="7.44" stroke="#333" stroke-width="0.22" text-anchor="end" fill="#333" textLength="6.90" lengthAdjust="spacingAndGlyphs">30</text>
<rect x="201.70" y="571.83" width="5.80" height="16.97" fill="#8e9bc0"/>
<line x1="204.60" y1="576.92" x2="204.60" y2="566.74" stroke="#1d5a9a" stroke-width="0.8"/>
<line x1="202.80" y1="566.74" x2="206.40" y2="566.74" stroke="#1d5a9a" stroke-width="0.8"/>
<line x1="202.80" y1="576.92" x2="206.40" y2="576.92" stroke="#1d5a9a" stroke-width="0.8"/>
<circle cx="204.60" cy="566.74" r="0.85" fill="#1d5a9a"/>
<circle cx="203.10" cy="570.14" r="0.85" fill="#1d5a9a"/>
<circle cx="206.10" cy="572.68" r="0.85" fill="#1d5a9a"/>
<circle cx="204.60" cy="575.23" r="0.85" fill="#1d5a9a"/>
<circle cx="203.60" cy="576.92" r="0.85" fill="#1d5a9a"/>
<line x1="204.60" y1="588.80" x2="204.60" y2="590.80" stroke="#222" stroke-width="0.7"/>
<rect x="211.30" y="564.20" width="5.80" height="24.60" fill="#e68a7a"/>
<line x1="214.20" y1="570.99" x2="214.20" y2="557.41" stroke="#c9203d" stroke-width="0.8"/>
<line x1="212.40" y1="557.41" x2="216.00" y2="557.41" stroke="#c9203d" stroke-width="0.8"/>
<line x1="212.40" y1="570.99" x2="216.00" y2="570.99" stroke="#c9203d" stroke-width="0.8"/>
<rect x="213.35" y="554.02" width="1.70" height="1.70" fill="#c9203d"/>
<rect x="211.85" y="560.80" width="1.70" height="1.70" fill="#c9203d"/>
<rect x="214.85" y="564.20" width="1.70" height="1.70" fill="#c9203d"/>
<rect x="213.35" y="567.59" width="1.70" height="1.70" fill="#c9203d"/>
<rect x="214.35" y="569.29" width="1.70" height="1.70" fill="#c9203d"/>
<line x1="214.20" y1="588.80" x2="214.20" y2="590.80" stroke="#222" stroke-width="0.7"/>
<rect x="220.90" y="553.17" width="5.80" height="35.63" fill="#aed595"/>
<line x1="223.80" y1="559.96" x2="223.80" y2="546.38" stroke="#3fb449" stroke-width="0.8"/>
<line x1="222.00" y1="546.38" x2="225.60" y2="546.38" stroke="#3fb449" stroke-width="0.8"/>
<line x1="222.00" y1="559.96" x2="225.60" y2="559.96" stroke="#3fb449" stroke-width="0.8"/>
<path d="M223.80,545.45 L224.74,547.06 L222.87,547.06Z" fill="#3fb449"/>
<path d="M222.30,548.84 L223.24,550.46 L221.37,550.46Z" fill="#3fb449"/>
<path d="M225.30,553.93 L226.24,555.55 L224.37,555.55Z" fill="#3fb449"/>
<path d="M223.80,557.33 L224.74,558.94 L222.87,558.94Z" fill="#3fb449"/>
<path d="M224.80,559.02 L225.74,560.64 L223.87,560.64Z" fill="#3fb449"/>
<line x1="223.80" y1="588.80" x2="223.80" y2="590.80" stroke="#222" stroke-width="0.7"/>
<rect x="230.30" y="567.59" width="5.80" height="21.21" fill="#a586ae"/>
<line x1="233.20" y1="572.68" x2="233.20" y2="562.50" stroke="#54287c" stroke-width="0.8"/>
<line x1="231.40" y1="562.50" x2="235.00" y2="562.50" stroke="#54287c" stroke-width="0.8"/>
<line x1="231.40" y1="572.68" x2="235.00" y2="572.68" stroke="#54287c" stroke-width="0.8"/>
<path d="M233.20,561.74 L234.13,560.12 L232.26,560.12Z" fill="#54287c"/>
<path d="M232.20,565.98 L233.13,564.37 L231.26,564.37Z" fill="#54287c"/>
<path d="M234.20,569.37 L235.13,567.76 L233.26,567.76Z" fill="#54287c"/>
<path d="M233.20,572.77 L234.13,571.15 L232.26,571.15Z" fill="#54287c"/>
<line x1="233.20" y1="588.80" x2="233.20" y2="590.80" stroke="#222" stroke-width="0.7"/>
<rect x="239.80" y="567.59" width="5.80" height="21.21" fill="#f6c48a"/>
<line x1="242.70" y1="573.53" x2="242.70" y2="561.65" stroke="#f0a233" stroke-width="0.8"/>
<line x1="240.90" y1="561.65" x2="244.50" y2="561.65" stroke="#f0a233" stroke-width="0.8"/>
<line x1="240.90" y1="573.53" x2="244.50" y2="573.53" stroke="#f0a233" stroke-width="0.8"/>
<path d="M242.70,559.70 L243.80,560.80 L242.70,561.91 L241.59,560.80Z" fill="#f0a233"/>
<path d="M241.70,565.64 L242.80,566.74 L241.70,567.85 L240.59,566.74Z" fill="#f0a233"/>
<path d="M243.70,567.33 L244.80,568.44 L243.70,569.54 L242.59,568.44Z" fill="#f0a233"/>
<path d="M242.70,570.73 L243.80,571.83 L242.70,572.94 L241.59,571.83Z" fill="#f0a233"/>
<line x1="242.70" y1="588.80" x2="242.70" y2="590.80" stroke="#222" stroke-width="0.7"/>
<text x="180.60" y="561.80" font-size="7.40" stroke="#333" stroke-width="0.22" text-anchor="middle" fill="#333" transform="rotate(-90 180.60 561.80)" textLength="45.00" lengthAdjust="spacingAndGlyphs">Basal respiration</text>
<line x1="201.90" y1="533.50" x2="225.40" y2="533.50" stroke="#222" stroke-width="0.8"/>
<text x="213.65" y="532.70" font-size="8.00" stroke="#333" stroke-width="0.22" text-anchor="middle" fill="#333" textLength="5.20" lengthAdjust="spacingAndGlyphs">**</text>
<line x1="213.50" y1="543.00" x2="225.40" y2="543.00" stroke="#222" stroke-width="0.8"/>
<text x="219.45" y="542.20" font-size="8.00" stroke="#333" stroke-width="0.22" text-anchor="middle" fill="#333" textLength="2.70" lengthAdjust="spacingAndGlyphs">*</text>
<line x1="234.00" y1="543.00" x2="245.60" y2="543.00" stroke="#222" stroke-width="0.8"/>
<text x="239.80" y="540.60" font-size="7.40" stroke="#333" stroke-width="0.22" text-anchor="middle" fill="#333">ns</text>
<line x1="198.10" y1="608.50" x2="198.10" y2="662.30" stroke="#222" stroke-width="0.9"/>
<line x1="197.70" y1="661.90" x2="248.80" y2="661.90" stroke="#222" stroke-width="0.9"/>
<line x1="195.30" y1="661.90" x2="198.10" y2="661.90" stroke="#222" stroke-width="0.7"/>
<text x="192.20" y="664.58" font-size="7.44" stroke="#333" stroke-width="0.22" text-anchor="end" fill="#333" textLength="3.45" lengthAdjust="spacingAndGlyphs">0</text>
<line x1="195.30" y1="651.68" x2="198.10" y2="651.68" stroke="#222" stroke-width="0.7"/>
<text x="192.20" y="654.36" font-size="7.44" stroke="#333" stroke-width="0.22" text-anchor="end" fill="#333" textLength="3.45" lengthAdjust="spacingAndGlyphs">5</text>
<line x1="195.30" y1="641.46" x2="198.10" y2="641.46" stroke="#222" stroke-width="0.7"/>
<text x="192.20" y="644.14" font-size="7.44" stroke="#333" stroke-width="0.22" text-anchor="end" fill="#333" textLength="6.90" lengthAdjust="spacingAndGlyphs">10</text>
<line x1="195.30" y1="631.24" x2="198.10" y2="631.24" stroke="#222" stroke-width="0.7"/>
<text x="192.20" y="633.92" font-size="7.44" stroke="#333" stroke-width="0.22" text-anchor="end" fill="#333" textLength="6.90" lengthAdjust="spacingAndGlyphs">15</text>
<line x1="195.30" y1="621.02" x2="198.10" y2="621.02" stroke="#222" stroke-width="0.7"/>
<text x="192.20" y="623.70" font-size="7.44" stroke="#333" stroke-width="0.22" text-anchor="end" fill="#333" textLength="6.90" lengthAdjust="spacingAndGlyphs">20</text>
<line x1="195.30" y1="610.80" x2="198.10" y2="610.80" stroke="#222" stroke-width="0.7"/>
<text x="192.20" y="613.48" font-size="7.44" stroke="#333" stroke-width="0.22" text-anchor="end" fill="#333" textLength="6.90" lengthAdjust="spacingAndGlyphs">25</text>
<rect x="201.70" y="646.57" width="5.80" height="15.33" fill="#8e9bc0"/>
<line x1="204.60" y1="651.68" x2="204.60" y2="641.46" stroke="#1d5a9a" stroke-width="0.8"/>
<line x1="202.80" y1="641.46" x2="206.40" y2="641.46" stroke="#1d5a9a" stroke-width="0.8"/>
<line x1="202.80" y1="651.68" x2="206.40" y2="651.68" stroke="#1d5a9a" stroke-width="0.8"/>
<circle cx="204.60" cy="639.42" r="0.85" fill="#1d5a9a"/>
<circle cx="203.10" cy="644.53" r="0.85" fill="#1d5a9a"/>
<circle cx="206.10" cy="646.57" r="0.85" fill="#1d5a9a"/>
<circle cx="204.60" cy="649.64" r="0.85" fill="#1d5a9a"/>
<circle cx="203.60" cy="651.68" r="0.85" fill="#1d5a9a"/>
<line x1="204.60" y1="661.90" x2="204.60" y2="663.90" stroke="#222" stroke-width="0.7"/>
<rect x="211.30" y="640.44" width="5.80" height="21.46" fill="#e68a7a"/>
<line x1="214.20" y1="649.64" x2="214.20" y2="631.24" stroke="#c9203d" stroke-width="0.8"/>
<line x1="212.40" y1="631.24" x2="216.00" y2="631.24" stroke="#c9203d" stroke-width="0.8"/>
<line x1="212.40" y1="649.64" x2="216.00" y2="649.64" stroke="#c9203d" stroke-width="0.8"/>
<rect x="213.35" y="630.39" width="1.70" height="1.70" fill="#c9203d"/>
<rect x="211.85" y="636.52" width="1.70" height="1.70" fill="#c9203d"/>
<rect x="214.85" y="640.61" width="1.70" height="1.70" fill="#c9203d"/>
<rect x="213.35" y="644.70" width="1.70" height="1.70" fill="#c9203d"/>
<rect x="214.35" y="646.74" width="1.70" height="1.70" fill="#c9203d"/>
<line x1="214.20" y1="661.90" x2="214.20" y2="663.90" stroke="#222" stroke-width="0.7"/>
<rect x="220.90" y="629.20" width="5.80" height="32.70" fill="#aed595"/>
<line x1="223.80" y1="638.39" x2="223.80" y2="620.00" stroke="#3fb449" stroke-width="0.8"/>
<line x1="222.00" y1="620.00" x2="225.60" y2="620.00" stroke="#3fb449" stroke-width="0.8"/>
<line x1="222.00" y1="638.39" x2="225.60" y2="638.39" stroke="#3fb449" stroke-width="0.8"/>
<path d="M223.80,619.06 L224.74,620.68 L222.87,620.68Z" fill="#3fb449"/>
<path d="M222.30,624.17 L223.24,625.79 L221.37,625.79Z" fill="#3fb449"/>
<path d="M225.30,628.26 L226.24,629.88 L224.37,629.88Z" fill="#3fb449"/>
<path d="M223.80,634.39 L224.74,636.01 L222.87,636.01Z" fill="#3fb449"/>
<path d="M224.80,638.48 L225.74,640.10 L223.87,640.10Z" fill="#3fb449"/>
<line x1="223.80" y1="661.90" x2="223.80" y2="663.90" stroke="#222" stroke-width="0.7"/>
<rect x="230.30" y="643.50" width="5.80" height="18.40" fill="#a586ae"/>
<line x1="233.20" y1="647.59" x2="233.20" y2="639.42" stroke="#54287c" stroke-width="0.8"/>
<line x1="231.40" y1="639.42" x2="235.00" y2="639.42" stroke="#54287c" stroke-width="0.8"/>
<line x1="231.40" y1="647.59" x2="235.00" y2="647.59" stroke="#54287c" stroke-width="0.8"/>
<path d="M233.20,640.35 L234.13,638.74 L232.26,638.74Z" fill="#54287c"/>
<path d="M232.20,642.39 L233.13,640.78 L231.26,640.78Z" fill="#54287c"/>
<path d="M234.20,644.44 L235.13,642.82 L233.26,642.82Z" fill="#54287c"/>
<path d="M233.20,648.53 L234.13,646.91 L232.26,646.91Z" fill="#54287c"/>
<line x1="233.20" y1="661.90" x2="233.20" y2="663.90" stroke="#222" stroke-width="0.7"/>
<rect x="239.80" y="644.53" width="5.80" height="17.37" fill="#f6c48a"/>
<line x1="242.70" y1="651.68" x2="242.70" y2="637.37" stroke="#f0a233" stroke-width="0.8"/>
<line x1="240.90" y1="637.37" x2="244.50" y2="637.37" stroke="#f0a233" stroke-width="0.8"/>
<line x1="240.90" y1="651.68" x2="244.50" y2="651.68" stroke="#f0a233" stroke-width="0.8"/>
<path d="M242.70,636.27 L243.80,637.37 L242.70,638.48 L241.59,637.37Z" fill="#f0a233"/>
<path d="M241.70,640.35 L242.80,641.46 L241.70,642.56 L240.59,641.46Z" fill="#f0a233"/>
<path d="M243.70,644.44 L244.80,645.55 L243.70,646.65 L242.59,645.55Z" fill="#f0a233"/>
<path d="M242.70,650.57 L243.80,651.68 L242.70,652.78 L241.59,651.68Z" fill="#f0a233"/>
<line x1="242.70" y1="661.90" x2="242.70" y2="663.90" stroke="#222" stroke-width="0.7"/>
<text x="180.30" y="634.90" font-size="7.00" stroke="#333" stroke-width="0.22" text-anchor="middle" fill="#333" transform="rotate(-90 180.30 634.90)" textLength="39.40" lengthAdjust="spacingAndGlyphs">ATP production</text>
<line x1="201.90" y1="605.00" x2="225.40" y2="605.00" stroke="#222" stroke-width="0.8"/>
<text x="213.65" y="604.20" font-size="8.00" stroke="#333" stroke-width="0.22" text-anchor="middle" fill="#333" textLength="5.20" lengthAdjust="spacingAndGlyphs">**</text>
<line x1="213.50" y1="614.80" x2="225.40" y2="614.80" stroke="#222" stroke-width="0.8"/>
<text x="219.45" y="614.00" font-size="8.00" stroke="#333" stroke-width="0.22" text-anchor="middle" fill="#333" textLength="2.70" lengthAdjust="spacingAndGlyphs">*</text>
<line x1="234.00" y1="614.80" x2="245.60" y2="614.80" stroke="#222" stroke-width="0.8"/>
<text x="239.80" y="612.40" font-size="7.40" stroke="#333" stroke-width="0.22" text-anchor="middle" fill="#333">ns</text>
<line x1="276.80" y1="608.80" x2="276.80" y2="662.60" stroke="#222" stroke-width="0.9"/>
<line x1="276.40" y1="662.20" x2="327.00" y2="662.20" stroke="#222" stroke-width="0.9"/>
<line x1="274.00" y1="662.20" x2="276.80" y2="662.20" stroke="#222" stroke-width="0.7"/>
<text x="274.20" y="664.88" font-size="7.44" stroke="#333" stroke-width="0.22" text-anchor="end" fill="#333" textLength="3.45" lengthAdjust="spacingAndGlyphs">0</text>
<line x1="274.00" y1="649.43" x2="276.80" y2="649.43" stroke="#222" stroke-width="0.7"/>
<text x="274.20" y="652.10" font-size="7.44" stroke="#333" stroke-width="0.22" text-anchor="end" fill="#333" textLength="6.90" lengthAdjust="spacingAndGlyphs">10</text>
<line x1="274.00" y1="636.65" x2="276.80" y2="636.65" stroke="#222" stroke-width="0.7"/>
<text x="274.20" y="639.33" font-size="7.44" stroke="#333" stroke-width="0.22" text-anchor="end" fill="#333" textLength="6.90" lengthAdjust="spacingAndGlyphs">20</text>
<line x1="274.00" y1="623.88" x2="276.80" y2="623.88" stroke="#222" stroke-width="0.7"/>
<text x="274.20" y="626.55" font-size="7.44" stroke="#333" stroke-width="0.22" text-anchor="end" fill="#333" textLength="6.90" lengthAdjust="spacingAndGlyphs">30</text>
<line x1="274.00" y1="611.10" x2="276.80" y2="611.10" stroke="#222" stroke-width="0.7"/>
<text x="274.20" y="613.78" font-size="7.44" stroke="#333" stroke-width="0.22" text-anchor="end" fill="#333" textLength="6.90" lengthAdjust="spacingAndGlyphs">40</text>
<rect x="280.00" y="646.87" width="5.80" height="15.33" fill="#8e9bc0"/>
<line x1="282.90" y1="651.98" x2="282.90" y2="641.76" stroke="#1d5a9a" stroke-width="0.8"/>
<line x1="281.10" y1="641.76" x2="284.70" y2="641.76" stroke="#1d5a9a" stroke-width="0.8"/>
<line x1="281.10" y1="651.98" x2="284.70" y2="651.98" stroke="#1d5a9a" stroke-width="0.8"/>
<circle cx="282.90" cy="639.21" r="0.85" fill="#1d5a9a"/>
<circle cx="281.40" cy="645.59" r="0.85" fill="#1d5a9a"/>
<circle cx="284.40" cy="646.87" r="0.85" fill="#1d5a9a"/>
<circle cx="282.90" cy="649.43" r="0.85" fill="#1d5a9a"/>
<circle cx="281.90" cy="650.70" r="0.85" fill="#1d5a9a"/>
<line x1="282.90" y1="662.20" x2="282.90" y2="664.20" stroke="#222" stroke-width="0.7"/>
<rect x="289.70" y="639.84" width="5.80" height="22.36" fill="#e68a7a"/>
<line x1="292.60" y1="646.23" x2="292.60" y2="633.46" stroke="#c9203d" stroke-width="0.8"/>
<line x1="290.80" y1="633.46" x2="294.40" y2="633.46" stroke="#c9203d" stroke-width="0.8"/>
<line x1="290.80" y1="646.23" x2="294.40" y2="646.23" stroke="#c9203d" stroke-width="0.8"/>
<rect x="291.75" y="631.97" width="1.70" height="1.70" fill="#c9203d"/>
<rect x="290.25" y="635.80" width="1.70" height="1.70" fill="#c9203d"/>
<rect x="293.25" y="639.63" width="1.70" height="1.70" fill="#c9203d"/>
<rect x="291.75" y="642.19" width="1.70" height="1.70" fill="#c9203d"/>
<rect x="292.75" y="644.74" width="1.70" height="1.70" fill="#c9203d"/>
<line x1="292.60" y1="662.20" x2="292.60" y2="664.20" stroke="#222" stroke-width="0.7"/>
<rect x="299.60" y="628.99" width="5.80" height="33.22" fill="#aed595"/>
<line x1="302.50" y1="635.37" x2="302.50" y2="622.60" stroke="#3fb449" stroke-width="0.8"/>
<line x1="300.70" y1="622.60" x2="304.30" y2="622.60" stroke="#3fb449" stroke-width="0.8"/>
<line x1="300.70" y1="635.37" x2="304.30" y2="635.37" stroke="#3fb449" stroke-width="0.8"/>
<path d="M302.50,621.66 L303.44,623.28 L301.56,623.28Z" fill="#3fb449"/>
<path d="M301.00,626.77 L301.94,628.39 L300.06,628.39Z" fill="#3fb449"/>
<path d="M304.00,629.33 L304.94,630.94 L303.06,630.94Z" fill="#3fb449"/>
<path d="M302.50,630.61 L303.44,632.22 L301.56,632.22Z" fill="#3fb449"/>
<path d="M303.50,633.16 L304.44,634.77 L302.56,634.77Z" fill="#3fb449"/>
<line x1="302.50" y1="662.20" x2="302.50" y2="664.20" stroke="#222" stroke-width="0.7"/>
<rect x="309.10" y="644.32" width="5.80" height="17.88" fill="#a586ae"/>
<line x1="312.00" y1="648.79" x2="312.00" y2="639.84" stroke="#54287c" stroke-width="0.8"/>
<line x1="310.20" y1="639.84" x2="313.80" y2="639.84" stroke="#54287c" stroke-width="0.8"/>
<line x1="310.20" y1="648.79" x2="313.80" y2="648.79" stroke="#54287c" stroke-width="0.8"/>
<path d="M312.00,638.86 L312.94,637.25 L311.06,637.25Z" fill="#54287c"/>
<path d="M311.00,642.69 L311.94,641.08 L310.06,641.08Z" fill="#54287c"/>
<path d="M313.00,645.25 L313.94,643.64 L312.06,643.64Z" fill="#54287c"/>
<path d="M312.00,649.08 L312.94,647.47 L311.06,647.47Z" fill="#54287c"/>
<line x1="312.00" y1="662.20" x2="312.00" y2="664.20" stroke="#222" stroke-width="0.7"/>
<rect x="318.50" y="643.68" width="5.80" height="18.52" fill="#f6c48a"/>
<line x1="321.40" y1="648.15" x2="321.40" y2="639.21" stroke="#f0a233" stroke-width="0.8"/>
<line x1="319.60" y1="639.21" x2="323.20" y2="639.21" stroke="#f0a233" stroke-width="0.8"/>
<line x1="319.60" y1="648.15" x2="323.20" y2="648.15" stroke="#f0a233" stroke-width="0.8"/>
<path d="M322.40,631.71 L323.50,632.82 L322.40,633.92 L321.29,632.82Z" fill="#f0a233"/>
<path d="M320.40,635.55 L321.50,636.65 L320.40,637.76 L319.29,636.65Z" fill="#f0a233"/>
<path d="M322.40,641.93 L323.50,643.04 L322.40,644.14 L321.29,643.04Z" fill="#f0a233"/>
<path d="M321.40,648.32 L322.50,649.43 L321.40,650.53 L320.29,649.43Z" fill="#f0a233"/>
<line x1="321.40" y1="662.20" x2="321.40" y2="664.20" stroke="#222" stroke-width="0.7"/>
<text x="258.90" y="635.20" font-size="7.00" stroke="#333" stroke-width="0.22" text-anchor="middle" fill="#333" transform="rotate(-90 258.90 635.20)" textLength="52.80" lengthAdjust="spacingAndGlyphs">Maximal respiration</text>
<line x1="280.80" y1="605.40" x2="303.70" y2="605.40" stroke="#222" stroke-width="0.8"/>
<text x="292.25" y="604.60" font-size="8.00" stroke="#333" stroke-width="0.22" text-anchor="middle" fill="#333" textLength="7.70" lengthAdjust="spacingAndGlyphs">***</text>
<line x1="292.40" y1="614.90" x2="303.70" y2="614.90" stroke="#222" stroke-width="0.8"/>
<text x="298.05" y="614.10" font-size="8.00" stroke="#333" stroke-width="0.22" text-anchor="middle" fill="#333" textLength="5.20" lengthAdjust="spacingAndGlyphs">**</text>
<line x1="312.70" y1="614.90" x2="324.40" y2="614.90" stroke="#222" stroke-width="0.8"/>
<text x="318.55" y="612.50" font-size="7.40" stroke="#333" stroke-width="0.22" text-anchor="middle" fill="#333">ns</text>
<circle cx="269.40" cy="539.60" r="1.5" fill="#3f4a63"/>
<text x="276.50" y="542.17" font-size="7.13" stroke="#333" stroke-width="0.22" fill="#333" textLength="9.64" lengthAdjust="spacingAndGlyphs">Ctrl</text>
<rect x="267.90" y="547.90" width="3.00" height="3.00" fill="#c9203d"/>
<text x="276.50" y="551.97" font-size="7.13" stroke="#333" stroke-width="0.22" fill="#333" textLength="30.32" lengthAdjust="spacingAndGlyphs">NC shRNA</text>
<path d="M269.40,557.85 L271.05,560.70 L267.75,560.70Z" fill="#3fb449"/>
<text x="276.50" y="562.07" font-size="7.13" stroke="#333" stroke-width="0.22" fill="#333" textLength="23.60" lengthAdjust="spacingAndGlyphs">NC+Dec</text>
<path d="M269.40,571.15 L271.05,568.30 L267.75,568.30Z" fill="#54287c"/>
<text x="276.50" y="572.07" font-size="7.13" stroke="#333" stroke-width="0.22" fill="#333" textLength="36.53" lengthAdjust="spacingAndGlyphs">LKB1 shRNA</text>
<path d="M269.40,577.65 L271.35,579.60 L269.40,581.55 L267.45,579.60Z" fill="#f0a233"/>
<text x="276.50" y="582.17" font-size="7.13" stroke="#333" stroke-width="0.22" fill="#333" textLength="29.81" lengthAdjust="spacingAndGlyphs">LKB1+Dec</text>
<text x="328.20" y="489.00" font-size="10.80" stroke="#111" stroke-width="0.35" fill="#111" font-weight="bold">G</text>
<line x1="368.50" y1="503.80" x2="368.50" y2="557.70" stroke="#222" stroke-width="0.9"/>
<line x1="368.10" y1="557.30" x2="418.90" y2="557.30" stroke="#222" stroke-width="0.9"/>
<line x1="365.70" y1="557.30" x2="368.50" y2="557.30" stroke="#222" stroke-width="0.7"/>
<text x="363.20" y="559.95" font-size="7.36" stroke="#333" stroke-width="0.22" text-anchor="end" fill="#333" textLength="19.57" lengthAdjust="spacingAndGlyphs">0.0000</text>
<line x1="365.70" y1="544.42" x2="368.50" y2="544.42" stroke="#222" stroke-width="0.7"/>
<text x="363.20" y="547.07" font-size="7.36" stroke="#333" stroke-width="0.22" text-anchor="end" fill="#333" textLength="19.57" lengthAdjust="spacingAndGlyphs">0.0005</text>
<line x1="365.70" y1="531.55" x2="368.50" y2="531.55" stroke="#222" stroke-width="0.7"/>
<text x="363.20" y="534.20" font-size="7.36" stroke="#333" stroke-width="0.22" text-anchor="end" fill="#333" textLength="19.57" lengthAdjust="spacingAndGlyphs">0.0010</text>
<line x1="365.70" y1="518.67" x2="368.50" y2="518.67" stroke="#222" stroke-width="0.7"/>
<text x="363.20" y="521.32" font-size="7.36" stroke="#333" stroke-width="0.22" text-anchor="end" fill="#333" textLength="19.57" lengthAdjust="spacingAndGlyphs">0.0015</text>
<line x1="365.70" y1="505.80" x2="368.50" y2="505.80" stroke="#222" stroke-width="0.7"/>
<text x="363.20" y="508.45" font-size="7.36" stroke="#333" stroke-width="0.22" text-anchor="end" fill="#333" textLength="19.57" lengthAdjust="spacingAndGlyphs">0.0020</text>
<line x1="371.40" y1="537.99" x2="378.20" y2="537.99" stroke="#1d5a9a" stroke-width="0.9"/>
<line x1="374.80" y1="541.33" x2="374.80" y2="534.64" stroke="#1d5a9a" stroke-width="0.9"/>
<line x1="372.50" y1="541.33" x2="377.10" y2="541.33" stroke="#1d5a9a" stroke-width="0.9"/>
<line x1="372.50" y1="534.64" x2="377.10" y2="534.64" stroke="#1d5a9a" stroke-width="0.9"/>
<circle cx="374.80" cy="533.87" r="1.15" fill="#1d5a9a"/>
<circle cx="372.30" cy="537.73" r="1.15" fill="#1d5a9a"/>
<circle cx="377.30" cy="538.25" r="1.15" fill="#1d5a9a"/>
<circle cx="374.80" cy="540.30" r="1.15" fill="#1d5a9a"/>
<circle cx="375.30" cy="541.85" r="1.15" fill="#1d5a9a"/>
<line x1="374.80" y1="557.30" x2="374.80" y2="559.30" stroke="#222" stroke-width="0.7"/>
<line x1="381.00" y1="529.23" x2="387.80" y2="529.23" stroke="#c9203d" stroke-width="0.9"/>
<line x1="384.40" y1="534.12" x2="384.40" y2="524.34" stroke="#c9203d" stroke-width="0.9"/>
<line x1="382.10" y1="534.12" x2="386.70" y2="534.12" stroke="#c9203d" stroke-width="0.9"/>
<line x1="382.10" y1="524.34" x2="386.70" y2="524.34" stroke="#c9203d" stroke-width="0.9"/>
<circle cx="384.40" cy="524.34" r="1.15" fill="#c9203d"/>
<circle cx="381.90" cy="528.98" r="1.15" fill="#c9203d"/>
<circle cx="387.00" cy="528.98" r="1.15" fill="#c9203d"/>
<circle cx="384.40" cy="531.03" r="1.15" fill="#c9203d"/>
<circle cx="384.40" cy="536.96" r="1.15" fill="#c9203d"/>
<line x1="384.40" y1="557.30" x2="384.40" y2="559.30" stroke="#222" stroke-width="0.7"/>
<line x1="390.60" y1="519.96" x2="397.40" y2="519.96" stroke="#3fb449" stroke-width="0.9"/>
<line x1="394.00" y1="525.88" x2="394.00" y2="514.55" stroke="#3fb449" stroke-width="0.9"/>
<line x1="391.70" y1="525.88" x2="396.30" y2="525.88" stroke="#3fb449" stroke-width="0.9"/>
<line x1="391.70" y1="514.55" x2="396.30" y2="514.55" stroke="#3fb449" stroke-width="0.9"/>
<circle cx="394.00" cy="510.18" r="1.15" fill="#3fb449"/>
<circle cx="391.50" cy="518.67" r="1.15" fill="#3fb449"/>
<circle cx="396.50" cy="521.25" r="1.15" fill="#3fb449"/>
<circle cx="394.00" cy="524.34" r="1.15" fill="#3fb449"/>
<circle cx="393.00" cy="525.37" r="1.15" fill="#3fb449"/>
<line x1="394.00" y1="557.30" x2="394.00" y2="559.30" stroke="#222" stroke-width="0.7"/>
<line x1="400.30" y1="534.12" x2="407.10" y2="534.12" stroke="#54287c" stroke-width="0.9"/>
<line x1="403.70" y1="537.99" x2="403.70" y2="530.00" stroke="#54287c" stroke-width="0.9"/>
<line x1="401.40" y1="537.99" x2="406.00" y2="537.99" stroke="#54287c" stroke-width="0.9"/>
<line x1="401.40" y1="530.00" x2="406.00" y2="530.00" stroke="#54287c" stroke-width="0.9"/>
<circle cx="403.70" cy="529.23" r="1.15" fill="#54287c"/>
<circle cx="401.70" cy="532.32" r="1.15" fill="#54287c"/>
<circle cx="405.70" cy="534.12" r="1.15" fill="#54287c"/>
<circle cx="403.70" cy="535.93" r="1.15" fill="#54287c"/>
<circle cx="404.20" cy="538.50" r="1.15" fill="#54287c"/>
<line x1="403.70" y1="557.30" x2="403.70" y2="559.30" stroke="#222" stroke-width="0.7"/>
<line x1="409.90" y1="534.38" x2="416.70" y2="534.38" stroke="#f0a233" stroke-width="0.9"/>
<line x1="413.30" y1="540.30" x2="413.30" y2="528.20" stroke="#f0a233" stroke-width="0.9"/>
<line x1="411.00" y1="540.30" x2="415.60" y2="540.30" stroke="#f0a233" stroke-width="0.9"/>
<line x1="411.00" y1="528.20" x2="415.60" y2="528.20" stroke="#f0a233" stroke-width="0.9"/>
<circle cx="413.30" cy="524.08" r="1.15" fill="#f0a233"/>
<circle cx="411.80" cy="531.03" r="1.15" fill="#f0a233"/>
<circle cx="415.30" cy="533.61" r="1.15" fill="#f0a233"/>
<circle cx="413.30" cy="535.41" r="1.15" fill="#f0a233"/>
<circle cx="410.80" cy="536.70" r="1.15" fill="#f0a233"/>
<line x1="413.30" y1="557.30" x2="413.30" y2="559.30" stroke="#222" stroke-width="0.7"/>
<text x="376.50" y="565.50" font-size="6.30" stroke="#333" stroke-width="0.22" text-anchor="end" fill="#333" transform="rotate(-45 376.50 565.50)">Ctrl</text>
<text x="386.10" y="565.50" font-size="6.30" stroke="#333" stroke-width="0.22" text-anchor="end" fill="#333" transform="rotate(-45 386.10 565.50)">NC shRNA</text>
<text x="395.70" y="565.50" font-size="6.30" stroke="#333" stroke-width="0.22" text-anchor="end" fill="#333" transform="rotate(-45 395.70 565.50)">NC+Dec</text>
<text x="405.40" y="565.50" font-size="6.30" stroke="#333" stroke-width="0.22" text-anchor="end" fill="#333" transform="rotate(-45 405.40 565.50)">LKB1 shRNA</text>
<text x="415.00" y="565.50" font-size="6.30" stroke="#333" stroke-width="0.22" text-anchor="end" fill="#333" transform="rotate(-45 415.00 565.50)">LKB1+Dec</text>
<text x="327.60" y="530.30" font-size="7.40" stroke="#333" stroke-width="0.22" text-anchor="middle" fill="#333" transform="rotate(-90 327.60 530.30)" textLength="50.00" lengthAdjust="spacingAndGlyphs">Relative quantity</text>
<text x="338.00" y="530.30" font-size="7.40" stroke="#333" stroke-width="0.22" text-anchor="middle" fill="#333" transform="rotate(-90 338.00 530.30)" textLength="29.80" lengthAdjust="spacingAndGlyphs">of ACADM</text>
<line x1="371.00" y1="493.30" x2="394.00" y2="493.30" stroke="#222" stroke-width="0.8"/>
<text x="382.50" y="492.50" font-size="8.00" stroke="#333" stroke-width="0.22" text-anchor="middle" fill="#333" textLength="7.70" lengthAdjust="spacingAndGlyphs">***</text>
<line x1="383.50" y1="503.30" x2="394.00" y2="503.30" stroke="#222" stroke-width="0.8"/>
<text x="388.75" y="502.50" font-size="8.00" stroke="#333" stroke-width="0.22" text-anchor="middle" fill="#333" textLength="2.70" lengthAdjust="spacingAndGlyphs">*</text>
<line x1="403.00" y1="503.30" x2="414.60" y2="503.30" stroke="#222" stroke-width="0.8"/>
<text x="408.80" y="500.80" font-size="7.40" stroke="#333" stroke-width="0.22" text-anchor="middle" fill="#333">ns</text>
<text x="429.20" y="489.50" font-size="10.80" stroke="#111" stroke-width="0.35" fill="#111" font-weight="bold">H</text>
<line x1="469.00" y1="504.80" x2="469.00" y2="557.70" stroke="#222" stroke-width="0.9"/>
<line x1="468.60" y1="557.30" x2="519.50" y2="557.30" stroke="#222" stroke-width="0.9"/>
<line x1="466.20" y1="557.30" x2="469.00" y2="557.30" stroke="#222" stroke-width="0.7"/>
<text x="463.50" y="559.95" font-size="7.36" stroke="#333" stroke-width="0.22" text-anchor="end" fill="#333" textLength="16.01" lengthAdjust="spacingAndGlyphs">0.000</text>
<line x1="466.20" y1="544.65" x2="469.00" y2="544.65" stroke="#222" stroke-width="0.7"/>
<text x="463.50" y="547.30" font-size="7.36" stroke="#333" stroke-width="0.22" text-anchor="end" fill="#333" textLength="16.01" lengthAdjust="spacingAndGlyphs">0.002</text>
<line x1="466.20" y1="532.00" x2="469.00" y2="532.00" stroke="#222" stroke-width="0.7"/>
<text x="463.50" y="534.65" font-size="7.36" stroke="#333" stroke-width="0.22" text-anchor="end" fill="#333" textLength="16.01" lengthAdjust="spacingAndGlyphs">0.004</text>
<line x1="466.20" y1="519.35" x2="469.00" y2="519.35" stroke="#222" stroke-width="0.7"/>
<text x="463.50" y="522.00" font-size="7.36" stroke="#333" stroke-width="0.22" text-anchor="end" fill="#333" textLength="16.01" lengthAdjust="spacingAndGlyphs">0.006</text>
<line x1="466.20" y1="506.70" x2="469.00" y2="506.70" stroke="#222" stroke-width="0.7"/>
<text x="463.50" y="509.35" font-size="7.36" stroke="#333" stroke-width="0.22" text-anchor="end" fill="#333" textLength="16.01" lengthAdjust="spacingAndGlyphs">0.008</text>
<line x1="472.40" y1="536.43" x2="479.20" y2="536.43" stroke="#1d5a9a" stroke-width="0.9"/>
<line x1="475.80" y1="542.12" x2="475.80" y2="530.74" stroke="#1d5a9a" stroke-width="0.9"/>
<line x1="473.50" y1="542.12" x2="478.10" y2="542.12" stroke="#1d5a9a" stroke-width="0.9"/>
<line x1="473.50" y1="530.74" x2="478.10" y2="530.74" stroke="#1d5a9a" stroke-width="0.9"/>
<circle cx="475.80" cy="527.57" r="1.15" fill="#1d5a9a"/>
<circle cx="473.60" cy="535.16" r="1.15" fill="#1d5a9a"/>
<circle cx="478.00" cy="536.43" r="1.15" fill="#1d5a9a"/>
<circle cx="475.80" cy="540.86" r="1.15" fill="#1d5a9a"/>
<circle cx="475.80" cy="543.38" r="1.15" fill="#1d5a9a"/>
<line x1="475.80" y1="557.30" x2="475.80" y2="559.30" stroke="#222" stroke-width="0.7"/>
<line x1="481.60" y1="524.41" x2="488.40" y2="524.41" stroke="#c9203d" stroke-width="0.9"/>
<line x1="485.00" y1="535.16" x2="485.00" y2="514.29" stroke="#c9203d" stroke-width="0.9"/>
<line x1="482.70" y1="535.16" x2="487.30" y2="535.16" stroke="#c9203d" stroke-width="0.9"/>
<line x1="482.70" y1="514.29" x2="487.30" y2="514.29" stroke="#c9203d" stroke-width="0.9"/>
<circle cx="485.00" cy="509.23" r="1.15" fill="#c9203d"/>
<circle cx="482.80" cy="520.62" r="1.15" fill="#c9203d"/>
<circle cx="487.20" cy="524.41" r="1.15" fill="#c9203d"/>
<circle cx="485.00" cy="532.00" r="1.15" fill="#c9203d"/>
<circle cx="485.00" cy="537.69" r="1.15" fill="#c9203d"/>
<line x1="485.00" y1="557.30" x2="485.00" y2="559.30" stroke="#222" stroke-width="0.7"/>
<line x1="491.20" y1="521.88" x2="498.00" y2="521.88" stroke="#3fb449" stroke-width="0.9"/>
<line x1="494.60" y1="532.00" x2="494.60" y2="512.39" stroke="#3fb449" stroke-width="0.9"/>
<line x1="492.30" y1="532.00" x2="496.90" y2="532.00" stroke="#3fb449" stroke-width="0.9"/>
<line x1="492.30" y1="512.39" x2="496.90" y2="512.39" stroke="#3fb449" stroke-width="0.9"/>
<circle cx="494.60" cy="509.86" r="1.15" fill="#3fb449"/>
<circle cx="492.60" cy="517.45" r="1.15" fill="#3fb449"/>
<circle cx="496.60" cy="524.41" r="1.15" fill="#3fb449"/>
<circle cx="494.60" cy="532.00" r="1.15" fill="#3fb449"/>
<line x1="494.60" y1="557.30" x2="494.60" y2="559.30" stroke="#222" stroke-width="0.7"/>
<line x1="500.30" y1="530.74" x2="507.10" y2="530.74" stroke="#54287c" stroke-width="0.9"/>
<line x1="503.70" y1="537.06" x2="503.70" y2="523.78" stroke="#54287c" stroke-width="0.9"/>
<line x1="501.40" y1="537.06" x2="506.00" y2="537.06" stroke="#54287c" stroke-width="0.9"/>
<line x1="501.40" y1="523.78" x2="506.00" y2="523.78" stroke="#54287c" stroke-width="0.9"/>
<circle cx="503.70" cy="524.41" r="1.15" fill="#54287c"/>
<circle cx="501.70" cy="528.84" r="1.15" fill="#54287c"/>
<circle cx="505.70" cy="532.00" r="1.15" fill="#54287c"/>
<circle cx="503.70" cy="536.43" r="1.15" fill="#54287c"/>
<circle cx="503.70" cy="538.32" r="1.15" fill="#54287c"/>
<line x1="503.70" y1="557.30" x2="503.70" y2="559.30" stroke="#222" stroke-width="0.7"/>
<line x1="510.00" y1="531.37" x2="516.80" y2="531.37" stroke="#f0a233" stroke-width="0.9"/>
<line x1="513.40" y1="538.32" x2="513.40" y2="523.78" stroke="#f0a233" stroke-width="0.9"/>
<line x1="511.10" y1="538.32" x2="515.70" y2="538.32" stroke="#f0a233" stroke-width="0.9"/>
<line x1="511.10" y1="523.78" x2="515.70" y2="523.78" stroke="#f0a233" stroke-width="0.9"/>
<circle cx="513.40" cy="524.41" r="1.15" fill="#f0a233"/>
<circle cx="511.40" cy="528.84" r="1.15" fill="#f0a233"/>
<circle cx="515.40" cy="535.16" r="1.15" fill="#f0a233"/>
<circle cx="513.40" cy="541.49" r="1.15" fill="#f0a233"/>
<line x1="513.40" y1="557.30" x2="513.40" y2="559.30" stroke="#222" stroke-width="0.7"/>
<text x="477.50" y="565.50" font-size="6.30" stroke="#333" stroke-width="0.22" text-anchor="end" fill="#333" transform="rotate(-45 477.50 565.50)">Ctrl</text>
<text x="486.70" y="565.50" font-size="6.30" stroke="#333" stroke-width="0.22" text-anchor="end" fill="#333" transform="rotate(-45 486.70 565.50)">NC shRNA</text>
<text x="496.30" y="565.50" font-size="6.30" stroke="#333" stroke-width="0.22" text-anchor="end" fill="#333" transform="rotate(-45 496.30 565.50)">NC+Dec</text>
<text x="505.40" y="565.50" font-size="6.30" stroke="#333" stroke-width="0.22" text-anchor="end" fill="#333" transform="rotate(-45 505.40 565.50)">LKB1 shRNA</text>
<text x="515.10" y="565.50" font-size="6.30" stroke="#333" stroke-width="0.22" text-anchor="end" fill="#333" transform="rotate(-45 515.10 565.50)">LKB1+Dec</text>
<text x="431.70" y="530.50" font-size="7.40" stroke="#333" stroke-width="0.22" text-anchor="middle" fill="#333" transform="rotate(-90 431.70 530.50)" textLength="50.30" lengthAdjust="spacingAndGlyphs">Relative quantity</text>
<text x="441.60" y="531.00" font-size="7.40" stroke="#333" stroke-width="0.22" text-anchor="middle" fill="#333" transform="rotate(-90 441.60 531.00)" textLength="30.00" lengthAdjust="spacingAndGlyphs">of HADHA</text>
<line x1="474.80" y1="493.30" x2="497.90" y2="493.30" stroke="#222" stroke-width="0.8"/>
<text x="486.35" y="492.50" font-size="8.00" stroke="#333" stroke-width="0.22" text-anchor="middle" fill="#333" textLength="2.70" lengthAdjust="spacingAndGlyphs">*</text>
<line x1="484.40" y1="502.90" x2="496.00" y2="502.90" stroke="#222" stroke-width="0.8"/>
<text x="490.20" y="500.40" font-size="7.40" stroke="#333" stroke-width="0.22" text-anchor="middle" fill="#333">ns</text>
<line x1="505.00" y1="502.90" x2="516.20" y2="502.90" stroke="#222" stroke-width="0.8"/>
<text x="510.60" y="500.40" font-size="7.40" stroke="#333" stroke-width="0.22" text-anchor="middle" fill="#333">ns</text>
<text x="369.60" y="614.00" font-size="10.80" stroke="#111" stroke-width="0.35" fill="#111" font-weight="bold">I</text>
<line x1="427.60" y1="617.60" x2="427.60" y2="670.70" stroke="#222" stroke-width="0.9"/>
<line x1="427.20" y1="670.30" x2="477.70" y2="670.30" stroke="#222" stroke-width="0.9"/>
<line x1="424.80" y1="670.30" x2="427.60" y2="670.30" stroke="#222" stroke-width="0.7"/>
<text x="421.70" y="672.95" font-size="7.36" stroke="#333" stroke-width="0.22" text-anchor="end" fill="#333" textLength="23.13" lengthAdjust="spacingAndGlyphs">0.00000</text>
<line x1="424.80" y1="660.08" x2="427.60" y2="660.08" stroke="#222" stroke-width="0.7"/>
<text x="421.70" y="662.73" font-size="7.36" stroke="#333" stroke-width="0.22" text-anchor="end" fill="#333" textLength="23.13" lengthAdjust="spacingAndGlyphs">0.00002</text>
<line x1="424.80" y1="649.86" x2="427.60" y2="649.86" stroke="#222" stroke-width="0.7"/>
<text x="421.70" y="652.51" font-size="7.36" stroke="#333" stroke-width="0.22" text-anchor="end" fill="#333" textLength="23.13" lengthAdjust="spacingAndGlyphs">0.00004</text>
<line x1="424.80" y1="639.64" x2="427.60" y2="639.64" stroke="#222" stroke-width="0.7"/>
<text x="421.70" y="642.29" font-size="7.36" stroke="#333" stroke-width="0.22" text-anchor="end" fill="#333" textLength="23.13" lengthAdjust="spacingAndGlyphs">0.00006</text>
<line x1="424.80" y1="629.42" x2="427.60" y2="629.42" stroke="#222" stroke-width="0.7"/>
<text x="421.70" y="632.07" font-size="7.36" stroke="#333" stroke-width="0.22" text-anchor="end" fill="#333" textLength="23.13" lengthAdjust="spacingAndGlyphs">0.00008</text>
<line x1="424.80" y1="619.20" x2="427.60" y2="619.20" stroke="#222" stroke-width="0.7"/>
<text x="421.70" y="621.85" font-size="7.36" stroke="#333" stroke-width="0.22" text-anchor="end" fill="#333" textLength="23.13" lengthAdjust="spacingAndGlyphs">0.00010</text>
<line x1="430.40" y1="652.93" x2="437.20" y2="652.93" stroke="#1d5a9a" stroke-width="0.9"/>
<line x1="433.80" y1="660.08" x2="433.80" y2="645.77" stroke="#1d5a9a" stroke-width="0.9"/>
<line x1="431.50" y1="660.08" x2="436.10" y2="660.08" stroke="#1d5a9a" stroke-width="0.9"/>
<line x1="431.50" y1="645.77" x2="436.10" y2="645.77" stroke="#1d5a9a" stroke-width="0.9"/>
<circle cx="433.80" cy="645.77" r="1.15" fill="#1d5a9a"/>
<circle cx="431.80" cy="649.86" r="1.15" fill="#1d5a9a"/>
<circle cx="435.80" cy="651.90" r="1.15" fill="#1d5a9a"/>
<circle cx="433.80" cy="660.08" r="1.15" fill="#1d5a9a"/>
<circle cx="433.80" cy="666.72" r="1.15" fill="#1d5a9a"/>
<line x1="433.80" y1="670.30" x2="433.80" y2="672.30" stroke="#222" stroke-width="0.7"/>
<line x1="439.90" y1="643.22" x2="446.70" y2="643.22" stroke="#c9203d" stroke-width="0.9"/>
<line x1="443.30" y1="652.93" x2="443.30" y2="633.51" stroke="#c9203d" stroke-width="0.9"/>
<line x1="441.00" y1="652.93" x2="445.60" y2="652.93" stroke="#c9203d" stroke-width="0.9"/>
<line x1="441.00" y1="633.51" x2="445.60" y2="633.51" stroke="#c9203d" stroke-width="0.9"/>
<circle cx="443.30" cy="626.87" r="1.15" fill="#c9203d"/>
<circle cx="441.30" cy="642.20" r="1.15" fill="#c9203d"/>
<circle cx="445.30" cy="645.77" r="1.15" fill="#c9203d"/>
<circle cx="443.30" cy="647.30" r="1.15" fill="#c9203d"/>
<circle cx="443.30" cy="652.41" r="1.15" fill="#c9203d"/>
<line x1="443.30" y1="670.30" x2="443.30" y2="672.30" stroke="#222" stroke-width="0.7"/>
<line x1="449.60" y1="630.95" x2="456.40" y2="630.95" stroke="#3fb449" stroke-width="0.9"/>
<line x1="453.00" y1="635.55" x2="453.00" y2="626.35" stroke="#3fb449" stroke-width="0.9"/>
<line x1="450.70" y1="635.55" x2="455.30" y2="635.55" stroke="#3fb449" stroke-width="0.9"/>
<line x1="450.70" y1="626.35" x2="455.30" y2="626.35" stroke="#3fb449" stroke-width="0.9"/>
<circle cx="453.00" cy="625.33" r="1.15" fill="#3fb449"/>
<circle cx="451.00" cy="628.40" r="1.15" fill="#3fb449"/>
<circle cx="455.00" cy="630.44" r="1.15" fill="#3fb449"/>
<circle cx="453.00" cy="633.51" r="1.15" fill="#3fb449"/>
<circle cx="453.00" cy="635.55" r="1.15" fill="#3fb449"/>
<line x1="453.00" y1="670.30" x2="453.00" y2="672.30" stroke="#222" stroke-width="0.7"/>
<line x1="459.10" y1="648.33" x2="465.90" y2="648.33" stroke="#54287c" stroke-width="0.9"/>
<line x1="462.50" y1="657.01" x2="462.50" y2="639.64" stroke="#54287c" stroke-width="0.9"/>
<line x1="460.20" y1="657.01" x2="464.80" y2="657.01" stroke="#54287c" stroke-width="0.9"/>
<line x1="460.20" y1="639.64" x2="464.80" y2="639.64" stroke="#54287c" stroke-width="0.9"/>
<circle cx="462.50" cy="639.64" r="1.15" fill="#54287c"/>
<circle cx="460.50" cy="647.30" r="1.15" fill="#54287c"/>
<circle cx="464.50" cy="649.86" r="1.15" fill="#54287c"/>
<circle cx="462.50" cy="661.10" r="1.15" fill="#54287c"/>
<line x1="462.50" y1="670.30" x2="462.50" y2="672.30" stroke="#222" stroke-width="0.7"/>
<line x1="468.60" y1="647.30" x2="475.40" y2="647.30" stroke="#f0a233" stroke-width="0.9"/>
<line x1="472.00" y1="651.90" x2="472.00" y2="642.71" stroke="#f0a233" stroke-width="0.9"/>
<line x1="469.70" y1="651.90" x2="474.30" y2="651.90" stroke="#f0a233" stroke-width="0.9"/>
<line x1="469.70" y1="642.71" x2="474.30" y2="642.71" stroke="#f0a233" stroke-width="0.9"/>
<circle cx="472.00" cy="640.66" r="1.15" fill="#f0a233"/>
<circle cx="470.00" cy="644.75" r="1.15" fill="#f0a233"/>
<circle cx="474.00" cy="647.30" r="1.15" fill="#f0a233"/>
<circle cx="472.00" cy="649.86" r="1.15" fill="#f0a233"/>
<circle cx="472.00" cy="651.90" r="1.15" fill="#f0a233"/>
<line x1="472.00" y1="670.30" x2="472.00" y2="672.30" stroke="#222" stroke-width="0.7"/>
<text x="435.50" y="677.50" font-size="6.30" stroke="#333" stroke-width="0.22" text-anchor="end" fill="#333" transform="rotate(-45 435.50 677.50)">Ctrl</text>
<text x="445.00" y="677.50" font-size="6.30" stroke="#333" stroke-width="0.22" text-anchor="end" fill="#333" transform="rotate(-45 445.00 677.50)">NC shRNA</text>
<text x="454.70" y="677.50" font-size="6.30" stroke="#333" stroke-width="0.22" text-anchor="end" fill="#333" transform="rotate(-45 454.70 677.50)">NC+Dec</text>
<text x="464.20" y="677.50" font-size="6.30" stroke="#333" stroke-width="0.22" text-anchor="end" fill="#333" transform="rotate(-45 464.20 677.50)">LKB1 shRNA</text>
<text x="473.70" y="677.50" font-size="6.30" stroke="#333" stroke-width="0.22" text-anchor="end" fill="#333" transform="rotate(-45 473.70 677.50)">LKB1+Dec</text>
<text x="384.20" y="640.90" font-size="7.40" stroke="#333" stroke-width="0.22" text-anchor="middle" fill="#333" transform="rotate(-90 384.20 640.90)" textLength="50.20" lengthAdjust="spacingAndGlyphs">Relative quantity</text>
<text x="393.40" y="641.20" font-size="7.40" stroke="#333" stroke-width="0.22" text-anchor="middle" fill="#333" transform="rotate(-90 393.40 641.20)" textLength="29.00" lengthAdjust="spacingAndGlyphs">of PGC1β</text>
<line x1="430.40" y1="608.80" x2="453.50" y2="608.80" stroke="#222" stroke-width="0.8"/>
<text x="441.95" y="608.00" font-size="8.00" stroke="#333" stroke-width="0.22" text-anchor="middle" fill="#333" textLength="7.70" lengthAdjust="spacingAndGlyphs">***</text>
<line x1="441.90" y1="618.50" x2="453.50" y2="618.50" stroke="#222" stroke-width="0.8"/>
<text x="447.70" y="617.70" font-size="8.00" stroke="#333" stroke-width="0.22" text-anchor="middle" fill="#333" textLength="2.70" lengthAdjust="spacingAndGlyphs">*</text>
<line x1="462.70" y1="618.50" x2="474.20" y2="618.50" stroke="#222" stroke-width="0.8"/>
<text x="468.45" y="616.00" font-size="7.40" stroke="#333" stroke-width="0.22" text-anchor="middle" fill="#333">ns</text></svg>
</body></html>
